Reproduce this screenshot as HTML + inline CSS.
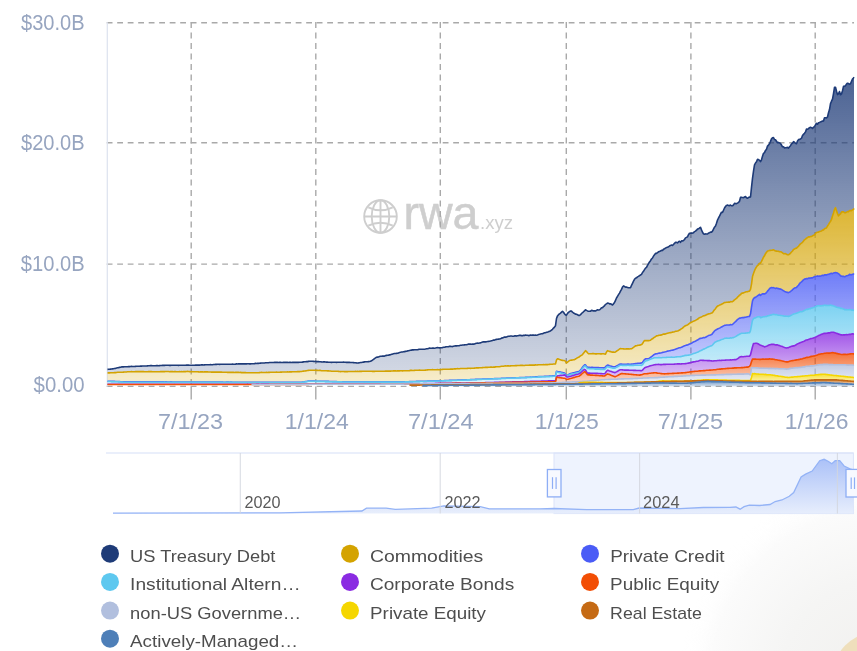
<!DOCTYPE html>
<html><head><meta charset="utf-8"><style>
html,body{margin:0;padding:0;width:857px;height:651px;overflow:hidden;background:#fff}
svg{display:block;font-family:"Liberation Sans",sans-serif;will-change:transform}
.yl{fill:#97a5c0;font-size:22px;text-anchor:end}
.xl{fill:#97a5c0;font-size:22.5px}
.lg{fill:#4e4e4e;font-size:17px}
.sy{fill:#5a5a5a;font-size:16px}
</style></head><body>
<svg width="857" height="651" viewBox="0 0 857 651">
<defs>
<radialGradient id="bgg" cx="880" cy="680" r="200" gradientUnits="userSpaceOnUse"><stop offset="0" stop-color="#f1f0ee"/><stop offset="0.5" stop-color="#f5f5f4"/><stop offset="0.85" stop-color="#fbfbfb"/><stop offset="1" stop-color="#fff" stop-opacity="0"/></radialGradient>
<linearGradient id="slg" x1="0" y1="0" x2="0" y2="1"><stop offset="0" stop-color="#a4bcf7"/><stop offset="1" stop-color="#e6edfc"/></linearGradient>
<linearGradient id="g0" x1="0" y1="0" x2="0" y2="1"><stop offset="0" stop-color="#1e3b78" stop-opacity="0.8"/><stop offset="1" stop-color="#1e3b78" stop-opacity="0.2"/></linearGradient>
<linearGradient id="g1" x1="0" y1="0" x2="0" y2="1"><stop offset="0" stop-color="#d4a300" stop-opacity="0.8"/><stop offset="1" stop-color="#d4a300" stop-opacity="0.2"/></linearGradient>
<linearGradient id="g2" x1="0" y1="0" x2="0" y2="1"><stop offset="0" stop-color="#4a5cf6" stop-opacity="0.8"/><stop offset="1" stop-color="#4a5cf6" stop-opacity="0.2"/></linearGradient>
<linearGradient id="g3" x1="0" y1="0" x2="0" y2="1"><stop offset="0" stop-color="#5ec8ef" stop-opacity="0.8"/><stop offset="1" stop-color="#5ec8ef" stop-opacity="0.2"/></linearGradient>
<linearGradient id="g4" x1="0" y1="0" x2="0" y2="1"><stop offset="0" stop-color="#8a2be2" stop-opacity="0.8"/><stop offset="1" stop-color="#8a2be2" stop-opacity="0.2"/></linearGradient>
<linearGradient id="g5" x1="0" y1="0" x2="0" y2="1"><stop offset="0" stop-color="#f24e05" stop-opacity="0.8"/><stop offset="1" stop-color="#f24e05" stop-opacity="0.2"/></linearGradient>
<linearGradient id="g6" x1="0" y1="0" x2="0" y2="1"><stop offset="0" stop-color="#b1bfde" stop-opacity="0.8"/><stop offset="1" stop-color="#b1bfde" stop-opacity="0.2"/></linearGradient>
<linearGradient id="g7" x1="0" y1="0" x2="0" y2="1"><stop offset="0" stop-color="#f5d600" stop-opacity="0.8"/><stop offset="1" stop-color="#f5d600" stop-opacity="0.2"/></linearGradient>
<linearGradient id="g8" x1="0" y1="0" x2="0" y2="1"><stop offset="0" stop-color="#c56a14" stop-opacity="0.8"/><stop offset="1" stop-color="#c56a14" stop-opacity="0.2"/></linearGradient>
<linearGradient id="g9" x1="0" y1="0" x2="0" y2="1"><stop offset="0" stop-color="#4e7fb8" stop-opacity="0.8"/><stop offset="1" stop-color="#4e7fb8" stop-opacity="0.2"/></linearGradient>
</defs>
<rect x="600" y="420" width="257" height="231" fill="url(#bgg)"/>
<circle cx="880" cy="680" r="49" fill="#efdfbc"/>
<!-- watermark -->
<g fill="none" stroke="#cecece" stroke-width="1.9">
<circle cx="380.5" cy="216.5" r="16.3"/>
<ellipse cx="380.5" cy="216.5" rx="8.8" ry="16.3"/>
<line x1="380.5" y1="200.2" x2="380.5" y2="232.8"/>
<line x1="364.2" y1="216.5" x2="396.8" y2="216.5"/>
<path d="M368.3 207.3 Q380.5 213.2 392.7 207.3 M368.3 225.7 Q380.5 219.8 392.7 225.7"/>
</g>
<text x="403.5" y="228.7" font-size="46" fill="#cecece" stroke="#cecece" stroke-width="0.5" textLength="75" lengthAdjust="spacingAndGlyphs">rwa</text>
<text x="480" y="228.7" font-size="19" fill="#cecece" textLength="33" lengthAdjust="spacingAndGlyphs">.xyz</text>
<!-- grid -->
<g stroke="#a9a9a9" stroke-width="1.4" stroke-dasharray="5.8 4.7"><line x1="106.7" y1="22.7" x2="854" y2="22.7"/><line x1="106.7" y1="142.7" x2="854" y2="142.7"/><line x1="106.7" y1="264.1" x2="854" y2="264.1"/><line x1="106.7" y1="386.4" x2="854" y2="386.4"/><line x1="191.2" y1="22.1" x2="191.2" y2="386.4"/><line x1="315.8" y1="22.1" x2="315.8" y2="386.4"/><line x1="440.3" y1="22.1" x2="440.3" y2="386.4"/><line x1="566.3" y1="22.1" x2="566.3" y2="386.4"/><line x1="690.9" y1="22.1" x2="690.9" y2="386.4"/><line x1="815.2" y1="22.1" x2="815.2" y2="386.4"/></g>
<line x1="107.3" y1="22.3" x2="107.3" y2="386.4" stroke="#dfe4f0" stroke-width="1.3"/>
<g stroke="#a9a9a9" stroke-width="1.4"><line x1="191.2" y1="386.4" x2="191.2" y2="399.6"/><line x1="315.8" y1="386.4" x2="315.8" y2="399.6"/><line x1="440.3" y1="386.4" x2="440.3" y2="399.6"/><line x1="566.3" y1="386.4" x2="566.3" y2="399.6"/><line x1="690.9" y1="386.4" x2="690.9" y2="399.6"/><line x1="815.2" y1="386.4" x2="815.2" y2="399.6"/></g>
<path d="M107.5 369.4 L108.5 369.3 L109.5 369.2 L110.5 369.1 L111.5 369 L112.5 368.9 L113.5 368.8 L114.5 368.5 L115.5 368.4 L116.5 368.1 L117.5 367.7 L118.5 367.6 L119.5 367.4 L120.5 367.2 L121.5 366.9 L122.5 366.9 L123.5 366.9 L124.5 366.8 L125.5 366.8 L126.5 366.8 L127.5 366.7 L128.5 366.6 L129.5 366.6 L130.5 366.5 L131.5 366.4 L132.5 366.5 L133.5 366.5 L134.5 366.5 L135.5 366.4 L136.5 366.3 L137.5 366.2 L138.5 366.3 L139.5 366.2 L140.5 366.1 L141.5 366.1 L142.5 366 L143.5 366 L144.5 366 L145.5 366 L146.5 366 L147.5 365.9 L148.5 365.8 L149.5 365.8 L150.5 365.6 L151.5 365.6 L152.5 365.8 L153.5 365.7 L154.5 365.7 L155.5 365.8 L156.5 365.6 L157.5 365.6 L158.5 365.7 L159.5 365.6 L160.5 365.5 L161.5 365.5 L162.5 365.4 L163.5 365.4 L164.5 365.4 L165.5 365.2 L166.5 365.3 L167.5 365.3 L168.5 365.3 L169.5 365.4 L170.5 365.4 L171.5 365.3 L172.5 365.3 L173.5 365.3 L174.5 365.2 L175.5 365.2 L176.5 365.3 L177.5 365.3 L178.5 365.4 L179.5 365.3 L180.5 365.3 L181.5 365.2 L182.5 365.2 L183.5 365.2 L184.5 365.3 L185.5 365.2 L186.5 365.1 L187.5 365 L188.5 365.1 L189.5 365.2 L190.5 365.3 L191.5 365.2 L192.5 365.3 L193.5 365.2 L194.5 365.2 L195.5 365.1 L196.5 365.1 L197.5 365.1 L198.5 365.1 L199.5 365.1 L200.5 365 L201.5 364.9 L202.5 364.8 L203.5 365 L204.5 364.9 L205.5 364.8 L206.5 364.8 L207.5 364.8 L208.5 364.8 L209.5 364.7 L210.5 364.6 L211.5 364.7 L212.5 364.7 L213.5 364.5 L214.5 364.5 L215.5 364.4 L216.5 364.4 L217.5 364.3 L218.5 364.3 L219.5 364.4 L220.5 364.2 L221.5 364.2 L222.5 364.3 L223.5 364.3 L224.5 364.3 L225.5 364.2 L226.5 364.2 L227.5 364.3 L228.5 364.3 L229.5 364.2 L230.5 364.3 L231.5 364.2 L232.5 364.1 L233.5 364.2 L234.5 364.2 L235.5 364.1 L236.5 363.9 L237.5 364 L238.5 363.9 L239.5 363.9 L240.5 363.9 L241.5 363.9 L242.5 363.9 L243.5 363.9 L244.5 363.8 L245.5 363.9 L246.5 363.9 L247.5 363.8 L248.5 363.8 L249.5 363.9 L250.5 363.9 L251.5 363.8 L252.5 363.8 L253.5 363.7 L254.5 363.6 L255.5 363.4 L256.5 363.5 L257.5 363.4 L258.5 363.4 L259.5 363.3 L260.5 363.1 L261.5 363 L262.5 363 L263.5 363 L264.5 363 L265.5 362.8 L266.5 362.7 L267.5 362.8 L268.5 362.7 L269.5 362.5 L270.5 362.5 L271.5 362.5 L272.5 362.5 L273.5 362.5 L274.5 362.4 L275.5 362.4 L276.5 362.3 L277.5 362.4 L278.5 362.5 L279.5 362.4 L280.5 362.4 L281.5 362.5 L282.5 362.5 L283.5 362.3 L284.5 362.4 L285.5 362.4 L286.5 362.4 L287.5 362.4 L288.5 362.5 L289.5 362.4 L290.5 362.4 L291.5 362.5 L292.5 362.4 L293.5 362.3 L294.5 362.4 L295.5 362.4 L296.5 362.4 L297.5 362.4 L298.5 362.4 L299.5 362.3 L300.5 362.3 L301.5 362.3 L302.5 362.1 L303.5 361.9 L304.5 361.8 L305.5 361.8 L306.5 361.6 L307.5 361.6 L308.5 361.4 L309.5 361.3 L310.5 361.3 L311.5 361.3 L312.5 361.3 L313.5 361.4 L314.5 361.5 L315.5 361.4 L316.5 361.6 L317.5 361.6 L318.5 361.6 L319.5 361.7 L320.5 361.7 L321.5 361.9 L322.5 362 L323.5 361.9 L324.5 361.9 L325.5 362 L326.5 362.1 L327.5 362.1 L328.5 362.2 L329.5 362.3 L330.5 362.2 L331.5 362.4 L332.5 362.2 L333.5 362.3 L334.5 362.3 L335.5 362.3 L336.5 362.4 L337.5 362.3 L338.5 362.3 L339.5 362.3 L340.5 362.3 L341.5 362.2 L342.5 362.2 L343.5 362.1 L344.5 362.2 L345.5 362.2 L346.5 362.4 L347.5 362.4 L348.5 362.4 L349.5 362.4 L350.5 362.5 L351.5 362.5 L352.5 362.5 L353.5 362.6 L354.5 362.8 L355.5 362.7 L356.5 362.9 L357.5 363 L358.5 362.9 L359.5 362.7 L360.5 362.5 L361.5 362.5 L362.5 362.3 L363.5 362.1 L364.5 361.9 L365.5 361.8 L366.5 361.8 L367.5 361.8 L368.5 361.6 L369.5 361.5 L370.5 361.3 L371.5 360.8 L372.5 360.1 L373.5 359.4 L374.5 358.6 L375.5 357.9 L376.5 357.3 L377.5 357.1 L378.5 357 L379.5 356.6 L380.5 356.3 L381.5 356.3 L382.5 356.1 L383.5 356 L384.5 356.1 L385.5 355.6 L386.5 355.4 L387.5 355.2 L388.5 355.1 L389.5 354.9 L390.5 354.7 L391.5 354.3 L392.5 354.1 L393.5 353.8 L394.5 353.5 L395.5 353.5 L396.5 353.4 L397.5 353.3 L398.5 352.9 L399.5 352.5 L400.5 352.3 L401.5 352 L402.5 352 L403.5 351.8 L404.5 351.6 L405.5 351.4 L406.5 351.3 L407.5 350.9 L408.5 350.7 L409.5 350.5 L410.5 350.3 L411.5 350.1 L412.5 349.9 L413.5 349.9 L414.5 349.8 L415.5 349.7 L416.5 349.8 L417.5 349.7 L418.5 349.4 L419.5 349.3 L420.5 349.3 L421.5 349.3 L422.5 349.2 L423.5 349.3 L424.5 349.2 L425.5 349 L426.5 348.7 L427.5 348.7 L428.5 348.4 L429.5 348.1 L430.5 348.3 L431.5 348.2 L432.5 348.1 L433.5 348.1 L434.5 348.2 L435.5 348 L436.5 347.7 L437.5 347.6 L438.5 347.8 L439.5 347.9 L440.5 347.7 L441.5 347.7 L442.5 347.6 L443.5 347.2 L444.5 347.3 L445.5 346.9 L446.5 346.8 L447.5 346.7 L448.5 346.7 L449.5 346.3 L450.5 346.4 L451.5 346.5 L452.5 346.6 L453.5 346.3 L454.5 346 L455.5 345.9 L456.5 345.9 L457.5 345.7 L458.5 345.8 L459.5 345.6 L460.5 345.3 L461.5 345.2 L462.5 345 L463.5 345 L464.5 344.9 L465.5 344.8 L466.5 344.7 L467.5 344.4 L468.5 344.1 L469.5 344.1 L470.5 344.1 L471.5 344.2 L472.5 344 L473.5 344.1 L474.5 344 L475.5 343.5 L476.5 343.2 L477.5 343.1 L478.5 343.2 L479.5 343 L480.5 342.9 L481.5 342.4 L482.5 342 L483.5 341.8 L484.5 341.9 L485.5 341.9 L486.5 341.7 L487.5 341.5 L488.5 341.4 L489.5 341.2 L490.5 341 L491.5 340.7 L492.5 340.5 L493.5 340.1 L494.5 340.1 L495.5 339.6 L496.5 339.4 L497.5 339.2 L498.5 339.1 L499.5 339 L500.5 338.8 L501.5 338.1 L502.5 337.9 L503.5 337.5 L504.5 337 L505.5 337.1 L506.5 337 L507.5 336.6 L508.5 336.3 L509.5 336.3 L510.5 336 L511.5 336 L512.5 336.2 L513.5 336.3 L514.5 335.9 L515.5 335.7 L516.5 336.1 L517.5 335.7 L518.5 335.6 L519.5 335.3 L520.5 335.4 L521.5 335.6 L522.5 335.8 L523.5 335.3 L524.5 335.4 L525.5 335.1 L526.5 335.3 L527.5 335.3 L528.5 335.6 L529.5 335.4 L530.5 335 L531.5 335.3 L532.5 335 L533.5 335.1 L534.5 335.3 L535.5 335.1 L536.5 335.2 L537.5 334.9 L538.5 334.5 L539.5 334.3 L540.5 334 L541.5 333.8 L542.5 333.7 L543.5 333.2 L544.5 332.8 L545.5 332.7 L546.5 332.3 L547.5 332.1 L548.5 331.8 L549.5 331.2 L550.5 330.9 L551.5 330.1 L552.5 329.3 L553.5 328.1 L554.5 327.1 L555.5 325.7 L556.5 318.5 L557.5 315.9 L558.5 314.7 L559.5 313.8 L560.5 313.1 L561.5 312.2 L562.5 311.3 L563.5 312.3 L564.5 313.8 L565.5 314.9 L566.5 315.1 L567.5 313.4 L568.5 312.4 L569.5 311.6 L570.5 311 L571.5 311.1 L572.5 312.2 L573.5 313 L574.5 313.5 L575.5 314.1 L576.5 314.3 L577.5 314.8 L578.5 315.4 L579.5 315.5 L580.5 314.7 L581.5 313.5 L582.5 312.7 L583.5 311.7 L584.5 310.9 L585.5 309.8 L586.5 310.4 L587.5 310.9 L588.5 311.3 L589.5 311.2 L590.5 311.2 L591.5 310.4 L592.5 310.6 L593.5 310.9 L594.5 310.8 L595.5 311 L596.5 310.4 L597.5 309.8 L598.5 310 L599.5 309.8 L600.5 309 L601.5 307.7 L602.5 307.8 L603.5 306.5 L604.5 305.8 L605.5 304.4 L606.5 303.9 L607.5 303.1 L608.5 303.2 L609.5 303.9 L610.5 303.8 L611.5 304.3 L612.5 305 L613.5 303.9 L614.5 302.5 L615.5 300.3 L616.5 298 L617.5 296.3 L618.5 294.6 L619.5 293.1 L620.5 291.2 L621.5 289.4 L622.5 287.1 L623.5 285.9 L624.5 286.5 L625.5 287.1 L626.5 287.1 L627.5 287.4 L628.5 287.7 L629.5 287.7 L630.5 287.7 L631.5 285.3 L632.5 283.3 L633.5 281.2 L634.5 279.3 L635.5 278.2 L636.5 277.8 L637.5 276.9 L638.5 276.4 L639.5 275.6 L640.5 275 L641.5 274.4 L642.5 272.5 L643.5 271.3 L644.5 269.7 L645.5 268.1 L646.5 267.4 L647.5 265.4 L648.5 263.7 L649.5 262 L650.5 260.7 L651.5 259 L652.5 258 L653.5 256.1 L654.5 254.7 L655.5 253.4 L656.5 253.4 L657.5 252.6 L658.5 251.8 L659.5 251.4 L660.5 251.1 L661.5 250.3 L662.5 250.5 L663.5 249.2 L664.5 248.7 L665.5 248.1 L666.5 247.5 L667.5 247.3 L668.5 246.8 L669.5 246 L670.5 245.4 L671.5 245.1 L672.5 245.4 L673.5 244.5 L674.5 243.3 L675.5 242.4 L676.5 242.4 L677.5 242.9 L678.5 241.7 L679.5 241.2 L680.5 242.3 L681.5 240.9 L682.5 241 L683.5 240.5 L684.5 239.5 L685.5 237.9 L686.5 237.4 L687.5 236.8 L688.5 234.7 L689.5 233.2 L690.5 233.2 L691.5 233.1 L692.5 233.1 L693.5 232.8 L694.5 231.6 L695.5 231.1 L696.5 230.2 L697.5 229.1 L698.5 228.8 L699.5 228 L700.5 227.3 L701.5 229.9 L702.5 232.2 L703.5 233.7 L704.5 234.3 L705.5 233.9 L706.5 234 L707.5 234 L708.5 233.1 L709.5 232.7 L710.5 232.1 L711.5 232.1 L712.5 231.1 L713.5 229.2 L714.5 227.2 L715.5 226 L716.5 223.2 L717.5 220.1 L718.5 218 L719.5 216.2 L720.5 214.2 L721.5 212.2 L722.5 212.5 L723.5 210.2 L724.5 208 L725.5 206.5 L726.5 205.4 L727.5 205.1 L728.5 205.4 L729.5 205.7 L730.5 205 L731.5 205.8 L732.5 205.8 L733.5 204.9 L734.5 203.3 L735.5 203.6 L736.5 203.6 L737.5 203.1 L738.5 202.4 L739.5 201.2 L740.5 197.4 L741.5 197.2 L742.5 197.5 L743.5 197.7 L744.5 197 L745.5 196.6 L746.5 197.8 L747.5 198.3 L748.5 197.5 L749.5 197.1 L750.5 197 L751.5 187.4 L752.5 178.3 L753.5 171.1 L754.5 164.9 L755.5 163 L756.5 161.8 L757.5 159.4 L758.5 159.5 L759.5 160.3 L760.5 161.6 L761.5 159.8 L762.5 156.3 L763.5 153.3 L764.5 152.6 L765.5 150.4 L766.5 149.2 L767.5 146.1 L768.5 145.1 L769.5 143.7 L770.5 141.4 L771.5 138.9 L772.5 137.8 L773.5 137.6 L774.5 139.5 L775.5 139.8 L776.5 141.2 L777.5 142.7 L778.5 142.4 L779.5 142.9 L780.5 143.5 L781.5 145 L782.5 146.8 L783.5 146.8 L784.5 147.9 L785.5 147.7 L786.5 147.6 L787.5 147.4 L788.5 148.1 L789.5 146.7 L790.5 145.7 L791.5 143.9 L792.5 143.3 L793.5 141.7 L794.5 142.3 L795.5 143.3 L796.5 143.7 L797.5 141 L798.5 139.6 L799.5 139.4 L800.5 139 L801.5 138.2 L802.5 135.5 L803.5 134.4 L804.5 133.3 L805.5 131.9 L806.5 129 L807.5 129.2 L808.5 128.6 L809.5 127.7 L810.5 127.3 L811.5 127.7 L812.5 128.4 L813.5 127.2 L814.5 126.6 L815.5 124.8 L816.5 123.3 L817.5 124.2 L818.5 122.7 L819.5 122.4 L820.5 121.9 L821.5 121.5 L822.5 121.1 L823.5 120.9 L824.5 117.7 L825.5 117.8 L826.5 117.9 L827.5 117 L828.5 112.8 L829.5 109.6 L830.5 103.6 L831.5 101.2 L832.5 99.1 L833.5 93.6 L834.5 87.4 L835.5 87.3 L836.5 91.2 L837.5 94.6 L838.5 93.9 L839.5 91.5 L840.5 94.8 L841.5 93.9 L842.5 90.8 L843.5 86.4 L844.5 86.2 L845.5 85.7 L846.5 84.1 L847.5 83.2 L848.5 83.6 L849.5 84.2 L850.5 83.8 L851.5 81.4 L852.5 79.1 L853.5 77.9 L854 77.1 L854 208.4 L853.5 209.3 L852.5 209.9 L851.5 210.6 L850.5 210.6 L849.5 210.6 L848.5 211.7 L847.5 211.6 L846.5 212.1 L845.5 212.7 L844.5 212.6 L843.5 211.9 L842.5 211.7 L841.5 212 L840.5 213.9 L839.5 214.7 L838.5 215.8 L837.5 213.6 L836.5 210.9 L835.5 207.7 L834.5 209.6 L833.5 213 L832.5 216.1 L831.5 219.3 L830.5 221.4 L829.5 222.8 L828.5 224.6 L827.5 226 L826.5 228 L825.5 228.2 L824.5 228.7 L823.5 229.9 L822.5 230.1 L821.5 231 L820.5 231.2 L819.5 231.5 L818.5 232.1 L817.5 232.2 L816.5 232.5 L815.5 233.5 L814.5 235 L813.5 235.3 L812.5 235.9 L811.5 236.5 L810.5 236.5 L809.5 236.9 L808.5 236.9 L807.5 237.7 L806.5 238.1 L805.5 239.1 L804.5 239.8 L803.5 241.1 L802.5 242.2 L801.5 243.2 L800.5 243.9 L799.5 244.9 L798.5 246.4 L797.5 247.1 L796.5 248.2 L795.5 248.4 L794.5 249 L793.5 249.5 L792.5 251 L791.5 252 L790.5 253.1 L789.5 254.1 L788.5 254.7 L787.5 254.7 L786.5 254.2 L785.5 253.6 L784.5 253.8 L783.5 253.6 L782.5 252.9 L781.5 252 L780.5 251.7 L779.5 251.8 L778.5 251.2 L777.5 251.3 L776.5 251.1 L775.5 251 L774.5 250.5 L773.5 249.7 L772.5 250.1 L771.5 250.3 L770.5 250.4 L769.5 250.4 L768.5 250.8 L767.5 251.1 L766.5 252.2 L765.5 253.7 L764.5 255.8 L763.5 257.2 L762.5 259.3 L761.5 261.4 L760.5 263.1 L759.5 263.3 L758.5 264.8 L757.5 265.5 L756.5 266.9 L755.5 268.5 L754.5 270.8 L753.5 273.6 L752.5 276.6 L751.5 284.1 L750.5 289.4 L749.5 291.2 L748.5 291.2 L747.5 291.7 L746.5 291.8 L745.5 292.1 L744.5 292.4 L743.5 292.9 L742.5 293.1 L741.5 293.3 L740.5 294.7 L739.5 295.1 L738.5 296.4 L737.5 297.2 L736.5 298.4 L735.5 299.1 L734.5 299.8 L733.5 300.9 L732.5 301.6 L731.5 301.8 L730.5 301.6 L729.5 302.2 L728.5 302 L727.5 302.2 L726.5 302.3 L725.5 302.5 L724.5 302.5 L723.5 303.1 L722.5 303.8 L721.5 304.2 L720.5 304.7 L719.5 305 L718.5 305.8 L717.5 306.1 L716.5 307.1 L715.5 308.7 L714.5 309.8 L713.5 311.1 L712.5 312.7 L711.5 313 L710.5 313.5 L709.5 313.7 L708.5 313.9 L707.5 314.2 L706.5 314.8 L705.5 315.3 L704.5 315.8 L703.5 315.8 L702.5 316.4 L701.5 316.9 L700.5 317.3 L699.5 317.7 L698.5 318.4 L697.5 319.3 L696.5 319.7 L695.5 320.5 L694.5 320.7 L693.5 321.2 L692.5 321.6 L691.5 322.3 L690.5 322.8 L689.5 323.3 L688.5 324.1 L687.5 325 L686.5 325.2 L685.5 325.7 L684.5 326.2 L683.5 327.2 L682.5 328.1 L681.5 328.7 L680.5 329.5 L679.5 330 L678.5 330.7 L677.5 331 L676.5 331.3 L675.5 331.3 L674.5 331.7 L673.5 332 L672.5 332.1 L671.5 332.5 L670.5 332.6 L669.5 332.8 L668.5 333 L667.5 333.2 L666.5 333.6 L665.5 333.9 L664.5 334.1 L663.5 334.1 L662.5 334.5 L661.5 334.9 L660.5 335.1 L659.5 335.3 L658.5 335.4 L657.5 335.7 L656.5 335.9 L655.5 336.6 L654.5 337.3 L653.5 337.9 L652.5 338.8 L651.5 339.3 L650.5 340.3 L649.5 340.5 L648.5 340.6 L647.5 340.6 L646.5 340.5 L645.5 340.6 L644.5 340.5 L643.5 341.9 L642.5 343.7 L641.5 344.6 L640.5 344.9 L639.5 345.1 L638.5 345.2 L637.5 345.4 L636.5 345.7 L635.5 345.9 L634.5 346.7 L633.5 347.4 L632.5 348.1 L631.5 348.8 L630.5 348.8 L629.5 349 L628.5 348.9 L627.5 348.9 L626.5 348.9 L625.5 349 L624.5 349 L623.5 348.9 L622.5 348.8 L621.5 348.7 L620.5 348.6 L619.5 349 L618.5 349.8 L617.5 350.5 L616.5 351.1 L615.5 352 L614.5 352.3 L613.5 352.1 L612.5 352.1 L611.5 352 L610.5 351.6 L609.5 351.4 L608.5 351.1 L607.5 350.6 L606.5 352 L605.5 354.1 L604.5 354 L603.5 353.8 L602.5 353.8 L601.5 353.9 L600.5 353.9 L599.5 353.8 L598.5 353.8 L597.5 353.8 L596.5 353.9 L595.5 353.9 L594.5 353.7 L593.5 353.6 L592.5 353.6 L591.5 353.7 L590.5 353.8 L589.5 353.7 L588.5 353.8 L587.5 352.8 L586.5 351.6 L585.5 350.7 L584.5 352 L583.5 353.3 L582.5 354.6 L581.5 355.3 L580.5 355.9 L579.5 356.7 L578.5 357.3 L577.5 357.7 L576.5 358.4 L575.5 359 L574.5 359.7 L573.5 359.8 L572.5 360 L571.5 360.1 L570.5 360.3 L569.5 360.5 L568.5 361.4 L567.5 362.1 L566.5 363 L565.5 361.3 L564.5 360.5 L563.5 360.5 L562.5 360.4 L561.5 360.3 L560.5 359.8 L559.5 359.5 L558.5 359 L557.5 358.8 L556.5 360 L555.5 363.9 L554.5 364 L553.5 364 L552.5 364.2 L551.5 364.3 L550.5 364.3 L549.5 364.4 L548.5 364.5 L547.5 364.6 L546.5 364.6 L545.5 364.6 L544.5 364.7 L543.5 364.6 L542.5 364.7 L541.5 364.7 L540.5 364.7 L539.5 364.7 L538.5 364.7 L537.5 364.9 L536.5 365 L535.5 364.9 L534.5 365.1 L533.5 365.1 L532.5 365.1 L531.5 365.1 L530.5 365 L529.5 365.1 L528.5 365.2 L527.5 365.3 L526.5 365.3 L525.5 365.3 L524.5 365.5 L523.5 365.5 L522.5 365.4 L521.5 365.4 L520.5 365.4 L519.5 365.5 L518.5 365.5 L517.5 365.5 L516.5 365.6 L515.5 365.5 L514.5 365.7 L513.5 365.8 L512.5 365.8 L511.5 365.8 L510.5 365.9 L509.5 366 L508.5 365.9 L507.5 365.9 L506.5 366 L505.5 365.9 L504.5 366 L503.5 366.2 L502.5 366.3 L501.5 366.3 L500.5 366.5 L499.5 366.7 L498.5 366.7 L497.5 366.7 L496.5 366.7 L495.5 366.9 L494.5 367.1 L493.5 367.1 L492.5 367.2 L491.5 367.1 L490.5 367.1 L489.5 367.2 L488.5 367.3 L487.5 367.4 L486.5 367.4 L485.5 367.4 L484.5 367.5 L483.5 367.5 L482.5 367.6 L481.5 367.7 L480.5 367.8 L479.5 367.8 L478.5 367.9 L477.5 367.9 L476.5 367.9 L475.5 368 L474.5 368.1 L473.5 368.2 L472.5 368.2 L471.5 368.3 L470.5 368.4 L469.5 368.3 L468.5 368.3 L467.5 368.4 L466.5 368.5 L465.5 368.5 L464.5 368.5 L463.5 368.5 L462.5 368.5 L461.5 368.5 L460.5 368.5 L459.5 368.7 L458.5 368.8 L457.5 368.6 L456.5 368.7 L455.5 368.9 L454.5 368.9 L453.5 369 L452.5 369.1 L451.5 369.1 L450.5 369.1 L449.5 369.2 L448.5 369.2 L447.5 369.2 L446.5 369.3 L445.5 369.2 L444.5 369.3 L443.5 369.3 L442.5 369.4 L441.5 369.5 L440.5 369.6 L439.5 369.7 L438.5 369.7 L437.5 369.5 L436.5 369.7 L435.5 369.7 L434.5 369.7 L433.5 369.7 L432.5 369.6 L431.5 369.7 L430.5 369.8 L429.5 369.7 L428.5 369.8 L427.5 369.9 L426.5 370 L425.5 370.1 L424.5 370.3 L423.5 370.2 L422.5 370.3 L421.5 370.2 L420.5 370.2 L419.5 370.1 L418.5 370.2 L417.5 370.3 L416.5 370.3 L415.5 370.3 L414.5 370.4 L413.5 370.5 L412.5 370.5 L411.5 370.4 L410.5 370.4 L409.5 370.6 L408.5 370.7 L407.5 370.7 L406.5 370.7 L405.5 370.7 L404.5 370.7 L403.5 370.8 L402.5 370.9 L401.5 370.7 L400.5 370.8 L399.5 370.9 L398.5 370.9 L397.5 370.9 L396.5 371 L395.5 370.9 L394.5 370.9 L393.5 370.9 L392.5 371 L391.5 371 L390.5 371.1 L389.5 371.1 L388.5 371.1 L387.5 371.1 L386.5 371.1 L385.5 371.1 L384.5 371.3 L383.5 371.3 L382.5 371.2 L381.5 371.3 L380.5 371.2 L379.5 371.2 L378.5 371.2 L377.5 371.3 L376.5 371.3 L375.5 371.3 L374.5 371.4 L373.5 371.3 L372.5 371.4 L371.5 371.3 L370.5 371.2 L369.5 371.3 L368.5 371.3 L367.5 371.3 L366.5 371.3 L365.5 371.2 L364.5 371.2 L363.5 371.3 L362.5 371.3 L361.5 371.4 L360.5 371.4 L359.5 371.4 L358.5 371.5 L357.5 371.4 L356.5 371.5 L355.5 371.4 L354.5 371.5 L353.5 371.5 L352.5 371.5 L351.5 371.5 L350.5 371.5 L349.5 371.5 L348.5 371.5 L347.5 371.6 L346.5 371.6 L345.5 371.5 L344.5 371.6 L343.5 371.5 L342.5 371.5 L341.5 371.5 L340.5 371.6 L339.5 371.5 L338.5 371.4 L337.5 371.3 L336.5 371.3 L335.5 371.2 L334.5 371.2 L333.5 371.2 L332.5 371.2 L331.5 371.2 L330.5 371 L329.5 371 L328.5 370.9 L327.5 370.9 L326.5 370.8 L325.5 370.8 L324.5 370.7 L323.5 370.7 L322.5 370.8 L321.5 370.7 L320.5 370.4 L319.5 370.4 L318.5 370.5 L317.5 370.4 L316.5 370.4 L315.5 370.3 L314.5 370.3 L313.5 370.3 L312.5 370.3 L311.5 370.3 L310.5 370.2 L309.5 370.3 L308.5 370.4 L307.5 370.5 L306.5 370.7 L305.5 370.9 L304.5 371 L303.5 371.1 L302.5 371.3 L301.5 371.5 L300.5 371.5 L299.5 371.6 L298.5 371.6 L297.5 371.6 L296.5 371.7 L295.5 371.8 L294.5 371.8 L293.5 371.8 L292.5 371.8 L291.5 371.9 L290.5 371.9 L289.5 371.9 L288.5 372 L287.5 371.9 L286.5 372 L285.5 372 L284.5 372 L283.5 372 L282.5 372 L281.5 372.1 L280.5 372.1 L279.5 372.2 L278.5 372.3 L277.5 372.2 L276.5 372.1 L275.5 372.2 L274.5 372.2 L273.5 372.3 L272.5 372.3 L271.5 372.3 L270.5 372.3 L269.5 372.4 L268.5 372.4 L267.5 372.5 L266.5 372.4 L265.5 372.5 L264.5 372.5 L263.5 372.5 L262.5 372.5 L261.5 372.4 L260.5 372.5 L259.5 372.6 L258.5 372.7 L257.5 372.7 L256.5 372.8 L255.5 372.7 L254.5 372.8 L253.5 372.8 L252.5 372.8 L251.5 372.8 L250.5 372.8 L249.5 372.8 L248.5 372.7 L247.5 372.7 L246.5 372.7 L245.5 372.6 L244.5 372.6 L243.5 372.6 L242.5 372.6 L241.5 372.6 L240.5 372.4 L239.5 372.5 L238.5 372.4 L237.5 372.4 L236.5 372.3 L235.5 372.4 L234.5 372.5 L233.5 372.4 L232.5 372.4 L231.5 372.3 L230.5 372.4 L229.5 372.4 L228.5 372.4 L227.5 372.4 L226.5 372.3 L225.5 372.2 L224.5 372.3 L223.5 372.3 L222.5 372.2 L221.5 372.1 L220.5 372 L219.5 372.1 L218.5 372.1 L217.5 372.1 L216.5 372.1 L215.5 372 L214.5 372.1 L213.5 372.1 L212.5 372.1 L211.5 372.1 L210.5 372 L209.5 372 L208.5 372 L207.5 371.9 L206.5 371.9 L205.5 371.9 L204.5 371.9 L203.5 372 L202.5 371.9 L201.5 371.9 L200.5 371.9 L199.5 372 L198.5 371.9 L197.5 371.8 L196.5 371.8 L195.5 371.8 L194.5 371.7 L193.5 371.7 L192.5 371.7 L191.5 371.6 L190.5 371.7 L189.5 371.6 L188.5 371.5 L187.5 371.4 L186.5 371.5 L185.5 371.6 L184.5 371.6 L183.5 371.6 L182.5 371.7 L181.5 371.6 L180.5 371.7 L179.5 371.6 L178.5 371.7 L177.5 371.7 L176.5 371.7 L175.5 371.6 L174.5 371.6 L173.5 371.7 L172.5 371.6 L171.5 371.6 L170.5 371.6 L169.5 371.7 L168.5 371.5 L167.5 371.5 L166.5 371.5 L165.5 371.5 L164.5 371.6 L163.5 371.6 L162.5 371.6 L161.5 371.6 L160.5 371.6 L159.5 371.7 L158.5 371.8 L157.5 371.7 L156.5 371.7 L155.5 371.7 L154.5 371.7 L153.5 371.7 L152.5 371.7 L151.5 371.6 L150.5 371.5 L149.5 371.6 L148.5 371.6 L147.5 371.7 L146.5 371.7 L145.5 371.7 L144.5 371.7 L143.5 371.6 L142.5 371.6 L141.5 371.6 L140.5 371.6 L139.5 371.6 L138.5 371.6 L137.5 371.5 L136.5 371.6 L135.5 371.6 L134.5 371.7 L133.5 371.7 L132.5 371.7 L131.5 371.6 L130.5 371.7 L129.5 371.8 L128.5 371.8 L127.5 371.8 L126.5 372 L125.5 372 L124.5 372 L123.5 372.1 L122.5 372.2 L121.5 372.2 L120.5 372.3 L119.5 372.3 L118.5 372.3 L117.5 372.3 L116.5 372.5 L115.5 372.6 L114.5 372.6 L113.5 372.7 L112.5 372.7 L111.5 372.8 L110.5 372.8 L109.5 372.9 L108.5 372.9 L107.5 373Z" fill="url(#g0)"/>
<path d="M107.5 369.4 L108.5 369.3 L109.5 369.2 L110.5 369.1 L111.5 369 L112.5 368.9 L113.5 368.8 L114.5 368.5 L115.5 368.4 L116.5 368.1 L117.5 367.7 L118.5 367.6 L119.5 367.4 L120.5 367.2 L121.5 366.9 L122.5 366.9 L123.5 366.9 L124.5 366.8 L125.5 366.8 L126.5 366.8 L127.5 366.7 L128.5 366.6 L129.5 366.6 L130.5 366.5 L131.5 366.4 L132.5 366.5 L133.5 366.5 L134.5 366.5 L135.5 366.4 L136.5 366.3 L137.5 366.2 L138.5 366.3 L139.5 366.2 L140.5 366.1 L141.5 366.1 L142.5 366 L143.5 366 L144.5 366 L145.5 366 L146.5 366 L147.5 365.9 L148.5 365.8 L149.5 365.8 L150.5 365.6 L151.5 365.6 L152.5 365.8 L153.5 365.7 L154.5 365.7 L155.5 365.8 L156.5 365.6 L157.5 365.6 L158.5 365.7 L159.5 365.6 L160.5 365.5 L161.5 365.5 L162.5 365.4 L163.5 365.4 L164.5 365.4 L165.5 365.2 L166.5 365.3 L167.5 365.3 L168.5 365.3 L169.5 365.4 L170.5 365.4 L171.5 365.3 L172.5 365.3 L173.5 365.3 L174.5 365.2 L175.5 365.2 L176.5 365.3 L177.5 365.3 L178.5 365.4 L179.5 365.3 L180.5 365.3 L181.5 365.2 L182.5 365.2 L183.5 365.2 L184.5 365.3 L185.5 365.2 L186.5 365.1 L187.5 365 L188.5 365.1 L189.5 365.2 L190.5 365.3 L191.5 365.2 L192.5 365.3 L193.5 365.2 L194.5 365.2 L195.5 365.1 L196.5 365.1 L197.5 365.1 L198.5 365.1 L199.5 365.1 L200.5 365 L201.5 364.9 L202.5 364.8 L203.5 365 L204.5 364.9 L205.5 364.8 L206.5 364.8 L207.5 364.8 L208.5 364.8 L209.5 364.7 L210.5 364.6 L211.5 364.7 L212.5 364.7 L213.5 364.5 L214.5 364.5 L215.5 364.4 L216.5 364.4 L217.5 364.3 L218.5 364.3 L219.5 364.4 L220.5 364.2 L221.5 364.2 L222.5 364.3 L223.5 364.3 L224.5 364.3 L225.5 364.2 L226.5 364.2 L227.5 364.3 L228.5 364.3 L229.5 364.2 L230.5 364.3 L231.5 364.2 L232.5 364.1 L233.5 364.2 L234.5 364.2 L235.5 364.1 L236.5 363.9 L237.5 364 L238.5 363.9 L239.5 363.9 L240.5 363.9 L241.5 363.9 L242.5 363.9 L243.5 363.9 L244.5 363.8 L245.5 363.9 L246.5 363.9 L247.5 363.8 L248.5 363.8 L249.5 363.9 L250.5 363.9 L251.5 363.8 L252.5 363.8 L253.5 363.7 L254.5 363.6 L255.5 363.4 L256.5 363.5 L257.5 363.4 L258.5 363.4 L259.5 363.3 L260.5 363.1 L261.5 363 L262.5 363 L263.5 363 L264.5 363 L265.5 362.8 L266.5 362.7 L267.5 362.8 L268.5 362.7 L269.5 362.5 L270.5 362.5 L271.5 362.5 L272.5 362.5 L273.5 362.5 L274.5 362.4 L275.5 362.4 L276.5 362.3 L277.5 362.4 L278.5 362.5 L279.5 362.4 L280.5 362.4 L281.5 362.5 L282.5 362.5 L283.5 362.3 L284.5 362.4 L285.5 362.4 L286.5 362.4 L287.5 362.4 L288.5 362.5 L289.5 362.4 L290.5 362.4 L291.5 362.5 L292.5 362.4 L293.5 362.3 L294.5 362.4 L295.5 362.4 L296.5 362.4 L297.5 362.4 L298.5 362.4 L299.5 362.3 L300.5 362.3 L301.5 362.3 L302.5 362.1 L303.5 361.9 L304.5 361.8 L305.5 361.8 L306.5 361.6 L307.5 361.6 L308.5 361.4 L309.5 361.3 L310.5 361.3 L311.5 361.3 L312.5 361.3 L313.5 361.4 L314.5 361.5 L315.5 361.4 L316.5 361.6 L317.5 361.6 L318.5 361.6 L319.5 361.7 L320.5 361.7 L321.5 361.9 L322.5 362 L323.5 361.9 L324.5 361.9 L325.5 362 L326.5 362.1 L327.5 362.1 L328.5 362.2 L329.5 362.3 L330.5 362.2 L331.5 362.4 L332.5 362.2 L333.5 362.3 L334.5 362.3 L335.5 362.3 L336.5 362.4 L337.5 362.3 L338.5 362.3 L339.5 362.3 L340.5 362.3 L341.5 362.2 L342.5 362.2 L343.5 362.1 L344.5 362.2 L345.5 362.2 L346.5 362.4 L347.5 362.4 L348.5 362.4 L349.5 362.4 L350.5 362.5 L351.5 362.5 L352.5 362.5 L353.5 362.6 L354.5 362.8 L355.5 362.7 L356.5 362.9 L357.5 363 L358.5 362.9 L359.5 362.7 L360.5 362.5 L361.5 362.5 L362.5 362.3 L363.5 362.1 L364.5 361.9 L365.5 361.8 L366.5 361.8 L367.5 361.8 L368.5 361.6 L369.5 361.5 L370.5 361.3 L371.5 360.8 L372.5 360.1 L373.5 359.4 L374.5 358.6 L375.5 357.9 L376.5 357.3 L377.5 357.1 L378.5 357 L379.5 356.6 L380.5 356.3 L381.5 356.3 L382.5 356.1 L383.5 356 L384.5 356.1 L385.5 355.6 L386.5 355.4 L387.5 355.2 L388.5 355.1 L389.5 354.9 L390.5 354.7 L391.5 354.3 L392.5 354.1 L393.5 353.8 L394.5 353.5 L395.5 353.5 L396.5 353.4 L397.5 353.3 L398.5 352.9 L399.5 352.5 L400.5 352.3 L401.5 352 L402.5 352 L403.5 351.8 L404.5 351.6 L405.5 351.4 L406.5 351.3 L407.5 350.9 L408.5 350.7 L409.5 350.5 L410.5 350.3 L411.5 350.1 L412.5 349.9 L413.5 349.9 L414.5 349.8 L415.5 349.7 L416.5 349.8 L417.5 349.7 L418.5 349.4 L419.5 349.3 L420.5 349.3 L421.5 349.3 L422.5 349.2 L423.5 349.3 L424.5 349.2 L425.5 349 L426.5 348.7 L427.5 348.7 L428.5 348.4 L429.5 348.1 L430.5 348.3 L431.5 348.2 L432.5 348.1 L433.5 348.1 L434.5 348.2 L435.5 348 L436.5 347.7 L437.5 347.6 L438.5 347.8 L439.5 347.9 L440.5 347.7 L441.5 347.7 L442.5 347.6 L443.5 347.2 L444.5 347.3 L445.5 346.9 L446.5 346.8 L447.5 346.7 L448.5 346.7 L449.5 346.3 L450.5 346.4 L451.5 346.5 L452.5 346.6 L453.5 346.3 L454.5 346 L455.5 345.9 L456.5 345.9 L457.5 345.7 L458.5 345.8 L459.5 345.6 L460.5 345.3 L461.5 345.2 L462.5 345 L463.5 345 L464.5 344.9 L465.5 344.8 L466.5 344.7 L467.5 344.4 L468.5 344.1 L469.5 344.1 L470.5 344.1 L471.5 344.2 L472.5 344 L473.5 344.1 L474.5 344 L475.5 343.5 L476.5 343.2 L477.5 343.1 L478.5 343.2 L479.5 343 L480.5 342.9 L481.5 342.4 L482.5 342 L483.5 341.8 L484.5 341.9 L485.5 341.9 L486.5 341.7 L487.5 341.5 L488.5 341.4 L489.5 341.2 L490.5 341 L491.5 340.7 L492.5 340.5 L493.5 340.1 L494.5 340.1 L495.5 339.6 L496.5 339.4 L497.5 339.2 L498.5 339.1 L499.5 339 L500.5 338.8 L501.5 338.1 L502.5 337.9 L503.5 337.5 L504.5 337 L505.5 337.1 L506.5 337 L507.5 336.6 L508.5 336.3 L509.5 336.3 L510.5 336 L511.5 336 L512.5 336.2 L513.5 336.3 L514.5 335.9 L515.5 335.7 L516.5 336.1 L517.5 335.7 L518.5 335.6 L519.5 335.3 L520.5 335.4 L521.5 335.6 L522.5 335.8 L523.5 335.3 L524.5 335.4 L525.5 335.1 L526.5 335.3 L527.5 335.3 L528.5 335.6 L529.5 335.4 L530.5 335 L531.5 335.3 L532.5 335 L533.5 335.1 L534.5 335.3 L535.5 335.1 L536.5 335.2 L537.5 334.9 L538.5 334.5 L539.5 334.3 L540.5 334 L541.5 333.8 L542.5 333.7 L543.5 333.2 L544.5 332.8 L545.5 332.7 L546.5 332.3 L547.5 332.1 L548.5 331.8 L549.5 331.2 L550.5 330.9 L551.5 330.1 L552.5 329.3 L553.5 328.1 L554.5 327.1 L555.5 325.7 L556.5 318.5 L557.5 315.9 L558.5 314.7 L559.5 313.8 L560.5 313.1 L561.5 312.2 L562.5 311.3 L563.5 312.3 L564.5 313.8 L565.5 314.9 L566.5 315.1 L567.5 313.4 L568.5 312.4 L569.5 311.6 L570.5 311 L571.5 311.1 L572.5 312.2 L573.5 313 L574.5 313.5 L575.5 314.1 L576.5 314.3 L577.5 314.8 L578.5 315.4 L579.5 315.5 L580.5 314.7 L581.5 313.5 L582.5 312.7 L583.5 311.7 L584.5 310.9 L585.5 309.8 L586.5 310.4 L587.5 310.9 L588.5 311.3 L589.5 311.2 L590.5 311.2 L591.5 310.4 L592.5 310.6 L593.5 310.9 L594.5 310.8 L595.5 311 L596.5 310.4 L597.5 309.8 L598.5 310 L599.5 309.8 L600.5 309 L601.5 307.7 L602.5 307.8 L603.5 306.5 L604.5 305.8 L605.5 304.4 L606.5 303.9 L607.5 303.1 L608.5 303.2 L609.5 303.9 L610.5 303.8 L611.5 304.3 L612.5 305 L613.5 303.9 L614.5 302.5 L615.5 300.3 L616.5 298 L617.5 296.3 L618.5 294.6 L619.5 293.1 L620.5 291.2 L621.5 289.4 L622.5 287.1 L623.5 285.9 L624.5 286.5 L625.5 287.1 L626.5 287.1 L627.5 287.4 L628.5 287.7 L629.5 287.7 L630.5 287.7 L631.5 285.3 L632.5 283.3 L633.5 281.2 L634.5 279.3 L635.5 278.2 L636.5 277.8 L637.5 276.9 L638.5 276.4 L639.5 275.6 L640.5 275 L641.5 274.4 L642.5 272.5 L643.5 271.3 L644.5 269.7 L645.5 268.1 L646.5 267.4 L647.5 265.4 L648.5 263.7 L649.5 262 L650.5 260.7 L651.5 259 L652.5 258 L653.5 256.1 L654.5 254.7 L655.5 253.4 L656.5 253.4 L657.5 252.6 L658.5 251.8 L659.5 251.4 L660.5 251.1 L661.5 250.3 L662.5 250.5 L663.5 249.2 L664.5 248.7 L665.5 248.1 L666.5 247.5 L667.5 247.3 L668.5 246.8 L669.5 246 L670.5 245.4 L671.5 245.1 L672.5 245.4 L673.5 244.5 L674.5 243.3 L675.5 242.4 L676.5 242.4 L677.5 242.9 L678.5 241.7 L679.5 241.2 L680.5 242.3 L681.5 240.9 L682.5 241 L683.5 240.5 L684.5 239.5 L685.5 237.9 L686.5 237.4 L687.5 236.8 L688.5 234.7 L689.5 233.2 L690.5 233.2 L691.5 233.1 L692.5 233.1 L693.5 232.8 L694.5 231.6 L695.5 231.1 L696.5 230.2 L697.5 229.1 L698.5 228.8 L699.5 228 L700.5 227.3 L701.5 229.9 L702.5 232.2 L703.5 233.7 L704.5 234.3 L705.5 233.9 L706.5 234 L707.5 234 L708.5 233.1 L709.5 232.7 L710.5 232.1 L711.5 232.1 L712.5 231.1 L713.5 229.2 L714.5 227.2 L715.5 226 L716.5 223.2 L717.5 220.1 L718.5 218 L719.5 216.2 L720.5 214.2 L721.5 212.2 L722.5 212.5 L723.5 210.2 L724.5 208 L725.5 206.5 L726.5 205.4 L727.5 205.1 L728.5 205.4 L729.5 205.7 L730.5 205 L731.5 205.8 L732.5 205.8 L733.5 204.9 L734.5 203.3 L735.5 203.6 L736.5 203.6 L737.5 203.1 L738.5 202.4 L739.5 201.2 L740.5 197.4 L741.5 197.2 L742.5 197.5 L743.5 197.7 L744.5 197 L745.5 196.6 L746.5 197.8 L747.5 198.3 L748.5 197.5 L749.5 197.1 L750.5 197 L751.5 187.4 L752.5 178.3 L753.5 171.1 L754.5 164.9 L755.5 163 L756.5 161.8 L757.5 159.4 L758.5 159.5 L759.5 160.3 L760.5 161.6 L761.5 159.8 L762.5 156.3 L763.5 153.3 L764.5 152.6 L765.5 150.4 L766.5 149.2 L767.5 146.1 L768.5 145.1 L769.5 143.7 L770.5 141.4 L771.5 138.9 L772.5 137.8 L773.5 137.6 L774.5 139.5 L775.5 139.8 L776.5 141.2 L777.5 142.7 L778.5 142.4 L779.5 142.9 L780.5 143.5 L781.5 145 L782.5 146.8 L783.5 146.8 L784.5 147.9 L785.5 147.7 L786.5 147.6 L787.5 147.4 L788.5 148.1 L789.5 146.7 L790.5 145.7 L791.5 143.9 L792.5 143.3 L793.5 141.7 L794.5 142.3 L795.5 143.3 L796.5 143.7 L797.5 141 L798.5 139.6 L799.5 139.4 L800.5 139 L801.5 138.2 L802.5 135.5 L803.5 134.4 L804.5 133.3 L805.5 131.9 L806.5 129 L807.5 129.2 L808.5 128.6 L809.5 127.7 L810.5 127.3 L811.5 127.7 L812.5 128.4 L813.5 127.2 L814.5 126.6 L815.5 124.8 L816.5 123.3 L817.5 124.2 L818.5 122.7 L819.5 122.4 L820.5 121.9 L821.5 121.5 L822.5 121.1 L823.5 120.9 L824.5 117.7 L825.5 117.8 L826.5 117.9 L827.5 117 L828.5 112.8 L829.5 109.6 L830.5 103.6 L831.5 101.2 L832.5 99.1 L833.5 93.6 L834.5 87.4 L835.5 87.3 L836.5 91.2 L837.5 94.6 L838.5 93.9 L839.5 91.5 L840.5 94.8 L841.5 93.9 L842.5 90.8 L843.5 86.4 L844.5 86.2 L845.5 85.7 L846.5 84.1 L847.5 83.2 L848.5 83.6 L849.5 84.2 L850.5 83.8 L851.5 81.4 L852.5 79.1 L853.5 77.9 L854 77.1" fill="none" stroke="#1e3b78" stroke-width="1.6" stroke-linejoin="round"/>
<path d="M107.5 373 L108.5 372.9 L109.5 372.9 L110.5 372.8 L111.5 372.8 L112.5 372.7 L113.5 372.7 L114.5 372.6 L115.5 372.6 L116.5 372.5 L117.5 372.3 L118.5 372.3 L119.5 372.3 L120.5 372.3 L121.5 372.2 L122.5 372.2 L123.5 372.1 L124.5 372 L125.5 372 L126.5 372 L127.5 371.8 L128.5 371.8 L129.5 371.8 L130.5 371.7 L131.5 371.6 L132.5 371.7 L133.5 371.7 L134.5 371.7 L135.5 371.6 L136.5 371.6 L137.5 371.5 L138.5 371.6 L139.5 371.6 L140.5 371.6 L141.5 371.6 L142.5 371.6 L143.5 371.6 L144.5 371.7 L145.5 371.7 L146.5 371.7 L147.5 371.7 L148.5 371.6 L149.5 371.6 L150.5 371.5 L151.5 371.6 L152.5 371.7 L153.5 371.7 L154.5 371.7 L155.5 371.7 L156.5 371.7 L157.5 371.7 L158.5 371.8 L159.5 371.7 L160.5 371.6 L161.5 371.6 L162.5 371.6 L163.5 371.6 L164.5 371.6 L165.5 371.5 L166.5 371.5 L167.5 371.5 L168.5 371.5 L169.5 371.7 L170.5 371.6 L171.5 371.6 L172.5 371.6 L173.5 371.7 L174.5 371.6 L175.5 371.6 L176.5 371.7 L177.5 371.7 L178.5 371.7 L179.5 371.6 L180.5 371.7 L181.5 371.6 L182.5 371.7 L183.5 371.6 L184.5 371.6 L185.5 371.6 L186.5 371.5 L187.5 371.4 L188.5 371.5 L189.5 371.6 L190.5 371.7 L191.5 371.6 L192.5 371.7 L193.5 371.7 L194.5 371.7 L195.5 371.8 L196.5 371.8 L197.5 371.8 L198.5 371.9 L199.5 372 L200.5 371.9 L201.5 371.9 L202.5 371.9 L203.5 372 L204.5 371.9 L205.5 371.9 L206.5 371.9 L207.5 371.9 L208.5 372 L209.5 372 L210.5 372 L211.5 372.1 L212.5 372.1 L213.5 372.1 L214.5 372.1 L215.5 372 L216.5 372.1 L217.5 372.1 L218.5 372.1 L219.5 372.1 L220.5 372 L221.5 372.1 L222.5 372.2 L223.5 372.3 L224.5 372.3 L225.5 372.2 L226.5 372.3 L227.5 372.4 L228.5 372.4 L229.5 372.4 L230.5 372.4 L231.5 372.3 L232.5 372.4 L233.5 372.4 L234.5 372.5 L235.5 372.4 L236.5 372.3 L237.5 372.4 L238.5 372.4 L239.5 372.5 L240.5 372.4 L241.5 372.6 L242.5 372.6 L243.5 372.6 L244.5 372.6 L245.5 372.6 L246.5 372.7 L247.5 372.7 L248.5 372.7 L249.5 372.8 L250.5 372.8 L251.5 372.8 L252.5 372.8 L253.5 372.8 L254.5 372.8 L255.5 372.7 L256.5 372.8 L257.5 372.7 L258.5 372.7 L259.5 372.6 L260.5 372.5 L261.5 372.4 L262.5 372.5 L263.5 372.5 L264.5 372.5 L265.5 372.5 L266.5 372.4 L267.5 372.5 L268.5 372.4 L269.5 372.4 L270.5 372.3 L271.5 372.3 L272.5 372.3 L273.5 372.3 L274.5 372.2 L275.5 372.2 L276.5 372.1 L277.5 372.2 L278.5 372.3 L279.5 372.2 L280.5 372.1 L281.5 372.1 L282.5 372 L283.5 372 L284.5 372 L285.5 372 L286.5 372 L287.5 371.9 L288.5 372 L289.5 371.9 L290.5 371.9 L291.5 371.9 L292.5 371.8 L293.5 371.8 L294.5 371.8 L295.5 371.8 L296.5 371.7 L297.5 371.6 L298.5 371.6 L299.5 371.6 L300.5 371.5 L301.5 371.5 L302.5 371.3 L303.5 371.1 L304.5 371 L305.5 370.9 L306.5 370.7 L307.5 370.5 L308.5 370.4 L309.5 370.3 L310.5 370.2 L311.5 370.3 L312.5 370.3 L313.5 370.3 L314.5 370.3 L315.5 370.3 L316.5 370.4 L317.5 370.4 L318.5 370.5 L319.5 370.4 L320.5 370.4 L321.5 370.7 L322.5 370.8 L323.5 370.7 L324.5 370.7 L325.5 370.8 L326.5 370.8 L327.5 370.9 L328.5 370.9 L329.5 371 L330.5 371 L331.5 371.2 L332.5 371.2 L333.5 371.2 L334.5 371.2 L335.5 371.2 L336.5 371.3 L337.5 371.3 L338.5 371.4 L339.5 371.5 L340.5 371.6 L341.5 371.5 L342.5 371.5 L343.5 371.5 L344.5 371.6 L345.5 371.5 L346.5 371.6 L347.5 371.6 L348.5 371.5 L349.5 371.5 L350.5 371.5 L351.5 371.5 L352.5 371.5 L353.5 371.5 L354.5 371.5 L355.5 371.4 L356.5 371.5 L357.5 371.4 L358.5 371.5 L359.5 371.4 L360.5 371.4 L361.5 371.4 L362.5 371.3 L363.5 371.3 L364.5 371.2 L365.5 371.2 L366.5 371.3 L367.5 371.3 L368.5 371.3 L369.5 371.3 L370.5 371.2 L371.5 371.3 L372.5 371.4 L373.5 371.3 L374.5 371.4 L375.5 371.3 L376.5 371.3 L377.5 371.3 L378.5 371.2 L379.5 371.2 L380.5 371.2 L381.5 371.3 L382.5 371.2 L383.5 371.3 L384.5 371.3 L385.5 371.1 L386.5 371.1 L387.5 371.1 L388.5 371.1 L389.5 371.1 L390.5 371.1 L391.5 371 L392.5 371 L393.5 370.9 L394.5 370.9 L395.5 370.9 L396.5 371 L397.5 370.9 L398.5 370.9 L399.5 370.9 L400.5 370.8 L401.5 370.7 L402.5 370.9 L403.5 370.8 L404.5 370.7 L405.5 370.7 L406.5 370.7 L407.5 370.7 L408.5 370.7 L409.5 370.6 L410.5 370.4 L411.5 370.4 L412.5 370.5 L413.5 370.5 L414.5 370.4 L415.5 370.3 L416.5 370.3 L417.5 370.3 L418.5 370.2 L419.5 370.1 L420.5 370.2 L421.5 370.2 L422.5 370.3 L423.5 370.2 L424.5 370.3 L425.5 370.1 L426.5 370 L427.5 369.9 L428.5 369.8 L429.5 369.7 L430.5 369.8 L431.5 369.7 L432.5 369.6 L433.5 369.7 L434.5 369.7 L435.5 369.7 L436.5 369.7 L437.5 369.5 L438.5 369.7 L439.5 369.7 L440.5 369.6 L441.5 369.5 L442.5 369.4 L443.5 369.3 L444.5 369.3 L445.5 369.2 L446.5 369.3 L447.5 369.2 L448.5 369.2 L449.5 369.2 L450.5 369.1 L451.5 369.1 L452.5 369.1 L453.5 369 L454.5 368.9 L455.5 368.9 L456.5 368.7 L457.5 368.6 L458.5 368.8 L459.5 368.7 L460.5 368.5 L461.5 368.5 L462.5 368.5 L463.5 368.5 L464.5 368.5 L465.5 368.5 L466.5 368.5 L467.5 368.4 L468.5 368.3 L469.5 368.3 L470.5 368.4 L471.5 368.3 L472.5 368.2 L473.5 368.2 L474.5 368.1 L475.5 368 L476.5 367.9 L477.5 367.9 L478.5 367.9 L479.5 367.8 L480.5 367.8 L481.5 367.7 L482.5 367.6 L483.5 367.5 L484.5 367.5 L485.5 367.4 L486.5 367.4 L487.5 367.4 L488.5 367.3 L489.5 367.2 L490.5 367.1 L491.5 367.1 L492.5 367.2 L493.5 367.1 L494.5 367.1 L495.5 366.9 L496.5 366.7 L497.5 366.7 L498.5 366.7 L499.5 366.7 L500.5 366.5 L501.5 366.3 L502.5 366.3 L503.5 366.2 L504.5 366 L505.5 365.9 L506.5 366 L507.5 365.9 L508.5 365.9 L509.5 366 L510.5 365.9 L511.5 365.8 L512.5 365.8 L513.5 365.8 L514.5 365.7 L515.5 365.5 L516.5 365.6 L517.5 365.5 L518.5 365.5 L519.5 365.5 L520.5 365.4 L521.5 365.4 L522.5 365.4 L523.5 365.5 L524.5 365.5 L525.5 365.3 L526.5 365.3 L527.5 365.3 L528.5 365.2 L529.5 365.1 L530.5 365 L531.5 365.1 L532.5 365.1 L533.5 365.1 L534.5 365.1 L535.5 364.9 L536.5 365 L537.5 364.9 L538.5 364.7 L539.5 364.7 L540.5 364.7 L541.5 364.7 L542.5 364.7 L543.5 364.6 L544.5 364.7 L545.5 364.6 L546.5 364.6 L547.5 364.6 L548.5 364.5 L549.5 364.4 L550.5 364.3 L551.5 364.3 L552.5 364.2 L553.5 364 L554.5 364 L555.5 363.9 L556.5 360 L557.5 358.8 L558.5 359 L559.5 359.5 L560.5 359.8 L561.5 360.3 L562.5 360.4 L563.5 360.5 L564.5 360.5 L565.5 361.3 L566.5 363 L567.5 362.1 L568.5 361.4 L569.5 360.5 L570.5 360.3 L571.5 360.1 L572.5 360 L573.5 359.8 L574.5 359.7 L575.5 359 L576.5 358.4 L577.5 357.7 L578.5 357.3 L579.5 356.7 L580.5 355.9 L581.5 355.3 L582.5 354.6 L583.5 353.3 L584.5 352 L585.5 350.7 L586.5 351.6 L587.5 352.8 L588.5 353.8 L589.5 353.7 L590.5 353.8 L591.5 353.7 L592.5 353.6 L593.5 353.6 L594.5 353.7 L595.5 353.9 L596.5 353.9 L597.5 353.8 L598.5 353.8 L599.5 353.8 L600.5 353.9 L601.5 353.9 L602.5 353.8 L603.5 353.8 L604.5 354 L605.5 354.1 L606.5 352 L607.5 350.6 L608.5 351.1 L609.5 351.4 L610.5 351.6 L611.5 352 L612.5 352.1 L613.5 352.1 L614.5 352.3 L615.5 352 L616.5 351.1 L617.5 350.5 L618.5 349.8 L619.5 349 L620.5 348.6 L621.5 348.7 L622.5 348.8 L623.5 348.9 L624.5 349 L625.5 349 L626.5 348.9 L627.5 348.9 L628.5 348.9 L629.5 349 L630.5 348.8 L631.5 348.8 L632.5 348.1 L633.5 347.4 L634.5 346.7 L635.5 345.9 L636.5 345.7 L637.5 345.4 L638.5 345.2 L639.5 345.1 L640.5 344.9 L641.5 344.6 L642.5 343.7 L643.5 341.9 L644.5 340.5 L645.5 340.6 L646.5 340.5 L647.5 340.6 L648.5 340.6 L649.5 340.5 L650.5 340.3 L651.5 339.3 L652.5 338.8 L653.5 337.9 L654.5 337.3 L655.5 336.6 L656.5 335.9 L657.5 335.7 L658.5 335.4 L659.5 335.3 L660.5 335.1 L661.5 334.9 L662.5 334.5 L663.5 334.1 L664.5 334.1 L665.5 333.9 L666.5 333.6 L667.5 333.2 L668.5 333 L669.5 332.8 L670.5 332.6 L671.5 332.5 L672.5 332.1 L673.5 332 L674.5 331.7 L675.5 331.3 L676.5 331.3 L677.5 331 L678.5 330.7 L679.5 330 L680.5 329.5 L681.5 328.7 L682.5 328.1 L683.5 327.2 L684.5 326.2 L685.5 325.7 L686.5 325.2 L687.5 325 L688.5 324.1 L689.5 323.3 L690.5 322.8 L691.5 322.3 L692.5 321.6 L693.5 321.2 L694.5 320.7 L695.5 320.5 L696.5 319.7 L697.5 319.3 L698.5 318.4 L699.5 317.7 L700.5 317.3 L701.5 316.9 L702.5 316.4 L703.5 315.8 L704.5 315.8 L705.5 315.3 L706.5 314.8 L707.5 314.2 L708.5 313.9 L709.5 313.7 L710.5 313.5 L711.5 313 L712.5 312.7 L713.5 311.1 L714.5 309.8 L715.5 308.7 L716.5 307.1 L717.5 306.1 L718.5 305.8 L719.5 305 L720.5 304.7 L721.5 304.2 L722.5 303.8 L723.5 303.1 L724.5 302.5 L725.5 302.5 L726.5 302.3 L727.5 302.2 L728.5 302 L729.5 302.2 L730.5 301.6 L731.5 301.8 L732.5 301.6 L733.5 300.9 L734.5 299.8 L735.5 299.1 L736.5 298.4 L737.5 297.2 L738.5 296.4 L739.5 295.1 L740.5 294.7 L741.5 293.3 L742.5 293.1 L743.5 292.9 L744.5 292.4 L745.5 292.1 L746.5 291.8 L747.5 291.7 L748.5 291.2 L749.5 291.2 L750.5 289.4 L751.5 284.1 L752.5 276.6 L753.5 273.6 L754.5 270.8 L755.5 268.5 L756.5 266.9 L757.5 265.5 L758.5 264.8 L759.5 263.3 L760.5 263.1 L761.5 261.4 L762.5 259.3 L763.5 257.2 L764.5 255.8 L765.5 253.7 L766.5 252.2 L767.5 251.1 L768.5 250.8 L769.5 250.4 L770.5 250.4 L771.5 250.3 L772.5 250.1 L773.5 249.7 L774.5 250.5 L775.5 251 L776.5 251.1 L777.5 251.3 L778.5 251.2 L779.5 251.8 L780.5 251.7 L781.5 252 L782.5 252.9 L783.5 253.6 L784.5 253.8 L785.5 253.6 L786.5 254.2 L787.5 254.7 L788.5 254.7 L789.5 254.1 L790.5 253.1 L791.5 252 L792.5 251 L793.5 249.5 L794.5 249 L795.5 248.4 L796.5 248.2 L797.5 247.1 L798.5 246.4 L799.5 244.9 L800.5 243.9 L801.5 243.2 L802.5 242.2 L803.5 241.1 L804.5 239.8 L805.5 239.1 L806.5 238.1 L807.5 237.7 L808.5 236.9 L809.5 236.9 L810.5 236.5 L811.5 236.5 L812.5 235.9 L813.5 235.3 L814.5 235 L815.5 233.5 L816.5 232.5 L817.5 232.2 L818.5 232.1 L819.5 231.5 L820.5 231.2 L821.5 231 L822.5 230.1 L823.5 229.9 L824.5 228.7 L825.5 228.2 L826.5 228 L827.5 226 L828.5 224.6 L829.5 222.8 L830.5 221.4 L831.5 219.3 L832.5 216.1 L833.5 213 L834.5 209.6 L835.5 207.7 L836.5 210.9 L837.5 213.6 L838.5 215.8 L839.5 214.7 L840.5 213.9 L841.5 212 L842.5 211.7 L843.5 211.9 L844.5 212.6 L845.5 212.7 L846.5 212.1 L847.5 211.6 L848.5 211.7 L849.5 210.6 L850.5 210.6 L851.5 210.6 L852.5 209.9 L853.5 209.3 L854 208.4 L854 273.5 L853.5 274 L852.5 274.3 L851.5 274.7 L850.5 274.6 L849.5 274.4 L848.5 275.3 L847.5 275.6 L846.5 275.7 L845.5 276.4 L844.5 276.8 L843.5 276.2 L842.5 276.4 L841.5 276.1 L840.5 275.9 L839.5 274.5 L838.5 273.7 L837.5 273.1 L836.5 272.8 L835.5 272.5 L834.5 272.7 L833.5 273.1 L832.5 273.6 L831.5 273.4 L830.5 273.5 L829.5 274 L828.5 274.3 L827.5 274.6 L826.5 274.9 L825.5 274.9 L824.5 274.8 L823.5 275.6 L822.5 275.2 L821.5 275.8 L820.5 276.1 L819.5 276 L818.5 276.3 L817.5 275.9 L816.5 276.3 L815.5 276.5 L814.5 276.6 L813.5 277.2 L812.5 277.9 L811.5 277.8 L810.5 278.1 L809.5 278.1 L808.5 278.1 L807.5 278.7 L806.5 278.5 L805.5 278.9 L804.5 279.1 L803.5 279.8 L802.5 280.9 L801.5 281.9 L800.5 282.6 L799.5 283.8 L798.5 285.3 L797.5 286.3 L796.5 287.4 L795.5 287.7 L794.5 288.1 L793.5 288.7 L792.5 289.8 L791.5 290.7 L790.5 291.5 L789.5 292.1 L788.5 292.6 L787.5 292.4 L786.5 292.2 L785.5 291.7 L784.5 291.4 L783.5 290.7 L782.5 290.1 L781.5 289.4 L780.5 289.1 L779.5 288.9 L778.5 288.6 L777.5 288.4 L776.5 288.1 L775.5 288.4 L774.5 288.1 L773.5 287.6 L772.5 287.7 L771.5 287.5 L770.5 287.9 L769.5 288.7 L768.5 290.1 L767.5 291.1 L766.5 292.6 L765.5 293.5 L764.5 293.9 L763.5 293.7 L762.5 293.9 L761.5 294.5 L760.5 295.3 L759.5 294.4 L758.5 295.2 L757.5 295.7 L756.5 296.7 L755.5 297.4 L754.5 297.6 L753.5 298.7 L752.5 300.8 L751.5 307.2 L750.5 313.8 L749.5 316.5 L748.5 316.5 L747.5 316.7 L746.5 317 L745.5 317.3 L744.5 317.4 L743.5 317.6 L742.5 317.5 L741.5 317.8 L740.5 318.1 L739.5 318.1 L738.5 318.9 L737.5 319.5 L736.5 320.6 L735.5 321.6 L734.5 322.5 L733.5 323.5 L732.5 324.4 L731.5 324.8 L730.5 324.6 L729.5 325 L728.5 325 L727.5 325 L726.5 325 L725.5 325.2 L724.5 325.4 L723.5 325.9 L722.5 326.5 L721.5 326.9 L720.5 327.6 L719.5 328.1 L718.5 328.6 L717.5 329 L716.5 329.7 L715.5 330.1 L714.5 331 L713.5 332.3 L712.5 333.6 L711.5 334.6 L710.5 335 L709.5 335.3 L708.5 335.6 L707.5 336.1 L706.5 336.7 L705.5 337.3 L704.5 337.8 L703.5 337.6 L702.5 337.9 L701.5 338.2 L700.5 338.4 L699.5 338.6 L698.5 339.3 L697.5 340.1 L696.5 340.5 L695.5 341.2 L694.5 341.6 L693.5 342 L692.5 342.5 L691.5 343.3 L690.5 343.7 L689.5 344.1 L688.5 344.5 L687.5 345 L686.5 345.1 L685.5 345.5 L684.5 345.8 L683.5 346.3 L682.5 346.7 L681.5 347.2 L680.5 347.6 L679.5 347.8 L678.5 348.1 L677.5 348.4 L676.5 348.8 L675.5 349.2 L674.5 349.6 L673.5 349.9 L672.5 350.1 L671.5 350.2 L670.5 350.6 L669.5 350.8 L668.5 351 L667.5 351.1 L666.5 351.5 L665.5 351.8 L664.5 352 L663.5 352.2 L662.5 352.4 L661.5 352.8 L660.5 353 L659.5 353.1 L658.5 353.3 L657.5 353.6 L656.5 353.7 L655.5 353.9 L654.5 354.3 L653.5 355 L652.5 355.9 L651.5 356.6 L650.5 357.4 L649.5 358.2 L648.5 358.5 L647.5 358.7 L646.5 358.8 L645.5 358.8 L644.5 359.6 L643.5 360.9 L642.5 362.3 L641.5 363 L640.5 363.1 L639.5 363.2 L638.5 363.3 L637.5 363.4 L636.5 363.5 L635.5 363.6 L634.5 363.7 L633.5 363.9 L632.5 364 L631.5 364.1 L630.5 364.2 L629.5 364.2 L628.5 364.1 L627.5 364.1 L626.5 364.2 L625.5 364.2 L624.5 364.2 L623.5 364.2 L622.5 364.2 L621.5 364.1 L620.5 364.1 L619.5 364.3 L618.5 364.9 L617.5 365.4 L616.5 365.9 L615.5 366.4 L614.5 366.7 L613.5 366.7 L612.5 366.6 L611.5 366.3 L610.5 366 L609.5 365.7 L608.5 365.3 L607.5 365 L606.5 365.8 L605.5 366.9 L604.5 367.8 L603.5 367.9 L602.5 367.8 L601.5 367.7 L600.5 367.8 L599.5 367.7 L598.5 367.6 L597.5 367.6 L596.5 367.6 L595.5 367.6 L594.5 367.5 L593.5 367.5 L592.5 367.4 L591.5 367.4 L590.5 367.5 L589.5 367.3 L588.5 367.3 L587.5 367.3 L586.5 366.2 L585.5 364.9 L584.5 364.9 L583.5 366.1 L582.5 367.3 L581.5 368.7 L580.5 369.9 L579.5 371.1 L578.5 371.6 L577.5 371.7 L576.5 372 L575.5 372.3 L574.5 372.6 L573.5 372.8 L572.5 373 L571.5 373.3 L570.5 373.5 L569.5 373.9 L568.5 374.6 L567.5 375.2 L566.5 375.9 L565.5 374 L564.5 373 L563.5 372.8 L562.5 372.6 L561.5 372.4 L560.5 372.1 L559.5 371.9 L558.5 371.7 L557.5 371.6 L556.5 371.2 L555.5 375.7 L554.5 375.7 L553.5 375.8 L552.5 375.9 L551.5 376 L550.5 376.1 L549.5 376.1 L548.5 376.2 L547.5 376.2 L546.5 376.3 L545.5 376.4 L544.5 376.4 L543.5 376.5 L542.5 376.5 L541.5 376.5 L540.5 376.5 L539.5 376.6 L538.5 376.6 L537.5 376.8 L536.5 376.9 L535.5 376.9 L534.5 377 L533.5 377.1 L532.5 377.1 L531.5 377.2 L530.5 377.1 L529.5 377.2 L528.5 377.3 L527.5 377.3 L526.5 377.4 L525.5 377.4 L524.5 377.5 L523.5 377.5 L522.5 377.5 L521.5 377.5 L520.5 377.6 L519.5 377.6 L518.5 377.7 L517.5 377.7 L516.5 377.7 L515.5 377.8 L514.5 377.8 L513.5 377.9 L512.5 377.9 L511.5 378 L510.5 378 L509.5 378.1 L508.5 378.1 L507.5 378.1 L506.5 378.1 L505.5 378.2 L504.5 378.2 L503.5 378.3 L502.5 378.3 L501.5 378.3 L500.5 378.5 L499.5 378.5 L498.5 378.5 L497.5 378.6 L496.5 378.6 L495.5 378.6 L494.5 378.6 L493.5 378.7 L492.5 378.8 L491.5 378.8 L490.5 378.8 L489.5 378.9 L488.5 378.9 L487.5 379 L486.5 379 L485.5 379 L484.5 379.1 L483.5 379.1 L482.5 379.1 L481.5 379.2 L480.5 379.2 L479.5 379.3 L478.5 379.3 L477.5 379.3 L476.5 379.4 L475.5 379.4 L474.5 379.5 L473.5 379.5 L472.5 379.5 L471.5 379.6 L470.5 379.6 L469.5 379.7 L468.5 379.7 L467.5 379.7 L466.5 379.8 L465.5 379.8 L464.5 379.8 L463.5 379.9 L462.5 379.9 L461.5 380 L460.5 380 L459.5 380.1 L458.5 380.1 L457.5 380.1 L456.5 380.2 L455.5 380.2 L454.5 380.3 L453.5 380.3 L452.5 380.3 L451.5 380.4 L450.5 380.4 L449.5 380.4 L448.5 380.5 L447.5 380.5 L446.5 380.5 L445.5 380.6 L444.5 380.6 L443.5 380.7 L442.5 380.7 L441.5 380.8 L440.5 380.8 L439.5 380.8 L438.5 380.8 L437.5 380.9 L436.5 380.9 L435.5 380.9 L434.5 380.9 L433.5 381 L432.5 381 L431.5 381 L430.5 381.1 L429.5 381.1 L428.5 381.1 L427.5 381.1 L426.5 381.2 L425.5 381.2 L424.5 381.3 L423.5 381.3 L422.5 381.3 L421.5 381.3 L420.5 381.3 L419.5 381.4 L418.5 381.4 L417.5 381.4 L416.5 381.4 L415.5 381.5 L414.5 381.5 L413.5 381.5 L412.5 381.6 L411.5 381.6 L410.5 381.6 L409.5 381.6 L408.5 381.7 L407.5 381.7 L406.5 381.7 L405.5 381.7 L404.5 381.8 L403.5 381.8 L402.5 381.8 L401.5 381.9 L400.5 381.9 L399.5 381.9 L398.5 381.9 L397.5 381.9 L396.5 381.9 L395.5 381.9 L394.5 381.9 L393.5 381.9 L392.5 381.9 L391.5 381.9 L390.5 381.9 L389.5 381.9 L388.5 381.9 L387.5 381.9 L386.5 381.9 L385.5 381.9 L384.5 381.9 L383.5 381.9 L382.5 381.8 L381.5 381.9 L380.5 381.9 L379.5 381.9 L378.5 381.9 L377.5 381.9 L376.5 381.9 L375.5 381.9 L374.5 381.9 L373.5 381.9 L372.5 381.9 L371.5 381.9 L370.5 381.8 L369.5 381.9 L368.5 381.8 L367.5 381.9 L366.5 381.8 L365.5 381.8 L364.5 381.9 L363.5 381.8 L362.5 381.8 L361.5 381.8 L360.5 381.8 L359.5 381.8 L358.5 381.8 L357.5 381.8 L356.5 381.8 L355.5 381.8 L354.5 381.8 L353.5 381.8 L352.5 381.8 L351.5 381.8 L350.5 381.8 L349.5 381.8 L348.5 381.8 L347.5 381.8 L346.5 381.8 L345.5 381.8 L344.5 381.8 L343.5 381.8 L342.5 381.8 L341.5 381.7 L340.5 381.7 L339.5 381.7 L338.5 381.7 L337.5 381.7 L336.5 381.6 L335.5 381.6 L334.5 381.6 L333.5 381.5 L332.5 381.6 L331.5 381.5 L330.5 381.5 L329.5 381.5 L328.5 381.4 L327.5 381.4 L326.5 381.4 L325.5 381.4 L324.5 381.3 L323.5 381.3 L322.5 381.3 L321.5 381.3 L320.5 381.2 L319.5 381.2 L318.5 381.2 L317.5 381.2 L316.5 381.2 L315.5 381.2 L314.5 381.1 L313.5 381.1 L312.5 381.1 L311.5 381.1 L310.5 381.1 L309.5 381 L308.5 381.1 L307.5 381.3 L306.5 381.5 L305.5 381.6 L304.5 381.8 L303.5 382 L302.5 382.1 L301.5 382.3 L300.5 382.4 L299.5 382.4 L298.5 382.4 L297.5 382.4 L296.5 382.4 L295.5 382.4 L294.5 382.4 L293.5 382.4 L292.5 382.4 L291.5 382.4 L290.5 382.4 L289.5 382.4 L288.5 382.4 L287.5 382.3 L286.5 382.4 L285.5 382.4 L284.5 382.4 L283.5 382.3 L282.5 382.3 L281.5 382.3 L280.5 382.3 L279.5 382.3 L278.5 382.3 L277.5 382.3 L276.5 382.3 L275.5 382.3 L274.5 382.3 L273.5 382.3 L272.5 382.3 L271.5 382.3 L270.5 382.3 L269.5 382.3 L268.5 382.3 L267.5 382.3 L266.5 382.3 L265.5 382.3 L264.5 382.3 L263.5 382.3 L262.5 382.3 L261.5 382.3 L260.5 382.3 L259.5 382.3 L258.5 382.3 L257.5 382.2 L256.5 382.3 L255.5 382.2 L254.5 382.3 L253.5 382.3 L252.5 382.2 L251.5 382.2 L250.5 382.2 L249.5 382.2 L248.5 382.2 L247.5 382.2 L246.5 382.2 L245.5 382.2 L244.5 382.2 L243.5 382.2 L242.5 382.2 L241.5 382.2 L240.5 382.2 L239.5 382.2 L238.5 382.2 L237.5 382.2 L236.5 382.2 L235.5 382.2 L234.5 382.2 L233.5 382.2 L232.5 382.2 L231.5 382.1 L230.5 382.1 L229.5 382.2 L228.5 382.1 L227.5 382.1 L226.5 382.1 L225.5 382.2 L224.5 382.2 L223.5 382.2 L222.5 382.1 L221.5 382.1 L220.5 382.1 L219.5 382.1 L218.5 382.1 L217.5 382.1 L216.5 382.1 L215.5 382.1 L214.5 382.1 L213.5 382.1 L212.5 382.1 L211.5 382.1 L210.5 382.1 L209.5 382.1 L208.5 382.1 L207.5 382.1 L206.5 382.1 L205.5 382.1 L204.5 382 L203.5 382.1 L202.5 382 L201.5 382 L200.5 382 L199.5 382 L198.5 382.1 L197.5 382 L196.5 382 L195.5 382.1 L194.5 382 L193.5 382 L192.5 382 L191.5 382 L190.5 382 L189.5 382 L188.5 382 L187.5 382 L186.5 382 L185.5 382 L184.5 382 L183.5 382 L182.5 382 L181.5 382 L180.5 382 L179.5 382 L178.5 382 L177.5 382 L176.5 382 L175.5 382 L174.5 382 L173.5 382 L172.5 382 L171.5 381.9 L170.5 381.9 L169.5 382 L168.5 382 L167.5 382 L166.5 381.9 L165.5 381.9 L164.5 382 L163.5 381.9 L162.5 381.9 L161.5 381.9 L160.5 381.9 L159.5 381.9 L158.5 381.9 L157.5 381.9 L156.5 381.9 L155.5 381.9 L154.5 381.9 L153.5 381.9 L152.5 381.9 L151.5 381.9 L150.5 381.9 L149.5 381.9 L148.5 381.9 L147.5 381.9 L146.5 381.9 L145.5 381.9 L144.5 381.9 L143.5 381.9 L142.5 381.8 L141.5 381.9 L140.5 381.9 L139.5 381.8 L138.5 381.8 L137.5 381.9 L136.5 381.9 L135.5 381.9 L134.5 381.9 L133.5 381.8 L132.5 381.8 L131.5 381.8 L130.5 381.8 L129.5 381.8 L128.5 381.8 L127.5 381.8 L126.5 381.8 L125.5 381.8 L124.5 381.8 L123.5 381.8 L122.5 381.7 L121.5 381.7 L120.5 381.7 L119.5 381.6 L118.5 381.6 L117.5 381.5 L116.5 381.5 L115.5 381.5 L114.5 381.4 L113.5 381.4 L112.5 381.4 L111.5 381.4 L110.5 381.3 L109.5 381.3 L108.5 381.3 L107.5 381.2Z" fill="url(#g1)"/>
<path d="M107.5 373 L108.5 372.9 L109.5 372.9 L110.5 372.8 L111.5 372.8 L112.5 372.7 L113.5 372.7 L114.5 372.6 L115.5 372.6 L116.5 372.5 L117.5 372.3 L118.5 372.3 L119.5 372.3 L120.5 372.3 L121.5 372.2 L122.5 372.2 L123.5 372.1 L124.5 372 L125.5 372 L126.5 372 L127.5 371.8 L128.5 371.8 L129.5 371.8 L130.5 371.7 L131.5 371.6 L132.5 371.7 L133.5 371.7 L134.5 371.7 L135.5 371.6 L136.5 371.6 L137.5 371.5 L138.5 371.6 L139.5 371.6 L140.5 371.6 L141.5 371.6 L142.5 371.6 L143.5 371.6 L144.5 371.7 L145.5 371.7 L146.5 371.7 L147.5 371.7 L148.5 371.6 L149.5 371.6 L150.5 371.5 L151.5 371.6 L152.5 371.7 L153.5 371.7 L154.5 371.7 L155.5 371.7 L156.5 371.7 L157.5 371.7 L158.5 371.8 L159.5 371.7 L160.5 371.6 L161.5 371.6 L162.5 371.6 L163.5 371.6 L164.5 371.6 L165.5 371.5 L166.5 371.5 L167.5 371.5 L168.5 371.5 L169.5 371.7 L170.5 371.6 L171.5 371.6 L172.5 371.6 L173.5 371.7 L174.5 371.6 L175.5 371.6 L176.5 371.7 L177.5 371.7 L178.5 371.7 L179.5 371.6 L180.5 371.7 L181.5 371.6 L182.5 371.7 L183.5 371.6 L184.5 371.6 L185.5 371.6 L186.5 371.5 L187.5 371.4 L188.5 371.5 L189.5 371.6 L190.5 371.7 L191.5 371.6 L192.5 371.7 L193.5 371.7 L194.5 371.7 L195.5 371.8 L196.5 371.8 L197.5 371.8 L198.5 371.9 L199.5 372 L200.5 371.9 L201.5 371.9 L202.5 371.9 L203.5 372 L204.5 371.9 L205.5 371.9 L206.5 371.9 L207.5 371.9 L208.5 372 L209.5 372 L210.5 372 L211.5 372.1 L212.5 372.1 L213.5 372.1 L214.5 372.1 L215.5 372 L216.5 372.1 L217.5 372.1 L218.5 372.1 L219.5 372.1 L220.5 372 L221.5 372.1 L222.5 372.2 L223.5 372.3 L224.5 372.3 L225.5 372.2 L226.5 372.3 L227.5 372.4 L228.5 372.4 L229.5 372.4 L230.5 372.4 L231.5 372.3 L232.5 372.4 L233.5 372.4 L234.5 372.5 L235.5 372.4 L236.5 372.3 L237.5 372.4 L238.5 372.4 L239.5 372.5 L240.5 372.4 L241.5 372.6 L242.5 372.6 L243.5 372.6 L244.5 372.6 L245.5 372.6 L246.5 372.7 L247.5 372.7 L248.5 372.7 L249.5 372.8 L250.5 372.8 L251.5 372.8 L252.5 372.8 L253.5 372.8 L254.5 372.8 L255.5 372.7 L256.5 372.8 L257.5 372.7 L258.5 372.7 L259.5 372.6 L260.5 372.5 L261.5 372.4 L262.5 372.5 L263.5 372.5 L264.5 372.5 L265.5 372.5 L266.5 372.4 L267.5 372.5 L268.5 372.4 L269.5 372.4 L270.5 372.3 L271.5 372.3 L272.5 372.3 L273.5 372.3 L274.5 372.2 L275.5 372.2 L276.5 372.1 L277.5 372.2 L278.5 372.3 L279.5 372.2 L280.5 372.1 L281.5 372.1 L282.5 372 L283.5 372 L284.5 372 L285.5 372 L286.5 372 L287.5 371.9 L288.5 372 L289.5 371.9 L290.5 371.9 L291.5 371.9 L292.5 371.8 L293.5 371.8 L294.5 371.8 L295.5 371.8 L296.5 371.7 L297.5 371.6 L298.5 371.6 L299.5 371.6 L300.5 371.5 L301.5 371.5 L302.5 371.3 L303.5 371.1 L304.5 371 L305.5 370.9 L306.5 370.7 L307.5 370.5 L308.5 370.4 L309.5 370.3 L310.5 370.2 L311.5 370.3 L312.5 370.3 L313.5 370.3 L314.5 370.3 L315.5 370.3 L316.5 370.4 L317.5 370.4 L318.5 370.5 L319.5 370.4 L320.5 370.4 L321.5 370.7 L322.5 370.8 L323.5 370.7 L324.5 370.7 L325.5 370.8 L326.5 370.8 L327.5 370.9 L328.5 370.9 L329.5 371 L330.5 371 L331.5 371.2 L332.5 371.2 L333.5 371.2 L334.5 371.2 L335.5 371.2 L336.5 371.3 L337.5 371.3 L338.5 371.4 L339.5 371.5 L340.5 371.6 L341.5 371.5 L342.5 371.5 L343.5 371.5 L344.5 371.6 L345.5 371.5 L346.5 371.6 L347.5 371.6 L348.5 371.5 L349.5 371.5 L350.5 371.5 L351.5 371.5 L352.5 371.5 L353.5 371.5 L354.5 371.5 L355.5 371.4 L356.5 371.5 L357.5 371.4 L358.5 371.5 L359.5 371.4 L360.5 371.4 L361.5 371.4 L362.5 371.3 L363.5 371.3 L364.5 371.2 L365.5 371.2 L366.5 371.3 L367.5 371.3 L368.5 371.3 L369.5 371.3 L370.5 371.2 L371.5 371.3 L372.5 371.4 L373.5 371.3 L374.5 371.4 L375.5 371.3 L376.5 371.3 L377.5 371.3 L378.5 371.2 L379.5 371.2 L380.5 371.2 L381.5 371.3 L382.5 371.2 L383.5 371.3 L384.5 371.3 L385.5 371.1 L386.5 371.1 L387.5 371.1 L388.5 371.1 L389.5 371.1 L390.5 371.1 L391.5 371 L392.5 371 L393.5 370.9 L394.5 370.9 L395.5 370.9 L396.5 371 L397.5 370.9 L398.5 370.9 L399.5 370.9 L400.5 370.8 L401.5 370.7 L402.5 370.9 L403.5 370.8 L404.5 370.7 L405.5 370.7 L406.5 370.7 L407.5 370.7 L408.5 370.7 L409.5 370.6 L410.5 370.4 L411.5 370.4 L412.5 370.5 L413.5 370.5 L414.5 370.4 L415.5 370.3 L416.5 370.3 L417.5 370.3 L418.5 370.2 L419.5 370.1 L420.5 370.2 L421.5 370.2 L422.5 370.3 L423.5 370.2 L424.5 370.3 L425.5 370.1 L426.5 370 L427.5 369.9 L428.5 369.8 L429.5 369.7 L430.5 369.8 L431.5 369.7 L432.5 369.6 L433.5 369.7 L434.5 369.7 L435.5 369.7 L436.5 369.7 L437.5 369.5 L438.5 369.7 L439.5 369.7 L440.5 369.6 L441.5 369.5 L442.5 369.4 L443.5 369.3 L444.5 369.3 L445.5 369.2 L446.5 369.3 L447.5 369.2 L448.5 369.2 L449.5 369.2 L450.5 369.1 L451.5 369.1 L452.5 369.1 L453.5 369 L454.5 368.9 L455.5 368.9 L456.5 368.7 L457.5 368.6 L458.5 368.8 L459.5 368.7 L460.5 368.5 L461.5 368.5 L462.5 368.5 L463.5 368.5 L464.5 368.5 L465.5 368.5 L466.5 368.5 L467.5 368.4 L468.5 368.3 L469.5 368.3 L470.5 368.4 L471.5 368.3 L472.5 368.2 L473.5 368.2 L474.5 368.1 L475.5 368 L476.5 367.9 L477.5 367.9 L478.5 367.9 L479.5 367.8 L480.5 367.8 L481.5 367.7 L482.5 367.6 L483.5 367.5 L484.5 367.5 L485.5 367.4 L486.5 367.4 L487.5 367.4 L488.5 367.3 L489.5 367.2 L490.5 367.1 L491.5 367.1 L492.5 367.2 L493.5 367.1 L494.5 367.1 L495.5 366.9 L496.5 366.7 L497.5 366.7 L498.5 366.7 L499.5 366.7 L500.5 366.5 L501.5 366.3 L502.5 366.3 L503.5 366.2 L504.5 366 L505.5 365.9 L506.5 366 L507.5 365.9 L508.5 365.9 L509.5 366 L510.5 365.9 L511.5 365.8 L512.5 365.8 L513.5 365.8 L514.5 365.7 L515.5 365.5 L516.5 365.6 L517.5 365.5 L518.5 365.5 L519.5 365.5 L520.5 365.4 L521.5 365.4 L522.5 365.4 L523.5 365.5 L524.5 365.5 L525.5 365.3 L526.5 365.3 L527.5 365.3 L528.5 365.2 L529.5 365.1 L530.5 365 L531.5 365.1 L532.5 365.1 L533.5 365.1 L534.5 365.1 L535.5 364.9 L536.5 365 L537.5 364.9 L538.5 364.7 L539.5 364.7 L540.5 364.7 L541.5 364.7 L542.5 364.7 L543.5 364.6 L544.5 364.7 L545.5 364.6 L546.5 364.6 L547.5 364.6 L548.5 364.5 L549.5 364.4 L550.5 364.3 L551.5 364.3 L552.5 364.2 L553.5 364 L554.5 364 L555.5 363.9 L556.5 360 L557.5 358.8 L558.5 359 L559.5 359.5 L560.5 359.8 L561.5 360.3 L562.5 360.4 L563.5 360.5 L564.5 360.5 L565.5 361.3 L566.5 363 L567.5 362.1 L568.5 361.4 L569.5 360.5 L570.5 360.3 L571.5 360.1 L572.5 360 L573.5 359.8 L574.5 359.7 L575.5 359 L576.5 358.4 L577.5 357.7 L578.5 357.3 L579.5 356.7 L580.5 355.9 L581.5 355.3 L582.5 354.6 L583.5 353.3 L584.5 352 L585.5 350.7 L586.5 351.6 L587.5 352.8 L588.5 353.8 L589.5 353.7 L590.5 353.8 L591.5 353.7 L592.5 353.6 L593.5 353.6 L594.5 353.7 L595.5 353.9 L596.5 353.9 L597.5 353.8 L598.5 353.8 L599.5 353.8 L600.5 353.9 L601.5 353.9 L602.5 353.8 L603.5 353.8 L604.5 354 L605.5 354.1 L606.5 352 L607.5 350.6 L608.5 351.1 L609.5 351.4 L610.5 351.6 L611.5 352 L612.5 352.1 L613.5 352.1 L614.5 352.3 L615.5 352 L616.5 351.1 L617.5 350.5 L618.5 349.8 L619.5 349 L620.5 348.6 L621.5 348.7 L622.5 348.8 L623.5 348.9 L624.5 349 L625.5 349 L626.5 348.9 L627.5 348.9 L628.5 348.9 L629.5 349 L630.5 348.8 L631.5 348.8 L632.5 348.1 L633.5 347.4 L634.5 346.7 L635.5 345.9 L636.5 345.7 L637.5 345.4 L638.5 345.2 L639.5 345.1 L640.5 344.9 L641.5 344.6 L642.5 343.7 L643.5 341.9 L644.5 340.5 L645.5 340.6 L646.5 340.5 L647.5 340.6 L648.5 340.6 L649.5 340.5 L650.5 340.3 L651.5 339.3 L652.5 338.8 L653.5 337.9 L654.5 337.3 L655.5 336.6 L656.5 335.9 L657.5 335.7 L658.5 335.4 L659.5 335.3 L660.5 335.1 L661.5 334.9 L662.5 334.5 L663.5 334.1 L664.5 334.1 L665.5 333.9 L666.5 333.6 L667.5 333.2 L668.5 333 L669.5 332.8 L670.5 332.6 L671.5 332.5 L672.5 332.1 L673.5 332 L674.5 331.7 L675.5 331.3 L676.5 331.3 L677.5 331 L678.5 330.7 L679.5 330 L680.5 329.5 L681.5 328.7 L682.5 328.1 L683.5 327.2 L684.5 326.2 L685.5 325.7 L686.5 325.2 L687.5 325 L688.5 324.1 L689.5 323.3 L690.5 322.8 L691.5 322.3 L692.5 321.6 L693.5 321.2 L694.5 320.7 L695.5 320.5 L696.5 319.7 L697.5 319.3 L698.5 318.4 L699.5 317.7 L700.5 317.3 L701.5 316.9 L702.5 316.4 L703.5 315.8 L704.5 315.8 L705.5 315.3 L706.5 314.8 L707.5 314.2 L708.5 313.9 L709.5 313.7 L710.5 313.5 L711.5 313 L712.5 312.7 L713.5 311.1 L714.5 309.8 L715.5 308.7 L716.5 307.1 L717.5 306.1 L718.5 305.8 L719.5 305 L720.5 304.7 L721.5 304.2 L722.5 303.8 L723.5 303.1 L724.5 302.5 L725.5 302.5 L726.5 302.3 L727.5 302.2 L728.5 302 L729.5 302.2 L730.5 301.6 L731.5 301.8 L732.5 301.6 L733.5 300.9 L734.5 299.8 L735.5 299.1 L736.5 298.4 L737.5 297.2 L738.5 296.4 L739.5 295.1 L740.5 294.7 L741.5 293.3 L742.5 293.1 L743.5 292.9 L744.5 292.4 L745.5 292.1 L746.5 291.8 L747.5 291.7 L748.5 291.2 L749.5 291.2 L750.5 289.4 L751.5 284.1 L752.5 276.6 L753.5 273.6 L754.5 270.8 L755.5 268.5 L756.5 266.9 L757.5 265.5 L758.5 264.8 L759.5 263.3 L760.5 263.1 L761.5 261.4 L762.5 259.3 L763.5 257.2 L764.5 255.8 L765.5 253.7 L766.5 252.2 L767.5 251.1 L768.5 250.8 L769.5 250.4 L770.5 250.4 L771.5 250.3 L772.5 250.1 L773.5 249.7 L774.5 250.5 L775.5 251 L776.5 251.1 L777.5 251.3 L778.5 251.2 L779.5 251.8 L780.5 251.7 L781.5 252 L782.5 252.9 L783.5 253.6 L784.5 253.8 L785.5 253.6 L786.5 254.2 L787.5 254.7 L788.5 254.7 L789.5 254.1 L790.5 253.1 L791.5 252 L792.5 251 L793.5 249.5 L794.5 249 L795.5 248.4 L796.5 248.2 L797.5 247.1 L798.5 246.4 L799.5 244.9 L800.5 243.9 L801.5 243.2 L802.5 242.2 L803.5 241.1 L804.5 239.8 L805.5 239.1 L806.5 238.1 L807.5 237.7 L808.5 236.9 L809.5 236.9 L810.5 236.5 L811.5 236.5 L812.5 235.9 L813.5 235.3 L814.5 235 L815.5 233.5 L816.5 232.5 L817.5 232.2 L818.5 232.1 L819.5 231.5 L820.5 231.2 L821.5 231 L822.5 230.1 L823.5 229.9 L824.5 228.7 L825.5 228.2 L826.5 228 L827.5 226 L828.5 224.6 L829.5 222.8 L830.5 221.4 L831.5 219.3 L832.5 216.1 L833.5 213 L834.5 209.6 L835.5 207.7 L836.5 210.9 L837.5 213.6 L838.5 215.8 L839.5 214.7 L840.5 213.9 L841.5 212 L842.5 211.7 L843.5 211.9 L844.5 212.6 L845.5 212.7 L846.5 212.1 L847.5 211.6 L848.5 211.7 L849.5 210.6 L850.5 210.6 L851.5 210.6 L852.5 209.9 L853.5 209.3 L854 208.4" fill="none" stroke="#d4a300" stroke-width="1.6" stroke-linejoin="round"/>
<path d="M107.5 381.2 L108.5 381.3 L109.5 381.3 L110.5 381.3 L111.5 381.4 L112.5 381.4 L113.5 381.4 L114.5 381.4 L115.5 381.5 L116.5 381.5 L117.5 381.5 L118.5 381.6 L119.5 381.6 L120.5 381.7 L121.5 381.7 L122.5 381.7 L123.5 381.8 L124.5 381.8 L125.5 381.8 L126.5 381.8 L127.5 381.8 L128.5 381.8 L129.5 381.8 L130.5 381.8 L131.5 381.8 L132.5 381.8 L133.5 381.8 L134.5 381.9 L135.5 381.9 L136.5 381.9 L137.5 381.9 L138.5 381.8 L139.5 381.8 L140.5 381.9 L141.5 381.9 L142.5 381.8 L143.5 381.9 L144.5 381.9 L145.5 381.9 L146.5 381.9 L147.5 381.9 L148.5 381.9 L149.5 381.9 L150.5 381.9 L151.5 381.9 L152.5 381.9 L153.5 381.9 L154.5 381.9 L155.5 381.9 L156.5 381.9 L157.5 381.9 L158.5 381.9 L159.5 381.9 L160.5 381.9 L161.5 381.9 L162.5 381.9 L163.5 381.9 L164.5 382 L165.5 381.9 L166.5 381.9 L167.5 382 L168.5 382 L169.5 382 L170.5 381.9 L171.5 381.9 L172.5 382 L173.5 382 L174.5 382 L175.5 382 L176.5 382 L177.5 382 L178.5 382 L179.5 382 L180.5 382 L181.5 382 L182.5 382 L183.5 382 L184.5 382 L185.5 382 L186.5 382 L187.5 382 L188.5 382 L189.5 382 L190.5 382 L191.5 382 L192.5 382 L193.5 382 L194.5 382 L195.5 382.1 L196.5 382 L197.5 382 L198.5 382.1 L199.5 382 L200.5 382 L201.5 382 L202.5 382 L203.5 382.1 L204.5 382 L205.5 382.1 L206.5 382.1 L207.5 382.1 L208.5 382.1 L209.5 382.1 L210.5 382.1 L211.5 382.1 L212.5 382.1 L213.5 382.1 L214.5 382.1 L215.5 382.1 L216.5 382.1 L217.5 382.1 L218.5 382.1 L219.5 382.1 L220.5 382.1 L221.5 382.1 L222.5 382.1 L223.5 382.2 L224.5 382.2 L225.5 382.2 L226.5 382.1 L227.5 382.1 L228.5 382.1 L229.5 382.2 L230.5 382.1 L231.5 382.1 L232.5 382.2 L233.5 382.2 L234.5 382.2 L235.5 382.2 L236.5 382.2 L237.5 382.2 L238.5 382.2 L239.5 382.2 L240.5 382.2 L241.5 382.2 L242.5 382.2 L243.5 382.2 L244.5 382.2 L245.5 382.2 L246.5 382.2 L247.5 382.2 L248.5 382.2 L249.5 382.2 L250.5 382.2 L251.5 382.2 L252.5 382.2 L253.5 382.3 L254.5 382.3 L255.5 382.2 L256.5 382.3 L257.5 382.2 L258.5 382.3 L259.5 382.3 L260.5 382.3 L261.5 382.3 L262.5 382.3 L263.5 382.3 L264.5 382.3 L265.5 382.3 L266.5 382.3 L267.5 382.3 L268.5 382.3 L269.5 382.3 L270.5 382.3 L271.5 382.3 L272.5 382.3 L273.5 382.3 L274.5 382.3 L275.5 382.3 L276.5 382.3 L277.5 382.3 L278.5 382.3 L279.5 382.3 L280.5 382.3 L281.5 382.3 L282.5 382.3 L283.5 382.3 L284.5 382.4 L285.5 382.4 L286.5 382.4 L287.5 382.3 L288.5 382.4 L289.5 382.4 L290.5 382.4 L291.5 382.4 L292.5 382.4 L293.5 382.4 L294.5 382.4 L295.5 382.4 L296.5 382.4 L297.5 382.4 L298.5 382.4 L299.5 382.4 L300.5 382.4 L301.5 382.3 L302.5 382.1 L303.5 382 L304.5 381.8 L305.5 381.6 L306.5 381.5 L307.5 381.3 L308.5 381.1 L309.5 381 L310.5 381.1 L311.5 381.1 L312.5 381.1 L313.5 381.1 L314.5 381.1 L315.5 381.2 L316.5 381.2 L317.5 381.2 L318.5 381.2 L319.5 381.2 L320.5 381.2 L321.5 381.3 L322.5 381.3 L323.5 381.3 L324.5 381.3 L325.5 381.4 L326.5 381.4 L327.5 381.4 L328.5 381.4 L329.5 381.5 L330.5 381.5 L331.5 381.5 L332.5 381.6 L333.5 381.5 L334.5 381.6 L335.5 381.6 L336.5 381.6 L337.5 381.7 L338.5 381.7 L339.5 381.7 L340.5 381.7 L341.5 381.7 L342.5 381.8 L343.5 381.8 L344.5 381.8 L345.5 381.8 L346.5 381.8 L347.5 381.8 L348.5 381.8 L349.5 381.8 L350.5 381.8 L351.5 381.8 L352.5 381.8 L353.5 381.8 L354.5 381.8 L355.5 381.8 L356.5 381.8 L357.5 381.8 L358.5 381.8 L359.5 381.8 L360.5 381.8 L361.5 381.8 L362.5 381.8 L363.5 381.8 L364.5 381.9 L365.5 381.8 L366.5 381.8 L367.5 381.9 L368.5 381.8 L369.5 381.9 L370.5 381.8 L371.5 381.9 L372.5 381.9 L373.5 381.9 L374.5 381.9 L375.5 381.9 L376.5 381.9 L377.5 381.9 L378.5 381.9 L379.5 381.9 L380.5 381.9 L381.5 381.9 L382.5 381.8 L383.5 381.9 L384.5 381.9 L385.5 381.9 L386.5 381.9 L387.5 381.9 L388.5 381.9 L389.5 381.9 L390.5 381.9 L391.5 381.9 L392.5 381.9 L393.5 381.9 L394.5 381.9 L395.5 381.9 L396.5 381.9 L397.5 381.9 L398.5 381.9 L399.5 381.9 L400.5 381.9 L401.5 381.9 L402.5 381.8 L403.5 381.8 L404.5 381.8 L405.5 381.7 L406.5 381.7 L407.5 381.7 L408.5 381.7 L409.5 381.6 L410.5 381.6 L411.5 381.6 L412.5 381.6 L413.5 381.5 L414.5 381.5 L415.5 381.5 L416.5 381.4 L417.5 381.4 L418.5 381.4 L419.5 381.4 L420.5 381.3 L421.5 381.3 L422.5 381.3 L423.5 381.3 L424.5 381.3 L425.5 381.2 L426.5 381.2 L427.5 381.1 L428.5 381.1 L429.5 381.1 L430.5 381.1 L431.5 381 L432.5 381 L433.5 381 L434.5 380.9 L435.5 380.9 L436.5 380.9 L437.5 380.9 L438.5 380.8 L439.5 380.8 L440.5 380.8 L441.5 380.8 L442.5 380.7 L443.5 380.7 L444.5 380.6 L445.5 380.6 L446.5 380.5 L447.5 380.5 L448.5 380.5 L449.5 380.4 L450.5 380.4 L451.5 380.4 L452.5 380.3 L453.5 380.3 L454.5 380.3 L455.5 380.2 L456.5 380.2 L457.5 380.1 L458.5 380.1 L459.5 380.1 L460.5 380 L461.5 380 L462.5 379.9 L463.5 379.9 L464.5 379.8 L465.5 379.8 L466.5 379.8 L467.5 379.7 L468.5 379.7 L469.5 379.7 L470.5 379.6 L471.5 379.6 L472.5 379.5 L473.5 379.5 L474.5 379.5 L475.5 379.4 L476.5 379.4 L477.5 379.3 L478.5 379.3 L479.5 379.3 L480.5 379.2 L481.5 379.2 L482.5 379.1 L483.5 379.1 L484.5 379.1 L485.5 379 L486.5 379 L487.5 379 L488.5 378.9 L489.5 378.9 L490.5 378.8 L491.5 378.8 L492.5 378.8 L493.5 378.7 L494.5 378.6 L495.5 378.6 L496.5 378.6 L497.5 378.6 L498.5 378.5 L499.5 378.5 L500.5 378.5 L501.5 378.3 L502.5 378.3 L503.5 378.3 L504.5 378.2 L505.5 378.2 L506.5 378.1 L507.5 378.1 L508.5 378.1 L509.5 378.1 L510.5 378 L511.5 378 L512.5 377.9 L513.5 377.9 L514.5 377.8 L515.5 377.8 L516.5 377.7 L517.5 377.7 L518.5 377.7 L519.5 377.6 L520.5 377.6 L521.5 377.5 L522.5 377.5 L523.5 377.5 L524.5 377.5 L525.5 377.4 L526.5 377.4 L527.5 377.3 L528.5 377.3 L529.5 377.2 L530.5 377.1 L531.5 377.2 L532.5 377.1 L533.5 377.1 L534.5 377 L535.5 376.9 L536.5 376.9 L537.5 376.8 L538.5 376.6 L539.5 376.6 L540.5 376.5 L541.5 376.5 L542.5 376.5 L543.5 376.5 L544.5 376.4 L545.5 376.4 L546.5 376.3 L547.5 376.2 L548.5 376.2 L549.5 376.1 L550.5 376.1 L551.5 376 L552.5 375.9 L553.5 375.8 L554.5 375.7 L555.5 375.7 L556.5 371.2 L557.5 371.6 L558.5 371.7 L559.5 371.9 L560.5 372.1 L561.5 372.4 L562.5 372.6 L563.5 372.8 L564.5 373 L565.5 374 L566.5 375.9 L567.5 375.2 L568.5 374.6 L569.5 373.9 L570.5 373.5 L571.5 373.3 L572.5 373 L573.5 372.8 L574.5 372.6 L575.5 372.3 L576.5 372 L577.5 371.7 L578.5 371.6 L579.5 371.1 L580.5 369.9 L581.5 368.7 L582.5 367.3 L583.5 366.1 L584.5 364.9 L585.5 364.9 L586.5 366.2 L587.5 367.3 L588.5 367.3 L589.5 367.3 L590.5 367.5 L591.5 367.4 L592.5 367.4 L593.5 367.5 L594.5 367.5 L595.5 367.6 L596.5 367.6 L597.5 367.6 L598.5 367.6 L599.5 367.7 L600.5 367.8 L601.5 367.7 L602.5 367.8 L603.5 367.9 L604.5 367.8 L605.5 366.9 L606.5 365.8 L607.5 365 L608.5 365.3 L609.5 365.7 L610.5 366 L611.5 366.3 L612.5 366.6 L613.5 366.7 L614.5 366.7 L615.5 366.4 L616.5 365.9 L617.5 365.4 L618.5 364.9 L619.5 364.3 L620.5 364.1 L621.5 364.1 L622.5 364.2 L623.5 364.2 L624.5 364.2 L625.5 364.2 L626.5 364.2 L627.5 364.1 L628.5 364.1 L629.5 364.2 L630.5 364.2 L631.5 364.1 L632.5 364 L633.5 363.9 L634.5 363.7 L635.5 363.6 L636.5 363.5 L637.5 363.4 L638.5 363.3 L639.5 363.2 L640.5 363.1 L641.5 363 L642.5 362.3 L643.5 360.9 L644.5 359.6 L645.5 358.8 L646.5 358.8 L647.5 358.7 L648.5 358.5 L649.5 358.2 L650.5 357.4 L651.5 356.6 L652.5 355.9 L653.5 355 L654.5 354.3 L655.5 353.9 L656.5 353.7 L657.5 353.6 L658.5 353.3 L659.5 353.1 L660.5 353 L661.5 352.8 L662.5 352.4 L663.5 352.2 L664.5 352 L665.5 351.8 L666.5 351.5 L667.5 351.1 L668.5 351 L669.5 350.8 L670.5 350.6 L671.5 350.2 L672.5 350.1 L673.5 349.9 L674.5 349.6 L675.5 349.2 L676.5 348.8 L677.5 348.4 L678.5 348.1 L679.5 347.8 L680.5 347.6 L681.5 347.2 L682.5 346.7 L683.5 346.3 L684.5 345.8 L685.5 345.5 L686.5 345.1 L687.5 345 L688.5 344.5 L689.5 344.1 L690.5 343.7 L691.5 343.3 L692.5 342.5 L693.5 342 L694.5 341.6 L695.5 341.2 L696.5 340.5 L697.5 340.1 L698.5 339.3 L699.5 338.6 L700.5 338.4 L701.5 338.2 L702.5 337.9 L703.5 337.6 L704.5 337.8 L705.5 337.3 L706.5 336.7 L707.5 336.1 L708.5 335.6 L709.5 335.3 L710.5 335 L711.5 334.6 L712.5 333.6 L713.5 332.3 L714.5 331 L715.5 330.1 L716.5 329.7 L717.5 329 L718.5 328.6 L719.5 328.1 L720.5 327.6 L721.5 326.9 L722.5 326.5 L723.5 325.9 L724.5 325.4 L725.5 325.2 L726.5 325 L727.5 325 L728.5 325 L729.5 325 L730.5 324.6 L731.5 324.8 L732.5 324.4 L733.5 323.5 L734.5 322.5 L735.5 321.6 L736.5 320.6 L737.5 319.5 L738.5 318.9 L739.5 318.1 L740.5 318.1 L741.5 317.8 L742.5 317.5 L743.5 317.6 L744.5 317.4 L745.5 317.3 L746.5 317 L747.5 316.7 L748.5 316.5 L749.5 316.5 L750.5 313.8 L751.5 307.2 L752.5 300.8 L753.5 298.7 L754.5 297.6 L755.5 297.4 L756.5 296.7 L757.5 295.7 L758.5 295.2 L759.5 294.4 L760.5 295.3 L761.5 294.5 L762.5 293.9 L763.5 293.7 L764.5 293.9 L765.5 293.5 L766.5 292.6 L767.5 291.1 L768.5 290.1 L769.5 288.7 L770.5 287.9 L771.5 287.5 L772.5 287.7 L773.5 287.6 L774.5 288.1 L775.5 288.4 L776.5 288.1 L777.5 288.4 L778.5 288.6 L779.5 288.9 L780.5 289.1 L781.5 289.4 L782.5 290.1 L783.5 290.7 L784.5 291.4 L785.5 291.7 L786.5 292.2 L787.5 292.4 L788.5 292.6 L789.5 292.1 L790.5 291.5 L791.5 290.7 L792.5 289.8 L793.5 288.7 L794.5 288.1 L795.5 287.7 L796.5 287.4 L797.5 286.3 L798.5 285.3 L799.5 283.8 L800.5 282.6 L801.5 281.9 L802.5 280.9 L803.5 279.8 L804.5 279.1 L805.5 278.9 L806.5 278.5 L807.5 278.7 L808.5 278.1 L809.5 278.1 L810.5 278.1 L811.5 277.8 L812.5 277.9 L813.5 277.2 L814.5 276.6 L815.5 276.5 L816.5 276.3 L817.5 275.9 L818.5 276.3 L819.5 276 L820.5 276.1 L821.5 275.8 L822.5 275.2 L823.5 275.6 L824.5 274.8 L825.5 274.9 L826.5 274.9 L827.5 274.6 L828.5 274.3 L829.5 274 L830.5 273.5 L831.5 273.4 L832.5 273.6 L833.5 273.1 L834.5 272.7 L835.5 272.5 L836.5 272.8 L837.5 273.1 L838.5 273.7 L839.5 274.5 L840.5 275.9 L841.5 276.1 L842.5 276.4 L843.5 276.2 L844.5 276.8 L845.5 276.4 L846.5 275.7 L847.5 275.6 L848.5 275.3 L849.5 274.4 L850.5 274.6 L851.5 274.7 L852.5 274.3 L853.5 274 L854 273.5 L854 310.5 L853.5 310.4 L852.5 309.9 L851.5 310.1 L850.5 309.8 L849.5 309.6 L848.5 309.7 L847.5 309.7 L846.5 309.6 L845.5 309.8 L844.5 309.6 L843.5 309 L842.5 308.7 L841.5 308.3 L840.5 308.4 L839.5 307.6 L838.5 307.6 L837.5 307.5 L836.5 307.3 L835.5 306.6 L834.5 306.4 L833.5 305.9 L832.5 305.6 L831.5 305.4 L830.5 305.1 L829.5 305.4 L828.5 305.5 L827.5 305.5 L826.5 305.4 L825.5 305.4 L824.5 305.1 L823.5 305.6 L822.5 305.6 L821.5 305.7 L820.5 305.9 L819.5 305.7 L818.5 305.8 L817.5 305.8 L816.5 306.4 L815.5 306.6 L814.5 307.3 L813.5 307.6 L812.5 308 L811.5 308 L810.5 308.6 L809.5 308.7 L808.5 309 L807.5 309.4 L806.5 309.4 L805.5 309.9 L804.5 310.5 L803.5 310.8 L802.5 311.5 L801.5 311.7 L800.5 311.6 L799.5 312 L798.5 312.4 L797.5 312.7 L796.5 313.2 L795.5 313.5 L794.5 313.8 L793.5 314 L792.5 314.6 L791.5 315.1 L790.5 315.7 L789.5 316 L788.5 316.4 L787.5 316.2 L786.5 316.2 L785.5 316 L784.5 316.2 L783.5 315.9 L782.5 315.8 L781.5 315.5 L780.5 315.5 L779.5 315.3 L778.5 315.2 L777.5 314.9 L776.5 314.5 L775.5 314.7 L774.5 314.5 L773.5 314.3 L772.5 314.6 L771.5 314.9 L770.5 315.1 L769.5 315.4 L768.5 315.8 L767.5 315.9 L766.5 316.5 L765.5 316.5 L764.5 316.8 L763.5 316.8 L762.5 317.1 L761.5 317.4 L760.5 317.6 L759.5 316.5 L758.5 316.7 L757.5 316.8 L756.5 317.4 L755.5 317.9 L754.5 318 L753.5 318.7 L752.5 320.2 L751.5 325.3 L750.5 330.7 L749.5 332.8 L748.5 332.8 L747.5 332.9 L746.5 333 L745.5 333.1 L744.5 333.2 L743.5 333.3 L742.5 333.3 L741.5 333.3 L740.5 333.7 L739.5 334.2 L738.5 334.8 L737.5 335.3 L736.5 336 L735.5 336.6 L734.5 337.1 L733.5 337.6 L732.5 337.6 L731.5 338.1 L730.5 337.8 L729.5 338.3 L728.5 338.2 L727.5 338.3 L726.5 338.1 L725.5 338.3 L724.5 338.4 L723.5 338.9 L722.5 339.3 L721.5 339.6 L720.5 340 L719.5 340.5 L718.5 340.7 L717.5 341 L716.5 341.6 L715.5 341.9 L714.5 342.7 L713.5 343.8 L712.5 345 L711.5 345.8 L710.5 346.1 L709.5 346.4 L708.5 346.7 L707.5 347.3 L706.5 347.8 L705.5 348.4 L704.5 348.9 L703.5 349.1 L702.5 349.7 L701.5 350.2 L700.5 350.7 L699.5 351.1 L698.5 351.8 L697.5 352.3 L696.5 352.5 L695.5 353 L694.5 353.3 L693.5 353.6 L692.5 353.9 L691.5 354.4 L690.5 354.7 L689.5 355 L688.5 355.1 L687.5 355.3 L686.5 355.4 L685.5 355.4 L684.5 355.6 L683.5 356 L682.5 356.1 L681.5 356.5 L680.5 356.6 L679.5 356.7 L678.5 356.8 L677.5 356.8 L676.5 356.9 L675.5 357 L674.5 357.2 L673.5 357.3 L672.5 357.2 L671.5 357.1 L670.5 357.3 L669.5 357.3 L668.5 357.2 L667.5 357.3 L666.5 357.4 L665.5 357.5 L664.5 357.5 L663.5 357.5 L662.5 357.5 L661.5 357.7 L660.5 357.7 L659.5 357.6 L658.5 357.6 L657.5 357.7 L656.5 357.7 L655.5 357.7 L654.5 357.8 L653.5 358.1 L652.5 358.5 L651.5 358.8 L650.5 359.2 L649.5 359.5 L648.5 360 L647.5 360.5 L646.5 360.8 L645.5 361.1 L644.5 361.9 L643.5 363.3 L642.5 364.7 L641.5 365.4 L640.5 365.3 L639.5 365.3 L638.5 365.3 L637.5 365.3 L636.5 365.3 L635.5 365.3 L634.5 365.3 L633.5 365.4 L632.5 365.4 L631.5 365.3 L630.5 365.4 L629.5 365.4 L628.5 365.3 L627.5 365.3 L626.5 365.4 L625.5 365.4 L624.5 365.4 L623.5 365.4 L622.5 365.4 L621.5 365.3 L620.5 365.3 L619.5 365.6 L618.5 366.2 L617.5 366.8 L616.5 367.4 L615.5 367.9 L614.5 368.2 L613.5 368.2 L612.5 368.1 L611.5 367.8 L610.5 367.5 L609.5 367.3 L608.5 366.9 L607.5 366.6 L606.5 367.4 L605.5 368.6 L604.5 369.5 L603.5 369.5 L602.5 369.4 L601.5 369.3 L600.5 369.4 L599.5 369.2 L598.5 369.1 L597.5 369.1 L596.5 369.1 L595.5 369.1 L594.5 368.9 L593.5 368.8 L592.5 368.8 L591.5 368.8 L590.5 368.8 L589.5 368.6 L588.5 368.5 L587.5 368.5 L586.5 367.4 L585.5 366.1 L584.5 366.1 L583.5 367.3 L582.5 368.5 L581.5 369.9 L580.5 371.1 L579.5 372.2 L578.5 372.7 L577.5 372.8 L576.5 373.1 L575.5 373.3 L574.5 373.6 L573.5 373.7 L572.5 373.9 L571.5 374.1 L570.5 374.4 L569.5 374.7 L568.5 375.3 L567.5 375.8 L566.5 376.4 L565.5 374.8 L564.5 373.9 L563.5 373.7 L562.5 373.4 L561.5 373.2 L560.5 372.8 L559.5 372.6 L558.5 372.5 L557.5 372.3 L556.5 371.9 L555.5 376.2 L554.5 376.2 L553.5 376.3 L552.5 376.4 L551.5 376.4 L550.5 376.5 L549.5 376.6 L548.5 376.6 L547.5 376.6 L546.5 376.7 L545.5 376.8 L544.5 376.8 L543.5 376.8 L542.5 376.8 L541.5 376.9 L540.5 376.9 L539.5 376.9 L538.5 376.9 L537.5 377.1 L536.5 377.2 L535.5 377.2 L534.5 377.3 L533.5 377.3 L532.5 377.3 L531.5 377.4 L530.5 377.3 L529.5 377.4 L528.5 377.5 L527.5 377.5 L526.5 377.6 L525.5 377.6 L524.5 377.7 L523.5 377.7 L522.5 377.7 L521.5 377.7 L520.5 377.8 L519.5 377.8 L518.5 377.9 L517.5 377.9 L516.5 377.9 L515.5 378 L514.5 378 L513.5 378.1 L512.5 378.1 L511.5 378.2 L510.5 378.2 L509.5 378.3 L508.5 378.3 L507.5 378.3 L506.5 378.3 L505.5 378.4 L504.5 378.4 L503.5 378.5 L502.5 378.5 L501.5 378.5 L500.5 378.7 L499.5 378.7 L498.5 378.7 L497.5 378.8 L496.5 378.8 L495.5 378.8 L494.5 378.8 L493.5 378.9 L492.5 379 L491.5 379 L490.5 379 L489.5 379.1 L488.5 379.1 L487.5 379.2 L486.5 379.2 L485.5 379.2 L484.5 379.3 L483.5 379.3 L482.5 379.3 L481.5 379.4 L480.5 379.4 L479.5 379.5 L478.5 379.5 L477.5 379.5 L476.5 379.6 L475.5 379.6 L474.5 379.7 L473.5 379.7 L472.5 379.7 L471.5 379.8 L470.5 379.8 L469.5 379.9 L468.5 379.9 L467.5 379.9 L466.5 380 L465.5 380 L464.5 380 L463.5 380.1 L462.5 380.1 L461.5 380.2 L460.5 380.2 L459.5 380.3 L458.5 380.3 L457.5 380.3 L456.5 380.4 L455.5 380.4 L454.5 380.5 L453.5 380.5 L452.5 380.5 L451.5 380.6 L450.5 380.6 L449.5 380.6 L448.5 380.7 L447.5 380.7 L446.5 380.7 L445.5 380.8 L444.5 380.8 L443.5 380.9 L442.5 380.9 L441.5 381 L440.5 381 L439.5 381 L438.5 381 L437.5 381.1 L436.5 381.1 L435.5 381.1 L434.5 381.1 L433.5 381.2 L432.5 381.2 L431.5 381.2 L430.5 381.3 L429.5 381.3 L428.5 381.3 L427.5 381.3 L426.5 381.4 L425.5 381.4 L424.5 381.5 L423.5 381.5 L422.5 381.5 L421.5 381.5 L420.5 381.5 L419.5 381.6 L418.5 381.6 L417.5 381.6 L416.5 381.6 L415.5 381.7 L414.5 381.7 L413.5 381.7 L412.5 381.8 L411.5 381.8 L410.5 381.8 L409.5 381.8 L408.5 381.9 L407.5 381.9 L406.5 381.9 L405.5 381.9 L404.5 382 L403.5 382 L402.5 382 L401.5 382.1 L400.5 382.1 L399.5 382.1 L398.5 382.1 L397.5 382.1 L396.5 382.1 L395.5 382.1 L394.5 382.1 L393.5 382.1 L392.5 382.1 L391.5 382.1 L390.5 382.1 L389.5 382.1 L388.5 382.1 L387.5 382.1 L386.5 382.1 L385.5 382.1 L384.5 382.1 L383.5 382.1 L382.5 382 L381.5 382.1 L380.5 382.1 L379.5 382.1 L378.5 382.1 L377.5 382.1 L376.5 382.1 L375.5 382.1 L374.5 382.1 L373.5 382.1 L372.5 382.1 L371.5 382.1 L370.5 382 L369.5 382.1 L368.5 382 L367.5 382.1 L366.5 382 L365.5 382 L364.5 382.1 L363.5 382 L362.5 382 L361.5 382 L360.5 382 L359.5 382 L358.5 382 L357.5 382 L356.5 382 L355.5 382 L354.5 382 L353.5 382 L352.5 382 L351.5 382 L350.5 382 L349.5 382 L348.5 382 L347.5 382 L346.5 382 L345.5 382 L344.5 382 L343.5 382 L342.5 382 L341.5 381.9 L340.5 381.9 L339.5 381.9 L338.5 381.9 L337.5 381.9 L336.5 381.8 L335.5 381.8 L334.5 381.8 L333.5 381.7 L332.5 381.8 L331.5 381.7 L330.5 381.7 L329.5 381.7 L328.5 381.6 L327.5 381.6 L326.5 381.6 L325.5 381.6 L324.5 381.5 L323.5 381.5 L322.5 381.5 L321.5 381.5 L320.5 381.4 L319.5 381.4 L318.5 381.4 L317.5 381.4 L316.5 381.4 L315.5 381.4 L314.5 381.3 L313.5 381.3 L312.5 381.3 L311.5 381.3 L310.5 381.3 L309.5 381.2 L308.5 381.3 L307.5 381.5 L306.5 381.7 L305.5 381.8 L304.5 382 L303.5 382.1 L302.5 382.3 L301.5 382.5 L300.5 382.6 L299.5 382.6 L298.5 382.6 L297.5 382.6 L296.5 382.6 L295.5 382.6 L294.5 382.6 L293.5 382.6 L292.5 382.6 L291.5 382.6 L290.5 382.6 L289.5 382.6 L288.5 382.6 L287.5 382.6 L286.5 382.6 L285.5 382.6 L284.5 382.6 L283.5 382.6 L282.5 382.6 L281.5 382.6 L280.5 382.5 L279.5 382.6 L278.5 382.5 L277.5 382.5 L276.5 382.5 L275.5 382.5 L274.5 382.6 L273.5 382.5 L272.5 382.5 L271.5 382.5 L270.5 382.5 L269.5 382.5 L268.5 382.5 L267.5 382.5 L266.5 382.5 L265.5 382.5 L264.5 382.5 L263.5 382.5 L262.5 382.5 L261.5 382.5 L260.5 382.5 L259.5 382.5 L258.5 382.5 L257.5 382.5 L256.5 382.5 L255.5 382.5 L254.5 382.5 L253.5 382.5 L252.5 382.5 L251.5 382.5 L250.5 382.5 L249.5 382.5 L248.5 382.5 L247.5 382.5 L246.5 382.5 L245.5 382.5 L244.5 382.5 L243.5 382.5 L242.5 382.5 L241.5 382.5 L240.5 382.5 L239.5 382.5 L238.5 382.5 L237.5 382.4 L236.5 382.4 L235.5 382.4 L234.5 382.5 L233.5 382.5 L232.5 382.4 L231.5 382.4 L230.5 382.4 L229.5 382.4 L228.5 382.4 L227.5 382.4 L226.5 382.4 L225.5 382.4 L224.5 382.5 L223.5 382.5 L222.5 382.4 L221.5 382.4 L220.5 382.4 L219.5 382.4 L218.5 382.4 L217.5 382.4 L216.5 382.4 L215.5 382.4 L214.5 382.4 L213.5 382.4 L212.5 382.4 L211.5 382.4 L210.5 382.4 L209.5 382.4 L208.5 382.4 L207.5 382.4 L206.5 382.4 L205.5 382.4 L204.5 382.3 L203.5 382.4 L202.5 382.4 L201.5 382.4 L200.5 382.4 L199.5 382.4 L198.5 382.4 L197.5 382.4 L196.5 382.4 L195.5 382.4 L194.5 382.4 L193.5 382.3 L192.5 382.4 L191.5 382.4 L190.5 382.4 L189.5 382.3 L188.5 382.3 L187.5 382.3 L186.5 382.3 L185.5 382.3 L184.5 382.3 L183.5 382.3 L182.5 382.3 L181.5 382.3 L180.5 382.3 L179.5 382.3 L178.5 382.3 L177.5 382.3 L176.5 382.3 L175.5 382.3 L174.5 382.4 L173.5 382.3 L172.5 382.3 L171.5 382.3 L170.5 382.3 L169.5 382.3 L168.5 382.3 L167.5 382.3 L166.5 382.3 L165.5 382.3 L164.5 382.3 L163.5 382.3 L162.5 382.3 L161.5 382.3 L160.5 382.3 L159.5 382.3 L158.5 382.3 L157.5 382.3 L156.5 382.3 L155.5 382.3 L154.5 382.3 L153.5 382.3 L152.5 382.3 L151.5 382.3 L150.5 382.2 L149.5 382.2 L148.5 382.2 L147.5 382.3 L146.5 382.3 L145.5 382.3 L144.5 382.2 L143.5 382.2 L142.5 382.2 L141.5 382.2 L140.5 382.2 L139.5 382.2 L138.5 382.2 L137.5 382.2 L136.5 382.2 L135.5 382.3 L134.5 382.2 L133.5 382.2 L132.5 382.2 L131.5 382.2 L130.5 382.2 L129.5 382.2 L128.5 382.2 L127.5 382.2 L126.5 382.2 L125.5 382.2 L124.5 382.2 L123.5 382.2 L122.5 382.1 L121.5 382.1 L120.5 382 L119.5 381.9 L118.5 381.9 L117.5 381.8 L116.5 381.8 L115.5 381.8 L114.5 381.7 L113.5 381.6 L112.5 381.6 L111.5 381.6 L110.5 381.5 L109.5 381.5 L108.5 381.5 L107.5 381.4Z" fill="url(#g2)"/>
<path d="M107.5 381.2 L108.5 381.3 L109.5 381.3 L110.5 381.3 L111.5 381.4 L112.5 381.4 L113.5 381.4 L114.5 381.4 L115.5 381.5 L116.5 381.5 L117.5 381.5 L118.5 381.6 L119.5 381.6 L120.5 381.7 L121.5 381.7 L122.5 381.7 L123.5 381.8 L124.5 381.8 L125.5 381.8 L126.5 381.8 L127.5 381.8 L128.5 381.8 L129.5 381.8 L130.5 381.8 L131.5 381.8 L132.5 381.8 L133.5 381.8 L134.5 381.9 L135.5 381.9 L136.5 381.9 L137.5 381.9 L138.5 381.8 L139.5 381.8 L140.5 381.9 L141.5 381.9 L142.5 381.8 L143.5 381.9 L144.5 381.9 L145.5 381.9 L146.5 381.9 L147.5 381.9 L148.5 381.9 L149.5 381.9 L150.5 381.9 L151.5 381.9 L152.5 381.9 L153.5 381.9 L154.5 381.9 L155.5 381.9 L156.5 381.9 L157.5 381.9 L158.5 381.9 L159.5 381.9 L160.5 381.9 L161.5 381.9 L162.5 381.9 L163.5 381.9 L164.5 382 L165.5 381.9 L166.5 381.9 L167.5 382 L168.5 382 L169.5 382 L170.5 381.9 L171.5 381.9 L172.5 382 L173.5 382 L174.5 382 L175.5 382 L176.5 382 L177.5 382 L178.5 382 L179.5 382 L180.5 382 L181.5 382 L182.5 382 L183.5 382 L184.5 382 L185.5 382 L186.5 382 L187.5 382 L188.5 382 L189.5 382 L190.5 382 L191.5 382 L192.5 382 L193.5 382 L194.5 382 L195.5 382.1 L196.5 382 L197.5 382 L198.5 382.1 L199.5 382 L200.5 382 L201.5 382 L202.5 382 L203.5 382.1 L204.5 382 L205.5 382.1 L206.5 382.1 L207.5 382.1 L208.5 382.1 L209.5 382.1 L210.5 382.1 L211.5 382.1 L212.5 382.1 L213.5 382.1 L214.5 382.1 L215.5 382.1 L216.5 382.1 L217.5 382.1 L218.5 382.1 L219.5 382.1 L220.5 382.1 L221.5 382.1 L222.5 382.1 L223.5 382.2 L224.5 382.2 L225.5 382.2 L226.5 382.1 L227.5 382.1 L228.5 382.1 L229.5 382.2 L230.5 382.1 L231.5 382.1 L232.5 382.2 L233.5 382.2 L234.5 382.2 L235.5 382.2 L236.5 382.2 L237.5 382.2 L238.5 382.2 L239.5 382.2 L240.5 382.2 L241.5 382.2 L242.5 382.2 L243.5 382.2 L244.5 382.2 L245.5 382.2 L246.5 382.2 L247.5 382.2 L248.5 382.2 L249.5 382.2 L250.5 382.2 L251.5 382.2 L252.5 382.2 L253.5 382.3 L254.5 382.3 L255.5 382.2 L256.5 382.3 L257.5 382.2 L258.5 382.3 L259.5 382.3 L260.5 382.3 L261.5 382.3 L262.5 382.3 L263.5 382.3 L264.5 382.3 L265.5 382.3 L266.5 382.3 L267.5 382.3 L268.5 382.3 L269.5 382.3 L270.5 382.3 L271.5 382.3 L272.5 382.3 L273.5 382.3 L274.5 382.3 L275.5 382.3 L276.5 382.3 L277.5 382.3 L278.5 382.3 L279.5 382.3 L280.5 382.3 L281.5 382.3 L282.5 382.3 L283.5 382.3 L284.5 382.4 L285.5 382.4 L286.5 382.4 L287.5 382.3 L288.5 382.4 L289.5 382.4 L290.5 382.4 L291.5 382.4 L292.5 382.4 L293.5 382.4 L294.5 382.4 L295.5 382.4 L296.5 382.4 L297.5 382.4 L298.5 382.4 L299.5 382.4 L300.5 382.4 L301.5 382.3 L302.5 382.1 L303.5 382 L304.5 381.8 L305.5 381.6 L306.5 381.5 L307.5 381.3 L308.5 381.1 L309.5 381 L310.5 381.1 L311.5 381.1 L312.5 381.1 L313.5 381.1 L314.5 381.1 L315.5 381.2 L316.5 381.2 L317.5 381.2 L318.5 381.2 L319.5 381.2 L320.5 381.2 L321.5 381.3 L322.5 381.3 L323.5 381.3 L324.5 381.3 L325.5 381.4 L326.5 381.4 L327.5 381.4 L328.5 381.4 L329.5 381.5 L330.5 381.5 L331.5 381.5 L332.5 381.6 L333.5 381.5 L334.5 381.6 L335.5 381.6 L336.5 381.6 L337.5 381.7 L338.5 381.7 L339.5 381.7 L340.5 381.7 L341.5 381.7 L342.5 381.8 L343.5 381.8 L344.5 381.8 L345.5 381.8 L346.5 381.8 L347.5 381.8 L348.5 381.8 L349.5 381.8 L350.5 381.8 L351.5 381.8 L352.5 381.8 L353.5 381.8 L354.5 381.8 L355.5 381.8 L356.5 381.8 L357.5 381.8 L358.5 381.8 L359.5 381.8 L360.5 381.8 L361.5 381.8 L362.5 381.8 L363.5 381.8 L364.5 381.9 L365.5 381.8 L366.5 381.8 L367.5 381.9 L368.5 381.8 L369.5 381.9 L370.5 381.8 L371.5 381.9 L372.5 381.9 L373.5 381.9 L374.5 381.9 L375.5 381.9 L376.5 381.9 L377.5 381.9 L378.5 381.9 L379.5 381.9 L380.5 381.9 L381.5 381.9 L382.5 381.8 L383.5 381.9 L384.5 381.9 L385.5 381.9 L386.5 381.9 L387.5 381.9 L388.5 381.9 L389.5 381.9 L390.5 381.9 L391.5 381.9 L392.5 381.9 L393.5 381.9 L394.5 381.9 L395.5 381.9 L396.5 381.9 L397.5 381.9 L398.5 381.9 L399.5 381.9 L400.5 381.9 L401.5 381.9 L402.5 381.8 L403.5 381.8 L404.5 381.8 L405.5 381.7 L406.5 381.7 L407.5 381.7 L408.5 381.7 L409.5 381.6 L410.5 381.6 L411.5 381.6 L412.5 381.6 L413.5 381.5 L414.5 381.5 L415.5 381.5 L416.5 381.4 L417.5 381.4 L418.5 381.4 L419.5 381.4 L420.5 381.3 L421.5 381.3 L422.5 381.3 L423.5 381.3 L424.5 381.3 L425.5 381.2 L426.5 381.2 L427.5 381.1 L428.5 381.1 L429.5 381.1 L430.5 381.1 L431.5 381 L432.5 381 L433.5 381 L434.5 380.9 L435.5 380.9 L436.5 380.9 L437.5 380.9 L438.5 380.8 L439.5 380.8 L440.5 380.8 L441.5 380.8 L442.5 380.7 L443.5 380.7 L444.5 380.6 L445.5 380.6 L446.5 380.5 L447.5 380.5 L448.5 380.5 L449.5 380.4 L450.5 380.4 L451.5 380.4 L452.5 380.3 L453.5 380.3 L454.5 380.3 L455.5 380.2 L456.5 380.2 L457.5 380.1 L458.5 380.1 L459.5 380.1 L460.5 380 L461.5 380 L462.5 379.9 L463.5 379.9 L464.5 379.8 L465.5 379.8 L466.5 379.8 L467.5 379.7 L468.5 379.7 L469.5 379.7 L470.5 379.6 L471.5 379.6 L472.5 379.5 L473.5 379.5 L474.5 379.5 L475.5 379.4 L476.5 379.4 L477.5 379.3 L478.5 379.3 L479.5 379.3 L480.5 379.2 L481.5 379.2 L482.5 379.1 L483.5 379.1 L484.5 379.1 L485.5 379 L486.5 379 L487.5 379 L488.5 378.9 L489.5 378.9 L490.5 378.8 L491.5 378.8 L492.5 378.8 L493.5 378.7 L494.5 378.6 L495.5 378.6 L496.5 378.6 L497.5 378.6 L498.5 378.5 L499.5 378.5 L500.5 378.5 L501.5 378.3 L502.5 378.3 L503.5 378.3 L504.5 378.2 L505.5 378.2 L506.5 378.1 L507.5 378.1 L508.5 378.1 L509.5 378.1 L510.5 378 L511.5 378 L512.5 377.9 L513.5 377.9 L514.5 377.8 L515.5 377.8 L516.5 377.7 L517.5 377.7 L518.5 377.7 L519.5 377.6 L520.5 377.6 L521.5 377.5 L522.5 377.5 L523.5 377.5 L524.5 377.5 L525.5 377.4 L526.5 377.4 L527.5 377.3 L528.5 377.3 L529.5 377.2 L530.5 377.1 L531.5 377.2 L532.5 377.1 L533.5 377.1 L534.5 377 L535.5 376.9 L536.5 376.9 L537.5 376.8 L538.5 376.6 L539.5 376.6 L540.5 376.5 L541.5 376.5 L542.5 376.5 L543.5 376.5 L544.5 376.4 L545.5 376.4 L546.5 376.3 L547.5 376.2 L548.5 376.2 L549.5 376.1 L550.5 376.1 L551.5 376 L552.5 375.9 L553.5 375.8 L554.5 375.7 L555.5 375.7 L556.5 371.2 L557.5 371.6 L558.5 371.7 L559.5 371.9 L560.5 372.1 L561.5 372.4 L562.5 372.6 L563.5 372.8 L564.5 373 L565.5 374 L566.5 375.9 L567.5 375.2 L568.5 374.6 L569.5 373.9 L570.5 373.5 L571.5 373.3 L572.5 373 L573.5 372.8 L574.5 372.6 L575.5 372.3 L576.5 372 L577.5 371.7 L578.5 371.6 L579.5 371.1 L580.5 369.9 L581.5 368.7 L582.5 367.3 L583.5 366.1 L584.5 364.9 L585.5 364.9 L586.5 366.2 L587.5 367.3 L588.5 367.3 L589.5 367.3 L590.5 367.5 L591.5 367.4 L592.5 367.4 L593.5 367.5 L594.5 367.5 L595.5 367.6 L596.5 367.6 L597.5 367.6 L598.5 367.6 L599.5 367.7 L600.5 367.8 L601.5 367.7 L602.5 367.8 L603.5 367.9 L604.5 367.8 L605.5 366.9 L606.5 365.8 L607.5 365 L608.5 365.3 L609.5 365.7 L610.5 366 L611.5 366.3 L612.5 366.6 L613.5 366.7 L614.5 366.7 L615.5 366.4 L616.5 365.9 L617.5 365.4 L618.5 364.9 L619.5 364.3 L620.5 364.1 L621.5 364.1 L622.5 364.2 L623.5 364.2 L624.5 364.2 L625.5 364.2 L626.5 364.2 L627.5 364.1 L628.5 364.1 L629.5 364.2 L630.5 364.2 L631.5 364.1 L632.5 364 L633.5 363.9 L634.5 363.7 L635.5 363.6 L636.5 363.5 L637.5 363.4 L638.5 363.3 L639.5 363.2 L640.5 363.1 L641.5 363 L642.5 362.3 L643.5 360.9 L644.5 359.6 L645.5 358.8 L646.5 358.8 L647.5 358.7 L648.5 358.5 L649.5 358.2 L650.5 357.4 L651.5 356.6 L652.5 355.9 L653.5 355 L654.5 354.3 L655.5 353.9 L656.5 353.7 L657.5 353.6 L658.5 353.3 L659.5 353.1 L660.5 353 L661.5 352.8 L662.5 352.4 L663.5 352.2 L664.5 352 L665.5 351.8 L666.5 351.5 L667.5 351.1 L668.5 351 L669.5 350.8 L670.5 350.6 L671.5 350.2 L672.5 350.1 L673.5 349.9 L674.5 349.6 L675.5 349.2 L676.5 348.8 L677.5 348.4 L678.5 348.1 L679.5 347.8 L680.5 347.6 L681.5 347.2 L682.5 346.7 L683.5 346.3 L684.5 345.8 L685.5 345.5 L686.5 345.1 L687.5 345 L688.5 344.5 L689.5 344.1 L690.5 343.7 L691.5 343.3 L692.5 342.5 L693.5 342 L694.5 341.6 L695.5 341.2 L696.5 340.5 L697.5 340.1 L698.5 339.3 L699.5 338.6 L700.5 338.4 L701.5 338.2 L702.5 337.9 L703.5 337.6 L704.5 337.8 L705.5 337.3 L706.5 336.7 L707.5 336.1 L708.5 335.6 L709.5 335.3 L710.5 335 L711.5 334.6 L712.5 333.6 L713.5 332.3 L714.5 331 L715.5 330.1 L716.5 329.7 L717.5 329 L718.5 328.6 L719.5 328.1 L720.5 327.6 L721.5 326.9 L722.5 326.5 L723.5 325.9 L724.5 325.4 L725.5 325.2 L726.5 325 L727.5 325 L728.5 325 L729.5 325 L730.5 324.6 L731.5 324.8 L732.5 324.4 L733.5 323.5 L734.5 322.5 L735.5 321.6 L736.5 320.6 L737.5 319.5 L738.5 318.9 L739.5 318.1 L740.5 318.1 L741.5 317.8 L742.5 317.5 L743.5 317.6 L744.5 317.4 L745.5 317.3 L746.5 317 L747.5 316.7 L748.5 316.5 L749.5 316.5 L750.5 313.8 L751.5 307.2 L752.5 300.8 L753.5 298.7 L754.5 297.6 L755.5 297.4 L756.5 296.7 L757.5 295.7 L758.5 295.2 L759.5 294.4 L760.5 295.3 L761.5 294.5 L762.5 293.9 L763.5 293.7 L764.5 293.9 L765.5 293.5 L766.5 292.6 L767.5 291.1 L768.5 290.1 L769.5 288.7 L770.5 287.9 L771.5 287.5 L772.5 287.7 L773.5 287.6 L774.5 288.1 L775.5 288.4 L776.5 288.1 L777.5 288.4 L778.5 288.6 L779.5 288.9 L780.5 289.1 L781.5 289.4 L782.5 290.1 L783.5 290.7 L784.5 291.4 L785.5 291.7 L786.5 292.2 L787.5 292.4 L788.5 292.6 L789.5 292.1 L790.5 291.5 L791.5 290.7 L792.5 289.8 L793.5 288.7 L794.5 288.1 L795.5 287.7 L796.5 287.4 L797.5 286.3 L798.5 285.3 L799.5 283.8 L800.5 282.6 L801.5 281.9 L802.5 280.9 L803.5 279.8 L804.5 279.1 L805.5 278.9 L806.5 278.5 L807.5 278.7 L808.5 278.1 L809.5 278.1 L810.5 278.1 L811.5 277.8 L812.5 277.9 L813.5 277.2 L814.5 276.6 L815.5 276.5 L816.5 276.3 L817.5 275.9 L818.5 276.3 L819.5 276 L820.5 276.1 L821.5 275.8 L822.5 275.2 L823.5 275.6 L824.5 274.8 L825.5 274.9 L826.5 274.9 L827.5 274.6 L828.5 274.3 L829.5 274 L830.5 273.5 L831.5 273.4 L832.5 273.6 L833.5 273.1 L834.5 272.7 L835.5 272.5 L836.5 272.8 L837.5 273.1 L838.5 273.7 L839.5 274.5 L840.5 275.9 L841.5 276.1 L842.5 276.4 L843.5 276.2 L844.5 276.8 L845.5 276.4 L846.5 275.7 L847.5 275.6 L848.5 275.3 L849.5 274.4 L850.5 274.6 L851.5 274.7 L852.5 274.3 L853.5 274 L854 273.5" fill="none" stroke="#4a5cf6" stroke-width="1.6" stroke-linejoin="round"/>
<path d="M107.5 381.4 L108.5 381.5 L109.5 381.5 L110.5 381.5 L111.5 381.6 L112.5 381.6 L113.5 381.6 L114.5 381.7 L115.5 381.8 L116.5 381.8 L117.5 381.8 L118.5 381.9 L119.5 381.9 L120.5 382 L121.5 382.1 L122.5 382.1 L123.5 382.2 L124.5 382.2 L125.5 382.2 L126.5 382.2 L127.5 382.2 L128.5 382.2 L129.5 382.2 L130.5 382.2 L131.5 382.2 L132.5 382.2 L133.5 382.2 L134.5 382.2 L135.5 382.3 L136.5 382.2 L137.5 382.2 L138.5 382.2 L139.5 382.2 L140.5 382.2 L141.5 382.2 L142.5 382.2 L143.5 382.2 L144.5 382.2 L145.5 382.3 L146.5 382.3 L147.5 382.3 L148.5 382.2 L149.5 382.2 L150.5 382.2 L151.5 382.3 L152.5 382.3 L153.5 382.3 L154.5 382.3 L155.5 382.3 L156.5 382.3 L157.5 382.3 L158.5 382.3 L159.5 382.3 L160.5 382.3 L161.5 382.3 L162.5 382.3 L163.5 382.3 L164.5 382.3 L165.5 382.3 L166.5 382.3 L167.5 382.3 L168.5 382.3 L169.5 382.3 L170.5 382.3 L171.5 382.3 L172.5 382.3 L173.5 382.3 L174.5 382.4 L175.5 382.3 L176.5 382.3 L177.5 382.3 L178.5 382.3 L179.5 382.3 L180.5 382.3 L181.5 382.3 L182.5 382.3 L183.5 382.3 L184.5 382.3 L185.5 382.3 L186.5 382.3 L187.5 382.3 L188.5 382.3 L189.5 382.3 L190.5 382.4 L191.5 382.4 L192.5 382.4 L193.5 382.3 L194.5 382.4 L195.5 382.4 L196.5 382.4 L197.5 382.4 L198.5 382.4 L199.5 382.4 L200.5 382.4 L201.5 382.4 L202.5 382.4 L203.5 382.4 L204.5 382.3 L205.5 382.4 L206.5 382.4 L207.5 382.4 L208.5 382.4 L209.5 382.4 L210.5 382.4 L211.5 382.4 L212.5 382.4 L213.5 382.4 L214.5 382.4 L215.5 382.4 L216.5 382.4 L217.5 382.4 L218.5 382.4 L219.5 382.4 L220.5 382.4 L221.5 382.4 L222.5 382.4 L223.5 382.5 L224.5 382.5 L225.5 382.4 L226.5 382.4 L227.5 382.4 L228.5 382.4 L229.5 382.4 L230.5 382.4 L231.5 382.4 L232.5 382.4 L233.5 382.5 L234.5 382.5 L235.5 382.4 L236.5 382.4 L237.5 382.4 L238.5 382.5 L239.5 382.5 L240.5 382.5 L241.5 382.5 L242.5 382.5 L243.5 382.5 L244.5 382.5 L245.5 382.5 L246.5 382.5 L247.5 382.5 L248.5 382.5 L249.5 382.5 L250.5 382.5 L251.5 382.5 L252.5 382.5 L253.5 382.5 L254.5 382.5 L255.5 382.5 L256.5 382.5 L257.5 382.5 L258.5 382.5 L259.5 382.5 L260.5 382.5 L261.5 382.5 L262.5 382.5 L263.5 382.5 L264.5 382.5 L265.5 382.5 L266.5 382.5 L267.5 382.5 L268.5 382.5 L269.5 382.5 L270.5 382.5 L271.5 382.5 L272.5 382.5 L273.5 382.5 L274.5 382.6 L275.5 382.5 L276.5 382.5 L277.5 382.5 L278.5 382.5 L279.5 382.6 L280.5 382.5 L281.5 382.6 L282.5 382.6 L283.5 382.6 L284.5 382.6 L285.5 382.6 L286.5 382.6 L287.5 382.6 L288.5 382.6 L289.5 382.6 L290.5 382.6 L291.5 382.6 L292.5 382.6 L293.5 382.6 L294.5 382.6 L295.5 382.6 L296.5 382.6 L297.5 382.6 L298.5 382.6 L299.5 382.6 L300.5 382.6 L301.5 382.5 L302.5 382.3 L303.5 382.1 L304.5 382 L305.5 381.8 L306.5 381.7 L307.5 381.5 L308.5 381.3 L309.5 381.2 L310.5 381.3 L311.5 381.3 L312.5 381.3 L313.5 381.3 L314.5 381.3 L315.5 381.4 L316.5 381.4 L317.5 381.4 L318.5 381.4 L319.5 381.4 L320.5 381.4 L321.5 381.5 L322.5 381.5 L323.5 381.5 L324.5 381.5 L325.5 381.6 L326.5 381.6 L327.5 381.6 L328.5 381.6 L329.5 381.7 L330.5 381.7 L331.5 381.7 L332.5 381.8 L333.5 381.7 L334.5 381.8 L335.5 381.8 L336.5 381.8 L337.5 381.9 L338.5 381.9 L339.5 381.9 L340.5 381.9 L341.5 381.9 L342.5 382 L343.5 382 L344.5 382 L345.5 382 L346.5 382 L347.5 382 L348.5 382 L349.5 382 L350.5 382 L351.5 382 L352.5 382 L353.5 382 L354.5 382 L355.5 382 L356.5 382 L357.5 382 L358.5 382 L359.5 382 L360.5 382 L361.5 382 L362.5 382 L363.5 382 L364.5 382.1 L365.5 382 L366.5 382 L367.5 382.1 L368.5 382 L369.5 382.1 L370.5 382 L371.5 382.1 L372.5 382.1 L373.5 382.1 L374.5 382.1 L375.5 382.1 L376.5 382.1 L377.5 382.1 L378.5 382.1 L379.5 382.1 L380.5 382.1 L381.5 382.1 L382.5 382 L383.5 382.1 L384.5 382.1 L385.5 382.1 L386.5 382.1 L387.5 382.1 L388.5 382.1 L389.5 382.1 L390.5 382.1 L391.5 382.1 L392.5 382.1 L393.5 382.1 L394.5 382.1 L395.5 382.1 L396.5 382.1 L397.5 382.1 L398.5 382.1 L399.5 382.1 L400.5 382.1 L401.5 382.1 L402.5 382 L403.5 382 L404.5 382 L405.5 381.9 L406.5 381.9 L407.5 381.9 L408.5 381.9 L409.5 381.8 L410.5 381.8 L411.5 381.8 L412.5 381.8 L413.5 381.7 L414.5 381.7 L415.5 381.7 L416.5 381.6 L417.5 381.6 L418.5 381.6 L419.5 381.6 L420.5 381.5 L421.5 381.5 L422.5 381.5 L423.5 381.5 L424.5 381.5 L425.5 381.4 L426.5 381.4 L427.5 381.3 L428.5 381.3 L429.5 381.3 L430.5 381.3 L431.5 381.2 L432.5 381.2 L433.5 381.2 L434.5 381.1 L435.5 381.1 L436.5 381.1 L437.5 381.1 L438.5 381 L439.5 381 L440.5 381 L441.5 381 L442.5 380.9 L443.5 380.9 L444.5 380.8 L445.5 380.8 L446.5 380.7 L447.5 380.7 L448.5 380.7 L449.5 380.6 L450.5 380.6 L451.5 380.6 L452.5 380.5 L453.5 380.5 L454.5 380.5 L455.5 380.4 L456.5 380.4 L457.5 380.3 L458.5 380.3 L459.5 380.3 L460.5 380.2 L461.5 380.2 L462.5 380.1 L463.5 380.1 L464.5 380 L465.5 380 L466.5 380 L467.5 379.9 L468.5 379.9 L469.5 379.9 L470.5 379.8 L471.5 379.8 L472.5 379.7 L473.5 379.7 L474.5 379.7 L475.5 379.6 L476.5 379.6 L477.5 379.5 L478.5 379.5 L479.5 379.5 L480.5 379.4 L481.5 379.4 L482.5 379.3 L483.5 379.3 L484.5 379.3 L485.5 379.2 L486.5 379.2 L487.5 379.2 L488.5 379.1 L489.5 379.1 L490.5 379 L491.5 379 L492.5 379 L493.5 378.9 L494.5 378.8 L495.5 378.8 L496.5 378.8 L497.5 378.8 L498.5 378.7 L499.5 378.7 L500.5 378.7 L501.5 378.5 L502.5 378.5 L503.5 378.5 L504.5 378.4 L505.5 378.4 L506.5 378.3 L507.5 378.3 L508.5 378.3 L509.5 378.3 L510.5 378.2 L511.5 378.2 L512.5 378.1 L513.5 378.1 L514.5 378 L515.5 378 L516.5 377.9 L517.5 377.9 L518.5 377.9 L519.5 377.8 L520.5 377.8 L521.5 377.7 L522.5 377.7 L523.5 377.7 L524.5 377.7 L525.5 377.6 L526.5 377.6 L527.5 377.5 L528.5 377.5 L529.5 377.4 L530.5 377.3 L531.5 377.4 L532.5 377.3 L533.5 377.3 L534.5 377.3 L535.5 377.2 L536.5 377.2 L537.5 377.1 L538.5 376.9 L539.5 376.9 L540.5 376.9 L541.5 376.9 L542.5 376.8 L543.5 376.8 L544.5 376.8 L545.5 376.8 L546.5 376.7 L547.5 376.6 L548.5 376.6 L549.5 376.6 L550.5 376.5 L551.5 376.4 L552.5 376.4 L553.5 376.3 L554.5 376.2 L555.5 376.2 L556.5 371.9 L557.5 372.3 L558.5 372.5 L559.5 372.6 L560.5 372.8 L561.5 373.2 L562.5 373.4 L563.5 373.7 L564.5 373.9 L565.5 374.8 L566.5 376.4 L567.5 375.8 L568.5 375.3 L569.5 374.7 L570.5 374.4 L571.5 374.1 L572.5 373.9 L573.5 373.7 L574.5 373.6 L575.5 373.3 L576.5 373.1 L577.5 372.8 L578.5 372.7 L579.5 372.2 L580.5 371.1 L581.5 369.9 L582.5 368.5 L583.5 367.3 L584.5 366.1 L585.5 366.1 L586.5 367.4 L587.5 368.5 L588.5 368.5 L589.5 368.6 L590.5 368.8 L591.5 368.8 L592.5 368.8 L593.5 368.8 L594.5 368.9 L595.5 369.1 L596.5 369.1 L597.5 369.1 L598.5 369.1 L599.5 369.2 L600.5 369.4 L601.5 369.3 L602.5 369.4 L603.5 369.5 L604.5 369.5 L605.5 368.6 L606.5 367.4 L607.5 366.6 L608.5 366.9 L609.5 367.3 L610.5 367.5 L611.5 367.8 L612.5 368.1 L613.5 368.2 L614.5 368.2 L615.5 367.9 L616.5 367.4 L617.5 366.8 L618.5 366.2 L619.5 365.6 L620.5 365.3 L621.5 365.3 L622.5 365.4 L623.5 365.4 L624.5 365.4 L625.5 365.4 L626.5 365.4 L627.5 365.3 L628.5 365.3 L629.5 365.4 L630.5 365.4 L631.5 365.3 L632.5 365.4 L633.5 365.4 L634.5 365.3 L635.5 365.3 L636.5 365.3 L637.5 365.3 L638.5 365.3 L639.5 365.3 L640.5 365.3 L641.5 365.4 L642.5 364.7 L643.5 363.3 L644.5 361.9 L645.5 361.1 L646.5 360.8 L647.5 360.5 L648.5 360 L649.5 359.5 L650.5 359.2 L651.5 358.8 L652.5 358.5 L653.5 358.1 L654.5 357.8 L655.5 357.7 L656.5 357.7 L657.5 357.7 L658.5 357.6 L659.5 357.6 L660.5 357.7 L661.5 357.7 L662.5 357.5 L663.5 357.5 L664.5 357.5 L665.5 357.5 L666.5 357.4 L667.5 357.3 L668.5 357.2 L669.5 357.3 L670.5 357.3 L671.5 357.1 L672.5 357.2 L673.5 357.3 L674.5 357.2 L675.5 357 L676.5 356.9 L677.5 356.8 L678.5 356.8 L679.5 356.7 L680.5 356.6 L681.5 356.5 L682.5 356.1 L683.5 356 L684.5 355.6 L685.5 355.4 L686.5 355.4 L687.5 355.3 L688.5 355.1 L689.5 355 L690.5 354.7 L691.5 354.4 L692.5 353.9 L693.5 353.6 L694.5 353.3 L695.5 353 L696.5 352.5 L697.5 352.3 L698.5 351.8 L699.5 351.1 L700.5 350.7 L701.5 350.2 L702.5 349.7 L703.5 349.1 L704.5 348.9 L705.5 348.4 L706.5 347.8 L707.5 347.3 L708.5 346.7 L709.5 346.4 L710.5 346.1 L711.5 345.8 L712.5 345 L713.5 343.8 L714.5 342.7 L715.5 341.9 L716.5 341.6 L717.5 341 L718.5 340.7 L719.5 340.5 L720.5 340 L721.5 339.6 L722.5 339.3 L723.5 338.9 L724.5 338.4 L725.5 338.3 L726.5 338.1 L727.5 338.3 L728.5 338.2 L729.5 338.3 L730.5 337.8 L731.5 338.1 L732.5 337.6 L733.5 337.6 L734.5 337.1 L735.5 336.6 L736.5 336 L737.5 335.3 L738.5 334.8 L739.5 334.2 L740.5 333.7 L741.5 333.3 L742.5 333.3 L743.5 333.3 L744.5 333.2 L745.5 333.1 L746.5 333 L747.5 332.9 L748.5 332.8 L749.5 332.8 L750.5 330.7 L751.5 325.3 L752.5 320.2 L753.5 318.7 L754.5 318 L755.5 317.9 L756.5 317.4 L757.5 316.8 L758.5 316.7 L759.5 316.5 L760.5 317.6 L761.5 317.4 L762.5 317.1 L763.5 316.8 L764.5 316.8 L765.5 316.5 L766.5 316.5 L767.5 315.9 L768.5 315.8 L769.5 315.4 L770.5 315.1 L771.5 314.9 L772.5 314.6 L773.5 314.3 L774.5 314.5 L775.5 314.7 L776.5 314.5 L777.5 314.9 L778.5 315.2 L779.5 315.3 L780.5 315.5 L781.5 315.5 L782.5 315.8 L783.5 315.9 L784.5 316.2 L785.5 316 L786.5 316.2 L787.5 316.2 L788.5 316.4 L789.5 316 L790.5 315.7 L791.5 315.1 L792.5 314.6 L793.5 314 L794.5 313.8 L795.5 313.5 L796.5 313.2 L797.5 312.7 L798.5 312.4 L799.5 312 L800.5 311.6 L801.5 311.7 L802.5 311.5 L803.5 310.8 L804.5 310.5 L805.5 309.9 L806.5 309.4 L807.5 309.4 L808.5 309 L809.5 308.7 L810.5 308.6 L811.5 308 L812.5 308 L813.5 307.6 L814.5 307.3 L815.5 306.6 L816.5 306.4 L817.5 305.8 L818.5 305.8 L819.5 305.7 L820.5 305.9 L821.5 305.7 L822.5 305.6 L823.5 305.6 L824.5 305.1 L825.5 305.4 L826.5 305.4 L827.5 305.5 L828.5 305.5 L829.5 305.4 L830.5 305.1 L831.5 305.4 L832.5 305.6 L833.5 305.9 L834.5 306.4 L835.5 306.6 L836.5 307.3 L837.5 307.5 L838.5 307.6 L839.5 307.6 L840.5 308.4 L841.5 308.3 L842.5 308.7 L843.5 309 L844.5 309.6 L845.5 309.8 L846.5 309.6 L847.5 309.7 L848.5 309.7 L849.5 309.6 L850.5 309.8 L851.5 310.1 L852.5 309.9 L853.5 310.4 L854 310.5 L854 333.9 L853.5 334 L852.5 333.8 L851.5 334 L850.5 334.4 L849.5 334.3 L848.5 334.5 L847.5 334.7 L846.5 334.6 L845.5 334.8 L844.5 334.9 L843.5 334.7 L842.5 335 L841.5 334.9 L840.5 334.8 L839.5 334.2 L838.5 334.1 L837.5 333.5 L836.5 333.4 L835.5 332.9 L834.5 332.6 L833.5 332.2 L832.5 332.3 L831.5 332.2 L830.5 332.5 L829.5 332.9 L828.5 332.9 L827.5 333.1 L826.5 333.3 L825.5 333.4 L824.5 333.3 L823.5 333.6 L822.5 333.9 L821.5 334.3 L820.5 334.8 L819.5 335.2 L818.5 335.6 L817.5 336.1 L816.5 336.7 L815.5 337.1 L814.5 337.6 L813.5 337.9 L812.5 338.3 L811.5 338.5 L810.5 338.6 L809.5 339.1 L808.5 339.4 L807.5 339.9 L806.5 340 L805.5 340.3 L804.5 341 L803.5 341.4 L802.5 341.7 L801.5 342.2 L800.5 342.5 L799.5 343 L798.5 343.4 L797.5 343.9 L796.5 344.5 L795.5 345.1 L794.5 345.7 L793.5 345.9 L792.5 346.1 L791.5 346.3 L790.5 346.7 L789.5 347.1 L788.5 347.6 L787.5 347.8 L786.5 348 L785.5 347.7 L784.5 347.5 L783.5 347.1 L782.5 346.6 L781.5 346.2 L780.5 345.9 L779.5 345.5 L778.5 345.4 L777.5 344.9 L776.5 344.9 L775.5 345 L774.5 344.5 L773.5 344.4 L772.5 344.4 L771.5 344.3 L770.5 344.6 L769.5 344.8 L768.5 345.3 L767.5 345.8 L766.5 346.2 L765.5 346.5 L764.5 346.9 L763.5 346.3 L762.5 345.9 L761.5 345.6 L760.5 345.3 L759.5 344.6 L758.5 344 L757.5 343.5 L756.5 343.2 L755.5 343.3 L754.5 343.5 L753.5 343.6 L752.5 346.8 L751.5 350.8 L750.5 354.7 L749.5 356.2 L748.5 356.3 L747.5 356.3 L746.5 356.3 L745.5 356.5 L744.5 356.5 L743.5 356.7 L742.5 356.7 L741.5 356.5 L740.5 356.7 L739.5 357.2 L738.5 358.1 L737.5 358.7 L736.5 359.5 L735.5 359.6 L734.5 359.6 L733.5 359.8 L732.5 359.8 L731.5 360 L730.5 359.8 L729.5 360 L728.5 360 L727.5 360 L726.5 360 L725.5 360.1 L724.5 360.2 L723.5 360.3 L722.5 360.3 L721.5 360.4 L720.5 360.5 L719.5 360.4 L718.5 360.5 L717.5 360.5 L716.5 360.7 L715.5 360.7 L714.5 360.7 L713.5 360.9 L712.5 361 L711.5 360.9 L710.5 360.8 L709.5 360.6 L708.5 360.5 L707.5 360.6 L706.5 360.5 L705.5 360.5 L704.5 360.5 L703.5 360.4 L702.5 360.4 L701.5 360.3 L700.5 360.3 L699.5 360.5 L698.5 360.9 L697.5 361.2 L696.5 361.2 L695.5 361.6 L694.5 361.7 L693.5 361.9 L692.5 362.1 L691.5 362.3 L690.5 362.6 L689.5 362.9 L688.5 363.1 L687.5 363.3 L686.5 363.5 L685.5 363.6 L684.5 363.7 L683.5 363.7 L682.5 363.8 L681.5 363.9 L680.5 364 L679.5 363.9 L678.5 363.9 L677.5 363.9 L676.5 364 L675.5 364 L674.5 364.1 L673.5 364.2 L672.5 364.2 L671.5 364.2 L670.5 364.3 L669.5 364.2 L668.5 364.2 L667.5 364.2 L666.5 364.3 L665.5 364.4 L664.5 364.4 L663.5 364.4 L662.5 364.5 L661.5 364.6 L660.5 364.6 L659.5 364.5 L658.5 364.4 L657.5 364.5 L656.5 364.5 L655.5 364.6 L654.5 364.7 L653.5 365 L652.5 365.3 L651.5 365.5 L650.5 365.8 L649.5 366.1 L648.5 366.5 L647.5 366.8 L646.5 367.1 L645.5 367.3 L644.5 368 L643.5 369 L642.5 370.1 L641.5 370.7 L640.5 370.6 L639.5 370.5 L638.5 370.5 L637.5 370.5 L636.5 370.5 L635.5 370.4 L634.5 370.4 L633.5 370.4 L632.5 370.3 L631.5 370.2 L630.5 370.2 L629.5 370.2 L628.5 370.1 L627.5 370.1 L626.5 370.1 L625.5 370.1 L624.5 370.1 L623.5 370 L622.5 369.9 L621.5 369.8 L620.5 369.8 L619.5 370 L618.5 370.6 L617.5 371.3 L616.5 371.9 L615.5 372.4 L614.5 372.6 L613.5 372.2 L612.5 371.9 L611.5 371.6 L610.5 371.3 L609.5 371 L608.5 370.6 L607.5 370.3 L606.5 371.3 L605.5 372.7 L604.5 373.8 L603.5 373.7 L602.5 373.7 L601.5 373.6 L600.5 373.6 L599.5 373.5 L598.5 373.5 L597.5 373.4 L596.5 373.4 L595.5 373.4 L594.5 373.3 L593.5 373.3 L592.5 373.3 L591.5 373.3 L590.5 373.3 L589.5 373.1 L588.5 373.1 L587.5 373.1 L586.5 371.7 L585.5 369.9 L584.5 369.4 L583.5 370.2 L582.5 371 L581.5 372 L580.5 372.8 L579.5 373.6 L578.5 374 L577.5 374.2 L576.5 374.5 L575.5 374.8 L574.5 375.1 L573.5 375.4 L572.5 375.6 L571.5 375.9 L570.5 376.2 L569.5 376.5 L568.5 376.8 L567.5 377 L566.5 376.7 L565.5 375.3 L564.5 374.9 L563.5 375.1 L562.5 375.2 L561.5 375.4 L560.5 375.4 L559.5 375.6 L558.5 375.8 L557.5 375.9 L556.5 377.2 L555.5 380.7 L554.5 380.7 L553.5 380.8 L552.5 380.8 L551.5 380.8 L550.5 380.9 L549.5 380.9 L548.5 380.9 L547.5 381 L546.5 381 L545.5 381 L544.5 381.1 L543.5 381.1 L542.5 381.1 L541.5 381.1 L540.5 381.2 L539.5 381.2 L538.5 381.2 L537.5 381.3 L536.5 381.3 L535.5 381.3 L534.5 381.3 L533.5 381.4 L532.5 381.4 L531.5 381.4 L530.5 381.4 L529.5 381.5 L528.5 381.5 L527.5 381.6 L526.5 381.6 L525.5 381.6 L524.5 381.6 L523.5 381.7 L522.5 381.7 L521.5 381.7 L520.5 381.7 L519.5 381.8 L518.5 381.8 L517.5 381.8 L516.5 381.8 L515.5 381.9 L514.5 381.9 L513.5 381.9 L512.5 381.9 L511.5 382 L510.5 382 L509.5 382 L508.5 382.1 L507.5 382.1 L506.5 382.1 L505.5 382.1 L504.5 382.2 L503.5 382.2 L502.5 382.2 L501.5 382.3 L500.5 382.3 L499.5 382.3 L498.5 382.4 L497.5 382.4 L496.5 382.4 L495.5 382.4 L494.5 382.4 L493.5 382.5 L492.5 382.5 L491.5 382.6 L490.5 382.6 L489.5 382.6 L488.5 382.6 L487.5 382.6 L486.5 382.6 L485.5 382.6 L484.5 382.7 L483.5 382.7 L482.5 382.7 L481.5 382.7 L480.5 382.7 L479.5 382.8 L478.5 382.8 L477.5 382.8 L476.5 382.8 L475.5 382.8 L474.5 382.8 L473.5 382.8 L472.5 382.9 L471.5 382.9 L470.5 382.9 L469.5 382.9 L468.5 382.9 L467.5 382.9 L466.5 382.9 L465.5 383 L464.5 383 L463.5 383 L462.5 383 L461.5 383 L460.5 383 L459.5 383.1 L458.5 383.1 L457.5 383.1 L456.5 383.1 L455.5 383.1 L454.5 383.2 L453.5 383.2 L452.5 383.2 L451.5 383.2 L450.5 383.2 L449.5 383.2 L448.5 383.2 L447.5 383.3 L446.5 383.3 L445.5 383.3 L444.5 383.3 L443.5 383.3 L442.5 383.3 L441.5 383.4 L440.5 383.4 L439.5 383.4 L438.5 383.4 L437.5 383.4 L436.5 383.4 L435.5 383.4 L434.5 383.5 L433.5 383.5 L432.5 383.5 L431.5 383.5 L430.5 383.5 L429.5 383.5 L428.5 383.5 L427.5 383.6 L426.5 383.6 L425.5 383.6 L424.5 383.6 L423.5 383.6 L422.5 383.7 L421.5 383.7 L420.5 383.7 L419.5 383.7 L418.5 383.7 L417.5 383.7 L416.5 383.7 L415.5 383.7 L414.5 383.8 L413.5 383.8 L412.5 383.8 L411.5 383.8 L410.5 383.8 L409.5 383.8 L408.5 383.9 L407.5 383.9 L406.5 383.9 L405.5 383.9 L404.5 383.9 L403.5 383.9 L402.5 383.9 L401.5 384 L400.5 384 L399.5 384 L398.5 384 L397.5 384 L396.5 384 L395.5 384 L394.5 384 L393.5 384 L392.5 384 L391.5 384 L390.5 384 L389.5 384 L388.5 384 L387.5 384 L386.5 384 L385.5 384 L384.5 384 L383.5 384 L382.5 384 L381.5 384 L380.5 384 L379.5 384 L378.5 384 L377.5 384 L376.5 384 L375.5 384 L374.5 384 L373.5 384 L372.5 384 L371.5 384 L370.5 384 L369.5 384 L368.5 384 L367.5 384 L366.5 384 L365.5 384 L364.5 384 L363.5 384 L362.5 384 L361.5 384 L360.5 384 L359.5 384 L358.5 384.1 L357.5 384.1 L356.5 384.1 L355.5 384 L354.5 384 L353.5 384.1 L352.5 384.1 L351.5 384.1 L350.5 384.1 L349.5 384.1 L348.5 384.1 L347.5 384.1 L346.5 384.1 L345.5 384.1 L344.5 384.1 L343.5 384.1 L342.5 384.1 L341.5 384.1 L340.5 384.1 L339.5 384.1 L338.5 384.1 L337.5 384.1 L336.5 384.1 L335.5 384.1 L334.5 384.1 L333.5 384.1 L332.5 384.1 L331.5 384.1 L330.5 384.1 L329.5 384.1 L328.5 384.1 L327.5 384.1 L326.5 384.1 L325.5 384.1 L324.5 384.1 L323.5 384.1 L322.5 384.1 L321.5 384.1 L320.5 384.1 L319.5 384.1 L318.5 384.1 L317.5 384.1 L316.5 384.1 L315.5 384.1 L314.5 384.1 L313.5 384.1 L312.5 384.1 L311.5 384.1 L310.5 384.1 L309.5 384.1 L308.5 384.1 L307.5 384.1 L306.5 384.1 L305.5 384.1 L304.5 384.1 L303.5 384.1 L302.5 384.1 L301.5 384.1 L300.5 384.1 L299.5 384.1 L298.5 384.1 L297.5 384.1 L296.5 384.1 L295.5 384.1 L294.5 384.1 L293.5 384.1 L292.5 384.1 L291.5 384.1 L290.5 384.1 L289.5 384.1 L288.5 384.1 L287.5 384.1 L286.5 384.1 L285.5 384.1 L284.5 384.1 L283.5 384.1 L282.5 384.1 L281.5 384.1 L280.5 384.1 L279.5 384.1 L278.5 384.1 L277.5 384.1 L276.5 384.1 L275.5 384.1 L274.5 384.1 L273.5 384.1 L272.5 384.1 L271.5 384.1 L270.5 384.1 L269.5 384.1 L268.5 384.1 L267.5 384.1 L266.5 384.1 L265.5 384.1 L264.5 384.1 L263.5 384.1 L262.5 384.1 L261.5 384.1 L260.5 384.2 L259.5 384.2 L258.5 384.1 L257.5 384.1 L256.5 384.1 L255.5 384.2 L254.5 384.2 L253.5 384.2 L252.5 384.2 L251.5 384.2 L250.5 384.2 L249.5 384.2 L248.5 384.2 L247.5 384.1 L246.5 384.2 L245.5 384.2 L244.5 384.2 L243.5 384.2 L242.5 384.2 L241.5 384.2 L240.5 384.2 L239.5 384.2 L238.5 384.2 L237.5 384.2 L236.5 384.2 L235.5 384.2 L234.5 384.2 L233.5 384.2 L232.5 384.2 L231.5 384.2 L230.5 384.2 L229.5 384.2 L228.5 384.2 L227.5 384.2 L226.5 384.2 L225.5 384.2 L224.5 384.2 L223.5 384.2 L222.5 384.2 L221.5 384.2 L220.5 384.2 L219.5 384.2 L218.5 384.2 L217.5 384.2 L216.5 384.2 L215.5 384.2 L214.5 384.2 L213.5 384.2 L212.5 384.2 L211.5 384.2 L210.5 384.2 L209.5 384.2 L208.5 384.2 L207.5 384.2 L206.5 384.2 L205.5 384.2 L204.5 384.2 L203.5 384.2 L202.5 384.2 L201.5 384.2 L200.5 384.2 L199.5 384.2 L198.5 384.2 L197.5 384.2 L196.5 384.2 L195.5 384.2 L194.5 384.2 L193.5 384.2 L192.5 384.2 L191.5 384.2 L190.5 384.2 L189.5 384.2 L188.5 384.2 L187.5 384.2 L186.5 384.2 L185.5 384.2 L184.5 384.2 L183.5 384.2 L182.5 384.2 L181.5 384.2 L180.5 384.2 L179.5 384.2 L178.5 384.2 L177.5 384.2 L176.5 384.2 L175.5 384.2 L174.5 384.2 L173.5 384.2 L172.5 384.2 L171.5 384.2 L170.5 384.2 L169.5 384.2 L168.5 384.2 L167.5 384.2 L166.5 384.2 L165.5 384.2 L164.5 384.3 L163.5 384.3 L162.5 384.2 L161.5 384.3 L160.5 384.2 L159.5 384.2 L158.5 384.3 L157.5 384.3 L156.5 384.3 L155.5 384.3 L154.5 384.2 L153.5 384.2 L152.5 384.2 L151.5 384.2 L150.5 384.3 L149.5 384.3 L148.5 384.3 L147.5 384.2 L146.5 384.3 L145.5 384.3 L144.5 384.3 L143.5 384.3 L142.5 384.3 L141.5 384.3 L140.5 384.3 L139.5 384.3 L138.5 384.2 L137.5 384.3 L136.5 384.3 L135.5 384.3 L134.5 384.3 L133.5 384.3 L132.5 384.3 L131.5 384.3 L130.5 384.3 L129.5 384.3 L128.5 384.3 L127.5 384.3 L126.5 384.3 L125.5 384.3 L124.5 384.3 L123.5 384.3 L122.5 384.3 L121.5 384.3 L120.5 384.3 L119.5 384.3 L118.5 384.3 L117.5 384.3 L116.5 384.3 L115.5 384.3 L114.5 384.3 L113.5 384.3 L112.5 384.3 L111.5 384.3 L110.5 384.3 L109.5 384.3 L108.5 384.3 L107.5 384.3Z" fill="url(#g3)"/>
<path d="M107.5 381.4 L108.5 381.5 L109.5 381.5 L110.5 381.5 L111.5 381.6 L112.5 381.6 L113.5 381.6 L114.5 381.7 L115.5 381.8 L116.5 381.8 L117.5 381.8 L118.5 381.9 L119.5 381.9 L120.5 382 L121.5 382.1 L122.5 382.1 L123.5 382.2 L124.5 382.2 L125.5 382.2 L126.5 382.2 L127.5 382.2 L128.5 382.2 L129.5 382.2 L130.5 382.2 L131.5 382.2 L132.5 382.2 L133.5 382.2 L134.5 382.2 L135.5 382.3 L136.5 382.2 L137.5 382.2 L138.5 382.2 L139.5 382.2 L140.5 382.2 L141.5 382.2 L142.5 382.2 L143.5 382.2 L144.5 382.2 L145.5 382.3 L146.5 382.3 L147.5 382.3 L148.5 382.2 L149.5 382.2 L150.5 382.2 L151.5 382.3 L152.5 382.3 L153.5 382.3 L154.5 382.3 L155.5 382.3 L156.5 382.3 L157.5 382.3 L158.5 382.3 L159.5 382.3 L160.5 382.3 L161.5 382.3 L162.5 382.3 L163.5 382.3 L164.5 382.3 L165.5 382.3 L166.5 382.3 L167.5 382.3 L168.5 382.3 L169.5 382.3 L170.5 382.3 L171.5 382.3 L172.5 382.3 L173.5 382.3 L174.5 382.4 L175.5 382.3 L176.5 382.3 L177.5 382.3 L178.5 382.3 L179.5 382.3 L180.5 382.3 L181.5 382.3 L182.5 382.3 L183.5 382.3 L184.5 382.3 L185.5 382.3 L186.5 382.3 L187.5 382.3 L188.5 382.3 L189.5 382.3 L190.5 382.4 L191.5 382.4 L192.5 382.4 L193.5 382.3 L194.5 382.4 L195.5 382.4 L196.5 382.4 L197.5 382.4 L198.5 382.4 L199.5 382.4 L200.5 382.4 L201.5 382.4 L202.5 382.4 L203.5 382.4 L204.5 382.3 L205.5 382.4 L206.5 382.4 L207.5 382.4 L208.5 382.4 L209.5 382.4 L210.5 382.4 L211.5 382.4 L212.5 382.4 L213.5 382.4 L214.5 382.4 L215.5 382.4 L216.5 382.4 L217.5 382.4 L218.5 382.4 L219.5 382.4 L220.5 382.4 L221.5 382.4 L222.5 382.4 L223.5 382.5 L224.5 382.5 L225.5 382.4 L226.5 382.4 L227.5 382.4 L228.5 382.4 L229.5 382.4 L230.5 382.4 L231.5 382.4 L232.5 382.4 L233.5 382.5 L234.5 382.5 L235.5 382.4 L236.5 382.4 L237.5 382.4 L238.5 382.5 L239.5 382.5 L240.5 382.5 L241.5 382.5 L242.5 382.5 L243.5 382.5 L244.5 382.5 L245.5 382.5 L246.5 382.5 L247.5 382.5 L248.5 382.5 L249.5 382.5 L250.5 382.5 L251.5 382.5 L252.5 382.5 L253.5 382.5 L254.5 382.5 L255.5 382.5 L256.5 382.5 L257.5 382.5 L258.5 382.5 L259.5 382.5 L260.5 382.5 L261.5 382.5 L262.5 382.5 L263.5 382.5 L264.5 382.5 L265.5 382.5 L266.5 382.5 L267.5 382.5 L268.5 382.5 L269.5 382.5 L270.5 382.5 L271.5 382.5 L272.5 382.5 L273.5 382.5 L274.5 382.6 L275.5 382.5 L276.5 382.5 L277.5 382.5 L278.5 382.5 L279.5 382.6 L280.5 382.5 L281.5 382.6 L282.5 382.6 L283.5 382.6 L284.5 382.6 L285.5 382.6 L286.5 382.6 L287.5 382.6 L288.5 382.6 L289.5 382.6 L290.5 382.6 L291.5 382.6 L292.5 382.6 L293.5 382.6 L294.5 382.6 L295.5 382.6 L296.5 382.6 L297.5 382.6 L298.5 382.6 L299.5 382.6 L300.5 382.6 L301.5 382.5 L302.5 382.3 L303.5 382.1 L304.5 382 L305.5 381.8 L306.5 381.7 L307.5 381.5 L308.5 381.3 L309.5 381.2 L310.5 381.3 L311.5 381.3 L312.5 381.3 L313.5 381.3 L314.5 381.3 L315.5 381.4 L316.5 381.4 L317.5 381.4 L318.5 381.4 L319.5 381.4 L320.5 381.4 L321.5 381.5 L322.5 381.5 L323.5 381.5 L324.5 381.5 L325.5 381.6 L326.5 381.6 L327.5 381.6 L328.5 381.6 L329.5 381.7 L330.5 381.7 L331.5 381.7 L332.5 381.8 L333.5 381.7 L334.5 381.8 L335.5 381.8 L336.5 381.8 L337.5 381.9 L338.5 381.9 L339.5 381.9 L340.5 381.9 L341.5 381.9 L342.5 382 L343.5 382 L344.5 382 L345.5 382 L346.5 382 L347.5 382 L348.5 382 L349.5 382 L350.5 382 L351.5 382 L352.5 382 L353.5 382 L354.5 382 L355.5 382 L356.5 382 L357.5 382 L358.5 382 L359.5 382 L360.5 382 L361.5 382 L362.5 382 L363.5 382 L364.5 382.1 L365.5 382 L366.5 382 L367.5 382.1 L368.5 382 L369.5 382.1 L370.5 382 L371.5 382.1 L372.5 382.1 L373.5 382.1 L374.5 382.1 L375.5 382.1 L376.5 382.1 L377.5 382.1 L378.5 382.1 L379.5 382.1 L380.5 382.1 L381.5 382.1 L382.5 382 L383.5 382.1 L384.5 382.1 L385.5 382.1 L386.5 382.1 L387.5 382.1 L388.5 382.1 L389.5 382.1 L390.5 382.1 L391.5 382.1 L392.5 382.1 L393.5 382.1 L394.5 382.1 L395.5 382.1 L396.5 382.1 L397.5 382.1 L398.5 382.1 L399.5 382.1 L400.5 382.1 L401.5 382.1 L402.5 382 L403.5 382 L404.5 382 L405.5 381.9 L406.5 381.9 L407.5 381.9 L408.5 381.9 L409.5 381.8 L410.5 381.8 L411.5 381.8 L412.5 381.8 L413.5 381.7 L414.5 381.7 L415.5 381.7 L416.5 381.6 L417.5 381.6 L418.5 381.6 L419.5 381.6 L420.5 381.5 L421.5 381.5 L422.5 381.5 L423.5 381.5 L424.5 381.5 L425.5 381.4 L426.5 381.4 L427.5 381.3 L428.5 381.3 L429.5 381.3 L430.5 381.3 L431.5 381.2 L432.5 381.2 L433.5 381.2 L434.5 381.1 L435.5 381.1 L436.5 381.1 L437.5 381.1 L438.5 381 L439.5 381 L440.5 381 L441.5 381 L442.5 380.9 L443.5 380.9 L444.5 380.8 L445.5 380.8 L446.5 380.7 L447.5 380.7 L448.5 380.7 L449.5 380.6 L450.5 380.6 L451.5 380.6 L452.5 380.5 L453.5 380.5 L454.5 380.5 L455.5 380.4 L456.5 380.4 L457.5 380.3 L458.5 380.3 L459.5 380.3 L460.5 380.2 L461.5 380.2 L462.5 380.1 L463.5 380.1 L464.5 380 L465.5 380 L466.5 380 L467.5 379.9 L468.5 379.9 L469.5 379.9 L470.5 379.8 L471.5 379.8 L472.5 379.7 L473.5 379.7 L474.5 379.7 L475.5 379.6 L476.5 379.6 L477.5 379.5 L478.5 379.5 L479.5 379.5 L480.5 379.4 L481.5 379.4 L482.5 379.3 L483.5 379.3 L484.5 379.3 L485.5 379.2 L486.5 379.2 L487.5 379.2 L488.5 379.1 L489.5 379.1 L490.5 379 L491.5 379 L492.5 379 L493.5 378.9 L494.5 378.8 L495.5 378.8 L496.5 378.8 L497.5 378.8 L498.5 378.7 L499.5 378.7 L500.5 378.7 L501.5 378.5 L502.5 378.5 L503.5 378.5 L504.5 378.4 L505.5 378.4 L506.5 378.3 L507.5 378.3 L508.5 378.3 L509.5 378.3 L510.5 378.2 L511.5 378.2 L512.5 378.1 L513.5 378.1 L514.5 378 L515.5 378 L516.5 377.9 L517.5 377.9 L518.5 377.9 L519.5 377.8 L520.5 377.8 L521.5 377.7 L522.5 377.7 L523.5 377.7 L524.5 377.7 L525.5 377.6 L526.5 377.6 L527.5 377.5 L528.5 377.5 L529.5 377.4 L530.5 377.3 L531.5 377.4 L532.5 377.3 L533.5 377.3 L534.5 377.3 L535.5 377.2 L536.5 377.2 L537.5 377.1 L538.5 376.9 L539.5 376.9 L540.5 376.9 L541.5 376.9 L542.5 376.8 L543.5 376.8 L544.5 376.8 L545.5 376.8 L546.5 376.7 L547.5 376.6 L548.5 376.6 L549.5 376.6 L550.5 376.5 L551.5 376.4 L552.5 376.4 L553.5 376.3 L554.5 376.2 L555.5 376.2 L556.5 371.9 L557.5 372.3 L558.5 372.5 L559.5 372.6 L560.5 372.8 L561.5 373.2 L562.5 373.4 L563.5 373.7 L564.5 373.9 L565.5 374.8 L566.5 376.4 L567.5 375.8 L568.5 375.3 L569.5 374.7 L570.5 374.4 L571.5 374.1 L572.5 373.9 L573.5 373.7 L574.5 373.6 L575.5 373.3 L576.5 373.1 L577.5 372.8 L578.5 372.7 L579.5 372.2 L580.5 371.1 L581.5 369.9 L582.5 368.5 L583.5 367.3 L584.5 366.1 L585.5 366.1 L586.5 367.4 L587.5 368.5 L588.5 368.5 L589.5 368.6 L590.5 368.8 L591.5 368.8 L592.5 368.8 L593.5 368.8 L594.5 368.9 L595.5 369.1 L596.5 369.1 L597.5 369.1 L598.5 369.1 L599.5 369.2 L600.5 369.4 L601.5 369.3 L602.5 369.4 L603.5 369.5 L604.5 369.5 L605.5 368.6 L606.5 367.4 L607.5 366.6 L608.5 366.9 L609.5 367.3 L610.5 367.5 L611.5 367.8 L612.5 368.1 L613.5 368.2 L614.5 368.2 L615.5 367.9 L616.5 367.4 L617.5 366.8 L618.5 366.2 L619.5 365.6 L620.5 365.3 L621.5 365.3 L622.5 365.4 L623.5 365.4 L624.5 365.4 L625.5 365.4 L626.5 365.4 L627.5 365.3 L628.5 365.3 L629.5 365.4 L630.5 365.4 L631.5 365.3 L632.5 365.4 L633.5 365.4 L634.5 365.3 L635.5 365.3 L636.5 365.3 L637.5 365.3 L638.5 365.3 L639.5 365.3 L640.5 365.3 L641.5 365.4 L642.5 364.7 L643.5 363.3 L644.5 361.9 L645.5 361.1 L646.5 360.8 L647.5 360.5 L648.5 360 L649.5 359.5 L650.5 359.2 L651.5 358.8 L652.5 358.5 L653.5 358.1 L654.5 357.8 L655.5 357.7 L656.5 357.7 L657.5 357.7 L658.5 357.6 L659.5 357.6 L660.5 357.7 L661.5 357.7 L662.5 357.5 L663.5 357.5 L664.5 357.5 L665.5 357.5 L666.5 357.4 L667.5 357.3 L668.5 357.2 L669.5 357.3 L670.5 357.3 L671.5 357.1 L672.5 357.2 L673.5 357.3 L674.5 357.2 L675.5 357 L676.5 356.9 L677.5 356.8 L678.5 356.8 L679.5 356.7 L680.5 356.6 L681.5 356.5 L682.5 356.1 L683.5 356 L684.5 355.6 L685.5 355.4 L686.5 355.4 L687.5 355.3 L688.5 355.1 L689.5 355 L690.5 354.7 L691.5 354.4 L692.5 353.9 L693.5 353.6 L694.5 353.3 L695.5 353 L696.5 352.5 L697.5 352.3 L698.5 351.8 L699.5 351.1 L700.5 350.7 L701.5 350.2 L702.5 349.7 L703.5 349.1 L704.5 348.9 L705.5 348.4 L706.5 347.8 L707.5 347.3 L708.5 346.7 L709.5 346.4 L710.5 346.1 L711.5 345.8 L712.5 345 L713.5 343.8 L714.5 342.7 L715.5 341.9 L716.5 341.6 L717.5 341 L718.5 340.7 L719.5 340.5 L720.5 340 L721.5 339.6 L722.5 339.3 L723.5 338.9 L724.5 338.4 L725.5 338.3 L726.5 338.1 L727.5 338.3 L728.5 338.2 L729.5 338.3 L730.5 337.8 L731.5 338.1 L732.5 337.6 L733.5 337.6 L734.5 337.1 L735.5 336.6 L736.5 336 L737.5 335.3 L738.5 334.8 L739.5 334.2 L740.5 333.7 L741.5 333.3 L742.5 333.3 L743.5 333.3 L744.5 333.2 L745.5 333.1 L746.5 333 L747.5 332.9 L748.5 332.8 L749.5 332.8 L750.5 330.7 L751.5 325.3 L752.5 320.2 L753.5 318.7 L754.5 318 L755.5 317.9 L756.5 317.4 L757.5 316.8 L758.5 316.7 L759.5 316.5 L760.5 317.6 L761.5 317.4 L762.5 317.1 L763.5 316.8 L764.5 316.8 L765.5 316.5 L766.5 316.5 L767.5 315.9 L768.5 315.8 L769.5 315.4 L770.5 315.1 L771.5 314.9 L772.5 314.6 L773.5 314.3 L774.5 314.5 L775.5 314.7 L776.5 314.5 L777.5 314.9 L778.5 315.2 L779.5 315.3 L780.5 315.5 L781.5 315.5 L782.5 315.8 L783.5 315.9 L784.5 316.2 L785.5 316 L786.5 316.2 L787.5 316.2 L788.5 316.4 L789.5 316 L790.5 315.7 L791.5 315.1 L792.5 314.6 L793.5 314 L794.5 313.8 L795.5 313.5 L796.5 313.2 L797.5 312.7 L798.5 312.4 L799.5 312 L800.5 311.6 L801.5 311.7 L802.5 311.5 L803.5 310.8 L804.5 310.5 L805.5 309.9 L806.5 309.4 L807.5 309.4 L808.5 309 L809.5 308.7 L810.5 308.6 L811.5 308 L812.5 308 L813.5 307.6 L814.5 307.3 L815.5 306.6 L816.5 306.4 L817.5 305.8 L818.5 305.8 L819.5 305.7 L820.5 305.9 L821.5 305.7 L822.5 305.6 L823.5 305.6 L824.5 305.1 L825.5 305.4 L826.5 305.4 L827.5 305.5 L828.5 305.5 L829.5 305.4 L830.5 305.1 L831.5 305.4 L832.5 305.6 L833.5 305.9 L834.5 306.4 L835.5 306.6 L836.5 307.3 L837.5 307.5 L838.5 307.6 L839.5 307.6 L840.5 308.4 L841.5 308.3 L842.5 308.7 L843.5 309 L844.5 309.6 L845.5 309.8 L846.5 309.6 L847.5 309.7 L848.5 309.7 L849.5 309.6 L850.5 309.8 L851.5 310.1 L852.5 309.9 L853.5 310.4 L854 310.5" fill="none" stroke="#5ec8ef" stroke-width="1.6" stroke-linejoin="round"/>
<path d="M107.5 384.3 L108.5 384.3 L109.5 384.3 L110.5 384.3 L111.5 384.3 L112.5 384.3 L113.5 384.3 L114.5 384.3 L115.5 384.3 L116.5 384.3 L117.5 384.3 L118.5 384.3 L119.5 384.3 L120.5 384.3 L121.5 384.3 L122.5 384.3 L123.5 384.3 L124.5 384.3 L125.5 384.3 L126.5 384.3 L127.5 384.3 L128.5 384.3 L129.5 384.3 L130.5 384.3 L131.5 384.3 L132.5 384.3 L133.5 384.3 L134.5 384.3 L135.5 384.3 L136.5 384.3 L137.5 384.3 L138.5 384.2 L139.5 384.3 L140.5 384.3 L141.5 384.3 L142.5 384.3 L143.5 384.3 L144.5 384.3 L145.5 384.3 L146.5 384.3 L147.5 384.2 L148.5 384.3 L149.5 384.3 L150.5 384.3 L151.5 384.2 L152.5 384.2 L153.5 384.2 L154.5 384.2 L155.5 384.3 L156.5 384.3 L157.5 384.3 L158.5 384.3 L159.5 384.2 L160.5 384.2 L161.5 384.3 L162.5 384.2 L163.5 384.3 L164.5 384.3 L165.5 384.2 L166.5 384.2 L167.5 384.2 L168.5 384.2 L169.5 384.2 L170.5 384.2 L171.5 384.2 L172.5 384.2 L173.5 384.2 L174.5 384.2 L175.5 384.2 L176.5 384.2 L177.5 384.2 L178.5 384.2 L179.5 384.2 L180.5 384.2 L181.5 384.2 L182.5 384.2 L183.5 384.2 L184.5 384.2 L185.5 384.2 L186.5 384.2 L187.5 384.2 L188.5 384.2 L189.5 384.2 L190.5 384.2 L191.5 384.2 L192.5 384.2 L193.5 384.2 L194.5 384.2 L195.5 384.2 L196.5 384.2 L197.5 384.2 L198.5 384.2 L199.5 384.2 L200.5 384.2 L201.5 384.2 L202.5 384.2 L203.5 384.2 L204.5 384.2 L205.5 384.2 L206.5 384.2 L207.5 384.2 L208.5 384.2 L209.5 384.2 L210.5 384.2 L211.5 384.2 L212.5 384.2 L213.5 384.2 L214.5 384.2 L215.5 384.2 L216.5 384.2 L217.5 384.2 L218.5 384.2 L219.5 384.2 L220.5 384.2 L221.5 384.2 L222.5 384.2 L223.5 384.2 L224.5 384.2 L225.5 384.2 L226.5 384.2 L227.5 384.2 L228.5 384.2 L229.5 384.2 L230.5 384.2 L231.5 384.2 L232.5 384.2 L233.5 384.2 L234.5 384.2 L235.5 384.2 L236.5 384.2 L237.5 384.2 L238.5 384.2 L239.5 384.2 L240.5 384.2 L241.5 384.2 L242.5 384.2 L243.5 384.2 L244.5 384.2 L245.5 384.2 L246.5 384.2 L247.5 384.1 L248.5 384.2 L249.5 384.2 L250.5 384.2 L251.5 384.2 L252.5 384.2 L253.5 384.2 L254.5 384.2 L255.5 384.2 L256.5 384.1 L257.5 384.1 L258.5 384.1 L259.5 384.2 L260.5 384.2 L261.5 384.1 L262.5 384.1 L263.5 384.1 L264.5 384.1 L265.5 384.1 L266.5 384.1 L267.5 384.1 L268.5 384.1 L269.5 384.1 L270.5 384.1 L271.5 384.1 L272.5 384.1 L273.5 384.1 L274.5 384.1 L275.5 384.1 L276.5 384.1 L277.5 384.1 L278.5 384.1 L279.5 384.1 L280.5 384.1 L281.5 384.1 L282.5 384.1 L283.5 384.1 L284.5 384.1 L285.5 384.1 L286.5 384.1 L287.5 384.1 L288.5 384.1 L289.5 384.1 L290.5 384.1 L291.5 384.1 L292.5 384.1 L293.5 384.1 L294.5 384.1 L295.5 384.1 L296.5 384.1 L297.5 384.1 L298.5 384.1 L299.5 384.1 L300.5 384.1 L301.5 384.1 L302.5 384.1 L303.5 384.1 L304.5 384.1 L305.5 384.1 L306.5 384.1 L307.5 384.1 L308.5 384.1 L309.5 384.1 L310.5 384.1 L311.5 384.1 L312.5 384.1 L313.5 384.1 L314.5 384.1 L315.5 384.1 L316.5 384.1 L317.5 384.1 L318.5 384.1 L319.5 384.1 L320.5 384.1 L321.5 384.1 L322.5 384.1 L323.5 384.1 L324.5 384.1 L325.5 384.1 L326.5 384.1 L327.5 384.1 L328.5 384.1 L329.5 384.1 L330.5 384.1 L331.5 384.1 L332.5 384.1 L333.5 384.1 L334.5 384.1 L335.5 384.1 L336.5 384.1 L337.5 384.1 L338.5 384.1 L339.5 384.1 L340.5 384.1 L341.5 384.1 L342.5 384.1 L343.5 384.1 L344.5 384.1 L345.5 384.1 L346.5 384.1 L347.5 384.1 L348.5 384.1 L349.5 384.1 L350.5 384.1 L351.5 384.1 L352.5 384.1 L353.5 384.1 L354.5 384 L355.5 384 L356.5 384.1 L357.5 384.1 L358.5 384.1 L359.5 384 L360.5 384 L361.5 384 L362.5 384 L363.5 384 L364.5 384 L365.5 384 L366.5 384 L367.5 384 L368.5 384 L369.5 384 L370.5 384 L371.5 384 L372.5 384 L373.5 384 L374.5 384 L375.5 384 L376.5 384 L377.5 384 L378.5 384 L379.5 384 L380.5 384 L381.5 384 L382.5 384 L383.5 384 L384.5 384 L385.5 384 L386.5 384 L387.5 384 L388.5 384 L389.5 384 L390.5 384 L391.5 384 L392.5 384 L393.5 384 L394.5 384 L395.5 384 L396.5 384 L397.5 384 L398.5 384 L399.5 384 L400.5 384 L401.5 384 L402.5 383.9 L403.5 383.9 L404.5 383.9 L405.5 383.9 L406.5 383.9 L407.5 383.9 L408.5 383.9 L409.5 383.8 L410.5 383.8 L411.5 383.8 L412.5 383.8 L413.5 383.8 L414.5 383.8 L415.5 383.7 L416.5 383.7 L417.5 383.7 L418.5 383.7 L419.5 383.7 L420.5 383.7 L421.5 383.7 L422.5 383.7 L423.5 383.6 L424.5 383.6 L425.5 383.6 L426.5 383.6 L427.5 383.6 L428.5 383.5 L429.5 383.5 L430.5 383.5 L431.5 383.5 L432.5 383.5 L433.5 383.5 L434.5 383.5 L435.5 383.4 L436.5 383.4 L437.5 383.4 L438.5 383.4 L439.5 383.4 L440.5 383.4 L441.5 383.4 L442.5 383.3 L443.5 383.3 L444.5 383.3 L445.5 383.3 L446.5 383.3 L447.5 383.3 L448.5 383.2 L449.5 383.2 L450.5 383.2 L451.5 383.2 L452.5 383.2 L453.5 383.2 L454.5 383.2 L455.5 383.1 L456.5 383.1 L457.5 383.1 L458.5 383.1 L459.5 383.1 L460.5 383 L461.5 383 L462.5 383 L463.5 383 L464.5 383 L465.5 383 L466.5 382.9 L467.5 382.9 L468.5 382.9 L469.5 382.9 L470.5 382.9 L471.5 382.9 L472.5 382.9 L473.5 382.8 L474.5 382.8 L475.5 382.8 L476.5 382.8 L477.5 382.8 L478.5 382.8 L479.5 382.8 L480.5 382.7 L481.5 382.7 L482.5 382.7 L483.5 382.7 L484.5 382.7 L485.5 382.6 L486.5 382.6 L487.5 382.6 L488.5 382.6 L489.5 382.6 L490.5 382.6 L491.5 382.6 L492.5 382.5 L493.5 382.5 L494.5 382.4 L495.5 382.4 L496.5 382.4 L497.5 382.4 L498.5 382.4 L499.5 382.3 L500.5 382.3 L501.5 382.3 L502.5 382.2 L503.5 382.2 L504.5 382.2 L505.5 382.1 L506.5 382.1 L507.5 382.1 L508.5 382.1 L509.5 382 L510.5 382 L511.5 382 L512.5 381.9 L513.5 381.9 L514.5 381.9 L515.5 381.9 L516.5 381.8 L517.5 381.8 L518.5 381.8 L519.5 381.8 L520.5 381.7 L521.5 381.7 L522.5 381.7 L523.5 381.7 L524.5 381.6 L525.5 381.6 L526.5 381.6 L527.5 381.6 L528.5 381.5 L529.5 381.5 L530.5 381.4 L531.5 381.4 L532.5 381.4 L533.5 381.4 L534.5 381.3 L535.5 381.3 L536.5 381.3 L537.5 381.3 L538.5 381.2 L539.5 381.2 L540.5 381.2 L541.5 381.1 L542.5 381.1 L543.5 381.1 L544.5 381.1 L545.5 381 L546.5 381 L547.5 381 L548.5 380.9 L549.5 380.9 L550.5 380.9 L551.5 380.8 L552.5 380.8 L553.5 380.8 L554.5 380.7 L555.5 380.7 L556.5 377.2 L557.5 375.9 L558.5 375.8 L559.5 375.6 L560.5 375.4 L561.5 375.4 L562.5 375.2 L563.5 375.1 L564.5 374.9 L565.5 375.3 L566.5 376.7 L567.5 377 L568.5 376.8 L569.5 376.5 L570.5 376.2 L571.5 375.9 L572.5 375.6 L573.5 375.4 L574.5 375.1 L575.5 374.8 L576.5 374.5 L577.5 374.2 L578.5 374 L579.5 373.6 L580.5 372.8 L581.5 372 L582.5 371 L583.5 370.2 L584.5 369.4 L585.5 369.9 L586.5 371.7 L587.5 373.1 L588.5 373.1 L589.5 373.1 L590.5 373.3 L591.5 373.3 L592.5 373.3 L593.5 373.3 L594.5 373.3 L595.5 373.4 L596.5 373.4 L597.5 373.4 L598.5 373.5 L599.5 373.5 L600.5 373.6 L601.5 373.6 L602.5 373.7 L603.5 373.7 L604.5 373.8 L605.5 372.7 L606.5 371.3 L607.5 370.3 L608.5 370.6 L609.5 371 L610.5 371.3 L611.5 371.6 L612.5 371.9 L613.5 372.2 L614.5 372.6 L615.5 372.4 L616.5 371.9 L617.5 371.3 L618.5 370.6 L619.5 370 L620.5 369.8 L621.5 369.8 L622.5 369.9 L623.5 370 L624.5 370.1 L625.5 370.1 L626.5 370.1 L627.5 370.1 L628.5 370.1 L629.5 370.2 L630.5 370.2 L631.5 370.2 L632.5 370.3 L633.5 370.4 L634.5 370.4 L635.5 370.4 L636.5 370.5 L637.5 370.5 L638.5 370.5 L639.5 370.5 L640.5 370.6 L641.5 370.7 L642.5 370.1 L643.5 369 L644.5 368 L645.5 367.3 L646.5 367.1 L647.5 366.8 L648.5 366.5 L649.5 366.1 L650.5 365.8 L651.5 365.5 L652.5 365.3 L653.5 365 L654.5 364.7 L655.5 364.6 L656.5 364.5 L657.5 364.5 L658.5 364.4 L659.5 364.5 L660.5 364.6 L661.5 364.6 L662.5 364.5 L663.5 364.4 L664.5 364.4 L665.5 364.4 L666.5 364.3 L667.5 364.2 L668.5 364.2 L669.5 364.2 L670.5 364.3 L671.5 364.2 L672.5 364.2 L673.5 364.2 L674.5 364.1 L675.5 364 L676.5 364 L677.5 363.9 L678.5 363.9 L679.5 363.9 L680.5 364 L681.5 363.9 L682.5 363.8 L683.5 363.7 L684.5 363.7 L685.5 363.6 L686.5 363.5 L687.5 363.3 L688.5 363.1 L689.5 362.9 L690.5 362.6 L691.5 362.3 L692.5 362.1 L693.5 361.9 L694.5 361.7 L695.5 361.6 L696.5 361.2 L697.5 361.2 L698.5 360.9 L699.5 360.5 L700.5 360.3 L701.5 360.3 L702.5 360.4 L703.5 360.4 L704.5 360.5 L705.5 360.5 L706.5 360.5 L707.5 360.6 L708.5 360.5 L709.5 360.6 L710.5 360.8 L711.5 360.9 L712.5 361 L713.5 360.9 L714.5 360.7 L715.5 360.7 L716.5 360.7 L717.5 360.5 L718.5 360.5 L719.5 360.4 L720.5 360.5 L721.5 360.4 L722.5 360.3 L723.5 360.3 L724.5 360.2 L725.5 360.1 L726.5 360 L727.5 360 L728.5 360 L729.5 360 L730.5 359.8 L731.5 360 L732.5 359.8 L733.5 359.8 L734.5 359.6 L735.5 359.6 L736.5 359.5 L737.5 358.7 L738.5 358.1 L739.5 357.2 L740.5 356.7 L741.5 356.5 L742.5 356.7 L743.5 356.7 L744.5 356.5 L745.5 356.5 L746.5 356.3 L747.5 356.3 L748.5 356.3 L749.5 356.2 L750.5 354.7 L751.5 350.8 L752.5 346.8 L753.5 343.6 L754.5 343.5 L755.5 343.3 L756.5 343.2 L757.5 343.5 L758.5 344 L759.5 344.6 L760.5 345.3 L761.5 345.6 L762.5 345.9 L763.5 346.3 L764.5 346.9 L765.5 346.5 L766.5 346.2 L767.5 345.8 L768.5 345.3 L769.5 344.8 L770.5 344.6 L771.5 344.3 L772.5 344.4 L773.5 344.4 L774.5 344.5 L775.5 345 L776.5 344.9 L777.5 344.9 L778.5 345.4 L779.5 345.5 L780.5 345.9 L781.5 346.2 L782.5 346.6 L783.5 347.1 L784.5 347.5 L785.5 347.7 L786.5 348 L787.5 347.8 L788.5 347.6 L789.5 347.1 L790.5 346.7 L791.5 346.3 L792.5 346.1 L793.5 345.9 L794.5 345.7 L795.5 345.1 L796.5 344.5 L797.5 343.9 L798.5 343.4 L799.5 343 L800.5 342.5 L801.5 342.2 L802.5 341.7 L803.5 341.4 L804.5 341 L805.5 340.3 L806.5 340 L807.5 339.9 L808.5 339.4 L809.5 339.1 L810.5 338.6 L811.5 338.5 L812.5 338.3 L813.5 337.9 L814.5 337.6 L815.5 337.1 L816.5 336.7 L817.5 336.1 L818.5 335.6 L819.5 335.2 L820.5 334.8 L821.5 334.3 L822.5 333.9 L823.5 333.6 L824.5 333.3 L825.5 333.4 L826.5 333.3 L827.5 333.1 L828.5 332.9 L829.5 332.9 L830.5 332.5 L831.5 332.2 L832.5 332.3 L833.5 332.2 L834.5 332.6 L835.5 332.9 L836.5 333.4 L837.5 333.5 L838.5 334.1 L839.5 334.2 L840.5 334.8 L841.5 334.9 L842.5 335 L843.5 334.7 L844.5 334.9 L845.5 334.8 L846.5 334.6 L847.5 334.7 L848.5 334.5 L849.5 334.3 L850.5 334.4 L851.5 334 L852.5 333.8 L853.5 334 L854 333.9 L854 353.9 L853.5 353.9 L852.5 353.7 L851.5 353.8 L850.5 353.9 L849.5 354 L848.5 354.3 L847.5 354.4 L846.5 354.5 L845.5 354.4 L844.5 354.4 L843.5 354.4 L842.5 354.5 L841.5 354.5 L840.5 354.3 L839.5 354 L838.5 353.9 L837.5 353.6 L836.5 353.4 L835.5 353.1 L834.5 353 L833.5 352.7 L832.5 352.6 L831.5 352.7 L830.5 353 L829.5 353.1 L828.5 353.1 L827.5 353 L826.5 353 L825.5 353.2 L824.5 353.2 L823.5 353.5 L822.5 353.7 L821.5 353.8 L820.5 354 L819.5 354.3 L818.5 354.4 L817.5 354.9 L816.5 355.2 L815.5 355.5 L814.5 356 L813.5 356 L812.5 356.3 L811.5 356.4 L810.5 356.6 L809.5 357 L808.5 357.2 L807.5 357.4 L806.5 357.4 L805.5 357.8 L804.5 358.3 L803.5 358.3 L802.5 358.7 L801.5 359 L800.5 359.1 L799.5 359.4 L798.5 359.6 L797.5 359.8 L796.5 359.9 L795.5 360.1 L794.5 360.3 L793.5 360.5 L792.5 360.6 L791.5 360.7 L790.5 361 L789.5 361.3 L788.5 361.7 L787.5 361.9 L786.5 361.9 L785.5 361.7 L784.5 361.5 L783.5 361.2 L782.5 361 L781.5 360.8 L780.5 360.5 L779.5 360.4 L778.5 360.3 L777.5 360 L776.5 359.8 L775.5 359.8 L774.5 359.4 L773.5 359.3 L772.5 359.1 L771.5 359.1 L770.5 359 L769.5 358.9 L768.5 359.1 L767.5 359.1 L766.5 359.1 L765.5 359 L764.5 359.2 L763.5 359.1 L762.5 359.1 L761.5 359.3 L760.5 359.4 L759.5 359.4 L758.5 359.3 L757.5 359.3 L756.5 359.2 L755.5 359.1 L754.5 359 L753.5 359.1 L752.5 359.1 L751.5 361.6 L750.5 365 L749.5 366.4 L748.5 366.9 L747.5 367.1 L746.5 367.1 L745.5 367.3 L744.5 367.4 L743.5 367.5 L742.5 367.6 L741.5 367.6 L740.5 367.8 L739.5 367.7 L738.5 367.8 L737.5 367.8 L736.5 367.9 L735.5 367.9 L734.5 367.9 L733.5 368.1 L732.5 368.1 L731.5 368.3 L730.5 368.3 L729.5 368.3 L728.5 368.4 L727.5 368.4 L726.5 368.5 L725.5 368.6 L724.5 368.7 L723.5 368.8 L722.5 368.9 L721.5 368.9 L720.5 369.1 L719.5 369.1 L718.5 369.3 L717.5 369.3 L716.5 369.5 L715.5 369.7 L714.5 369.7 L713.5 369.8 L712.5 370 L711.5 370 L710.5 370.1 L709.5 370.1 L708.5 370.2 L707.5 370.2 L706.5 370.3 L705.5 370.5 L704.5 370.6 L703.5 370.6 L702.5 370.7 L701.5 370.7 L700.5 370.9 L699.5 370.9 L698.5 371 L697.5 371.2 L696.5 371.2 L695.5 371.3 L694.5 371.4 L693.5 371.5 L692.5 371.6 L691.5 371.7 L690.5 371.8 L689.5 372 L688.5 372.2 L687.5 372.3 L686.5 372.5 L685.5 372.6 L684.5 372.7 L683.5 372.8 L682.5 372.9 L681.5 372.9 L680.5 373 L679.5 373 L678.5 373.1 L677.5 373.1 L676.5 373.2 L675.5 373.2 L674.5 373.3 L673.5 373.4 L672.5 373.4 L671.5 373.5 L670.5 373.5 L669.5 373.5 L668.5 373.6 L667.5 373.6 L666.5 373.7 L665.5 373.8 L664.5 373.9 L663.5 373.8 L662.5 373.7 L661.5 373.6 L660.5 373.5 L659.5 373.3 L658.5 373.2 L657.5 373.1 L656.5 372.9 L655.5 372.8 L654.5 372.8 L653.5 372.9 L652.5 373 L651.5 373 L650.5 373.2 L649.5 373.3 L648.5 373.5 L647.5 373.6 L646.5 373.7 L645.5 373.8 L644.5 373.8 L643.5 374.1 L642.5 374.4 L641.5 374.7 L640.5 374.9 L639.5 375.1 L638.5 375 L637.5 375 L636.5 374.9 L635.5 374.8 L634.5 374.7 L633.5 374.6 L632.5 374.5 L631.5 374.4 L630.5 374.3 L629.5 374.2 L628.5 374.1 L627.5 374 L626.5 374 L625.5 373.9 L624.5 373.8 L623.5 373.7 L622.5 373.6 L621.5 373.5 L620.5 374 L619.5 374.5 L618.5 375 L617.5 375.6 L616.5 376.1 L615.5 376.6 L614.5 376.6 L613.5 376.2 L612.5 375.8 L611.5 375.5 L610.5 375 L609.5 374.6 L608.5 374.2 L607.5 373.9 L606.5 374.4 L605.5 375.3 L604.5 376 L603.5 376 L602.5 375.9 L601.5 375.8 L600.5 375.8 L599.5 375.7 L598.5 375.5 L597.5 375.5 L596.5 375.4 L595.5 375.4 L594.5 375.3 L593.5 375.2 L592.5 375.1 L591.5 375.1 L590.5 375.1 L589.5 374.9 L588.5 374.9 L587.5 374.8 L586.5 373.6 L585.5 372.1 L584.5 371.7 L583.5 372.5 L582.5 373.3 L581.5 374.3 L580.5 375.1 L579.5 375.9 L578.5 376.3 L577.5 376.5 L576.5 376.8 L575.5 377.1 L574.5 377.4 L573.5 377.6 L572.5 377.9 L571.5 378.2 L570.5 378.5 L569.5 378.8 L568.5 379.1 L567.5 379.3 L566.5 379.2 L565.5 378.6 L564.5 378.3 L563.5 378.2 L562.5 378 L561.5 377.9 L560.5 377.7 L559.5 377.6 L558.5 377.5 L557.5 377.4 L556.5 377.2 L555.5 381.8 L554.5 381.8 L553.5 381.8 L552.5 381.8 L551.5 381.8 L550.5 381.8 L549.5 381.8 L548.5 381.8 L547.5 381.9 L546.5 381.9 L545.5 381.9 L544.5 381.9 L543.5 381.9 L542.5 381.9 L541.5 381.9 L540.5 381.9 L539.5 382 L538.5 382 L537.5 382 L536.5 382 L535.5 382.1 L534.5 382.1 L533.5 382.1 L532.5 382.1 L531.5 382.1 L530.5 382.1 L529.5 382.1 L528.5 382.1 L527.5 382.2 L526.5 382.2 L525.5 382.2 L524.5 382.2 L523.5 382.3 L522.5 382.3 L521.5 382.3 L520.5 382.3 L519.5 382.3 L518.5 382.3 L517.5 382.3 L516.5 382.4 L515.5 382.4 L514.5 382.4 L513.5 382.4 L512.5 382.4 L511.5 382.5 L510.5 382.4 L509.5 382.5 L508.5 382.5 L507.5 382.5 L506.5 382.5 L505.5 382.5 L504.5 382.5 L503.5 382.6 L502.5 382.6 L501.5 382.6 L500.5 382.6 L499.5 382.6 L498.5 382.7 L497.5 382.7 L496.5 382.7 L495.5 382.7 L494.5 382.7 L493.5 382.7 L492.5 382.8 L491.5 382.8 L490.5 382.8 L489.5 382.8 L488.5 382.8 L487.5 382.8 L486.5 382.8 L485.5 382.9 L484.5 382.9 L483.5 382.9 L482.5 382.9 L481.5 382.9 L480.5 383 L479.5 383 L478.5 383 L477.5 383 L476.5 383 L475.5 383 L474.5 383 L473.5 383.1 L472.5 383.1 L471.5 383.1 L470.5 383.1 L469.5 383.1 L468.5 383.2 L467.5 383.2 L466.5 383.2 L465.5 383.2 L464.5 383.2 L463.5 383.2 L462.5 383.2 L461.5 383.3 L460.5 383.3 L459.5 383.3 L458.5 383.3 L457.5 383.3 L456.5 383.4 L455.5 383.4 L454.5 383.4 L453.5 383.4 L452.5 383.4 L451.5 383.5 L450.5 383.5 L449.5 383.5 L448.5 383.5 L447.5 383.5 L446.5 383.5 L445.5 383.5 L444.5 383.6 L443.5 383.6 L442.5 383.6 L441.5 383.6 L440.5 383.6 L439.5 383.7 L438.5 383.6 L437.5 383.7 L436.5 383.7 L435.5 383.7 L434.5 383.7 L433.5 383.7 L432.5 383.8 L431.5 383.8 L430.5 383.8 L429.5 383.8 L428.5 383.8 L427.5 383.8 L426.5 383.9 L425.5 383.9 L424.5 383.9 L423.5 383.9 L422.5 383.9 L421.5 383.9 L420.5 383.9 L419.5 384 L418.5 384 L417.5 384 L416.5 384 L415.5 384 L414.5 384 L413.5 384 L412.5 384 L411.5 384 L410.5 384 L409.5 384 L408.5 384 L407.5 384 L406.5 384 L405.5 384 L404.5 384 L403.5 384.1 L402.5 384.1 L401.5 384.1 L400.5 384.1 L399.5 384.1 L398.5 384.1 L397.5 384.1 L396.5 384.1 L395.5 384.1 L394.5 384.1 L393.5 384.1 L392.5 384.1 L391.5 384.1 L390.5 384.1 L389.5 384.1 L388.5 384.1 L387.5 384.1 L386.5 384.1 L385.5 384.1 L384.5 384.1 L383.5 384.1 L382.5 384.1 L381.5 384.1 L380.5 384.2 L379.5 384.2 L378.5 384.2 L377.5 384.2 L376.5 384.2 L375.5 384.2 L374.5 384.2 L373.5 384.2 L372.5 384.2 L371.5 384.2 L370.5 384.2 L369.5 384.2 L368.5 384.2 L367.5 384.2 L366.5 384.2 L365.5 384.2 L364.5 384.2 L363.5 384.2 L362.5 384.2 L361.5 384.2 L360.5 384.2 L359.5 384.2 L358.5 384.2 L357.5 384.2 L356.5 384.2 L355.5 384.2 L354.5 384.2 L353.5 384.2 L352.5 384.2 L351.5 384.2 L350.5 384.2 L349.5 384.2 L348.5 384.3 L347.5 384.3 L346.5 384.3 L345.5 384.3 L344.5 384.3 L343.5 384.3 L342.5 384.3 L341.5 384.3 L340.5 384.3 L339.5 384.3 L338.5 384.3 L337.5 384.3 L336.5 384.3 L335.5 384.3 L334.5 384.3 L333.5 384.3 L332.5 384.3 L331.5 384.3 L330.5 384.3 L329.5 384.3 L328.5 384.3 L327.5 384.3 L326.5 384.3 L325.5 384.3 L324.5 384.3 L323.5 384.3 L322.5 384.3 L321.5 384.3 L320.5 384.3 L319.5 384.3 L318.5 384.3 L317.5 384.3 L316.5 384.3 L315.5 384.3 L314.5 384.3 L313.5 384.3 L312.5 384.3 L311.5 384.3 L310.5 384.3 L309.5 384.3 L308.5 384.4 L307.5 384.4 L306.5 384.4 L305.5 384.4 L304.5 384.3 L303.5 384.4 L302.5 384.4 L301.5 384.4 L300.5 384.4 L299.5 384.4 L298.5 384.4 L297.5 384.4 L296.5 384.4 L295.5 384.4 L294.5 384.4 L293.5 384.4 L292.5 384.4 L291.5 384.4 L290.5 384.4 L289.5 384.4 L288.5 384.4 L287.5 384.4 L286.5 384.4 L285.5 384.4 L284.5 384.4 L283.5 384.4 L282.5 384.4 L281.5 384.4 L280.5 384.4 L279.5 384.4 L278.5 384.4 L277.5 384.4 L276.5 384.4 L275.5 384.4 L274.5 384.4 L273.5 384.4 L272.5 384.4 L271.5 384.4 L270.5 384.4 L269.5 384.4 L268.5 384.5 L267.5 384.5 L266.5 384.5 L265.5 384.5 L264.5 384.5 L263.5 384.5 L262.5 384.5 L261.5 384.5 L260.5 384.5 L259.5 384.5 L258.5 384.5 L257.5 384.5 L256.5 384.5 L255.5 384.5 L254.5 384.5 L253.5 384.5 L252.5 384.5 L251.5 384.5 L250.5 384.5 L249.5 384.5 L248.5 384.5 L247.5 384.5 L246.5 384.5 L245.5 384.5 L244.5 384.5 L243.5 384.5 L242.5 384.5 L241.5 384.5 L240.5 384.5 L239.5 384.5 L238.5 384.5 L237.5 384.5 L236.5 384.5 L235.5 384.5 L234.5 384.5 L233.5 384.5 L232.5 384.5 L231.5 384.5 L230.5 384.5 L229.5 384.5 L228.5 384.5 L227.5 384.5 L226.5 384.5 L225.5 384.5 L224.5 384.5 L223.5 384.5 L222.5 384.5 L221.5 384.5 L220.5 384.5 L219.5 384.5 L218.5 384.5 L217.5 384.5 L216.5 384.5 L215.5 384.5 L214.5 384.5 L213.5 384.5 L212.5 384.5 L211.5 384.5 L210.5 384.5 L209.5 384.5 L208.5 384.5 L207.5 384.5 L206.5 384.5 L205.5 384.5 L204.5 384.5 L203.5 384.5 L202.5 384.5 L201.5 384.5 L200.5 384.5 L199.5 384.5 L198.5 384.5 L197.5 384.5 L196.5 384.5 L195.5 384.5 L194.5 384.5 L193.5 384.5 L192.5 384.5 L191.5 384.5 L190.5 384.5 L189.5 384.5 L188.5 384.5 L187.5 384.5 L186.5 384.5 L185.5 384.5 L184.5 384.5 L183.5 384.5 L182.5 384.5 L181.5 384.5 L180.5 384.5 L179.5 384.5 L178.5 384.5 L177.5 384.5 L176.5 384.5 L175.5 384.5 L174.5 384.5 L173.5 384.5 L172.5 384.5 L171.5 384.5 L170.5 384.5 L169.5 384.5 L168.5 384.5 L167.5 384.5 L166.5 384.5 L165.5 384.5 L164.5 384.5 L163.5 384.5 L162.5 384.5 L161.5 384.5 L160.5 384.5 L159.5 384.5 L158.5 384.5 L157.5 384.5 L156.5 384.5 L155.5 384.5 L154.5 384.5 L153.5 384.5 L152.5 384.5 L151.5 384.5 L150.5 384.5 L149.5 384.5 L148.5 384.5 L147.5 384.5 L146.5 384.5 L145.5 384.5 L144.5 384.5 L143.5 384.5 L142.5 384.5 L141.5 384.5 L140.5 384.5 L139.5 384.5 L138.5 384.5 L137.5 384.5 L136.5 384.5 L135.5 384.5 L134.5 384.5 L133.5 384.5 L132.5 384.5 L131.5 384.5 L130.5 384.5 L129.5 384.5 L128.5 384.5 L127.5 384.5 L126.5 384.5 L125.5 384.5 L124.5 384.5 L123.5 384.5 L122.5 384.5 L121.5 384.5 L120.5 384.5 L119.5 384.5 L118.5 384.5 L117.5 384.5 L116.5 384.5 L115.5 384.5 L114.5 384.5 L113.5 384.5 L112.5 384.5 L111.5 384.5 L110.5 384.5 L109.5 384.5 L108.5 384.5 L107.5 384.5Z" fill="url(#g4)"/>
<path d="M107.5 384.3 L108.5 384.3 L109.5 384.3 L110.5 384.3 L111.5 384.3 L112.5 384.3 L113.5 384.3 L114.5 384.3 L115.5 384.3 L116.5 384.3 L117.5 384.3 L118.5 384.3 L119.5 384.3 L120.5 384.3 L121.5 384.3 L122.5 384.3 L123.5 384.3 L124.5 384.3 L125.5 384.3 L126.5 384.3 L127.5 384.3 L128.5 384.3 L129.5 384.3 L130.5 384.3 L131.5 384.3 L132.5 384.3 L133.5 384.3 L134.5 384.3 L135.5 384.3 L136.5 384.3 L137.5 384.3 L138.5 384.2 L139.5 384.3 L140.5 384.3 L141.5 384.3 L142.5 384.3 L143.5 384.3 L144.5 384.3 L145.5 384.3 L146.5 384.3 L147.5 384.2 L148.5 384.3 L149.5 384.3 L150.5 384.3 L151.5 384.2 L152.5 384.2 L153.5 384.2 L154.5 384.2 L155.5 384.3 L156.5 384.3 L157.5 384.3 L158.5 384.3 L159.5 384.2 L160.5 384.2 L161.5 384.3 L162.5 384.2 L163.5 384.3 L164.5 384.3 L165.5 384.2 L166.5 384.2 L167.5 384.2 L168.5 384.2 L169.5 384.2 L170.5 384.2 L171.5 384.2 L172.5 384.2 L173.5 384.2 L174.5 384.2 L175.5 384.2 L176.5 384.2 L177.5 384.2 L178.5 384.2 L179.5 384.2 L180.5 384.2 L181.5 384.2 L182.5 384.2 L183.5 384.2 L184.5 384.2 L185.5 384.2 L186.5 384.2 L187.5 384.2 L188.5 384.2 L189.5 384.2 L190.5 384.2 L191.5 384.2 L192.5 384.2 L193.5 384.2 L194.5 384.2 L195.5 384.2 L196.5 384.2 L197.5 384.2 L198.5 384.2 L199.5 384.2 L200.5 384.2 L201.5 384.2 L202.5 384.2 L203.5 384.2 L204.5 384.2 L205.5 384.2 L206.5 384.2 L207.5 384.2 L208.5 384.2 L209.5 384.2 L210.5 384.2 L211.5 384.2 L212.5 384.2 L213.5 384.2 L214.5 384.2 L215.5 384.2 L216.5 384.2 L217.5 384.2 L218.5 384.2 L219.5 384.2 L220.5 384.2 L221.5 384.2 L222.5 384.2 L223.5 384.2 L224.5 384.2 L225.5 384.2 L226.5 384.2 L227.5 384.2 L228.5 384.2 L229.5 384.2 L230.5 384.2 L231.5 384.2 L232.5 384.2 L233.5 384.2 L234.5 384.2 L235.5 384.2 L236.5 384.2 L237.5 384.2 L238.5 384.2 L239.5 384.2 L240.5 384.2 L241.5 384.2 L242.5 384.2 L243.5 384.2 L244.5 384.2 L245.5 384.2 L246.5 384.2 L247.5 384.1 L248.5 384.2 L249.5 384.2 L250.5 384.2 L251.5 384.2 L252.5 384.2 L253.5 384.2 L254.5 384.2 L255.5 384.2 L256.5 384.1 L257.5 384.1 L258.5 384.1 L259.5 384.2 L260.5 384.2 L261.5 384.1 L262.5 384.1 L263.5 384.1 L264.5 384.1 L265.5 384.1 L266.5 384.1 L267.5 384.1 L268.5 384.1 L269.5 384.1 L270.5 384.1 L271.5 384.1 L272.5 384.1 L273.5 384.1 L274.5 384.1 L275.5 384.1 L276.5 384.1 L277.5 384.1 L278.5 384.1 L279.5 384.1 L280.5 384.1 L281.5 384.1 L282.5 384.1 L283.5 384.1 L284.5 384.1 L285.5 384.1 L286.5 384.1 L287.5 384.1 L288.5 384.1 L289.5 384.1 L290.5 384.1 L291.5 384.1 L292.5 384.1 L293.5 384.1 L294.5 384.1 L295.5 384.1 L296.5 384.1 L297.5 384.1 L298.5 384.1 L299.5 384.1 L300.5 384.1 L301.5 384.1 L302.5 384.1 L303.5 384.1 L304.5 384.1 L305.5 384.1 L306.5 384.1 L307.5 384.1 L308.5 384.1 L309.5 384.1 L310.5 384.1 L311.5 384.1 L312.5 384.1 L313.5 384.1 L314.5 384.1 L315.5 384.1 L316.5 384.1 L317.5 384.1 L318.5 384.1 L319.5 384.1 L320.5 384.1 L321.5 384.1 L322.5 384.1 L323.5 384.1 L324.5 384.1 L325.5 384.1 L326.5 384.1 L327.5 384.1 L328.5 384.1 L329.5 384.1 L330.5 384.1 L331.5 384.1 L332.5 384.1 L333.5 384.1 L334.5 384.1 L335.5 384.1 L336.5 384.1 L337.5 384.1 L338.5 384.1 L339.5 384.1 L340.5 384.1 L341.5 384.1 L342.5 384.1 L343.5 384.1 L344.5 384.1 L345.5 384.1 L346.5 384.1 L347.5 384.1 L348.5 384.1 L349.5 384.1 L350.5 384.1 L351.5 384.1 L352.5 384.1 L353.5 384.1 L354.5 384 L355.5 384 L356.5 384.1 L357.5 384.1 L358.5 384.1 L359.5 384 L360.5 384 L361.5 384 L362.5 384 L363.5 384 L364.5 384 L365.5 384 L366.5 384 L367.5 384 L368.5 384 L369.5 384 L370.5 384 L371.5 384 L372.5 384 L373.5 384 L374.5 384 L375.5 384 L376.5 384 L377.5 384 L378.5 384 L379.5 384 L380.5 384 L381.5 384 L382.5 384 L383.5 384 L384.5 384 L385.5 384 L386.5 384 L387.5 384 L388.5 384 L389.5 384 L390.5 384 L391.5 384 L392.5 384 L393.5 384 L394.5 384 L395.5 384 L396.5 384 L397.5 384 L398.5 384 L399.5 384 L400.5 384 L401.5 384 L402.5 383.9 L403.5 383.9 L404.5 383.9 L405.5 383.9 L406.5 383.9 L407.5 383.9 L408.5 383.9 L409.5 383.8 L410.5 383.8 L411.5 383.8 L412.5 383.8 L413.5 383.8 L414.5 383.8 L415.5 383.7 L416.5 383.7 L417.5 383.7 L418.5 383.7 L419.5 383.7 L420.5 383.7 L421.5 383.7 L422.5 383.7 L423.5 383.6 L424.5 383.6 L425.5 383.6 L426.5 383.6 L427.5 383.6 L428.5 383.5 L429.5 383.5 L430.5 383.5 L431.5 383.5 L432.5 383.5 L433.5 383.5 L434.5 383.5 L435.5 383.4 L436.5 383.4 L437.5 383.4 L438.5 383.4 L439.5 383.4 L440.5 383.4 L441.5 383.4 L442.5 383.3 L443.5 383.3 L444.5 383.3 L445.5 383.3 L446.5 383.3 L447.5 383.3 L448.5 383.2 L449.5 383.2 L450.5 383.2 L451.5 383.2 L452.5 383.2 L453.5 383.2 L454.5 383.2 L455.5 383.1 L456.5 383.1 L457.5 383.1 L458.5 383.1 L459.5 383.1 L460.5 383 L461.5 383 L462.5 383 L463.5 383 L464.5 383 L465.5 383 L466.5 382.9 L467.5 382.9 L468.5 382.9 L469.5 382.9 L470.5 382.9 L471.5 382.9 L472.5 382.9 L473.5 382.8 L474.5 382.8 L475.5 382.8 L476.5 382.8 L477.5 382.8 L478.5 382.8 L479.5 382.8 L480.5 382.7 L481.5 382.7 L482.5 382.7 L483.5 382.7 L484.5 382.7 L485.5 382.6 L486.5 382.6 L487.5 382.6 L488.5 382.6 L489.5 382.6 L490.5 382.6 L491.5 382.6 L492.5 382.5 L493.5 382.5 L494.5 382.4 L495.5 382.4 L496.5 382.4 L497.5 382.4 L498.5 382.4 L499.5 382.3 L500.5 382.3 L501.5 382.3 L502.5 382.2 L503.5 382.2 L504.5 382.2 L505.5 382.1 L506.5 382.1 L507.5 382.1 L508.5 382.1 L509.5 382 L510.5 382 L511.5 382 L512.5 381.9 L513.5 381.9 L514.5 381.9 L515.5 381.9 L516.5 381.8 L517.5 381.8 L518.5 381.8 L519.5 381.8 L520.5 381.7 L521.5 381.7 L522.5 381.7 L523.5 381.7 L524.5 381.6 L525.5 381.6 L526.5 381.6 L527.5 381.6 L528.5 381.5 L529.5 381.5 L530.5 381.4 L531.5 381.4 L532.5 381.4 L533.5 381.4 L534.5 381.3 L535.5 381.3 L536.5 381.3 L537.5 381.3 L538.5 381.2 L539.5 381.2 L540.5 381.2 L541.5 381.1 L542.5 381.1 L543.5 381.1 L544.5 381.1 L545.5 381 L546.5 381 L547.5 381 L548.5 380.9 L549.5 380.9 L550.5 380.9 L551.5 380.8 L552.5 380.8 L553.5 380.8 L554.5 380.7 L555.5 380.7 L556.5 377.2 L557.5 375.9 L558.5 375.8 L559.5 375.6 L560.5 375.4 L561.5 375.4 L562.5 375.2 L563.5 375.1 L564.5 374.9 L565.5 375.3 L566.5 376.7 L567.5 377 L568.5 376.8 L569.5 376.5 L570.5 376.2 L571.5 375.9 L572.5 375.6 L573.5 375.4 L574.5 375.1 L575.5 374.8 L576.5 374.5 L577.5 374.2 L578.5 374 L579.5 373.6 L580.5 372.8 L581.5 372 L582.5 371 L583.5 370.2 L584.5 369.4 L585.5 369.9 L586.5 371.7 L587.5 373.1 L588.5 373.1 L589.5 373.1 L590.5 373.3 L591.5 373.3 L592.5 373.3 L593.5 373.3 L594.5 373.3 L595.5 373.4 L596.5 373.4 L597.5 373.4 L598.5 373.5 L599.5 373.5 L600.5 373.6 L601.5 373.6 L602.5 373.7 L603.5 373.7 L604.5 373.8 L605.5 372.7 L606.5 371.3 L607.5 370.3 L608.5 370.6 L609.5 371 L610.5 371.3 L611.5 371.6 L612.5 371.9 L613.5 372.2 L614.5 372.6 L615.5 372.4 L616.5 371.9 L617.5 371.3 L618.5 370.6 L619.5 370 L620.5 369.8 L621.5 369.8 L622.5 369.9 L623.5 370 L624.5 370.1 L625.5 370.1 L626.5 370.1 L627.5 370.1 L628.5 370.1 L629.5 370.2 L630.5 370.2 L631.5 370.2 L632.5 370.3 L633.5 370.4 L634.5 370.4 L635.5 370.4 L636.5 370.5 L637.5 370.5 L638.5 370.5 L639.5 370.5 L640.5 370.6 L641.5 370.7 L642.5 370.1 L643.5 369 L644.5 368 L645.5 367.3 L646.5 367.1 L647.5 366.8 L648.5 366.5 L649.5 366.1 L650.5 365.8 L651.5 365.5 L652.5 365.3 L653.5 365 L654.5 364.7 L655.5 364.6 L656.5 364.5 L657.5 364.5 L658.5 364.4 L659.5 364.5 L660.5 364.6 L661.5 364.6 L662.5 364.5 L663.5 364.4 L664.5 364.4 L665.5 364.4 L666.5 364.3 L667.5 364.2 L668.5 364.2 L669.5 364.2 L670.5 364.3 L671.5 364.2 L672.5 364.2 L673.5 364.2 L674.5 364.1 L675.5 364 L676.5 364 L677.5 363.9 L678.5 363.9 L679.5 363.9 L680.5 364 L681.5 363.9 L682.5 363.8 L683.5 363.7 L684.5 363.7 L685.5 363.6 L686.5 363.5 L687.5 363.3 L688.5 363.1 L689.5 362.9 L690.5 362.6 L691.5 362.3 L692.5 362.1 L693.5 361.9 L694.5 361.7 L695.5 361.6 L696.5 361.2 L697.5 361.2 L698.5 360.9 L699.5 360.5 L700.5 360.3 L701.5 360.3 L702.5 360.4 L703.5 360.4 L704.5 360.5 L705.5 360.5 L706.5 360.5 L707.5 360.6 L708.5 360.5 L709.5 360.6 L710.5 360.8 L711.5 360.9 L712.5 361 L713.5 360.9 L714.5 360.7 L715.5 360.7 L716.5 360.7 L717.5 360.5 L718.5 360.5 L719.5 360.4 L720.5 360.5 L721.5 360.4 L722.5 360.3 L723.5 360.3 L724.5 360.2 L725.5 360.1 L726.5 360 L727.5 360 L728.5 360 L729.5 360 L730.5 359.8 L731.5 360 L732.5 359.8 L733.5 359.8 L734.5 359.6 L735.5 359.6 L736.5 359.5 L737.5 358.7 L738.5 358.1 L739.5 357.2 L740.5 356.7 L741.5 356.5 L742.5 356.7 L743.5 356.7 L744.5 356.5 L745.5 356.5 L746.5 356.3 L747.5 356.3 L748.5 356.3 L749.5 356.2 L750.5 354.7 L751.5 350.8 L752.5 346.8 L753.5 343.6 L754.5 343.5 L755.5 343.3 L756.5 343.2 L757.5 343.5 L758.5 344 L759.5 344.6 L760.5 345.3 L761.5 345.6 L762.5 345.9 L763.5 346.3 L764.5 346.9 L765.5 346.5 L766.5 346.2 L767.5 345.8 L768.5 345.3 L769.5 344.8 L770.5 344.6 L771.5 344.3 L772.5 344.4 L773.5 344.4 L774.5 344.5 L775.5 345 L776.5 344.9 L777.5 344.9 L778.5 345.4 L779.5 345.5 L780.5 345.9 L781.5 346.2 L782.5 346.6 L783.5 347.1 L784.5 347.5 L785.5 347.7 L786.5 348 L787.5 347.8 L788.5 347.6 L789.5 347.1 L790.5 346.7 L791.5 346.3 L792.5 346.1 L793.5 345.9 L794.5 345.7 L795.5 345.1 L796.5 344.5 L797.5 343.9 L798.5 343.4 L799.5 343 L800.5 342.5 L801.5 342.2 L802.5 341.7 L803.5 341.4 L804.5 341 L805.5 340.3 L806.5 340 L807.5 339.9 L808.5 339.4 L809.5 339.1 L810.5 338.6 L811.5 338.5 L812.5 338.3 L813.5 337.9 L814.5 337.6 L815.5 337.1 L816.5 336.7 L817.5 336.1 L818.5 335.6 L819.5 335.2 L820.5 334.8 L821.5 334.3 L822.5 333.9 L823.5 333.6 L824.5 333.3 L825.5 333.4 L826.5 333.3 L827.5 333.1 L828.5 332.9 L829.5 332.9 L830.5 332.5 L831.5 332.2 L832.5 332.3 L833.5 332.2 L834.5 332.6 L835.5 332.9 L836.5 333.4 L837.5 333.5 L838.5 334.1 L839.5 334.2 L840.5 334.8 L841.5 334.9 L842.5 335 L843.5 334.7 L844.5 334.9 L845.5 334.8 L846.5 334.6 L847.5 334.7 L848.5 334.5 L849.5 334.3 L850.5 334.4 L851.5 334 L852.5 333.8 L853.5 334 L854 333.9" fill="none" stroke="#8a2be2" stroke-width="1.6" stroke-linejoin="round"/>
<path d="M107.5 384.5 L108.5 384.5 L109.5 384.5 L110.5 384.5 L111.5 384.5 L112.5 384.5 L113.5 384.5 L114.5 384.5 L115.5 384.5 L116.5 384.5 L117.5 384.5 L118.5 384.5 L119.5 384.5 L120.5 384.5 L121.5 384.5 L122.5 384.5 L123.5 384.5 L124.5 384.5 L125.5 384.5 L126.5 384.5 L127.5 384.5 L128.5 384.5 L129.5 384.5 L130.5 384.5 L131.5 384.5 L132.5 384.5 L133.5 384.5 L134.5 384.5 L135.5 384.5 L136.5 384.5 L137.5 384.5 L138.5 384.5 L139.5 384.5 L140.5 384.5 L141.5 384.5 L142.5 384.5 L143.5 384.5 L144.5 384.5 L145.5 384.5 L146.5 384.5 L147.5 384.5 L148.5 384.5 L149.5 384.5 L150.5 384.5 L151.5 384.5 L152.5 384.5 L153.5 384.5 L154.5 384.5 L155.5 384.5 L156.5 384.5 L157.5 384.5 L158.5 384.5 L159.5 384.5 L160.5 384.5 L161.5 384.5 L162.5 384.5 L163.5 384.5 L164.5 384.5 L165.5 384.5 L166.5 384.5 L167.5 384.5 L168.5 384.5 L169.5 384.5 L170.5 384.5 L171.5 384.5 L172.5 384.5 L173.5 384.5 L174.5 384.5 L175.5 384.5 L176.5 384.5 L177.5 384.5 L178.5 384.5 L179.5 384.5 L180.5 384.5 L181.5 384.5 L182.5 384.5 L183.5 384.5 L184.5 384.5 L185.5 384.5 L186.5 384.5 L187.5 384.5 L188.5 384.5 L189.5 384.5 L190.5 384.5 L191.5 384.5 L192.5 384.5 L193.5 384.5 L194.5 384.5 L195.5 384.5 L196.5 384.5 L197.5 384.5 L198.5 384.5 L199.5 384.5 L200.5 384.5 L201.5 384.5 L202.5 384.5 L203.5 384.5 L204.5 384.5 L205.5 384.5 L206.5 384.5 L207.5 384.5 L208.5 384.5 L209.5 384.5 L210.5 384.5 L211.5 384.5 L212.5 384.5 L213.5 384.5 L214.5 384.5 L215.5 384.5 L216.5 384.5 L217.5 384.5 L218.5 384.5 L219.5 384.5 L220.5 384.5 L221.5 384.5 L222.5 384.5 L223.5 384.5 L224.5 384.5 L225.5 384.5 L226.5 384.5 L227.5 384.5 L228.5 384.5 L229.5 384.5 L230.5 384.5 L231.5 384.5 L232.5 384.5 L233.5 384.5 L234.5 384.5 L235.5 384.5 L236.5 384.5 L237.5 384.5 L238.5 384.5 L239.5 384.5 L240.5 384.5 L241.5 384.5 L242.5 384.5 L243.5 384.5 L244.5 384.5 L245.5 384.5 L246.5 384.5 L247.5 384.5 L248.5 384.5 L249.5 384.5 L250.5 384.5 L251.5 384.5 L252.5 384.5 L253.5 384.5 L254.5 384.5 L255.5 384.5 L256.5 384.5 L257.5 384.5 L258.5 384.5 L259.5 384.5 L260.5 384.5 L261.5 384.5 L262.5 384.5 L263.5 384.5 L264.5 384.5 L265.5 384.5 L266.5 384.5 L267.5 384.5 L268.5 384.5 L269.5 384.4 L270.5 384.4 L271.5 384.4 L272.5 384.4 L273.5 384.4 L274.5 384.4 L275.5 384.4 L276.5 384.4 L277.5 384.4 L278.5 384.4 L279.5 384.4 L280.5 384.4 L281.5 384.4 L282.5 384.4 L283.5 384.4 L284.5 384.4 L285.5 384.4 L286.5 384.4 L287.5 384.4 L288.5 384.4 L289.5 384.4 L290.5 384.4 L291.5 384.4 L292.5 384.4 L293.5 384.4 L294.5 384.4 L295.5 384.4 L296.5 384.4 L297.5 384.4 L298.5 384.4 L299.5 384.4 L300.5 384.4 L301.5 384.4 L302.5 384.4 L303.5 384.4 L304.5 384.3 L305.5 384.4 L306.5 384.4 L307.5 384.4 L308.5 384.4 L309.5 384.3 L310.5 384.3 L311.5 384.3 L312.5 384.3 L313.5 384.3 L314.5 384.3 L315.5 384.3 L316.5 384.3 L317.5 384.3 L318.5 384.3 L319.5 384.3 L320.5 384.3 L321.5 384.3 L322.5 384.3 L323.5 384.3 L324.5 384.3 L325.5 384.3 L326.5 384.3 L327.5 384.3 L328.5 384.3 L329.5 384.3 L330.5 384.3 L331.5 384.3 L332.5 384.3 L333.5 384.3 L334.5 384.3 L335.5 384.3 L336.5 384.3 L337.5 384.3 L338.5 384.3 L339.5 384.3 L340.5 384.3 L341.5 384.3 L342.5 384.3 L343.5 384.3 L344.5 384.3 L345.5 384.3 L346.5 384.3 L347.5 384.3 L348.5 384.3 L349.5 384.2 L350.5 384.2 L351.5 384.2 L352.5 384.2 L353.5 384.2 L354.5 384.2 L355.5 384.2 L356.5 384.2 L357.5 384.2 L358.5 384.2 L359.5 384.2 L360.5 384.2 L361.5 384.2 L362.5 384.2 L363.5 384.2 L364.5 384.2 L365.5 384.2 L366.5 384.2 L367.5 384.2 L368.5 384.2 L369.5 384.2 L370.5 384.2 L371.5 384.2 L372.5 384.2 L373.5 384.2 L374.5 384.2 L375.5 384.2 L376.5 384.2 L377.5 384.2 L378.5 384.2 L379.5 384.2 L380.5 384.2 L381.5 384.1 L382.5 384.1 L383.5 384.1 L384.5 384.1 L385.5 384.1 L386.5 384.1 L387.5 384.1 L388.5 384.1 L389.5 384.1 L390.5 384.1 L391.5 384.1 L392.5 384.1 L393.5 384.1 L394.5 384.1 L395.5 384.1 L396.5 384.1 L397.5 384.1 L398.5 384.1 L399.5 384.1 L400.5 384.1 L401.5 384.1 L402.5 384.1 L403.5 384.1 L404.5 384 L405.5 384 L406.5 384 L407.5 384 L408.5 384 L409.5 384 L410.5 384 L411.5 384 L412.5 384 L413.5 384 L414.5 384 L415.5 384 L416.5 384 L417.5 384 L418.5 384 L419.5 384 L420.5 383.9 L421.5 383.9 L422.5 383.9 L423.5 383.9 L424.5 383.9 L425.5 383.9 L426.5 383.9 L427.5 383.8 L428.5 383.8 L429.5 383.8 L430.5 383.8 L431.5 383.8 L432.5 383.8 L433.5 383.7 L434.5 383.7 L435.5 383.7 L436.5 383.7 L437.5 383.7 L438.5 383.6 L439.5 383.7 L440.5 383.6 L441.5 383.6 L442.5 383.6 L443.5 383.6 L444.5 383.6 L445.5 383.5 L446.5 383.5 L447.5 383.5 L448.5 383.5 L449.5 383.5 L450.5 383.5 L451.5 383.5 L452.5 383.4 L453.5 383.4 L454.5 383.4 L455.5 383.4 L456.5 383.4 L457.5 383.3 L458.5 383.3 L459.5 383.3 L460.5 383.3 L461.5 383.3 L462.5 383.2 L463.5 383.2 L464.5 383.2 L465.5 383.2 L466.5 383.2 L467.5 383.2 L468.5 383.2 L469.5 383.1 L470.5 383.1 L471.5 383.1 L472.5 383.1 L473.5 383.1 L474.5 383 L475.5 383 L476.5 383 L477.5 383 L478.5 383 L479.5 383 L480.5 383 L481.5 382.9 L482.5 382.9 L483.5 382.9 L484.5 382.9 L485.5 382.9 L486.5 382.8 L487.5 382.8 L488.5 382.8 L489.5 382.8 L490.5 382.8 L491.5 382.8 L492.5 382.8 L493.5 382.7 L494.5 382.7 L495.5 382.7 L496.5 382.7 L497.5 382.7 L498.5 382.7 L499.5 382.6 L500.5 382.6 L501.5 382.6 L502.5 382.6 L503.5 382.6 L504.5 382.5 L505.5 382.5 L506.5 382.5 L507.5 382.5 L508.5 382.5 L509.5 382.5 L510.5 382.4 L511.5 382.5 L512.5 382.4 L513.5 382.4 L514.5 382.4 L515.5 382.4 L516.5 382.4 L517.5 382.3 L518.5 382.3 L519.5 382.3 L520.5 382.3 L521.5 382.3 L522.5 382.3 L523.5 382.3 L524.5 382.2 L525.5 382.2 L526.5 382.2 L527.5 382.2 L528.5 382.1 L529.5 382.1 L530.5 382.1 L531.5 382.1 L532.5 382.1 L533.5 382.1 L534.5 382.1 L535.5 382.1 L536.5 382 L537.5 382 L538.5 382 L539.5 382 L540.5 381.9 L541.5 381.9 L542.5 381.9 L543.5 381.9 L544.5 381.9 L545.5 381.9 L546.5 381.9 L547.5 381.9 L548.5 381.8 L549.5 381.8 L550.5 381.8 L551.5 381.8 L552.5 381.8 L553.5 381.8 L554.5 381.8 L555.5 381.8 L556.5 377.2 L557.5 377.4 L558.5 377.5 L559.5 377.6 L560.5 377.7 L561.5 377.9 L562.5 378 L563.5 378.2 L564.5 378.3 L565.5 378.6 L566.5 379.2 L567.5 379.3 L568.5 379.1 L569.5 378.8 L570.5 378.5 L571.5 378.2 L572.5 377.9 L573.5 377.6 L574.5 377.4 L575.5 377.1 L576.5 376.8 L577.5 376.5 L578.5 376.3 L579.5 375.9 L580.5 375.1 L581.5 374.3 L582.5 373.3 L583.5 372.5 L584.5 371.7 L585.5 372.1 L586.5 373.6 L587.5 374.8 L588.5 374.9 L589.5 374.9 L590.5 375.1 L591.5 375.1 L592.5 375.1 L593.5 375.2 L594.5 375.3 L595.5 375.4 L596.5 375.4 L597.5 375.5 L598.5 375.5 L599.5 375.7 L600.5 375.8 L601.5 375.8 L602.5 375.9 L603.5 376 L604.5 376 L605.5 375.3 L606.5 374.4 L607.5 373.9 L608.5 374.2 L609.5 374.6 L610.5 375 L611.5 375.5 L612.5 375.8 L613.5 376.2 L614.5 376.6 L615.5 376.6 L616.5 376.1 L617.5 375.6 L618.5 375 L619.5 374.5 L620.5 374 L621.5 373.5 L622.5 373.6 L623.5 373.7 L624.5 373.8 L625.5 373.9 L626.5 374 L627.5 374 L628.5 374.1 L629.5 374.2 L630.5 374.3 L631.5 374.4 L632.5 374.5 L633.5 374.6 L634.5 374.7 L635.5 374.8 L636.5 374.9 L637.5 375 L638.5 375 L639.5 375.1 L640.5 374.9 L641.5 374.7 L642.5 374.4 L643.5 374.1 L644.5 373.8 L645.5 373.8 L646.5 373.7 L647.5 373.6 L648.5 373.5 L649.5 373.3 L650.5 373.2 L651.5 373 L652.5 373 L653.5 372.9 L654.5 372.8 L655.5 372.8 L656.5 372.9 L657.5 373.1 L658.5 373.2 L659.5 373.3 L660.5 373.5 L661.5 373.6 L662.5 373.7 L663.5 373.8 L664.5 373.9 L665.5 373.8 L666.5 373.7 L667.5 373.6 L668.5 373.6 L669.5 373.5 L670.5 373.5 L671.5 373.5 L672.5 373.4 L673.5 373.4 L674.5 373.3 L675.5 373.2 L676.5 373.2 L677.5 373.1 L678.5 373.1 L679.5 373 L680.5 373 L681.5 372.9 L682.5 372.9 L683.5 372.8 L684.5 372.7 L685.5 372.6 L686.5 372.5 L687.5 372.3 L688.5 372.2 L689.5 372 L690.5 371.8 L691.5 371.7 L692.5 371.6 L693.5 371.5 L694.5 371.4 L695.5 371.3 L696.5 371.2 L697.5 371.2 L698.5 371 L699.5 370.9 L700.5 370.9 L701.5 370.7 L702.5 370.7 L703.5 370.6 L704.5 370.6 L705.5 370.5 L706.5 370.3 L707.5 370.2 L708.5 370.2 L709.5 370.1 L710.5 370.1 L711.5 370 L712.5 370 L713.5 369.8 L714.5 369.7 L715.5 369.7 L716.5 369.5 L717.5 369.3 L718.5 369.3 L719.5 369.1 L720.5 369.1 L721.5 368.9 L722.5 368.9 L723.5 368.8 L724.5 368.7 L725.5 368.6 L726.5 368.5 L727.5 368.4 L728.5 368.4 L729.5 368.3 L730.5 368.3 L731.5 368.3 L732.5 368.1 L733.5 368.1 L734.5 367.9 L735.5 367.9 L736.5 367.9 L737.5 367.8 L738.5 367.8 L739.5 367.7 L740.5 367.8 L741.5 367.6 L742.5 367.6 L743.5 367.5 L744.5 367.4 L745.5 367.3 L746.5 367.1 L747.5 367.1 L748.5 366.9 L749.5 366.4 L750.5 365 L751.5 361.6 L752.5 359.1 L753.5 359.1 L754.5 359 L755.5 359.1 L756.5 359.2 L757.5 359.3 L758.5 359.3 L759.5 359.4 L760.5 359.4 L761.5 359.3 L762.5 359.1 L763.5 359.1 L764.5 359.2 L765.5 359 L766.5 359.1 L767.5 359.1 L768.5 359.1 L769.5 358.9 L770.5 359 L771.5 359.1 L772.5 359.1 L773.5 359.3 L774.5 359.4 L775.5 359.8 L776.5 359.8 L777.5 360 L778.5 360.3 L779.5 360.4 L780.5 360.5 L781.5 360.8 L782.5 361 L783.5 361.2 L784.5 361.5 L785.5 361.7 L786.5 361.9 L787.5 361.9 L788.5 361.7 L789.5 361.3 L790.5 361 L791.5 360.7 L792.5 360.6 L793.5 360.5 L794.5 360.3 L795.5 360.1 L796.5 359.9 L797.5 359.8 L798.5 359.6 L799.5 359.4 L800.5 359.1 L801.5 359 L802.5 358.7 L803.5 358.3 L804.5 358.3 L805.5 357.8 L806.5 357.4 L807.5 357.4 L808.5 357.2 L809.5 357 L810.5 356.6 L811.5 356.4 L812.5 356.3 L813.5 356 L814.5 356 L815.5 355.5 L816.5 355.2 L817.5 354.9 L818.5 354.4 L819.5 354.3 L820.5 354 L821.5 353.8 L822.5 353.7 L823.5 353.5 L824.5 353.2 L825.5 353.2 L826.5 353 L827.5 353 L828.5 353.1 L829.5 353.1 L830.5 353 L831.5 352.7 L832.5 352.6 L833.5 352.7 L834.5 353 L835.5 353.1 L836.5 353.4 L837.5 353.6 L838.5 353.9 L839.5 354 L840.5 354.3 L841.5 354.5 L842.5 354.5 L843.5 354.4 L844.5 354.4 L845.5 354.4 L846.5 354.5 L847.5 354.4 L848.5 354.3 L849.5 354 L850.5 353.9 L851.5 353.8 L852.5 353.7 L853.5 353.9 L854 353.9 L854 365.2 L853.5 365.3 L852.5 365 L851.5 365 L850.5 365 L849.5 365 L848.5 365.1 L847.5 365.1 L846.5 365 L845.5 364.8 L844.5 364.8 L843.5 364.8 L842.5 364.7 L841.5 364.8 L840.5 364.8 L839.5 364.7 L838.5 364.8 L837.5 364.7 L836.5 364.7 L835.5 364.7 L834.5 364.7 L833.5 364.7 L832.5 364.6 L831.5 364.5 L830.5 364.6 L829.5 364.6 L828.5 364.5 L827.5 364.4 L826.5 364.3 L825.5 364.4 L824.5 364.4 L823.5 364.4 L822.5 364.6 L821.5 364.6 L820.5 364.6 L819.5 364.8 L818.5 364.9 L817.5 365 L816.5 365.2 L815.5 365.4 L814.5 365.7 L813.5 365.7 L812.5 365.9 L811.5 365.8 L810.5 365.9 L809.5 366.1 L808.5 366.2 L807.5 366.3 L806.5 366.3 L805.5 366.5 L804.5 366.9 L803.5 366.8 L802.5 367 L801.5 367.3 L800.5 367.4 L799.5 367.5 L798.5 367.5 L797.5 367.7 L796.5 367.6 L795.5 367.8 L794.5 367.9 L793.5 368 L792.5 368.2 L791.5 368.2 L790.5 368.4 L789.5 368.6 L788.5 369 L787.5 369 L786.5 369.1 L785.5 369 L784.5 368.9 L783.5 368.8 L782.5 368.8 L781.5 368.8 L780.5 368.7 L779.5 368.7 L778.5 368.7 L777.5 368.5 L776.5 368.5 L775.5 368.6 L774.5 368.5 L773.5 368.5 L772.5 368.4 L771.5 368.5 L770.5 368.4 L769.5 368.4 L768.5 368.5 L767.5 368.3 L766.5 368.2 L765.5 368.2 L764.5 368.3 L763.5 368.2 L762.5 368.1 L761.5 368.2 L760.5 368.2 L759.5 368.1 L758.5 368 L757.5 367.9 L756.5 367.9 L755.5 367.8 L754.5 367.7 L753.5 367.7 L752.5 367.7 L751.5 367.7 L750.5 374.8 L749.5 374.4 L748.5 373.9 L747.5 373.9 L746.5 373.9 L745.5 374 L744.5 374 L743.5 374.1 L742.5 374.1 L741.5 374 L740.5 374.1 L739.5 374.1 L738.5 374.1 L737.5 374.1 L736.5 374.2 L735.5 374.2 L734.5 374.2 L733.5 374.2 L732.5 374.3 L731.5 374.4 L730.5 374.3 L729.5 374.4 L728.5 374.4 L727.5 374.4 L726.5 374.4 L725.5 374.5 L724.5 374.5 L723.5 374.6 L722.5 374.6 L721.5 374.5 L720.5 374.7 L719.5 374.6 L718.5 374.7 L717.5 374.7 L716.5 374.8 L715.5 374.9 L714.5 374.8 L713.5 374.9 L712.5 375 L711.5 374.9 L710.5 375 L709.5 375 L708.5 375 L707.5 375 L706.5 375 L705.5 375.1 L704.5 375.1 L703.5 375.1 L702.5 375.1 L701.5 375.1 L700.5 375.2 L699.5 375.2 L698.5 375.2 L697.5 375.3 L696.5 375.3 L695.5 375.3 L694.5 375.4 L693.5 375.3 L692.5 375.4 L691.5 375.5 L690.5 375.5 L689.5 375.7 L688.5 375.7 L687.5 375.8 L686.5 375.8 L685.5 375.9 L684.5 375.9 L683.5 376 L682.5 376.1 L681.5 376.1 L680.5 376.2 L679.5 376.2 L678.5 376.3 L677.5 376.4 L676.5 376.4 L675.5 376.4 L674.5 376.5 L673.5 376.6 L672.5 376.6 L671.5 376.7 L670.5 376.8 L669.5 376.8 L668.5 376.8 L667.5 376.9 L666.5 376.9 L665.5 377 L664.5 377.1 L663.5 377.1 L662.5 377.2 L661.5 377.3 L660.5 377.3 L659.5 377.4 L658.5 377.4 L657.5 377.6 L656.5 377.6 L655.5 377.6 L654.5 377.6 L653.5 377.7 L652.5 377.7 L651.5 377.7 L650.5 377.8 L649.5 377.8 L648.5 377.9 L647.5 377.9 L646.5 378 L645.5 378 L644.5 378 L643.5 378 L642.5 378.1 L641.5 378.2 L640.5 378.3 L639.5 378.3 L638.5 378.3 L637.5 378.4 L636.5 378.4 L635.5 378.4 L634.5 378.5 L633.5 378.5 L632.5 378.6 L631.5 378.6 L630.5 378.6 L629.5 378.7 L628.5 378.7 L627.5 378.7 L626.5 378.8 L625.5 378.8 L624.5 378.8 L623.5 378.9 L622.5 378.9 L621.5 378.9 L620.5 379 L619.5 379 L618.5 379 L617.5 379.1 L616.5 379.2 L615.5 379.2 L614.5 379.2 L613.5 379.2 L612.5 379.3 L611.5 379.3 L610.5 379.4 L609.5 379.4 L608.5 379.4 L607.5 379.5 L606.5 379.5 L605.5 379.5 L604.5 379.6 L603.5 379.7 L602.5 379.8 L601.5 379.8 L600.5 380 L599.5 380 L598.5 380.1 L597.5 380.2 L596.5 380.3 L595.5 380.4 L594.5 380.5 L593.5 380.6 L592.5 380.7 L591.5 380.7 L590.5 380.8 L589.5 380.9 L588.5 381 L587.5 381.1 L586.5 381.2 L585.5 381.3 L584.5 381.4 L583.5 381.4 L582.5 381.4 L581.5 381.5 L580.5 381.5 L579.5 381.6 L578.5 381.7 L577.5 381.7 L576.5 381.7 L575.5 381.8 L574.5 381.9 L573.5 381.9 L572.5 381.9 L571.5 382 L570.5 382 L569.5 382.1 L568.5 382.1 L567.5 382.1 L566.5 382.2 L565.5 382.3 L564.5 382.3 L563.5 382.4 L562.5 382.4 L561.5 382.5 L560.5 382.5 L559.5 382.5 L558.5 382.6 L557.5 382.7 L556.5 382.7 L555.5 382.8 L554.5 382.8 L553.5 382.8 L552.5 382.9 L551.5 382.9 L550.5 383 L549.5 383 L548.5 383 L547.5 383 L546.5 383 L545.5 383.1 L544.5 383.1 L543.5 383 L542.5 383.1 L541.5 383 L540.5 383 L539.5 383.1 L538.5 383.1 L537.5 383.1 L536.5 383.1 L535.5 383.1 L534.5 383.1 L533.5 383.1 L532.5 383.1 L531.5 383.1 L530.5 383.1 L529.5 383.2 L528.5 383.1 L527.5 383.2 L526.5 383.2 L525.5 383.2 L524.5 383.2 L523.5 383.2 L522.5 383.2 L521.5 383.2 L520.5 383.2 L519.5 383.2 L518.5 383.2 L517.5 383.2 L516.5 383.2 L515.5 383.3 L514.5 383.2 L513.5 383.3 L512.5 383.3 L511.5 383.3 L510.5 383.3 L509.5 383.3 L508.5 383.3 L507.5 383.3 L506.5 383.3 L505.5 383.3 L504.5 383.3 L503.5 383.3 L502.5 383.3 L501.5 383.4 L500.5 383.4 L499.5 383.4 L498.5 383.4 L497.5 383.4 L496.5 383.4 L495.5 383.4 L494.5 383.4 L493.5 383.4 L492.5 383.4 L491.5 383.4 L490.5 383.4 L489.5 383.4 L488.5 383.4 L487.5 383.4 L486.5 383.4 L485.5 383.5 L484.5 383.5 L483.5 383.5 L482.5 383.5 L481.5 383.5 L480.5 383.5 L479.5 383.5 L478.5 383.5 L477.5 383.5 L476.5 383.5 L475.5 383.5 L474.5 383.5 L473.5 383.6 L472.5 383.6 L471.5 383.6 L470.5 383.6 L469.5 383.6 L468.5 383.6 L467.5 383.6 L466.5 383.6 L465.5 383.6 L464.5 383.6 L463.5 383.6 L462.5 383.6 L461.5 383.6 L460.5 383.7 L459.5 383.7 L458.5 383.7 L457.5 383.7 L456.5 383.7 L455.5 383.7 L454.5 383.7 L453.5 383.7 L452.5 383.7 L451.5 383.7 L450.5 383.7 L449.5 383.7 L448.5 383.7 L447.5 383.8 L446.5 383.8 L445.5 383.8 L444.5 383.8 L443.5 383.8 L442.5 383.8 L441.5 383.8 L440.5 383.8 L439.5 383.8 L438.5 383.8 L437.5 383.8 L436.5 383.8 L435.5 383.8 L434.5 383.9 L433.5 383.9 L432.5 383.9 L431.5 383.9 L430.5 383.9 L429.5 383.9 L428.5 383.9 L427.5 383.9 L426.5 383.9 L425.5 383.9 L424.5 383.9 L423.5 383.9 L422.5 383.9 L421.5 383.9 L420.5 383.9 L419.5 384 L418.5 384 L417.5 384 L416.5 384 L415.5 384 L414.5 384 L413.5 384 L412.5 384 L411.5 384 L410.5 384 L409.5 384 L408.5 384 L407.5 384 L406.5 384 L405.5 384 L404.5 384 L403.5 384.1 L402.5 384.1 L401.5 384.1 L400.5 384.1 L399.5 384.1 L398.5 384.1 L397.5 384.1 L396.5 384.1 L395.5 384.1 L394.5 384.1 L393.5 384.1 L392.5 384.1 L391.5 384.1 L390.5 384.1 L389.5 384.1 L388.5 384.1 L387.5 384.1 L386.5 384.1 L385.5 384.1 L384.5 384.1 L383.5 384.1 L382.5 384.1 L381.5 384.1 L380.5 384.2 L379.5 384.2 L378.5 384.2 L377.5 384.2 L376.5 384.2 L375.5 384.2 L374.5 384.2 L373.5 384.2 L372.5 384.2 L371.5 384.2 L370.5 384.2 L369.5 384.2 L368.5 384.2 L367.5 384.2 L366.5 384.2 L365.5 384.2 L364.5 384.2 L363.5 384.2 L362.5 384.2 L361.5 384.2 L360.5 384.2 L359.5 384.2 L358.5 384.2 L357.5 384.2 L356.5 384.2 L355.5 384.2 L354.5 384.2 L353.5 384.2 L352.5 384.2 L351.5 384.2 L350.5 384.2 L349.5 384.2 L348.5 384.3 L347.5 384.3 L346.5 384.3 L345.5 384.3 L344.5 384.3 L343.5 384.3 L342.5 384.3 L341.5 384.3 L340.5 384.3 L339.5 384.3 L338.5 384.3 L337.5 384.3 L336.5 384.3 L335.5 384.3 L334.5 384.3 L333.5 384.3 L332.5 384.3 L331.5 384.3 L330.5 384.3 L329.5 384.3 L328.5 384.3 L327.5 384.3 L326.5 384.3 L325.5 384.3 L324.5 384.3 L323.5 384.3 L322.5 384.3 L321.5 384.3 L320.5 384.3 L319.5 384.3 L318.5 384.3 L317.5 384.3 L316.5 384.3 L315.5 384.3 L314.5 384.3 L313.5 384.3 L312.5 384.3 L311.5 384.3 L310.5 384.3 L309.5 384.3 L308.5 384.4 L307.5 384.4 L306.5 384.4 L305.5 384.4 L304.5 384.3 L303.5 384.4 L302.5 384.4 L301.5 384.4 L300.5 384.4 L299.5 384.4 L298.5 384.4 L297.5 384.4 L296.5 384.4 L295.5 384.4 L294.5 384.4 L293.5 384.4 L292.5 384.4 L291.5 384.4 L290.5 384.4 L289.5 384.4 L288.5 384.4 L287.5 384.4 L286.5 384.4 L285.5 384.4 L284.5 384.4 L283.5 384.4 L282.5 384.4 L281.5 384.4 L280.5 384.4 L279.5 384.4 L278.5 384.4 L277.5 384.4 L276.5 384.4 L275.5 384.4 L274.5 384.4 L273.5 384.4 L272.5 384.4 L271.5 384.4 L270.5 384.4 L269.5 384.4 L268.5 384.5 L267.5 384.5 L266.5 384.5 L265.5 384.5 L264.5 384.5 L263.5 384.5 L262.5 384.5 L261.5 384.5 L260.5 384.5 L259.5 384.5 L258.5 384.5 L257.5 384.5 L256.5 384.5 L255.5 384.5 L254.5 384.5 L253.5 384.5 L252.5 384.5 L251.5 384.5 L250.5 384.5 L249.5 384.5 L248.5 384.5 L247.5 384.5 L246.5 384.5 L245.5 384.5 L244.5 384.5 L243.5 384.5 L242.5 384.5 L241.5 384.5 L240.5 384.5 L239.5 384.5 L238.5 384.5 L237.5 384.5 L236.5 384.5 L235.5 384.5 L234.5 384.5 L233.5 384.5 L232.5 384.5 L231.5 384.5 L230.5 384.5 L229.5 384.5 L228.5 384.5 L227.5 384.5 L226.5 384.5 L225.5 384.5 L224.5 384.5 L223.5 384.5 L222.5 384.5 L221.5 384.5 L220.5 384.5 L219.5 384.5 L218.5 384.5 L217.5 384.5 L216.5 384.5 L215.5 384.5 L214.5 384.5 L213.5 384.5 L212.5 384.5 L211.5 384.5 L210.5 384.5 L209.5 384.5 L208.5 384.5 L207.5 384.5 L206.5 384.5 L205.5 384.5 L204.5 384.5 L203.5 384.5 L202.5 384.5 L201.5 384.5 L200.5 384.5 L199.5 384.5 L198.5 384.5 L197.5 384.5 L196.5 384.5 L195.5 384.5 L194.5 384.5 L193.5 384.5 L192.5 384.6 L191.5 384.6 L190.5 384.5 L189.5 384.5 L188.5 384.5 L187.5 384.5 L186.5 384.5 L185.5 384.5 L184.5 384.5 L183.5 384.5 L182.5 384.6 L181.5 384.5 L180.5 384.5 L179.5 384.5 L178.5 384.6 L177.5 384.6 L176.5 384.5 L175.5 384.6 L174.5 384.6 L173.5 384.6 L172.5 384.6 L171.5 384.5 L170.5 384.5 L169.5 384.5 L168.5 384.6 L167.5 384.6 L166.5 384.6 L165.5 384.6 L164.5 384.6 L163.5 384.6 L162.5 384.6 L161.5 384.6 L160.5 384.6 L159.5 384.6 L158.5 384.6 L157.5 384.6 L156.5 384.6 L155.5 384.6 L154.5 384.6 L153.5 384.6 L152.5 384.6 L151.5 384.6 L150.5 384.6 L149.5 384.6 L148.5 384.6 L147.5 384.6 L146.5 384.6 L145.5 384.6 L144.5 384.6 L143.5 384.6 L142.5 384.6 L141.5 384.6 L140.5 384.6 L139.5 384.6 L138.5 384.6 L137.5 384.6 L136.5 384.6 L135.5 384.6 L134.5 384.6 L133.5 384.6 L132.5 384.6 L131.5 384.6 L130.5 384.6 L129.5 384.6 L128.5 384.6 L127.5 384.6 L126.5 384.6 L125.5 384.6 L124.5 384.6 L123.5 384.6 L122.5 384.6 L121.5 384.6 L120.5 384.6 L119.5 384.6 L118.5 384.6 L117.5 384.6 L116.5 384.6 L115.5 384.6 L114.5 384.6 L113.5 384.6 L112.5 384.6 L111.5 384.6 L110.5 384.6 L109.5 384.6 L108.5 384.6 L107.5 384.6Z" fill="url(#g5)"/>
<path d="M107.5 384.5 L108.5 384.5 L109.5 384.5 L110.5 384.5 L111.5 384.5 L112.5 384.5 L113.5 384.5 L114.5 384.5 L115.5 384.5 L116.5 384.5 L117.5 384.5 L118.5 384.5 L119.5 384.5 L120.5 384.5 L121.5 384.5 L122.5 384.5 L123.5 384.5 L124.5 384.5 L125.5 384.5 L126.5 384.5 L127.5 384.5 L128.5 384.5 L129.5 384.5 L130.5 384.5 L131.5 384.5 L132.5 384.5 L133.5 384.5 L134.5 384.5 L135.5 384.5 L136.5 384.5 L137.5 384.5 L138.5 384.5 L139.5 384.5 L140.5 384.5 L141.5 384.5 L142.5 384.5 L143.5 384.5 L144.5 384.5 L145.5 384.5 L146.5 384.5 L147.5 384.5 L148.5 384.5 L149.5 384.5 L150.5 384.5 L151.5 384.5 L152.5 384.5 L153.5 384.5 L154.5 384.5 L155.5 384.5 L156.5 384.5 L157.5 384.5 L158.5 384.5 L159.5 384.5 L160.5 384.5 L161.5 384.5 L162.5 384.5 L163.5 384.5 L164.5 384.5 L165.5 384.5 L166.5 384.5 L167.5 384.5 L168.5 384.5 L169.5 384.5 L170.5 384.5 L171.5 384.5 L172.5 384.5 L173.5 384.5 L174.5 384.5 L175.5 384.5 L176.5 384.5 L177.5 384.5 L178.5 384.5 L179.5 384.5 L180.5 384.5 L181.5 384.5 L182.5 384.5 L183.5 384.5 L184.5 384.5 L185.5 384.5 L186.5 384.5 L187.5 384.5 L188.5 384.5 L189.5 384.5 L190.5 384.5 L191.5 384.5 L192.5 384.5 L193.5 384.5 L194.5 384.5 L195.5 384.5 L196.5 384.5 L197.5 384.5 L198.5 384.5 L199.5 384.5 L200.5 384.5 L201.5 384.5 L202.5 384.5 L203.5 384.5 L204.5 384.5 L205.5 384.5 L206.5 384.5 L207.5 384.5 L208.5 384.5 L209.5 384.5 L210.5 384.5 L211.5 384.5 L212.5 384.5 L213.5 384.5 L214.5 384.5 L215.5 384.5 L216.5 384.5 L217.5 384.5 L218.5 384.5 L219.5 384.5 L220.5 384.5 L221.5 384.5 L222.5 384.5 L223.5 384.5 L224.5 384.5 L225.5 384.5 L226.5 384.5 L227.5 384.5 L228.5 384.5 L229.5 384.5 L230.5 384.5 L231.5 384.5 L232.5 384.5 L233.5 384.5 L234.5 384.5 L235.5 384.5 L236.5 384.5 L237.5 384.5 L238.5 384.5 L239.5 384.5 L240.5 384.5 L241.5 384.5 L242.5 384.5 L243.5 384.5 L244.5 384.5 L245.5 384.5 L246.5 384.5 L247.5 384.5 L248.5 384.5 L249.5 384.5 L250.5 384.5 L251.5 384.5 L252.5 384.5 L253.5 384.5 L254.5 384.5 L255.5 384.5 L256.5 384.5 L257.5 384.5 L258.5 384.5 L259.5 384.5 L260.5 384.5 L261.5 384.5 L262.5 384.5 L263.5 384.5 L264.5 384.5 L265.5 384.5 L266.5 384.5 L267.5 384.5 L268.5 384.5 L269.5 384.4 L270.5 384.4 L271.5 384.4 L272.5 384.4 L273.5 384.4 L274.5 384.4 L275.5 384.4 L276.5 384.4 L277.5 384.4 L278.5 384.4 L279.5 384.4 L280.5 384.4 L281.5 384.4 L282.5 384.4 L283.5 384.4 L284.5 384.4 L285.5 384.4 L286.5 384.4 L287.5 384.4 L288.5 384.4 L289.5 384.4 L290.5 384.4 L291.5 384.4 L292.5 384.4 L293.5 384.4 L294.5 384.4 L295.5 384.4 L296.5 384.4 L297.5 384.4 L298.5 384.4 L299.5 384.4 L300.5 384.4 L301.5 384.4 L302.5 384.4 L303.5 384.4 L304.5 384.3 L305.5 384.4 L306.5 384.4 L307.5 384.4 L308.5 384.4 L309.5 384.3 L310.5 384.3 L311.5 384.3 L312.5 384.3 L313.5 384.3 L314.5 384.3 L315.5 384.3 L316.5 384.3 L317.5 384.3 L318.5 384.3 L319.5 384.3 L320.5 384.3 L321.5 384.3 L322.5 384.3 L323.5 384.3 L324.5 384.3 L325.5 384.3 L326.5 384.3 L327.5 384.3 L328.5 384.3 L329.5 384.3 L330.5 384.3 L331.5 384.3 L332.5 384.3 L333.5 384.3 L334.5 384.3 L335.5 384.3 L336.5 384.3 L337.5 384.3 L338.5 384.3 L339.5 384.3 L340.5 384.3 L341.5 384.3 L342.5 384.3 L343.5 384.3 L344.5 384.3 L345.5 384.3 L346.5 384.3 L347.5 384.3 L348.5 384.3 L349.5 384.2 L350.5 384.2 L351.5 384.2 L352.5 384.2 L353.5 384.2 L354.5 384.2 L355.5 384.2 L356.5 384.2 L357.5 384.2 L358.5 384.2 L359.5 384.2 L360.5 384.2 L361.5 384.2 L362.5 384.2 L363.5 384.2 L364.5 384.2 L365.5 384.2 L366.5 384.2 L367.5 384.2 L368.5 384.2 L369.5 384.2 L370.5 384.2 L371.5 384.2 L372.5 384.2 L373.5 384.2 L374.5 384.2 L375.5 384.2 L376.5 384.2 L377.5 384.2 L378.5 384.2 L379.5 384.2 L380.5 384.2 L381.5 384.1 L382.5 384.1 L383.5 384.1 L384.5 384.1 L385.5 384.1 L386.5 384.1 L387.5 384.1 L388.5 384.1 L389.5 384.1 L390.5 384.1 L391.5 384.1 L392.5 384.1 L393.5 384.1 L394.5 384.1 L395.5 384.1 L396.5 384.1 L397.5 384.1 L398.5 384.1 L399.5 384.1 L400.5 384.1 L401.5 384.1 L402.5 384.1 L403.5 384.1 L404.5 384 L405.5 384 L406.5 384 L407.5 384 L408.5 384 L409.5 384 L410.5 384 L411.5 384 L412.5 384 L413.5 384 L414.5 384 L415.5 384 L416.5 384 L417.5 384 L418.5 384 L419.5 384 L420.5 383.9 L421.5 383.9 L422.5 383.9 L423.5 383.9 L424.5 383.9 L425.5 383.9 L426.5 383.9 L427.5 383.8 L428.5 383.8 L429.5 383.8 L430.5 383.8 L431.5 383.8 L432.5 383.8 L433.5 383.7 L434.5 383.7 L435.5 383.7 L436.5 383.7 L437.5 383.7 L438.5 383.6 L439.5 383.7 L440.5 383.6 L441.5 383.6 L442.5 383.6 L443.5 383.6 L444.5 383.6 L445.5 383.5 L446.5 383.5 L447.5 383.5 L448.5 383.5 L449.5 383.5 L450.5 383.5 L451.5 383.5 L452.5 383.4 L453.5 383.4 L454.5 383.4 L455.5 383.4 L456.5 383.4 L457.5 383.3 L458.5 383.3 L459.5 383.3 L460.5 383.3 L461.5 383.3 L462.5 383.2 L463.5 383.2 L464.5 383.2 L465.5 383.2 L466.5 383.2 L467.5 383.2 L468.5 383.2 L469.5 383.1 L470.5 383.1 L471.5 383.1 L472.5 383.1 L473.5 383.1 L474.5 383 L475.5 383 L476.5 383 L477.5 383 L478.5 383 L479.5 383 L480.5 383 L481.5 382.9 L482.5 382.9 L483.5 382.9 L484.5 382.9 L485.5 382.9 L486.5 382.8 L487.5 382.8 L488.5 382.8 L489.5 382.8 L490.5 382.8 L491.5 382.8 L492.5 382.8 L493.5 382.7 L494.5 382.7 L495.5 382.7 L496.5 382.7 L497.5 382.7 L498.5 382.7 L499.5 382.6 L500.5 382.6 L501.5 382.6 L502.5 382.6 L503.5 382.6 L504.5 382.5 L505.5 382.5 L506.5 382.5 L507.5 382.5 L508.5 382.5 L509.5 382.5 L510.5 382.4 L511.5 382.5 L512.5 382.4 L513.5 382.4 L514.5 382.4 L515.5 382.4 L516.5 382.4 L517.5 382.3 L518.5 382.3 L519.5 382.3 L520.5 382.3 L521.5 382.3 L522.5 382.3 L523.5 382.3 L524.5 382.2 L525.5 382.2 L526.5 382.2 L527.5 382.2 L528.5 382.1 L529.5 382.1 L530.5 382.1 L531.5 382.1 L532.5 382.1 L533.5 382.1 L534.5 382.1 L535.5 382.1 L536.5 382 L537.5 382 L538.5 382 L539.5 382 L540.5 381.9 L541.5 381.9 L542.5 381.9 L543.5 381.9 L544.5 381.9 L545.5 381.9 L546.5 381.9 L547.5 381.9 L548.5 381.8 L549.5 381.8 L550.5 381.8 L551.5 381.8 L552.5 381.8 L553.5 381.8 L554.5 381.8 L555.5 381.8 L556.5 377.2 L557.5 377.4 L558.5 377.5 L559.5 377.6 L560.5 377.7 L561.5 377.9 L562.5 378 L563.5 378.2 L564.5 378.3 L565.5 378.6 L566.5 379.2 L567.5 379.3 L568.5 379.1 L569.5 378.8 L570.5 378.5 L571.5 378.2 L572.5 377.9 L573.5 377.6 L574.5 377.4 L575.5 377.1 L576.5 376.8 L577.5 376.5 L578.5 376.3 L579.5 375.9 L580.5 375.1 L581.5 374.3 L582.5 373.3 L583.5 372.5 L584.5 371.7 L585.5 372.1 L586.5 373.6 L587.5 374.8 L588.5 374.9 L589.5 374.9 L590.5 375.1 L591.5 375.1 L592.5 375.1 L593.5 375.2 L594.5 375.3 L595.5 375.4 L596.5 375.4 L597.5 375.5 L598.5 375.5 L599.5 375.7 L600.5 375.8 L601.5 375.8 L602.5 375.9 L603.5 376 L604.5 376 L605.5 375.3 L606.5 374.4 L607.5 373.9 L608.5 374.2 L609.5 374.6 L610.5 375 L611.5 375.5 L612.5 375.8 L613.5 376.2 L614.5 376.6 L615.5 376.6 L616.5 376.1 L617.5 375.6 L618.5 375 L619.5 374.5 L620.5 374 L621.5 373.5 L622.5 373.6 L623.5 373.7 L624.5 373.8 L625.5 373.9 L626.5 374 L627.5 374 L628.5 374.1 L629.5 374.2 L630.5 374.3 L631.5 374.4 L632.5 374.5 L633.5 374.6 L634.5 374.7 L635.5 374.8 L636.5 374.9 L637.5 375 L638.5 375 L639.5 375.1 L640.5 374.9 L641.5 374.7 L642.5 374.4 L643.5 374.1 L644.5 373.8 L645.5 373.8 L646.5 373.7 L647.5 373.6 L648.5 373.5 L649.5 373.3 L650.5 373.2 L651.5 373 L652.5 373 L653.5 372.9 L654.5 372.8 L655.5 372.8 L656.5 372.9 L657.5 373.1 L658.5 373.2 L659.5 373.3 L660.5 373.5 L661.5 373.6 L662.5 373.7 L663.5 373.8 L664.5 373.9 L665.5 373.8 L666.5 373.7 L667.5 373.6 L668.5 373.6 L669.5 373.5 L670.5 373.5 L671.5 373.5 L672.5 373.4 L673.5 373.4 L674.5 373.3 L675.5 373.2 L676.5 373.2 L677.5 373.1 L678.5 373.1 L679.5 373 L680.5 373 L681.5 372.9 L682.5 372.9 L683.5 372.8 L684.5 372.7 L685.5 372.6 L686.5 372.5 L687.5 372.3 L688.5 372.2 L689.5 372 L690.5 371.8 L691.5 371.7 L692.5 371.6 L693.5 371.5 L694.5 371.4 L695.5 371.3 L696.5 371.2 L697.5 371.2 L698.5 371 L699.5 370.9 L700.5 370.9 L701.5 370.7 L702.5 370.7 L703.5 370.6 L704.5 370.6 L705.5 370.5 L706.5 370.3 L707.5 370.2 L708.5 370.2 L709.5 370.1 L710.5 370.1 L711.5 370 L712.5 370 L713.5 369.8 L714.5 369.7 L715.5 369.7 L716.5 369.5 L717.5 369.3 L718.5 369.3 L719.5 369.1 L720.5 369.1 L721.5 368.9 L722.5 368.9 L723.5 368.8 L724.5 368.7 L725.5 368.6 L726.5 368.5 L727.5 368.4 L728.5 368.4 L729.5 368.3 L730.5 368.3 L731.5 368.3 L732.5 368.1 L733.5 368.1 L734.5 367.9 L735.5 367.9 L736.5 367.9 L737.5 367.8 L738.5 367.8 L739.5 367.7 L740.5 367.8 L741.5 367.6 L742.5 367.6 L743.5 367.5 L744.5 367.4 L745.5 367.3 L746.5 367.1 L747.5 367.1 L748.5 366.9 L749.5 366.4 L750.5 365 L751.5 361.6 L752.5 359.1 L753.5 359.1 L754.5 359 L755.5 359.1 L756.5 359.2 L757.5 359.3 L758.5 359.3 L759.5 359.4 L760.5 359.4 L761.5 359.3 L762.5 359.1 L763.5 359.1 L764.5 359.2 L765.5 359 L766.5 359.1 L767.5 359.1 L768.5 359.1 L769.5 358.9 L770.5 359 L771.5 359.1 L772.5 359.1 L773.5 359.3 L774.5 359.4 L775.5 359.8 L776.5 359.8 L777.5 360 L778.5 360.3 L779.5 360.4 L780.5 360.5 L781.5 360.8 L782.5 361 L783.5 361.2 L784.5 361.5 L785.5 361.7 L786.5 361.9 L787.5 361.9 L788.5 361.7 L789.5 361.3 L790.5 361 L791.5 360.7 L792.5 360.6 L793.5 360.5 L794.5 360.3 L795.5 360.1 L796.5 359.9 L797.5 359.8 L798.5 359.6 L799.5 359.4 L800.5 359.1 L801.5 359 L802.5 358.7 L803.5 358.3 L804.5 358.3 L805.5 357.8 L806.5 357.4 L807.5 357.4 L808.5 357.2 L809.5 357 L810.5 356.6 L811.5 356.4 L812.5 356.3 L813.5 356 L814.5 356 L815.5 355.5 L816.5 355.2 L817.5 354.9 L818.5 354.4 L819.5 354.3 L820.5 354 L821.5 353.8 L822.5 353.7 L823.5 353.5 L824.5 353.2 L825.5 353.2 L826.5 353 L827.5 353 L828.5 353.1 L829.5 353.1 L830.5 353 L831.5 352.7 L832.5 352.6 L833.5 352.7 L834.5 353 L835.5 353.1 L836.5 353.4 L837.5 353.6 L838.5 353.9 L839.5 354 L840.5 354.3 L841.5 354.5 L842.5 354.5 L843.5 354.4 L844.5 354.4 L845.5 354.4 L846.5 354.5 L847.5 354.4 L848.5 354.3 L849.5 354 L850.5 353.9 L851.5 353.8 L852.5 353.7 L853.5 353.9 L854 353.9" fill="none" stroke="#f24e05" stroke-width="1.6" stroke-linejoin="round"/>
<path d="M251.5 384.5 L252.5 384.5 L253.5 384.5 L254.5 384.5 L255.5 384.5 L256.5 384.5 L257.5 384.5 L258.5 384.5 L259.5 384.5 L260.5 384.5 L261.5 384.5 L262.5 384.5 L263.5 384.5 L264.5 384.5 L265.5 384.5 L266.5 384.5 L267.5 384.5 L268.5 384.5 L269.5 384.4 L270.5 384.4 L271.5 384.4 L272.5 384.4 L273.5 384.4 L274.5 384.4 L275.5 384.4 L276.5 384.4 L277.5 384.4 L278.5 384.4 L279.5 384.4 L280.5 384.4 L281.5 384.4 L282.5 384.4 L283.5 384.4 L284.5 384.4 L285.5 384.4 L286.5 384.4 L287.5 384.4 L288.5 384.4 L289.5 384.4 L290.5 384.4 L291.5 384.4 L292.5 384.4 L293.5 384.4 L294.5 384.4 L295.5 384.4 L296.5 384.4 L297.5 384.4 L298.5 384.4 L299.5 384.4 L300.5 384.4 L301.5 384.4 L302.5 384.4 L303.5 384.4 L304.5 384.3 L305.5 384.4 L306.5 384.4 L307.5 384.4 L308.5 384.4 L309.5 384.3 L310.5 384.3 L311.5 384.3 L312.5 384.3 L313.5 384.3 L314.5 384.3 L315.5 384.3 L316.5 384.3 L317.5 384.3 L318.5 384.3 L319.5 384.3 L320.5 384.3 L321.5 384.3 L322.5 384.3 L323.5 384.3 L324.5 384.3 L325.5 384.3 L326.5 384.3 L327.5 384.3 L328.5 384.3 L329.5 384.3 L330.5 384.3 L331.5 384.3 L332.5 384.3 L333.5 384.3 L334.5 384.3 L335.5 384.3 L336.5 384.3 L337.5 384.3 L338.5 384.3 L339.5 384.3 L340.5 384.3 L341.5 384.3 L342.5 384.3 L343.5 384.3 L344.5 384.3 L345.5 384.3 L346.5 384.3 L347.5 384.3 L348.5 384.3 L349.5 384.2 L350.5 384.2 L351.5 384.2 L352.5 384.2 L353.5 384.2 L354.5 384.2 L355.5 384.2 L356.5 384.2 L357.5 384.2 L358.5 384.2 L359.5 384.2 L360.5 384.2 L361.5 384.2 L362.5 384.2 L363.5 384.2 L364.5 384.2 L365.5 384.2 L366.5 384.2 L367.5 384.2 L368.5 384.2 L369.5 384.2 L370.5 384.2 L371.5 384.2 L372.5 384.2 L373.5 384.2 L374.5 384.2 L375.5 384.2 L376.5 384.2 L377.5 384.2 L378.5 384.2 L379.5 384.2 L380.5 384.2 L381.5 384.1 L382.5 384.1 L383.5 384.1 L384.5 384.1 L385.5 384.1 L386.5 384.1 L387.5 384.1 L388.5 384.1 L389.5 384.1 L390.5 384.1 L391.5 384.1 L392.5 384.1 L393.5 384.1 L394.5 384.1 L395.5 384.1 L396.5 384.1 L397.5 384.1 L398.5 384.1 L399.5 384.1 L400.5 384.1 L401.5 384.1 L402.5 384.1 L403.5 384.1 L404.5 384 L405.5 384 L406.5 384 L407.5 384 L408.5 384 L409.5 384 L410.5 384 L411.5 384 L412.5 384 L413.5 384 L414.5 384 L415.5 384 L416.5 384 L417.5 384 L418.5 384 L419.5 384 L420.5 383.9 L421.5 383.9 L422.5 383.9 L423.5 383.9 L424.5 383.9 L425.5 383.9 L426.5 383.9 L427.5 383.9 L428.5 383.9 L429.5 383.9 L430.5 383.9 L431.5 383.9 L432.5 383.9 L433.5 383.9 L434.5 383.9 L435.5 383.8 L436.5 383.8 L437.5 383.8 L438.5 383.8 L439.5 383.8 L440.5 383.8 L441.5 383.8 L442.5 383.8 L443.5 383.8 L444.5 383.8 L445.5 383.8 L446.5 383.8 L447.5 383.8 L448.5 383.7 L449.5 383.7 L450.5 383.7 L451.5 383.7 L452.5 383.7 L453.5 383.7 L454.5 383.7 L455.5 383.7 L456.5 383.7 L457.5 383.7 L458.5 383.7 L459.5 383.7 L460.5 383.7 L461.5 383.6 L462.5 383.6 L463.5 383.6 L464.5 383.6 L465.5 383.6 L466.5 383.6 L467.5 383.6 L468.5 383.6 L469.5 383.6 L470.5 383.6 L471.5 383.6 L472.5 383.6 L473.5 383.6 L474.5 383.5 L475.5 383.5 L476.5 383.5 L477.5 383.5 L478.5 383.5 L479.5 383.5 L480.5 383.5 L481.5 383.5 L482.5 383.5 L483.5 383.5 L484.5 383.5 L485.5 383.5 L486.5 383.4 L487.5 383.4 L488.5 383.4 L489.5 383.4 L490.5 383.4 L491.5 383.4 L492.5 383.4 L493.5 383.4 L494.5 383.4 L495.5 383.4 L496.5 383.4 L497.5 383.4 L498.5 383.4 L499.5 383.4 L500.5 383.4 L501.5 383.4 L502.5 383.3 L503.5 383.3 L504.5 383.3 L505.5 383.3 L506.5 383.3 L507.5 383.3 L508.5 383.3 L509.5 383.3 L510.5 383.3 L511.5 383.3 L512.5 383.3 L513.5 383.3 L514.5 383.2 L515.5 383.3 L516.5 383.2 L517.5 383.2 L518.5 383.2 L519.5 383.2 L520.5 383.2 L521.5 383.2 L522.5 383.2 L523.5 383.2 L524.5 383.2 L525.5 383.2 L526.5 383.2 L527.5 383.2 L528.5 383.1 L529.5 383.2 L530.5 383.1 L531.5 383.1 L532.5 383.1 L533.5 383.1 L534.5 383.1 L535.5 383.1 L536.5 383.1 L537.5 383.1 L538.5 383.1 L539.5 383.1 L540.5 383 L541.5 383 L542.5 383.1 L543.5 383 L544.5 383.1 L545.5 383.1 L546.5 383 L547.5 383 L548.5 383 L549.5 383 L550.5 383 L551.5 382.9 L552.5 382.9 L553.5 382.8 L554.5 382.8 L555.5 382.8 L556.5 382.7 L557.5 382.7 L558.5 382.6 L559.5 382.5 L560.5 382.5 L561.5 382.5 L562.5 382.4 L563.5 382.4 L564.5 382.3 L565.5 382.3 L566.5 382.2 L567.5 382.1 L568.5 382.1 L569.5 382.1 L570.5 382 L571.5 382 L572.5 381.9 L573.5 381.9 L574.5 381.9 L575.5 381.8 L576.5 381.7 L577.5 381.7 L578.5 381.7 L579.5 381.6 L580.5 381.5 L581.5 381.5 L582.5 381.4 L583.5 381.4 L584.5 381.4 L585.5 381.3 L586.5 381.2 L587.5 381.1 L588.5 381 L589.5 380.9 L590.5 380.8 L591.5 380.7 L592.5 380.7 L593.5 380.6 L594.5 380.5 L595.5 380.4 L596.5 380.3 L597.5 380.2 L598.5 380.1 L599.5 380 L600.5 380 L601.5 379.8 L602.5 379.8 L603.5 379.7 L604.5 379.6 L605.5 379.5 L606.5 379.5 L607.5 379.5 L608.5 379.4 L609.5 379.4 L610.5 379.4 L611.5 379.3 L612.5 379.3 L613.5 379.2 L614.5 379.2 L615.5 379.2 L616.5 379.2 L617.5 379.1 L618.5 379 L619.5 379 L620.5 379 L621.5 378.9 L622.5 378.9 L623.5 378.9 L624.5 378.8 L625.5 378.8 L626.5 378.8 L627.5 378.7 L628.5 378.7 L629.5 378.7 L630.5 378.6 L631.5 378.6 L632.5 378.6 L633.5 378.5 L634.5 378.5 L635.5 378.4 L636.5 378.4 L637.5 378.4 L638.5 378.3 L639.5 378.3 L640.5 378.3 L641.5 378.2 L642.5 378.1 L643.5 378 L644.5 378 L645.5 378 L646.5 378 L647.5 377.9 L648.5 377.9 L649.5 377.8 L650.5 377.8 L651.5 377.7 L652.5 377.7 L653.5 377.7 L654.5 377.6 L655.5 377.6 L656.5 377.6 L657.5 377.6 L658.5 377.4 L659.5 377.4 L660.5 377.3 L661.5 377.3 L662.5 377.2 L663.5 377.1 L664.5 377.1 L665.5 377 L666.5 376.9 L667.5 376.9 L668.5 376.8 L669.5 376.8 L670.5 376.8 L671.5 376.7 L672.5 376.6 L673.5 376.6 L674.5 376.5 L675.5 376.4 L676.5 376.4 L677.5 376.4 L678.5 376.3 L679.5 376.2 L680.5 376.2 L681.5 376.1 L682.5 376.1 L683.5 376 L684.5 375.9 L685.5 375.9 L686.5 375.8 L687.5 375.8 L688.5 375.7 L689.5 375.7 L690.5 375.5 L691.5 375.5 L692.5 375.4 L693.5 375.3 L694.5 375.4 L695.5 375.3 L696.5 375.3 L697.5 375.3 L698.5 375.2 L699.5 375.2 L700.5 375.2 L701.5 375.1 L702.5 375.1 L703.5 375.1 L704.5 375.1 L705.5 375.1 L706.5 375 L707.5 375 L708.5 375 L709.5 375 L710.5 375 L711.5 374.9 L712.5 375 L713.5 374.9 L714.5 374.8 L715.5 374.9 L716.5 374.8 L717.5 374.7 L718.5 374.7 L719.5 374.6 L720.5 374.7 L721.5 374.5 L722.5 374.6 L723.5 374.6 L724.5 374.5 L725.5 374.5 L726.5 374.4 L727.5 374.4 L728.5 374.4 L729.5 374.4 L730.5 374.3 L731.5 374.4 L732.5 374.3 L733.5 374.2 L734.5 374.2 L735.5 374.2 L736.5 374.2 L737.5 374.1 L738.5 374.1 L739.5 374.1 L740.5 374.1 L741.5 374 L742.5 374.1 L743.5 374.1 L744.5 374 L745.5 374 L746.5 373.9 L747.5 373.9 L748.5 373.9 L749.5 374.4 L750.5 374.8 L751.5 367.7 L752.5 367.7 L753.5 367.7 L754.5 367.7 L755.5 367.8 L756.5 367.9 L757.5 367.9 L758.5 368 L759.5 368.1 L760.5 368.2 L761.5 368.2 L762.5 368.1 L763.5 368.2 L764.5 368.3 L765.5 368.2 L766.5 368.2 L767.5 368.3 L768.5 368.5 L769.5 368.4 L770.5 368.4 L771.5 368.5 L772.5 368.4 L773.5 368.5 L774.5 368.5 L775.5 368.6 L776.5 368.5 L777.5 368.5 L778.5 368.7 L779.5 368.7 L780.5 368.7 L781.5 368.8 L782.5 368.8 L783.5 368.8 L784.5 368.9 L785.5 369 L786.5 369.1 L787.5 369 L788.5 369 L789.5 368.6 L790.5 368.4 L791.5 368.2 L792.5 368.2 L793.5 368 L794.5 367.9 L795.5 367.8 L796.5 367.6 L797.5 367.7 L798.5 367.5 L799.5 367.5 L800.5 367.4 L801.5 367.3 L802.5 367 L803.5 366.8 L804.5 366.9 L805.5 366.5 L806.5 366.3 L807.5 366.3 L808.5 366.2 L809.5 366.1 L810.5 365.9 L811.5 365.8 L812.5 365.9 L813.5 365.7 L814.5 365.7 L815.5 365.4 L816.5 365.2 L817.5 365 L818.5 364.9 L819.5 364.8 L820.5 364.6 L821.5 364.6 L822.5 364.6 L823.5 364.4 L824.5 364.4 L825.5 364.4 L826.5 364.3 L827.5 364.4 L828.5 364.5 L829.5 364.6 L830.5 364.6 L831.5 364.5 L832.5 364.6 L833.5 364.7 L834.5 364.7 L835.5 364.7 L836.5 364.7 L837.5 364.7 L838.5 364.8 L839.5 364.7 L840.5 364.8 L841.5 364.8 L842.5 364.7 L843.5 364.8 L844.5 364.8 L845.5 364.8 L846.5 365 L847.5 365.1 L848.5 365.1 L849.5 365 L850.5 365 L851.5 365 L852.5 365 L853.5 365.3 L854 365.2 L854 377.5 L853.5 377.5 L852.5 377.3 L851.5 377.2 L850.5 377.1 L849.5 377 L848.5 377 L847.5 376.9 L846.5 376.8 L845.5 376.6 L844.5 376.5 L843.5 376.4 L842.5 376.3 L841.5 376.2 L840.5 376.1 L839.5 376 L838.5 375.9 L837.5 375.7 L836.5 375.6 L835.5 375.5 L834.5 375.5 L833.5 375.4 L832.5 375.2 L831.5 375.1 L830.5 375 L829.5 374.9 L828.5 374.7 L827.5 374.6 L826.5 374.5 L825.5 374.4 L824.5 374.3 L823.5 374.2 L822.5 374.3 L821.5 374.4 L820.5 374.4 L819.5 374.5 L818.5 374.6 L817.5 374.7 L816.5 374.8 L815.5 374.9 L814.5 375.1 L813.5 375.2 L812.5 375.2 L811.5 375.2 L810.5 375.3 L809.5 375.5 L808.5 375.5 L807.5 375.7 L806.5 375.7 L805.5 375.8 L804.5 376 L803.5 376 L802.5 376.1 L801.5 376.3 L800.5 376.4 L799.5 376.5 L798.5 376.5 L797.5 376.6 L796.5 376.7 L795.5 376.8 L794.5 376.8 L793.5 377 L792.5 377.1 L791.5 377.1 L790.5 377.2 L789.5 377.4 L788.5 377.5 L787.5 377.4 L786.5 377.3 L785.5 377.2 L784.5 377 L783.5 376.8 L782.5 376.6 L781.5 376.5 L780.5 376.3 L779.5 376.2 L778.5 376.1 L777.5 375.9 L776.5 375.7 L775.5 375.6 L774.5 375.4 L773.5 375.3 L772.5 375.1 L771.5 375 L770.5 374.8 L769.5 374.8 L768.5 374.8 L767.5 374.7 L766.5 374.6 L765.5 374.4 L764.5 374.5 L763.5 374.3 L762.5 374.3 L761.5 374.2 L760.5 374.2 L759.5 374.2 L758.5 374.1 L757.5 374 L756.5 374 L755.5 373.8 L754.5 373.6 L753.5 373.7 L752.5 373.6 L751.5 377.4 L750.5 380.5 L749.5 380.5 L748.5 380.6 L747.5 380.6 L746.5 380.6 L745.5 380.6 L744.5 380.5 L743.5 380.5 L742.5 380.5 L741.5 380.5 L740.5 380.5 L739.5 380.4 L738.5 380.4 L737.5 380.4 L736.5 380.4 L735.5 380.3 L734.5 380.3 L733.5 380.3 L732.5 380.3 L731.5 380.3 L730.5 380.2 L729.5 380.2 L728.5 380.2 L727.5 380.2 L726.5 380.1 L725.5 380.1 L724.5 380.1 L723.5 380.1 L722.5 380 L721.5 380 L720.5 380 L719.5 380 L718.5 380 L717.5 379.9 L716.5 379.9 L715.5 379.9 L714.5 379.9 L713.5 379.8 L712.5 379.9 L711.5 379.8 L710.5 379.8 L709.5 379.8 L708.5 379.7 L707.5 379.7 L706.5 379.8 L705.5 379.8 L704.5 379.9 L703.5 379.9 L702.5 380 L701.5 380.1 L700.5 380.2 L699.5 380.3 L698.5 380.3 L697.5 380.4 L696.5 380.5 L695.5 380.5 L694.5 380.6 L693.5 380.7 L692.5 380.8 L691.5 380.9 L690.5 380.9 L689.5 381.1 L688.5 381.1 L687.5 381.1 L686.5 381.1 L685.5 381.1 L684.5 381.1 L683.5 381.2 L682.5 381.2 L681.5 381.2 L680.5 381.3 L679.5 381.2 L678.5 381.2 L677.5 381.2 L676.5 381.1 L675.5 381.1 L674.5 381.1 L673.5 381.1 L672.5 381.1 L671.5 381.1 L670.5 381.1 L669.5 381.1 L668.5 381 L667.5 381 L666.5 381 L665.5 381 L664.5 381 L663.5 380.9 L662.5 380.9 L661.5 381 L660.5 381 L659.5 381.1 L658.5 381.2 L657.5 381.5 L656.5 381.6 L655.5 381.7 L654.5 381.9 L653.5 381.9 L652.5 381.9 L651.5 381.9 L650.5 382 L649.5 382 L648.5 382.1 L647.5 382.1 L646.5 382.1 L645.5 382.1 L644.5 382.1 L643.5 382.2 L642.5 382.2 L641.5 382.3 L640.5 382.3 L639.5 382.3 L638.5 382.3 L637.5 382.4 L636.5 382.4 L635.5 382.4 L634.5 382.4 L633.5 382.5 L632.5 382.5 L631.5 382.5 L630.5 382.5 L629.5 382.5 L628.5 382.5 L627.5 382.5 L626.5 382.5 L625.5 382.5 L624.5 382.5 L623.5 382.5 L622.5 382.5 L621.5 382.5 L620.5 382.5 L619.5 382.5 L618.5 382.5 L617.5 382.5 L616.5 382.5 L615.5 382.5 L614.5 382.5 L613.5 382.5 L612.5 382.5 L611.5 382.5 L610.5 382.5 L609.5 382.5 L608.5 382.5 L607.5 382.5 L606.5 382.5 L605.5 382.5 L604.5 382.5 L603.5 382.5 L602.5 382.4 L601.5 382.4 L600.5 382.4 L599.5 382.5 L598.5 382.4 L597.5 382.5 L596.5 382.4 L595.5 382.4 L594.5 382.4 L593.5 382.4 L592.5 382.4 L591.5 382.4 L590.5 382.4 L589.5 382.4 L588.5 382.4 L587.5 382.4 L586.5 382.4 L585.5 382.4 L584.5 382.4 L583.5 382.4 L582.5 382.5 L581.5 382.6 L580.5 382.6 L579.5 382.7 L578.5 382.8 L577.5 382.8 L576.5 382.9 L575.5 382.9 L574.5 383 L573.5 383.1 L572.5 383.1 L571.5 383.2 L570.5 383.2 L569.5 383.3 L568.5 383.3 L567.5 383.4 L566.5 383.5 L565.5 383.6 L564.5 383.6 L563.5 383.7 L562.5 383.7 L561.5 383.8 L560.5 383.8 L559.5 383.8 L558.5 383.9 L557.5 383.9 L556.5 383.9 L555.5 383.9 L554.5 383.9 L553.5 383.9 L552.5 384 L551.5 384 L550.5 384 L549.5 384 L548.5 384 L547.5 384 L546.5 384 L545.5 384 L544.5 384.1 L543.5 384 L542.5 384.1 L541.5 384.1 L540.5 384.1 L539.5 384.1 L538.5 384.1 L537.5 384.1 L536.5 384.1 L535.5 384.1 L534.5 384.1 L533.5 384.1 L532.5 384.2 L531.5 384.1 L530.5 384.1 L529.5 384.2 L528.5 384.2 L527.5 384.2 L526.5 384.2 L525.5 384.2 L524.5 384.2 L523.5 384.2 L522.5 384.2 L521.5 384.2 L520.5 384.2 L519.5 384.2 L518.5 384.2 L517.5 384.2 L516.5 384.3 L515.5 384.3 L514.5 384.3 L513.5 384.3 L512.5 384.3 L511.5 384.3 L510.5 384.3 L509.5 384.3 L508.5 384.3 L507.5 384.3 L506.5 384.4 L505.5 384.4 L504.5 384.4 L503.5 384.4 L502.5 384.4 L501.5 384.4 L500.5 384.4 L499.5 384.4 L498.5 384.4 L497.5 384.4 L496.5 384.4 L495.5 384.4 L494.5 384.4 L493.5 384.4 L492.5 384.5 L491.5 384.5 L490.5 384.5 L489.5 384.5 L488.5 384.5 L487.5 384.5 L486.5 384.5 L485.5 384.5 L484.5 384.5 L483.5 384.5 L482.5 384.5 L481.5 384.5 L480.5 384.6 L479.5 384.6 L478.5 384.6 L477.5 384.6 L476.5 384.6 L475.5 384.6 L474.5 384.6 L473.5 384.6 L472.5 384.6 L471.5 384.6 L470.5 384.6 L469.5 384.7 L468.5 384.7 L467.5 384.7 L466.5 384.7 L465.5 384.7 L464.5 384.7 L463.5 384.7 L462.5 384.7 L461.5 384.7 L460.5 384.7 L459.5 384.7 L458.5 384.7 L457.5 384.7 L456.5 384.8 L455.5 384.8 L454.5 384.8 L453.5 384.8 L452.5 384.8 L451.5 384.8 L450.5 384.8 L449.5 384.8 L448.5 384.8 L447.5 384.8 L446.5 384.8 L445.5 384.8 L444.5 384.8 L443.5 384.9 L442.5 384.9 L441.5 384.9 L440.5 384.9 L439.5 384.9 L438.5 384.9 L437.5 384.9 L436.5 384.9 L435.5 384.9 L434.5 384.9 L433.5 384.9 L432.5 384.9 L431.5 384.9 L430.5 384.9 L429.5 384.9 L428.5 384.9 L427.5 384.9 L426.5 384.9 L425.5 384.9 L424.5 384.9 L423.5 384.9 L422.5 384.9 L421.5 384.9 L420.5 384.9 L419.5 385 L418.5 385 L417.5 384.9 L416.5 384.9 L415.5 385 L414.5 385 L413.5 385 L412.5 385 L411.5 385 L410.5 385 L409.5 385 L408.5 385 L407.5 385 L406.5 385 L405.5 385 L404.5 385 L403.5 385 L402.5 385 L401.5 385 L400.5 385 L399.5 385 L398.5 385 L397.5 385 L396.5 385 L395.5 385 L394.5 385 L393.5 385 L392.5 385 L391.5 385 L390.5 385 L389.5 385.1 L388.5 385.1 L387.5 385.1 L386.5 385.1 L385.5 385.1 L384.5 385.1 L383.5 385.1 L382.5 385.1 L381.5 385.1 L380.5 385.1 L379.5 385.1 L378.5 385.1 L377.5 385.1 L376.5 385.1 L375.5 385.1 L374.5 385.1 L373.5 385.1 L372.5 385.1 L371.5 385.1 L370.5 385.1 L369.5 385.1 L368.5 385.1 L367.5 385.1 L366.5 385.1 L365.5 385.1 L364.5 385.1 L363.5 385.1 L362.5 385.1 L361.5 385.1 L360.5 385.1 L359.5 385.1 L358.5 385.2 L357.5 385.2 L356.5 385.2 L355.5 385.2 L354.5 385.2 L353.5 385.2 L352.5 385.2 L351.5 385.2 L350.5 385.2 L349.5 385.2 L348.5 385.2 L347.5 385.2 L346.5 385.2 L345.5 385.2 L344.5 385.2 L343.5 385.2 L342.5 385.2 L341.5 385.2 L340.5 385.2 L339.5 385.2 L338.5 385.2 L337.5 385.2 L336.5 385.2 L335.5 385.2 L334.5 385.2 L333.5 385.2 L332.5 385.2 L331.5 385.2 L330.5 385.3 L329.5 385.2 L328.5 385.3 L327.5 385.3 L326.5 385.3 L325.5 385.3 L324.5 385.3 L323.5 385.3 L322.5 385.3 L321.5 385.3 L320.5 385.3 L319.5 385.3 L318.5 385.3 L317.5 385.3 L316.5 385.3 L315.5 385.3 L314.5 385.3 L313.5 385.3 L312.5 385.3 L311.5 385.3 L310.5 385.3 L309.5 385.3 L308.5 385.3 L307.5 385.3 L306.5 385.3 L305.5 385.3 L304.5 385.3 L303.5 385.3 L302.5 385.3 L301.5 385.3 L300.5 385.3 L299.5 385.4 L298.5 385.3 L297.5 385.3 L296.5 385.4 L295.5 385.4 L294.5 385.4 L293.5 385.4 L292.5 385.4 L291.5 385.4 L290.5 385.4 L289.5 385.4 L288.5 385.4 L287.5 385.4 L286.5 385.4 L285.5 385.4 L284.5 385.4 L283.5 385.4 L282.5 385.4 L281.5 385.4 L280.5 385.4 L279.5 385.4 L278.5 385.4 L277.5 385.4 L276.5 385.4 L275.5 385.4 L274.5 385.4 L273.5 385.4 L272.5 385.4 L271.5 385.4 L270.5 385.4 L269.5 385.5 L268.5 385.5 L267.5 385.5 L266.5 385.5 L265.5 385.5 L264.5 385.5 L263.5 385.5 L262.5 385.5 L261.5 385.5 L260.5 385.5 L259.5 385.5 L258.5 385.5 L257.5 385.5 L256.5 385.5 L255.5 385.5 L254.5 385.5 L253.5 385.5 L252.5 385.5 L251.5 385.5Z" fill="url(#g6)"/>
<path d="M251.5 384.5 L252.5 384.5 L253.5 384.5 L254.5 384.5 L255.5 384.5 L256.5 384.5 L257.5 384.5 L258.5 384.5 L259.5 384.5 L260.5 384.5 L261.5 384.5 L262.5 384.5 L263.5 384.5 L264.5 384.5 L265.5 384.5 L266.5 384.5 L267.5 384.5 L268.5 384.5 L269.5 384.4 L270.5 384.4 L271.5 384.4 L272.5 384.4 L273.5 384.4 L274.5 384.4 L275.5 384.4 L276.5 384.4 L277.5 384.4 L278.5 384.4 L279.5 384.4 L280.5 384.4 L281.5 384.4 L282.5 384.4 L283.5 384.4 L284.5 384.4 L285.5 384.4 L286.5 384.4 L287.5 384.4 L288.5 384.4 L289.5 384.4 L290.5 384.4 L291.5 384.4 L292.5 384.4 L293.5 384.4 L294.5 384.4 L295.5 384.4 L296.5 384.4 L297.5 384.4 L298.5 384.4 L299.5 384.4 L300.5 384.4 L301.5 384.4 L302.5 384.4 L303.5 384.4 L304.5 384.3 L305.5 384.4 L306.5 384.4 L307.5 384.4 L308.5 384.4 L309.5 384.3 L310.5 384.3 L311.5 384.3 L312.5 384.3 L313.5 384.3 L314.5 384.3 L315.5 384.3 L316.5 384.3 L317.5 384.3 L318.5 384.3 L319.5 384.3 L320.5 384.3 L321.5 384.3 L322.5 384.3 L323.5 384.3 L324.5 384.3 L325.5 384.3 L326.5 384.3 L327.5 384.3 L328.5 384.3 L329.5 384.3 L330.5 384.3 L331.5 384.3 L332.5 384.3 L333.5 384.3 L334.5 384.3 L335.5 384.3 L336.5 384.3 L337.5 384.3 L338.5 384.3 L339.5 384.3 L340.5 384.3 L341.5 384.3 L342.5 384.3 L343.5 384.3 L344.5 384.3 L345.5 384.3 L346.5 384.3 L347.5 384.3 L348.5 384.3 L349.5 384.2 L350.5 384.2 L351.5 384.2 L352.5 384.2 L353.5 384.2 L354.5 384.2 L355.5 384.2 L356.5 384.2 L357.5 384.2 L358.5 384.2 L359.5 384.2 L360.5 384.2 L361.5 384.2 L362.5 384.2 L363.5 384.2 L364.5 384.2 L365.5 384.2 L366.5 384.2 L367.5 384.2 L368.5 384.2 L369.5 384.2 L370.5 384.2 L371.5 384.2 L372.5 384.2 L373.5 384.2 L374.5 384.2 L375.5 384.2 L376.5 384.2 L377.5 384.2 L378.5 384.2 L379.5 384.2 L380.5 384.2 L381.5 384.1 L382.5 384.1 L383.5 384.1 L384.5 384.1 L385.5 384.1 L386.5 384.1 L387.5 384.1 L388.5 384.1 L389.5 384.1 L390.5 384.1 L391.5 384.1 L392.5 384.1 L393.5 384.1 L394.5 384.1 L395.5 384.1 L396.5 384.1 L397.5 384.1 L398.5 384.1 L399.5 384.1 L400.5 384.1 L401.5 384.1 L402.5 384.1 L403.5 384.1 L404.5 384 L405.5 384 L406.5 384 L407.5 384 L408.5 384 L409.5 384 L410.5 384 L411.5 384 L412.5 384 L413.5 384 L414.5 384 L415.5 384 L416.5 384 L417.5 384 L418.5 384 L419.5 384 L420.5 383.9 L421.5 383.9 L422.5 383.9 L423.5 383.9 L424.5 383.9 L425.5 383.9 L426.5 383.9 L427.5 383.9 L428.5 383.9 L429.5 383.9 L430.5 383.9 L431.5 383.9 L432.5 383.9 L433.5 383.9 L434.5 383.9 L435.5 383.8 L436.5 383.8 L437.5 383.8 L438.5 383.8 L439.5 383.8 L440.5 383.8 L441.5 383.8 L442.5 383.8 L443.5 383.8 L444.5 383.8 L445.5 383.8 L446.5 383.8 L447.5 383.8 L448.5 383.7 L449.5 383.7 L450.5 383.7 L451.5 383.7 L452.5 383.7 L453.5 383.7 L454.5 383.7 L455.5 383.7 L456.5 383.7 L457.5 383.7 L458.5 383.7 L459.5 383.7 L460.5 383.7 L461.5 383.6 L462.5 383.6 L463.5 383.6 L464.5 383.6 L465.5 383.6 L466.5 383.6 L467.5 383.6 L468.5 383.6 L469.5 383.6 L470.5 383.6 L471.5 383.6 L472.5 383.6 L473.5 383.6 L474.5 383.5 L475.5 383.5 L476.5 383.5 L477.5 383.5 L478.5 383.5 L479.5 383.5 L480.5 383.5 L481.5 383.5 L482.5 383.5 L483.5 383.5 L484.5 383.5 L485.5 383.5 L486.5 383.4 L487.5 383.4 L488.5 383.4 L489.5 383.4 L490.5 383.4 L491.5 383.4 L492.5 383.4 L493.5 383.4 L494.5 383.4 L495.5 383.4 L496.5 383.4 L497.5 383.4 L498.5 383.4 L499.5 383.4 L500.5 383.4 L501.5 383.4 L502.5 383.3 L503.5 383.3 L504.5 383.3 L505.5 383.3 L506.5 383.3 L507.5 383.3 L508.5 383.3 L509.5 383.3 L510.5 383.3 L511.5 383.3 L512.5 383.3 L513.5 383.3 L514.5 383.2 L515.5 383.3 L516.5 383.2 L517.5 383.2 L518.5 383.2 L519.5 383.2 L520.5 383.2 L521.5 383.2 L522.5 383.2 L523.5 383.2 L524.5 383.2 L525.5 383.2 L526.5 383.2 L527.5 383.2 L528.5 383.1 L529.5 383.2 L530.5 383.1 L531.5 383.1 L532.5 383.1 L533.5 383.1 L534.5 383.1 L535.5 383.1 L536.5 383.1 L537.5 383.1 L538.5 383.1 L539.5 383.1 L540.5 383 L541.5 383 L542.5 383.1 L543.5 383 L544.5 383.1 L545.5 383.1 L546.5 383 L547.5 383 L548.5 383 L549.5 383 L550.5 383 L551.5 382.9 L552.5 382.9 L553.5 382.8 L554.5 382.8 L555.5 382.8 L556.5 382.7 L557.5 382.7 L558.5 382.6 L559.5 382.5 L560.5 382.5 L561.5 382.5 L562.5 382.4 L563.5 382.4 L564.5 382.3 L565.5 382.3 L566.5 382.2 L567.5 382.1 L568.5 382.1 L569.5 382.1 L570.5 382 L571.5 382 L572.5 381.9 L573.5 381.9 L574.5 381.9 L575.5 381.8 L576.5 381.7 L577.5 381.7 L578.5 381.7 L579.5 381.6 L580.5 381.5 L581.5 381.5 L582.5 381.4 L583.5 381.4 L584.5 381.4 L585.5 381.3 L586.5 381.2 L587.5 381.1 L588.5 381 L589.5 380.9 L590.5 380.8 L591.5 380.7 L592.5 380.7 L593.5 380.6 L594.5 380.5 L595.5 380.4 L596.5 380.3 L597.5 380.2 L598.5 380.1 L599.5 380 L600.5 380 L601.5 379.8 L602.5 379.8 L603.5 379.7 L604.5 379.6 L605.5 379.5 L606.5 379.5 L607.5 379.5 L608.5 379.4 L609.5 379.4 L610.5 379.4 L611.5 379.3 L612.5 379.3 L613.5 379.2 L614.5 379.2 L615.5 379.2 L616.5 379.2 L617.5 379.1 L618.5 379 L619.5 379 L620.5 379 L621.5 378.9 L622.5 378.9 L623.5 378.9 L624.5 378.8 L625.5 378.8 L626.5 378.8 L627.5 378.7 L628.5 378.7 L629.5 378.7 L630.5 378.6 L631.5 378.6 L632.5 378.6 L633.5 378.5 L634.5 378.5 L635.5 378.4 L636.5 378.4 L637.5 378.4 L638.5 378.3 L639.5 378.3 L640.5 378.3 L641.5 378.2 L642.5 378.1 L643.5 378 L644.5 378 L645.5 378 L646.5 378 L647.5 377.9 L648.5 377.9 L649.5 377.8 L650.5 377.8 L651.5 377.7 L652.5 377.7 L653.5 377.7 L654.5 377.6 L655.5 377.6 L656.5 377.6 L657.5 377.6 L658.5 377.4 L659.5 377.4 L660.5 377.3 L661.5 377.3 L662.5 377.2 L663.5 377.1 L664.5 377.1 L665.5 377 L666.5 376.9 L667.5 376.9 L668.5 376.8 L669.5 376.8 L670.5 376.8 L671.5 376.7 L672.5 376.6 L673.5 376.6 L674.5 376.5 L675.5 376.4 L676.5 376.4 L677.5 376.4 L678.5 376.3 L679.5 376.2 L680.5 376.2 L681.5 376.1 L682.5 376.1 L683.5 376 L684.5 375.9 L685.5 375.9 L686.5 375.8 L687.5 375.8 L688.5 375.7 L689.5 375.7 L690.5 375.5 L691.5 375.5 L692.5 375.4 L693.5 375.3 L694.5 375.4 L695.5 375.3 L696.5 375.3 L697.5 375.3 L698.5 375.2 L699.5 375.2 L700.5 375.2 L701.5 375.1 L702.5 375.1 L703.5 375.1 L704.5 375.1 L705.5 375.1 L706.5 375 L707.5 375 L708.5 375 L709.5 375 L710.5 375 L711.5 374.9 L712.5 375 L713.5 374.9 L714.5 374.8 L715.5 374.9 L716.5 374.8 L717.5 374.7 L718.5 374.7 L719.5 374.6 L720.5 374.7 L721.5 374.5 L722.5 374.6 L723.5 374.6 L724.5 374.5 L725.5 374.5 L726.5 374.4 L727.5 374.4 L728.5 374.4 L729.5 374.4 L730.5 374.3 L731.5 374.4 L732.5 374.3 L733.5 374.2 L734.5 374.2 L735.5 374.2 L736.5 374.2 L737.5 374.1 L738.5 374.1 L739.5 374.1 L740.5 374.1 L741.5 374 L742.5 374.1 L743.5 374.1 L744.5 374 L745.5 374 L746.5 373.9 L747.5 373.9 L748.5 373.9 L749.5 374.4 L750.5 374.8 L751.5 367.7 L752.5 367.7 L753.5 367.7 L754.5 367.7 L755.5 367.8 L756.5 367.9 L757.5 367.9 L758.5 368 L759.5 368.1 L760.5 368.2 L761.5 368.2 L762.5 368.1 L763.5 368.2 L764.5 368.3 L765.5 368.2 L766.5 368.2 L767.5 368.3 L768.5 368.5 L769.5 368.4 L770.5 368.4 L771.5 368.5 L772.5 368.4 L773.5 368.5 L774.5 368.5 L775.5 368.6 L776.5 368.5 L777.5 368.5 L778.5 368.7 L779.5 368.7 L780.5 368.7 L781.5 368.8 L782.5 368.8 L783.5 368.8 L784.5 368.9 L785.5 369 L786.5 369.1 L787.5 369 L788.5 369 L789.5 368.6 L790.5 368.4 L791.5 368.2 L792.5 368.2 L793.5 368 L794.5 367.9 L795.5 367.8 L796.5 367.6 L797.5 367.7 L798.5 367.5 L799.5 367.5 L800.5 367.4 L801.5 367.3 L802.5 367 L803.5 366.8 L804.5 366.9 L805.5 366.5 L806.5 366.3 L807.5 366.3 L808.5 366.2 L809.5 366.1 L810.5 365.9 L811.5 365.8 L812.5 365.9 L813.5 365.7 L814.5 365.7 L815.5 365.4 L816.5 365.2 L817.5 365 L818.5 364.9 L819.5 364.8 L820.5 364.6 L821.5 364.6 L822.5 364.6 L823.5 364.4 L824.5 364.4 L825.5 364.4 L826.5 364.3 L827.5 364.4 L828.5 364.5 L829.5 364.6 L830.5 364.6 L831.5 364.5 L832.5 364.6 L833.5 364.7 L834.5 364.7 L835.5 364.7 L836.5 364.7 L837.5 364.7 L838.5 364.8 L839.5 364.7 L840.5 364.8 L841.5 364.8 L842.5 364.7 L843.5 364.8 L844.5 364.8 L845.5 364.8 L846.5 365 L847.5 365.1 L848.5 365.1 L849.5 365 L850.5 365 L851.5 365 L852.5 365 L853.5 365.3 L854 365.2" fill="none" stroke="#b1bfde" stroke-width="1.6" stroke-linejoin="round"/>
<path d="M578.5 382.8 L579.5 382.7 L580.5 382.6 L581.5 382.6 L582.5 382.5 L583.5 382.4 L584.5 382.4 L585.5 382.4 L586.5 382.4 L587.5 382.4 L588.5 382.4 L589.5 382.4 L590.5 382.4 L591.5 382.4 L592.5 382.4 L593.5 382.4 L594.5 382.4 L595.5 382.4 L596.5 382.4 L597.5 382.5 L598.5 382.4 L599.5 382.5 L600.5 382.4 L601.5 382.4 L602.5 382.4 L603.5 382.5 L604.5 382.5 L605.5 382.5 L606.5 382.5 L607.5 382.5 L608.5 382.5 L609.5 382.5 L610.5 382.5 L611.5 382.5 L612.5 382.5 L613.5 382.5 L614.5 382.5 L615.5 382.5 L616.5 382.5 L617.5 382.5 L618.5 382.5 L619.5 382.5 L620.5 382.5 L621.5 382.5 L622.5 382.5 L623.5 382.5 L624.5 382.5 L625.5 382.5 L626.5 382.5 L627.5 382.5 L628.5 382.5 L629.5 382.5 L630.5 382.5 L631.5 382.5 L632.5 382.5 L633.5 382.5 L634.5 382.4 L635.5 382.4 L636.5 382.4 L637.5 382.4 L638.5 382.3 L639.5 382.3 L640.5 382.3 L641.5 382.3 L642.5 382.2 L643.5 382.2 L644.5 382.1 L645.5 382.1 L646.5 382.1 L647.5 382.1 L648.5 382.1 L649.5 382 L650.5 382 L651.5 381.9 L652.5 381.9 L653.5 381.9 L654.5 381.9 L655.5 381.7 L656.5 381.6 L657.5 381.5 L658.5 381.2 L659.5 381.1 L660.5 381 L661.5 381 L662.5 380.9 L663.5 380.9 L664.5 381 L665.5 381 L666.5 381 L667.5 381 L668.5 381 L669.5 381.1 L670.5 381.1 L671.5 381.1 L672.5 381.1 L673.5 381.1 L674.5 381.1 L675.5 381.1 L676.5 381.1 L677.5 381.2 L678.5 381.2 L679.5 381.2 L680.5 381.3 L681.5 381.2 L682.5 381.2 L683.5 381.2 L684.5 381.1 L685.5 381.1 L686.5 381.1 L687.5 381.1 L688.5 381.1 L689.5 381.1 L690.5 380.9 L691.5 380.9 L692.5 380.8 L693.5 380.7 L694.5 380.6 L695.5 380.5 L696.5 380.5 L697.5 380.4 L698.5 380.3 L699.5 380.3 L700.5 380.2 L701.5 380.1 L702.5 380 L703.5 379.9 L704.5 379.9 L705.5 379.8 L706.5 379.8 L707.5 379.7 L708.5 379.7 L709.5 379.8 L710.5 379.8 L711.5 379.8 L712.5 379.9 L713.5 379.8 L714.5 379.9 L715.5 379.9 L716.5 379.9 L717.5 379.9 L718.5 380 L719.5 380 L720.5 380 L721.5 380 L722.5 380 L723.5 380.1 L724.5 380.1 L725.5 380.1 L726.5 380.1 L727.5 380.2 L728.5 380.2 L729.5 380.2 L730.5 380.2 L731.5 380.3 L732.5 380.3 L733.5 380.3 L734.5 380.3 L735.5 380.3 L736.5 380.4 L737.5 380.4 L738.5 380.4 L739.5 380.4 L740.5 380.5 L741.5 380.5 L742.5 380.5 L743.5 380.5 L744.5 380.5 L745.5 380.6 L746.5 380.6 L747.5 380.6 L748.5 380.6 L749.5 380.5 L750.5 380.5 L751.5 377.4 L752.5 373.6 L753.5 373.7 L754.5 373.6 L755.5 373.8 L756.5 374 L757.5 374 L758.5 374.1 L759.5 374.2 L760.5 374.2 L761.5 374.2 L762.5 374.3 L763.5 374.3 L764.5 374.5 L765.5 374.4 L766.5 374.6 L767.5 374.7 L768.5 374.8 L769.5 374.8 L770.5 374.8 L771.5 375 L772.5 375.1 L773.5 375.3 L774.5 375.4 L775.5 375.6 L776.5 375.7 L777.5 375.9 L778.5 376.1 L779.5 376.2 L780.5 376.3 L781.5 376.5 L782.5 376.6 L783.5 376.8 L784.5 377 L785.5 377.2 L786.5 377.3 L787.5 377.4 L788.5 377.5 L789.5 377.4 L790.5 377.2 L791.5 377.1 L792.5 377.1 L793.5 377 L794.5 376.8 L795.5 376.8 L796.5 376.7 L797.5 376.6 L798.5 376.5 L799.5 376.5 L800.5 376.4 L801.5 376.3 L802.5 376.1 L803.5 376 L804.5 376 L805.5 375.8 L806.5 375.7 L807.5 375.7 L808.5 375.5 L809.5 375.5 L810.5 375.3 L811.5 375.2 L812.5 375.2 L813.5 375.2 L814.5 375.1 L815.5 374.9 L816.5 374.8 L817.5 374.7 L818.5 374.6 L819.5 374.5 L820.5 374.4 L821.5 374.4 L822.5 374.3 L823.5 374.2 L824.5 374.3 L825.5 374.4 L826.5 374.5 L827.5 374.6 L828.5 374.7 L829.5 374.9 L830.5 375 L831.5 375.1 L832.5 375.2 L833.5 375.4 L834.5 375.5 L835.5 375.5 L836.5 375.6 L837.5 375.7 L838.5 375.9 L839.5 376 L840.5 376.1 L841.5 376.2 L842.5 376.3 L843.5 376.4 L844.5 376.5 L845.5 376.6 L846.5 376.8 L847.5 376.9 L848.5 377 L849.5 377 L850.5 377.1 L851.5 377.2 L852.5 377.3 L853.5 377.5 L854 377.5 L854 381.4 L853.5 381.4 L852.5 381.3 L851.5 381.2 L850.5 381.1 L849.5 381 L848.5 381 L847.5 380.9 L846.5 380.8 L845.5 380.7 L844.5 380.6 L843.5 380.6 L842.5 380.4 L841.5 380.4 L840.5 380.3 L839.5 380.2 L838.5 380.1 L837.5 380 L836.5 379.9 L835.5 379.9 L834.5 379.9 L833.5 379.9 L832.5 379.9 L831.5 379.9 L830.5 379.9 L829.5 379.9 L828.5 379.9 L827.5 379.9 L826.5 379.8 L825.5 379.9 L824.5 379.9 L823.5 379.9 L822.5 379.9 L821.5 379.9 L820.5 379.9 L819.5 379.9 L818.5 379.9 L817.5 379.8 L816.5 379.9 L815.5 379.9 L814.5 379.9 L813.5 380 L812.5 380.1 L811.5 380.1 L810.5 380.3 L809.5 380.4 L808.5 380.5 L807.5 380.6 L806.5 380.7 L805.5 380.8 L804.5 380.9 L803.5 381 L802.5 381.2 L801.5 381.3 L800.5 381.4 L799.5 381.4 L798.5 381.4 L797.5 381.4 L796.5 381.4 L795.5 381.4 L794.5 381.4 L793.5 381.4 L792.5 381.4 L791.5 381.4 L790.5 381.4 L789.5 381.4 L788.5 381.4 L787.5 381.4 L786.5 381.4 L785.5 381.4 L784.5 381.4 L783.5 381.4 L782.5 381.4 L781.5 381.4 L780.5 381.4 L779.5 381.4 L778.5 381.4 L777.5 381.4 L776.5 381.4 L775.5 381.4 L774.5 381.4 L773.5 381.5 L772.5 381.4 L771.5 381.4 L770.5 381.4 L769.5 381.4 L768.5 381.4 L767.5 381.4 L766.5 381.4 L765.5 381.4 L764.5 381.4 L763.5 381.4 L762.5 381.4 L761.5 381.4 L760.5 381.4 L759.5 381.4 L758.5 381.4 L757.5 381.5 L756.5 381.4 L755.5 381.4 L754.5 381.4 L753.5 381.4 L752.5 381.4 L751.5 381.4 L750.5 381.5 L749.5 381.4 L748.5 381.4 L747.5 381.4 L746.5 381.4 L745.5 381.4 L744.5 381.4 L743.5 381.3 L742.5 381.3 L741.5 381.3 L740.5 381.3 L739.5 381.2 L738.5 381.2 L737.5 381.2 L736.5 381.2 L735.5 381.2 L734.5 381.1 L733.5 381.1 L732.5 381.1 L731.5 381.1 L730.5 381.1 L729.5 381 L728.5 381 L727.5 381 L726.5 381 L725.5 381 L724.5 381 L723.5 381 L722.5 380.9 L721.5 380.8 L720.5 380.9 L719.5 380.8 L718.5 380.8 L717.5 380.8 L716.5 380.8 L715.5 380.8 L714.5 380.8 L713.5 380.7 L712.5 380.8 L711.5 380.7 L710.5 380.7 L709.5 380.7 L708.5 380.6 L707.5 380.6 L706.5 380.6 L705.5 380.6 L704.5 380.7 L703.5 380.6 L702.5 380.7 L701.5 380.7 L700.5 380.8 L699.5 380.8 L698.5 380.8 L697.5 380.8 L696.5 380.8 L695.5 380.9 L694.5 380.9 L693.5 380.9 L692.5 380.9 L691.5 381 L690.5 381 L689.5 381.1 L688.5 381.1 L687.5 381.1 L686.5 381.1 L685.5 381.1 L684.5 381.1 L683.5 381.2 L682.5 381.2 L681.5 381.2 L680.5 381.3 L679.5 381.3 L678.5 381.3 L677.5 381.3 L676.5 381.3 L675.5 381.3 L674.5 381.4 L673.5 381.4 L672.5 381.4 L671.5 381.4 L670.5 381.5 L669.5 381.5 L668.5 381.5 L667.5 381.5 L666.5 381.6 L665.5 381.6 L664.5 381.6 L663.5 381.6 L662.5 381.6 L661.5 381.7 L660.5 381.7 L659.5 381.7 L658.5 381.8 L657.5 381.8 L656.5 381.9 L655.5 381.8 L654.5 381.9 L653.5 381.9 L652.5 381.9 L651.5 381.9 L650.5 382 L649.5 382 L648.5 382.1 L647.5 382.1 L646.5 382.1 L645.5 382.1 L644.5 382.1 L643.5 382.2 L642.5 382.2 L641.5 382.3 L640.5 382.3 L639.5 382.3 L638.5 382.3 L637.5 382.4 L636.5 382.4 L635.5 382.4 L634.5 382.4 L633.5 382.5 L632.5 382.5 L631.5 382.5 L630.5 382.6 L629.5 382.6 L628.5 382.6 L627.5 382.6 L626.5 382.7 L625.5 382.7 L624.5 382.7 L623.5 382.8 L622.5 382.8 L621.5 382.8 L620.5 382.8 L619.5 382.9 L618.5 382.9 L617.5 382.9 L616.5 383 L615.5 383 L614.5 383 L613.5 383 L612.5 383 L611.5 383.1 L610.5 383.1 L609.5 383.1 L608.5 383.1 L607.5 383.1 L606.5 383.2 L605.5 383.1 L604.5 383.2 L603.5 383.2 L602.5 383.2 L601.5 383.2 L600.5 383.2 L599.5 383.3 L598.5 383.3 L597.5 383.3 L596.5 383.3 L595.5 383.3 L594.5 383.3 L593.5 383.3 L592.5 383.4 L591.5 383.3 L590.5 383.4 L589.5 383.4 L588.5 383.4 L587.5 383.5 L586.5 383.5 L585.5 383.5 L584.5 383.5 L583.5 383.5 L582.5 383.5 L581.5 383.5 L580.5 383.5 L579.5 383.6 L578.5 383.6Z" fill="url(#g7)"/>
<path d="M578.5 382.8 L579.5 382.7 L580.5 382.6 L581.5 382.6 L582.5 382.5 L583.5 382.4 L584.5 382.4 L585.5 382.4 L586.5 382.4 L587.5 382.4 L588.5 382.4 L589.5 382.4 L590.5 382.4 L591.5 382.4 L592.5 382.4 L593.5 382.4 L594.5 382.4 L595.5 382.4 L596.5 382.4 L597.5 382.5 L598.5 382.4 L599.5 382.5 L600.5 382.4 L601.5 382.4 L602.5 382.4 L603.5 382.5 L604.5 382.5 L605.5 382.5 L606.5 382.5 L607.5 382.5 L608.5 382.5 L609.5 382.5 L610.5 382.5 L611.5 382.5 L612.5 382.5 L613.5 382.5 L614.5 382.5 L615.5 382.5 L616.5 382.5 L617.5 382.5 L618.5 382.5 L619.5 382.5 L620.5 382.5 L621.5 382.5 L622.5 382.5 L623.5 382.5 L624.5 382.5 L625.5 382.5 L626.5 382.5 L627.5 382.5 L628.5 382.5 L629.5 382.5 L630.5 382.5 L631.5 382.5 L632.5 382.5 L633.5 382.5 L634.5 382.4 L635.5 382.4 L636.5 382.4 L637.5 382.4 L638.5 382.3 L639.5 382.3 L640.5 382.3 L641.5 382.3 L642.5 382.2 L643.5 382.2 L644.5 382.1 L645.5 382.1 L646.5 382.1 L647.5 382.1 L648.5 382.1 L649.5 382 L650.5 382 L651.5 381.9 L652.5 381.9 L653.5 381.9 L654.5 381.9 L655.5 381.7 L656.5 381.6 L657.5 381.5 L658.5 381.2 L659.5 381.1 L660.5 381 L661.5 381 L662.5 380.9 L663.5 380.9 L664.5 381 L665.5 381 L666.5 381 L667.5 381 L668.5 381 L669.5 381.1 L670.5 381.1 L671.5 381.1 L672.5 381.1 L673.5 381.1 L674.5 381.1 L675.5 381.1 L676.5 381.1 L677.5 381.2 L678.5 381.2 L679.5 381.2 L680.5 381.3 L681.5 381.2 L682.5 381.2 L683.5 381.2 L684.5 381.1 L685.5 381.1 L686.5 381.1 L687.5 381.1 L688.5 381.1 L689.5 381.1 L690.5 380.9 L691.5 380.9 L692.5 380.8 L693.5 380.7 L694.5 380.6 L695.5 380.5 L696.5 380.5 L697.5 380.4 L698.5 380.3 L699.5 380.3 L700.5 380.2 L701.5 380.1 L702.5 380 L703.5 379.9 L704.5 379.9 L705.5 379.8 L706.5 379.8 L707.5 379.7 L708.5 379.7 L709.5 379.8 L710.5 379.8 L711.5 379.8 L712.5 379.9 L713.5 379.8 L714.5 379.9 L715.5 379.9 L716.5 379.9 L717.5 379.9 L718.5 380 L719.5 380 L720.5 380 L721.5 380 L722.5 380 L723.5 380.1 L724.5 380.1 L725.5 380.1 L726.5 380.1 L727.5 380.2 L728.5 380.2 L729.5 380.2 L730.5 380.2 L731.5 380.3 L732.5 380.3 L733.5 380.3 L734.5 380.3 L735.5 380.3 L736.5 380.4 L737.5 380.4 L738.5 380.4 L739.5 380.4 L740.5 380.5 L741.5 380.5 L742.5 380.5 L743.5 380.5 L744.5 380.5 L745.5 380.6 L746.5 380.6 L747.5 380.6 L748.5 380.6 L749.5 380.5 L750.5 380.5 L751.5 377.4 L752.5 373.6 L753.5 373.7 L754.5 373.6 L755.5 373.8 L756.5 374 L757.5 374 L758.5 374.1 L759.5 374.2 L760.5 374.2 L761.5 374.2 L762.5 374.3 L763.5 374.3 L764.5 374.5 L765.5 374.4 L766.5 374.6 L767.5 374.7 L768.5 374.8 L769.5 374.8 L770.5 374.8 L771.5 375 L772.5 375.1 L773.5 375.3 L774.5 375.4 L775.5 375.6 L776.5 375.7 L777.5 375.9 L778.5 376.1 L779.5 376.2 L780.5 376.3 L781.5 376.5 L782.5 376.6 L783.5 376.8 L784.5 377 L785.5 377.2 L786.5 377.3 L787.5 377.4 L788.5 377.5 L789.5 377.4 L790.5 377.2 L791.5 377.1 L792.5 377.1 L793.5 377 L794.5 376.8 L795.5 376.8 L796.5 376.7 L797.5 376.6 L798.5 376.5 L799.5 376.5 L800.5 376.4 L801.5 376.3 L802.5 376.1 L803.5 376 L804.5 376 L805.5 375.8 L806.5 375.7 L807.5 375.7 L808.5 375.5 L809.5 375.5 L810.5 375.3 L811.5 375.2 L812.5 375.2 L813.5 375.2 L814.5 375.1 L815.5 374.9 L816.5 374.8 L817.5 374.7 L818.5 374.6 L819.5 374.5 L820.5 374.4 L821.5 374.4 L822.5 374.3 L823.5 374.2 L824.5 374.3 L825.5 374.4 L826.5 374.5 L827.5 374.6 L828.5 374.7 L829.5 374.9 L830.5 375 L831.5 375.1 L832.5 375.2 L833.5 375.4 L834.5 375.5 L835.5 375.5 L836.5 375.6 L837.5 375.7 L838.5 375.9 L839.5 376 L840.5 376.1 L841.5 376.2 L842.5 376.3 L843.5 376.4 L844.5 376.5 L845.5 376.6 L846.5 376.8 L847.5 376.9 L848.5 377 L849.5 377 L850.5 377.1 L851.5 377.2 L852.5 377.3 L853.5 377.5 L854 377.5" fill="none" stroke="#f5d600" stroke-width="1.6" stroke-linejoin="round"/>
<path d="M409.5 385.1 L410.5 385.1 L411.5 385.1 L412.5 385.1 L413.5 385.1 L414.5 385.1 L415.5 385.1 L416.5 385.1 L417.5 385.1 L418.5 385.1 L419.5 385.1 L420.5 385 L421.5 385 L422.5 385 L423.5 385 L424.5 385 L425.5 385 L426.5 385 L427.5 385 L428.5 385 L429.5 385 L430.5 385 L431.5 384.9 L432.5 384.9 L433.5 384.9 L434.5 384.9 L435.5 384.9 L436.5 384.9 L437.5 384.9 L438.5 384.9 L439.5 384.9 L440.5 384.9 L441.5 384.9 L442.5 384.9 L443.5 384.9 L444.5 384.8 L445.5 384.8 L446.5 384.8 L447.5 384.8 L448.5 384.8 L449.5 384.8 L450.5 384.8 L451.5 384.8 L452.5 384.8 L453.5 384.8 L454.5 384.8 L455.5 384.8 L456.5 384.8 L457.5 384.7 L458.5 384.7 L459.5 384.7 L460.5 384.7 L461.5 384.7 L462.5 384.7 L463.5 384.7 L464.5 384.7 L465.5 384.7 L466.5 384.7 L467.5 384.7 L468.5 384.7 L469.5 384.7 L470.5 384.6 L471.5 384.6 L472.5 384.6 L473.5 384.6 L474.5 384.6 L475.5 384.6 L476.5 384.6 L477.5 384.6 L478.5 384.6 L479.5 384.6 L480.5 384.6 L481.5 384.5 L482.5 384.5 L483.5 384.5 L484.5 384.5 L485.5 384.5 L486.5 384.5 L487.5 384.5 L488.5 384.5 L489.5 384.5 L490.5 384.5 L491.5 384.5 L492.5 384.5 L493.5 384.4 L494.5 384.4 L495.5 384.4 L496.5 384.4 L497.5 384.4 L498.5 384.4 L499.5 384.4 L500.5 384.4 L501.5 384.4 L502.5 384.4 L503.5 384.4 L504.5 384.4 L505.5 384.4 L506.5 384.4 L507.5 384.3 L508.5 384.3 L509.5 384.3 L510.5 384.3 L511.5 384.3 L512.5 384.3 L513.5 384.3 L514.5 384.3 L515.5 384.3 L516.5 384.3 L517.5 384.2 L518.5 384.2 L519.5 384.2 L520.5 384.2 L521.5 384.2 L522.5 384.2 L523.5 384.2 L524.5 384.2 L525.5 384.2 L526.5 384.2 L527.5 384.2 L528.5 384.2 L529.5 384.2 L530.5 384.1 L531.5 384.1 L532.5 384.2 L533.5 384.1 L534.5 384.1 L535.5 384.1 L536.5 384.1 L537.5 384.1 L538.5 384.1 L539.5 384.1 L540.5 384.1 L541.5 384.1 L542.5 384.1 L543.5 384 L544.5 384.1 L545.5 384 L546.5 384 L547.5 384 L548.5 384 L549.5 384 L550.5 384 L551.5 384 L552.5 384 L553.5 383.9 L554.5 383.9 L555.5 383.9 L556.5 383.9 L557.5 383.9 L558.5 383.9 L559.5 383.8 L560.5 383.8 L561.5 383.8 L562.5 383.8 L563.5 383.8 L564.5 383.8 L565.5 383.8 L566.5 383.7 L567.5 383.7 L568.5 383.7 L569.5 383.7 L570.5 383.7 L571.5 383.7 L572.5 383.7 L573.5 383.7 L574.5 383.7 L575.5 383.6 L576.5 383.6 L577.5 383.6 L578.5 383.6 L579.5 383.6 L580.5 383.5 L581.5 383.5 L582.5 383.5 L583.5 383.5 L584.5 383.5 L585.5 383.5 L586.5 383.5 L587.5 383.5 L588.5 383.4 L589.5 383.4 L590.5 383.4 L591.5 383.3 L592.5 383.4 L593.5 383.3 L594.5 383.3 L595.5 383.3 L596.5 383.3 L597.5 383.3 L598.5 383.3 L599.5 383.3 L600.5 383.2 L601.5 383.2 L602.5 383.2 L603.5 383.2 L604.5 383.2 L605.5 383.1 L606.5 383.2 L607.5 383.1 L608.5 383.1 L609.5 383.1 L610.5 383.1 L611.5 383.1 L612.5 383 L613.5 383 L614.5 383 L615.5 383 L616.5 383 L617.5 382.9 L618.5 382.9 L619.5 382.9 L620.5 382.8 L621.5 382.8 L622.5 382.8 L623.5 382.8 L624.5 382.7 L625.5 382.7 L626.5 382.7 L627.5 382.6 L628.5 382.6 L629.5 382.6 L630.5 382.6 L631.5 382.5 L632.5 382.5 L633.5 382.5 L634.5 382.4 L635.5 382.4 L636.5 382.4 L637.5 382.4 L638.5 382.3 L639.5 382.3 L640.5 382.3 L641.5 382.3 L642.5 382.2 L643.5 382.2 L644.5 382.1 L645.5 382.1 L646.5 382.1 L647.5 382.1 L648.5 382.1 L649.5 382 L650.5 382 L651.5 381.9 L652.5 381.9 L653.5 381.9 L654.5 381.9 L655.5 381.8 L656.5 381.9 L657.5 381.8 L658.5 381.8 L659.5 381.7 L660.5 381.7 L661.5 381.7 L662.5 381.6 L663.5 381.6 L664.5 381.6 L665.5 381.6 L666.5 381.6 L667.5 381.5 L668.5 381.5 L669.5 381.5 L670.5 381.5 L671.5 381.4 L672.5 381.4 L673.5 381.4 L674.5 381.4 L675.5 381.3 L676.5 381.3 L677.5 381.3 L678.5 381.3 L679.5 381.3 L680.5 381.3 L681.5 381.2 L682.5 381.2 L683.5 381.2 L684.5 381.1 L685.5 381.1 L686.5 381.1 L687.5 381.1 L688.5 381.1 L689.5 381.1 L690.5 381 L691.5 381 L692.5 380.9 L693.5 380.9 L694.5 380.9 L695.5 380.9 L696.5 380.8 L697.5 380.8 L698.5 380.8 L699.5 380.8 L700.5 380.8 L701.5 380.7 L702.5 380.7 L703.5 380.6 L704.5 380.7 L705.5 380.6 L706.5 380.6 L707.5 380.6 L708.5 380.6 L709.5 380.7 L710.5 380.7 L711.5 380.7 L712.5 380.8 L713.5 380.7 L714.5 380.8 L715.5 380.8 L716.5 380.8 L717.5 380.8 L718.5 380.8 L719.5 380.8 L720.5 380.9 L721.5 380.8 L722.5 380.9 L723.5 381 L724.5 381 L725.5 381 L726.5 381 L727.5 381 L728.5 381 L729.5 381 L730.5 381.1 L731.5 381.1 L732.5 381.1 L733.5 381.1 L734.5 381.1 L735.5 381.2 L736.5 381.2 L737.5 381.2 L738.5 381.2 L739.5 381.2 L740.5 381.3 L741.5 381.3 L742.5 381.3 L743.5 381.3 L744.5 381.4 L745.5 381.4 L746.5 381.4 L747.5 381.4 L748.5 381.4 L749.5 381.4 L750.5 381.5 L751.5 381.4 L752.5 381.4 L753.5 381.4 L754.5 381.4 L755.5 381.4 L756.5 381.4 L757.5 381.5 L758.5 381.4 L759.5 381.4 L760.5 381.4 L761.5 381.4 L762.5 381.4 L763.5 381.4 L764.5 381.4 L765.5 381.4 L766.5 381.4 L767.5 381.4 L768.5 381.4 L769.5 381.4 L770.5 381.4 L771.5 381.4 L772.5 381.4 L773.5 381.5 L774.5 381.4 L775.5 381.4 L776.5 381.4 L777.5 381.4 L778.5 381.4 L779.5 381.4 L780.5 381.4 L781.5 381.4 L782.5 381.4 L783.5 381.4 L784.5 381.4 L785.5 381.4 L786.5 381.4 L787.5 381.4 L788.5 381.4 L789.5 381.4 L790.5 381.4 L791.5 381.4 L792.5 381.4 L793.5 381.4 L794.5 381.4 L795.5 381.4 L796.5 381.4 L797.5 381.4 L798.5 381.4 L799.5 381.4 L800.5 381.4 L801.5 381.3 L802.5 381.2 L803.5 381 L804.5 380.9 L805.5 380.8 L806.5 380.7 L807.5 380.6 L808.5 380.5 L809.5 380.4 L810.5 380.3 L811.5 380.1 L812.5 380.1 L813.5 380 L814.5 379.9 L815.5 379.9 L816.5 379.9 L817.5 379.8 L818.5 379.9 L819.5 379.9 L820.5 379.9 L821.5 379.9 L822.5 379.9 L823.5 379.9 L824.5 379.9 L825.5 379.9 L826.5 379.8 L827.5 379.9 L828.5 379.9 L829.5 379.9 L830.5 379.9 L831.5 379.9 L832.5 379.9 L833.5 379.9 L834.5 379.9 L835.5 379.9 L836.5 379.9 L837.5 380 L838.5 380.1 L839.5 380.2 L840.5 380.3 L841.5 380.4 L842.5 380.4 L843.5 380.6 L844.5 380.6 L845.5 380.7 L846.5 380.8 L847.5 380.9 L848.5 381 L849.5 381 L850.5 381.1 L851.5 381.2 L852.5 381.3 L853.5 381.4 L854 381.4 L854 384.3 L853.5 384.3 L852.5 384.2 L851.5 384.1 L850.5 384.1 L849.5 384 L848.5 384 L847.5 383.9 L846.5 383.9 L845.5 383.8 L844.5 383.7 L843.5 383.7 L842.5 383.6 L841.5 383.6 L840.5 383.5 L839.5 383.4 L838.5 383.4 L837.5 383.3 L836.5 383.3 L835.5 383.2 L834.5 383.2 L833.5 383.1 L832.5 383 L831.5 383 L830.5 382.9 L829.5 382.9 L828.5 382.8 L827.5 382.7 L826.5 382.6 L825.5 382.6 L824.5 382.5 L823.5 382.5 L822.5 382.5 L821.5 382.6 L820.5 382.6 L819.5 382.7 L818.5 382.7 L817.5 382.7 L816.5 382.8 L815.5 382.8 L814.5 382.9 L813.5 382.9 L812.5 382.9 L811.5 383 L810.5 383 L809.5 383.1 L808.5 383.1 L807.5 383.2 L806.5 383.2 L805.5 383.2 L804.5 383.3 L803.5 383.3 L802.5 383.4 L801.5 383.4 L800.5 383.5 L799.5 383.5 L798.5 383.5 L797.5 383.6 L796.5 383.6 L795.5 383.5 L794.5 383.5 L793.5 383.5 L792.5 383.5 L791.5 383.4 L790.5 383.4 L789.5 383.5 L788.5 383.5 L787.5 383.4 L786.5 383.4 L785.5 383.4 L784.5 383.3 L783.5 383.3 L782.5 383.3 L781.5 383.3 L780.5 383.3 L779.5 383.3 L778.5 383.2 L777.5 383.2 L776.5 383.2 L775.5 383.1 L774.5 383.1 L773.5 383.2 L772.5 383.1 L771.5 383.1 L770.5 383.1 L769.5 383 L768.5 383 L767.5 383 L766.5 383 L765.5 383 L764.5 382.9 L763.5 382.9 L762.5 382.9 L761.5 382.9 L760.5 382.8 L759.5 382.8 L758.5 382.8 L757.5 382.8 L756.5 382.8 L755.5 382.7 L754.5 382.7 L753.5 382.7 L752.5 382.7 L751.5 382.7 L750.5 382.7 L749.5 382.6 L748.5 382.6 L747.5 382.6 L746.5 382.6 L745.5 382.6 L744.5 382.5 L743.5 382.5 L742.5 382.5 L741.5 382.4 L740.5 382.4 L739.5 382.4 L738.5 382.3 L737.5 382.3 L736.5 382.3 L735.5 382.2 L734.5 382.2 L733.5 382.2 L732.5 382.2 L731.5 382.2 L730.5 382.1 L729.5 382.1 L728.5 382 L727.5 382 L726.5 382 L725.5 381.9 L724.5 381.9 L723.5 381.9 L722.5 381.8 L721.5 381.8 L720.5 381.8 L719.5 381.8 L718.5 381.8 L717.5 381.7 L716.5 381.7 L715.5 381.7 L714.5 381.6 L713.5 381.6 L712.5 381.6 L711.5 381.6 L710.5 381.5 L709.5 381.5 L708.5 381.4 L707.5 381.4 L706.5 381.5 L705.5 381.5 L704.5 381.6 L703.5 381.7 L702.5 381.8 L701.5 381.8 L700.5 382 L699.5 382.1 L698.5 382.1 L697.5 382.3 L696.5 382.3 L695.5 382.4 L694.5 382.5 L693.5 382.6 L692.5 382.7 L691.5 382.8 L690.5 382.8 L689.5 383 L688.5 383 L687.5 383.1 L686.5 383.2 L685.5 383.3 L684.5 383.3 L683.5 383.3 L682.5 383.2 L681.5 383.2 L680.5 383.2 L679.5 383.2 L678.5 383.2 L677.5 383.2 L676.5 383.1 L675.5 383.1 L674.5 383.1 L673.5 383.1 L672.5 383.1 L671.5 383.1 L670.5 383.1 L669.5 383.1 L668.5 383 L667.5 383 L666.5 383 L665.5 383 L664.5 383 L663.5 382.9 L662.5 382.9 L661.5 383 L660.5 382.9 L659.5 382.9 L658.5 383 L657.5 383 L656.5 383 L655.5 383 L654.5 383 L653.5 383 L652.5 383 L651.5 383 L650.5 383.1 L649.5 383.1 L648.5 383.1 L647.5 383.1 L646.5 383.1 L645.5 383.2 L644.5 383.2 L643.5 383.2 L642.5 383.2 L641.5 383.2 L640.5 383.3 L639.5 383.3 L638.5 383.3 L637.5 383.3 L636.5 383.4 L635.5 383.4 L634.5 383.4 L633.5 383.4 L632.5 383.4 L631.5 383.4 L630.5 383.5 L629.5 383.5 L628.5 383.5 L627.5 383.5 L626.5 383.5 L625.5 383.6 L624.5 383.5 L623.5 383.6 L622.5 383.6 L621.5 383.6 L620.5 383.6 L619.5 383.6 L618.5 383.6 L617.5 383.7 L616.5 383.7 L615.5 383.7 L614.5 383.7 L613.5 383.7 L612.5 383.7 L611.5 383.8 L610.5 383.8 L609.5 383.8 L608.5 383.8 L607.5 383.8 L606.5 383.8 L605.5 383.8 L604.5 383.8 L603.5 383.8 L602.5 383.8 L601.5 383.8 L600.5 383.9 L599.5 383.9 L598.5 383.9 L597.5 383.9 L596.5 383.9 L595.5 383.9 L594.5 383.9 L593.5 383.9 L592.5 383.9 L591.5 383.9 L590.5 384 L589.5 384 L588.5 384 L587.5 384 L586.5 384 L585.5 384 L584.5 384 L583.5 384 L582.5 384.1 L581.5 384.1 L580.5 384.1 L579.5 384.1 L578.5 384.1 L577.5 384.1 L576.5 384.1 L575.5 384.2 L574.5 384.2 L573.5 384.2 L572.5 384.2 L571.5 384.2 L570.5 384.2 L569.5 384.2 L568.5 384.2 L567.5 384.2 L566.5 384.2 L565.5 384.2 L564.5 384.3 L563.5 384.3 L562.5 384.3 L561.5 384.3 L560.5 384.3 L559.5 384.3 L558.5 384.3 L557.5 384.3 L556.5 384.3 L555.5 384.4 L554.5 384.4 L553.5 384.4 L552.5 384.4 L551.5 384.4 L550.5 384.4 L549.5 384.4 L548.5 384.4 L547.5 384.4 L546.5 384.5 L545.5 384.4 L544.5 384.5 L543.5 384.5 L542.5 384.5 L541.5 384.5 L540.5 384.5 L539.5 384.5 L538.5 384.5 L537.5 384.5 L536.5 384.5 L535.5 384.5 L534.5 384.6 L533.5 384.6 L532.5 384.6 L531.5 384.6 L530.5 384.6 L529.5 384.6 L528.5 384.6 L527.5 384.6 L526.5 384.6 L525.5 384.6 L524.5 384.6 L523.5 384.7 L522.5 384.7 L521.5 384.7 L520.5 384.7 L519.5 384.7 L518.5 384.7 L517.5 384.7 L516.5 384.7 L515.5 384.7 L514.5 384.7 L513.5 384.7 L512.5 384.7 L511.5 384.8 L510.5 384.8 L509.5 384.8 L508.5 384.8 L507.5 384.8 L506.5 384.8 L505.5 384.8 L504.5 384.8 L503.5 384.8 L502.5 384.8 L501.5 384.9 L500.5 384.9 L499.5 384.9 L498.5 384.9 L497.5 384.9 L496.5 384.9 L495.5 384.9 L494.5 384.9 L493.5 384.9 L492.5 384.9 L491.5 384.9 L490.5 385 L489.5 385 L488.5 385 L487.5 385 L486.5 385 L485.5 385 L484.5 385 L483.5 385 L482.5 385 L481.5 385 L480.5 385 L479.5 385.1 L478.5 385.1 L477.5 385.1 L476.5 385.1 L475.5 385.1 L474.5 385.1 L473.5 385.1 L472.5 385.1 L471.5 385.1 L470.5 385.1 L469.5 385.2 L468.5 385.2 L467.5 385.2 L466.5 385.2 L465.5 385.2 L464.5 385.2 L463.5 385.2 L462.5 385.2 L461.5 385.2 L460.5 385.2 L459.5 385.2 L458.5 385.3 L457.5 385.3 L456.5 385.3 L455.5 385.3 L454.5 385.3 L453.5 385.3 L452.5 385.3 L451.5 385.3 L450.5 385.3 L449.5 385.3 L448.5 385.4 L447.5 385.4 L446.5 385.4 L445.5 385.4 L444.5 385.4 L443.5 385.4 L442.5 385.4 L441.5 385.4 L440.5 385.4 L439.5 385.4 L438.5 385.4 L437.5 385.5 L436.5 385.5 L435.5 385.5 L434.5 385.5 L433.5 385.5 L432.5 385.5 L431.5 385.5 L430.5 385.5 L429.5 385.5 L428.5 385.5 L427.5 385.5 L426.5 385.6 L425.5 385.6 L424.5 385.6 L423.5 385.6 L422.5 385.6 L421.5 385.6 L420.5 385.6 L419.5 385.6 L418.5 385.6 L417.5 385.6 L416.5 385.6 L415.5 385.6 L414.5 385.7 L413.5 385.7 L412.5 385.7 L411.5 385.7 L410.5 385.7 L409.5 385.7Z" fill="url(#g8)"/>
<path d="M409.5 385.1 L410.5 385.1 L411.5 385.1 L412.5 385.1 L413.5 385.1 L414.5 385.1 L415.5 385.1 L416.5 385.1 L417.5 385.1 L418.5 385.1 L419.5 385.1 L420.5 385 L421.5 385 L422.5 385 L423.5 385 L424.5 385 L425.5 385 L426.5 385 L427.5 385 L428.5 385 L429.5 385 L430.5 385 L431.5 384.9 L432.5 384.9 L433.5 384.9 L434.5 384.9 L435.5 384.9 L436.5 384.9 L437.5 384.9 L438.5 384.9 L439.5 384.9 L440.5 384.9 L441.5 384.9 L442.5 384.9 L443.5 384.9 L444.5 384.8 L445.5 384.8 L446.5 384.8 L447.5 384.8 L448.5 384.8 L449.5 384.8 L450.5 384.8 L451.5 384.8 L452.5 384.8 L453.5 384.8 L454.5 384.8 L455.5 384.8 L456.5 384.8 L457.5 384.7 L458.5 384.7 L459.5 384.7 L460.5 384.7 L461.5 384.7 L462.5 384.7 L463.5 384.7 L464.5 384.7 L465.5 384.7 L466.5 384.7 L467.5 384.7 L468.5 384.7 L469.5 384.7 L470.5 384.6 L471.5 384.6 L472.5 384.6 L473.5 384.6 L474.5 384.6 L475.5 384.6 L476.5 384.6 L477.5 384.6 L478.5 384.6 L479.5 384.6 L480.5 384.6 L481.5 384.5 L482.5 384.5 L483.5 384.5 L484.5 384.5 L485.5 384.5 L486.5 384.5 L487.5 384.5 L488.5 384.5 L489.5 384.5 L490.5 384.5 L491.5 384.5 L492.5 384.5 L493.5 384.4 L494.5 384.4 L495.5 384.4 L496.5 384.4 L497.5 384.4 L498.5 384.4 L499.5 384.4 L500.5 384.4 L501.5 384.4 L502.5 384.4 L503.5 384.4 L504.5 384.4 L505.5 384.4 L506.5 384.4 L507.5 384.3 L508.5 384.3 L509.5 384.3 L510.5 384.3 L511.5 384.3 L512.5 384.3 L513.5 384.3 L514.5 384.3 L515.5 384.3 L516.5 384.3 L517.5 384.2 L518.5 384.2 L519.5 384.2 L520.5 384.2 L521.5 384.2 L522.5 384.2 L523.5 384.2 L524.5 384.2 L525.5 384.2 L526.5 384.2 L527.5 384.2 L528.5 384.2 L529.5 384.2 L530.5 384.1 L531.5 384.1 L532.5 384.2 L533.5 384.1 L534.5 384.1 L535.5 384.1 L536.5 384.1 L537.5 384.1 L538.5 384.1 L539.5 384.1 L540.5 384.1 L541.5 384.1 L542.5 384.1 L543.5 384 L544.5 384.1 L545.5 384 L546.5 384 L547.5 384 L548.5 384 L549.5 384 L550.5 384 L551.5 384 L552.5 384 L553.5 383.9 L554.5 383.9 L555.5 383.9 L556.5 383.9 L557.5 383.9 L558.5 383.9 L559.5 383.8 L560.5 383.8 L561.5 383.8 L562.5 383.8 L563.5 383.8 L564.5 383.8 L565.5 383.8 L566.5 383.7 L567.5 383.7 L568.5 383.7 L569.5 383.7 L570.5 383.7 L571.5 383.7 L572.5 383.7 L573.5 383.7 L574.5 383.7 L575.5 383.6 L576.5 383.6 L577.5 383.6 L578.5 383.6 L579.5 383.6 L580.5 383.5 L581.5 383.5 L582.5 383.5 L583.5 383.5 L584.5 383.5 L585.5 383.5 L586.5 383.5 L587.5 383.5 L588.5 383.4 L589.5 383.4 L590.5 383.4 L591.5 383.3 L592.5 383.4 L593.5 383.3 L594.5 383.3 L595.5 383.3 L596.5 383.3 L597.5 383.3 L598.5 383.3 L599.5 383.3 L600.5 383.2 L601.5 383.2 L602.5 383.2 L603.5 383.2 L604.5 383.2 L605.5 383.1 L606.5 383.2 L607.5 383.1 L608.5 383.1 L609.5 383.1 L610.5 383.1 L611.5 383.1 L612.5 383 L613.5 383 L614.5 383 L615.5 383 L616.5 383 L617.5 382.9 L618.5 382.9 L619.5 382.9 L620.5 382.8 L621.5 382.8 L622.5 382.8 L623.5 382.8 L624.5 382.7 L625.5 382.7 L626.5 382.7 L627.5 382.6 L628.5 382.6 L629.5 382.6 L630.5 382.6 L631.5 382.5 L632.5 382.5 L633.5 382.5 L634.5 382.4 L635.5 382.4 L636.5 382.4 L637.5 382.4 L638.5 382.3 L639.5 382.3 L640.5 382.3 L641.5 382.3 L642.5 382.2 L643.5 382.2 L644.5 382.1 L645.5 382.1 L646.5 382.1 L647.5 382.1 L648.5 382.1 L649.5 382 L650.5 382 L651.5 381.9 L652.5 381.9 L653.5 381.9 L654.5 381.9 L655.5 381.8 L656.5 381.9 L657.5 381.8 L658.5 381.8 L659.5 381.7 L660.5 381.7 L661.5 381.7 L662.5 381.6 L663.5 381.6 L664.5 381.6 L665.5 381.6 L666.5 381.6 L667.5 381.5 L668.5 381.5 L669.5 381.5 L670.5 381.5 L671.5 381.4 L672.5 381.4 L673.5 381.4 L674.5 381.4 L675.5 381.3 L676.5 381.3 L677.5 381.3 L678.5 381.3 L679.5 381.3 L680.5 381.3 L681.5 381.2 L682.5 381.2 L683.5 381.2 L684.5 381.1 L685.5 381.1 L686.5 381.1 L687.5 381.1 L688.5 381.1 L689.5 381.1 L690.5 381 L691.5 381 L692.5 380.9 L693.5 380.9 L694.5 380.9 L695.5 380.9 L696.5 380.8 L697.5 380.8 L698.5 380.8 L699.5 380.8 L700.5 380.8 L701.5 380.7 L702.5 380.7 L703.5 380.6 L704.5 380.7 L705.5 380.6 L706.5 380.6 L707.5 380.6 L708.5 380.6 L709.5 380.7 L710.5 380.7 L711.5 380.7 L712.5 380.8 L713.5 380.7 L714.5 380.8 L715.5 380.8 L716.5 380.8 L717.5 380.8 L718.5 380.8 L719.5 380.8 L720.5 380.9 L721.5 380.8 L722.5 380.9 L723.5 381 L724.5 381 L725.5 381 L726.5 381 L727.5 381 L728.5 381 L729.5 381 L730.5 381.1 L731.5 381.1 L732.5 381.1 L733.5 381.1 L734.5 381.1 L735.5 381.2 L736.5 381.2 L737.5 381.2 L738.5 381.2 L739.5 381.2 L740.5 381.3 L741.5 381.3 L742.5 381.3 L743.5 381.3 L744.5 381.4 L745.5 381.4 L746.5 381.4 L747.5 381.4 L748.5 381.4 L749.5 381.4 L750.5 381.5 L751.5 381.4 L752.5 381.4 L753.5 381.4 L754.5 381.4 L755.5 381.4 L756.5 381.4 L757.5 381.5 L758.5 381.4 L759.5 381.4 L760.5 381.4 L761.5 381.4 L762.5 381.4 L763.5 381.4 L764.5 381.4 L765.5 381.4 L766.5 381.4 L767.5 381.4 L768.5 381.4 L769.5 381.4 L770.5 381.4 L771.5 381.4 L772.5 381.4 L773.5 381.5 L774.5 381.4 L775.5 381.4 L776.5 381.4 L777.5 381.4 L778.5 381.4 L779.5 381.4 L780.5 381.4 L781.5 381.4 L782.5 381.4 L783.5 381.4 L784.5 381.4 L785.5 381.4 L786.5 381.4 L787.5 381.4 L788.5 381.4 L789.5 381.4 L790.5 381.4 L791.5 381.4 L792.5 381.4 L793.5 381.4 L794.5 381.4 L795.5 381.4 L796.5 381.4 L797.5 381.4 L798.5 381.4 L799.5 381.4 L800.5 381.4 L801.5 381.3 L802.5 381.2 L803.5 381 L804.5 380.9 L805.5 380.8 L806.5 380.7 L807.5 380.6 L808.5 380.5 L809.5 380.4 L810.5 380.3 L811.5 380.1 L812.5 380.1 L813.5 380 L814.5 379.9 L815.5 379.9 L816.5 379.9 L817.5 379.8 L818.5 379.9 L819.5 379.9 L820.5 379.9 L821.5 379.9 L822.5 379.9 L823.5 379.9 L824.5 379.9 L825.5 379.9 L826.5 379.8 L827.5 379.9 L828.5 379.9 L829.5 379.9 L830.5 379.9 L831.5 379.9 L832.5 379.9 L833.5 379.9 L834.5 379.9 L835.5 379.9 L836.5 379.9 L837.5 380 L838.5 380.1 L839.5 380.2 L840.5 380.3 L841.5 380.4 L842.5 380.4 L843.5 380.6 L844.5 380.6 L845.5 380.7 L846.5 380.8 L847.5 380.9 L848.5 381 L849.5 381 L850.5 381.1 L851.5 381.2 L852.5 381.3 L853.5 381.4 L854 381.4" fill="none" stroke="#c56a14" stroke-width="1.6" stroke-linejoin="round"/>
<path d="M422.5 385.6 L423.5 385.6 L424.5 385.6 L425.5 385.6 L426.5 385.6 L427.5 385.5 L428.5 385.5 L429.5 385.5 L430.5 385.5 L431.5 385.5 L432.5 385.5 L433.5 385.5 L434.5 385.5 L435.5 385.5 L436.5 385.5 L437.5 385.5 L438.5 385.4 L439.5 385.4 L440.5 385.4 L441.5 385.4 L442.5 385.4 L443.5 385.4 L444.5 385.4 L445.5 385.4 L446.5 385.4 L447.5 385.4 L448.5 385.4 L449.5 385.3 L450.5 385.3 L451.5 385.3 L452.5 385.3 L453.5 385.3 L454.5 385.3 L455.5 385.3 L456.5 385.3 L457.5 385.3 L458.5 385.3 L459.5 385.2 L460.5 385.2 L461.5 385.2 L462.5 385.2 L463.5 385.2 L464.5 385.2 L465.5 385.2 L466.5 385.2 L467.5 385.2 L468.5 385.2 L469.5 385.2 L470.5 385.1 L471.5 385.1 L472.5 385.1 L473.5 385.1 L474.5 385.1 L475.5 385.1 L476.5 385.1 L477.5 385.1 L478.5 385.1 L479.5 385.1 L480.5 385 L481.5 385 L482.5 385 L483.5 385 L484.5 385 L485.5 385 L486.5 385 L487.5 385 L488.5 385 L489.5 385 L490.5 385 L491.5 384.9 L492.5 384.9 L493.5 384.9 L494.5 384.9 L495.5 384.9 L496.5 384.9 L497.5 384.9 L498.5 384.9 L499.5 384.9 L500.5 384.9 L501.5 384.9 L502.5 384.8 L503.5 384.8 L504.5 384.8 L505.5 384.8 L506.5 384.8 L507.5 384.8 L508.5 384.8 L509.5 384.8 L510.5 384.8 L511.5 384.8 L512.5 384.7 L513.5 384.7 L514.5 384.7 L515.5 384.7 L516.5 384.7 L517.5 384.7 L518.5 384.7 L519.5 384.7 L520.5 384.7 L521.5 384.7 L522.5 384.7 L523.5 384.7 L524.5 384.6 L525.5 384.6 L526.5 384.6 L527.5 384.6 L528.5 384.6 L529.5 384.6 L530.5 384.6 L531.5 384.6 L532.5 384.6 L533.5 384.6 L534.5 384.6 L535.5 384.5 L536.5 384.5 L537.5 384.5 L538.5 384.5 L539.5 384.5 L540.5 384.5 L541.5 384.5 L542.5 384.5 L543.5 384.5 L544.5 384.5 L545.5 384.4 L546.5 384.5 L547.5 384.4 L548.5 384.4 L549.5 384.4 L550.5 384.4 L551.5 384.4 L552.5 384.4 L553.5 384.4 L554.5 384.4 L555.5 384.4 L556.5 384.3 L557.5 384.3 L558.5 384.3 L559.5 384.3 L560.5 384.3 L561.5 384.3 L562.5 384.3 L563.5 384.3 L564.5 384.3 L565.5 384.2 L566.5 384.2 L567.5 384.2 L568.5 384.2 L569.5 384.2 L570.5 384.2 L571.5 384.2 L572.5 384.2 L573.5 384.2 L574.5 384.2 L575.5 384.2 L576.5 384.1 L577.5 384.1 L578.5 384.1 L579.5 384.1 L580.5 384.1 L581.5 384.1 L582.5 384.1 L583.5 384 L584.5 384 L585.5 384 L586.5 384 L587.5 384 L588.5 384 L589.5 384 L590.5 384 L591.5 383.9 L592.5 383.9 L593.5 383.9 L594.5 383.9 L595.5 383.9 L596.5 383.9 L597.5 383.9 L598.5 383.9 L599.5 383.9 L600.5 383.9 L601.5 383.8 L602.5 383.8 L603.5 383.8 L604.5 383.8 L605.5 383.8 L606.5 383.8 L607.5 383.8 L608.5 383.8 L609.5 383.8 L610.5 383.8 L611.5 383.8 L612.5 383.7 L613.5 383.7 L614.5 383.7 L615.5 383.7 L616.5 383.7 L617.5 383.7 L618.5 383.6 L619.5 383.6 L620.5 383.6 L621.5 383.6 L622.5 383.6 L623.5 383.6 L624.5 383.5 L625.5 383.6 L626.5 383.5 L627.5 383.5 L628.5 383.5 L629.5 383.5 L630.5 383.5 L631.5 383.4 L632.5 383.4 L633.5 383.4 L634.5 383.4 L635.5 383.4 L636.5 383.4 L637.5 383.3 L638.5 383.3 L639.5 383.3 L640.5 383.3 L641.5 383.2 L642.5 383.2 L643.5 383.2 L644.5 383.2 L645.5 383.2 L646.5 383.1 L647.5 383.1 L648.5 383.1 L649.5 383.1 L650.5 383.1 L651.5 383 L652.5 383 L653.5 383 L654.5 383 L655.5 383 L656.5 383 L657.5 383 L658.5 383 L659.5 382.9 L660.5 382.9 L661.5 383 L662.5 382.9 L663.5 382.9 L664.5 383 L665.5 383 L666.5 383 L667.5 383 L668.5 383 L669.5 383.1 L670.5 383.1 L671.5 383.1 L672.5 383.1 L673.5 383.1 L674.5 383.1 L675.5 383.1 L676.5 383.1 L677.5 383.2 L678.5 383.2 L679.5 383.2 L680.5 383.2 L681.5 383.2 L682.5 383.2 L683.5 383.3 L684.5 383.3 L685.5 383.3 L686.5 383.2 L687.5 383.1 L688.5 383 L689.5 383 L690.5 382.8 L691.5 382.8 L692.5 382.7 L693.5 382.6 L694.5 382.5 L695.5 382.4 L696.5 382.3 L697.5 382.3 L698.5 382.1 L699.5 382.1 L700.5 382 L701.5 381.8 L702.5 381.8 L703.5 381.7 L704.5 381.6 L705.5 381.5 L706.5 381.5 L707.5 381.4 L708.5 381.4 L709.5 381.5 L710.5 381.5 L711.5 381.6 L712.5 381.6 L713.5 381.6 L714.5 381.6 L715.5 381.7 L716.5 381.7 L717.5 381.7 L718.5 381.8 L719.5 381.8 L720.5 381.8 L721.5 381.8 L722.5 381.8 L723.5 381.9 L724.5 381.9 L725.5 381.9 L726.5 382 L727.5 382 L728.5 382 L729.5 382.1 L730.5 382.1 L731.5 382.2 L732.5 382.2 L733.5 382.2 L734.5 382.2 L735.5 382.2 L736.5 382.3 L737.5 382.3 L738.5 382.3 L739.5 382.4 L740.5 382.4 L741.5 382.4 L742.5 382.5 L743.5 382.5 L744.5 382.5 L745.5 382.6 L746.5 382.6 L747.5 382.6 L748.5 382.6 L749.5 382.6 L750.5 382.7 L751.5 382.7 L752.5 382.7 L753.5 382.7 L754.5 382.7 L755.5 382.7 L756.5 382.8 L757.5 382.8 L758.5 382.8 L759.5 382.8 L760.5 382.8 L761.5 382.9 L762.5 382.9 L763.5 382.9 L764.5 382.9 L765.5 383 L766.5 383 L767.5 383 L768.5 383 L769.5 383 L770.5 383.1 L771.5 383.1 L772.5 383.1 L773.5 383.2 L774.5 383.1 L775.5 383.1 L776.5 383.2 L777.5 383.2 L778.5 383.2 L779.5 383.3 L780.5 383.3 L781.5 383.3 L782.5 383.3 L783.5 383.3 L784.5 383.3 L785.5 383.4 L786.5 383.4 L787.5 383.4 L788.5 383.5 L789.5 383.5 L790.5 383.4 L791.5 383.4 L792.5 383.5 L793.5 383.5 L794.5 383.5 L795.5 383.5 L796.5 383.6 L797.5 383.6 L798.5 383.5 L799.5 383.5 L800.5 383.5 L801.5 383.4 L802.5 383.4 L803.5 383.3 L804.5 383.3 L805.5 383.2 L806.5 383.2 L807.5 383.2 L808.5 383.1 L809.5 383.1 L810.5 383 L811.5 383 L812.5 382.9 L813.5 382.9 L814.5 382.9 L815.5 382.8 L816.5 382.8 L817.5 382.7 L818.5 382.7 L819.5 382.7 L820.5 382.6 L821.5 382.6 L822.5 382.5 L823.5 382.5 L824.5 382.5 L825.5 382.6 L826.5 382.6 L827.5 382.7 L828.5 382.8 L829.5 382.9 L830.5 382.9 L831.5 383 L832.5 383 L833.5 383.1 L834.5 383.2 L835.5 383.2 L836.5 383.3 L837.5 383.3 L838.5 383.4 L839.5 383.4 L840.5 383.5 L841.5 383.6 L842.5 383.6 L843.5 383.7 L844.5 383.7 L845.5 383.8 L846.5 383.9 L847.5 383.9 L848.5 384 L849.5 384 L850.5 384.1 L851.5 384.1 L852.5 384.2 L853.5 384.3 L854 384.3 L854 386.4 L853.5 386.4 L852.5 386.4 L851.5 386.4 L850.5 386.4 L849.5 386.4 L848.5 386.4 L847.5 386.4 L846.5 386.4 L845.5 386.4 L844.5 386.4 L843.5 386.4 L842.5 386.4 L841.5 386.4 L840.5 386.4 L839.5 386.4 L838.5 386.4 L837.5 386.4 L836.5 386.4 L835.5 386.4 L834.5 386.4 L833.5 386.4 L832.5 386.4 L831.5 386.4 L830.5 386.4 L829.5 386.4 L828.5 386.4 L827.5 386.4 L826.5 386.4 L825.5 386.4 L824.5 386.4 L823.5 386.4 L822.5 386.4 L821.5 386.4 L820.5 386.4 L819.5 386.4 L818.5 386.4 L817.5 386.4 L816.5 386.4 L815.5 386.4 L814.5 386.4 L813.5 386.4 L812.5 386.4 L811.5 386.4 L810.5 386.4 L809.5 386.4 L808.5 386.4 L807.5 386.4 L806.5 386.4 L805.5 386.4 L804.5 386.4 L803.5 386.4 L802.5 386.4 L801.5 386.4 L800.5 386.4 L799.5 386.4 L798.5 386.4 L797.5 386.4 L796.5 386.4 L795.5 386.4 L794.5 386.4 L793.5 386.4 L792.5 386.4 L791.5 386.4 L790.5 386.4 L789.5 386.4 L788.5 386.4 L787.5 386.4 L786.5 386.4 L785.5 386.4 L784.5 386.4 L783.5 386.4 L782.5 386.4 L781.5 386.4 L780.5 386.4 L779.5 386.4 L778.5 386.4 L777.5 386.4 L776.5 386.4 L775.5 386.4 L774.5 386.4 L773.5 386.4 L772.5 386.4 L771.5 386.4 L770.5 386.4 L769.5 386.4 L768.5 386.4 L767.5 386.4 L766.5 386.4 L765.5 386.4 L764.5 386.4 L763.5 386.4 L762.5 386.4 L761.5 386.4 L760.5 386.4 L759.5 386.4 L758.5 386.4 L757.5 386.4 L756.5 386.4 L755.5 386.4 L754.5 386.4 L753.5 386.4 L752.5 386.4 L751.5 386.4 L750.5 386.4 L749.5 386.4 L748.5 386.4 L747.5 386.4 L746.5 386.4 L745.5 386.4 L744.5 386.4 L743.5 386.4 L742.5 386.4 L741.5 386.4 L740.5 386.4 L739.5 386.4 L738.5 386.4 L737.5 386.4 L736.5 386.4 L735.5 386.4 L734.5 386.4 L733.5 386.4 L732.5 386.4 L731.5 386.4 L730.5 386.4 L729.5 386.4 L728.5 386.4 L727.5 386.4 L726.5 386.4 L725.5 386.4 L724.5 386.4 L723.5 386.4 L722.5 386.4 L721.5 386.4 L720.5 386.4 L719.5 386.4 L718.5 386.4 L717.5 386.4 L716.5 386.4 L715.5 386.4 L714.5 386.4 L713.5 386.4 L712.5 386.4 L711.5 386.4 L710.5 386.4 L709.5 386.4 L708.5 386.4 L707.5 386.4 L706.5 386.4 L705.5 386.4 L704.5 386.4 L703.5 386.4 L702.5 386.4 L701.5 386.4 L700.5 386.4 L699.5 386.4 L698.5 386.4 L697.5 386.4 L696.5 386.4 L695.5 386.4 L694.5 386.4 L693.5 386.4 L692.5 386.4 L691.5 386.4 L690.5 386.4 L689.5 386.4 L688.5 386.4 L687.5 386.4 L686.5 386.4 L685.5 386.4 L684.5 386.4 L683.5 386.4 L682.5 386.4 L681.5 386.4 L680.5 386.4 L679.5 386.4 L678.5 386.4 L677.5 386.4 L676.5 386.4 L675.5 386.4 L674.5 386.4 L673.5 386.4 L672.5 386.4 L671.5 386.4 L670.5 386.4 L669.5 386.4 L668.5 386.4 L667.5 386.4 L666.5 386.4 L665.5 386.4 L664.5 386.4 L663.5 386.4 L662.5 386.4 L661.5 386.4 L660.5 386.4 L659.5 386.4 L658.5 386.4 L657.5 386.4 L656.5 386.4 L655.5 386.4 L654.5 386.4 L653.5 386.4 L652.5 386.4 L651.5 386.4 L650.5 386.4 L649.5 386.4 L648.5 386.4 L647.5 386.4 L646.5 386.4 L645.5 386.4 L644.5 386.4 L643.5 386.4 L642.5 386.4 L641.5 386.4 L640.5 386.4 L639.5 386.4 L638.5 386.4 L637.5 386.4 L636.5 386.4 L635.5 386.4 L634.5 386.4 L633.5 386.4 L632.5 386.4 L631.5 386.4 L630.5 386.4 L629.5 386.4 L628.5 386.4 L627.5 386.4 L626.5 386.4 L625.5 386.4 L624.5 386.4 L623.5 386.4 L622.5 386.4 L621.5 386.4 L620.5 386.4 L619.5 386.4 L618.5 386.4 L617.5 386.4 L616.5 386.4 L615.5 386.4 L614.5 386.4 L613.5 386.4 L612.5 386.4 L611.5 386.4 L610.5 386.4 L609.5 386.4 L608.5 386.4 L607.5 386.4 L606.5 386.4 L605.5 386.4 L604.5 386.4 L603.5 386.4 L602.5 386.4 L601.5 386.4 L600.5 386.4 L599.5 386.4 L598.5 386.4 L597.5 386.4 L596.5 386.4 L595.5 386.4 L594.5 386.4 L593.5 386.4 L592.5 386.4 L591.5 386.4 L590.5 386.4 L589.5 386.4 L588.5 386.4 L587.5 386.4 L586.5 386.4 L585.5 386.4 L584.5 386.4 L583.5 386.4 L582.5 386.4 L581.5 386.4 L580.5 386.4 L579.5 386.4 L578.5 386.4 L577.5 386.4 L576.5 386.4 L575.5 386.4 L574.5 386.4 L573.5 386.4 L572.5 386.4 L571.5 386.4 L570.5 386.4 L569.5 386.4 L568.5 386.4 L567.5 386.4 L566.5 386.4 L565.5 386.4 L564.5 386.4 L563.5 386.4 L562.5 386.4 L561.5 386.4 L560.5 386.4 L559.5 386.4 L558.5 386.4 L557.5 386.4 L556.5 386.4 L555.5 386.4 L554.5 386.4 L553.5 386.4 L552.5 386.4 L551.5 386.4 L550.5 386.4 L549.5 386.4 L548.5 386.4 L547.5 386.4 L546.5 386.4 L545.5 386.4 L544.5 386.4 L543.5 386.4 L542.5 386.4 L541.5 386.4 L540.5 386.4 L539.5 386.4 L538.5 386.4 L537.5 386.4 L536.5 386.4 L535.5 386.4 L534.5 386.4 L533.5 386.4 L532.5 386.4 L531.5 386.4 L530.5 386.4 L529.5 386.4 L528.5 386.4 L527.5 386.4 L526.5 386.4 L525.5 386.4 L524.5 386.4 L523.5 386.4 L522.5 386.4 L521.5 386.4 L520.5 386.4 L519.5 386.4 L518.5 386.4 L517.5 386.4 L516.5 386.4 L515.5 386.4 L514.5 386.4 L513.5 386.4 L512.5 386.4 L511.5 386.4 L510.5 386.4 L509.5 386.4 L508.5 386.4 L507.5 386.4 L506.5 386.4 L505.5 386.4 L504.5 386.4 L503.5 386.4 L502.5 386.4 L501.5 386.4 L500.5 386.4 L499.5 386.4 L498.5 386.4 L497.5 386.4 L496.5 386.4 L495.5 386.4 L494.5 386.4 L493.5 386.4 L492.5 386.4 L491.5 386.4 L490.5 386.4 L489.5 386.4 L488.5 386.4 L487.5 386.4 L486.5 386.4 L485.5 386.4 L484.5 386.4 L483.5 386.4 L482.5 386.4 L481.5 386.4 L480.5 386.4 L479.5 386.4 L478.5 386.4 L477.5 386.4 L476.5 386.4 L475.5 386.4 L474.5 386.4 L473.5 386.4 L472.5 386.4 L471.5 386.4 L470.5 386.4 L469.5 386.4 L468.5 386.4 L467.5 386.4 L466.5 386.4 L465.5 386.4 L464.5 386.4 L463.5 386.4 L462.5 386.4 L461.5 386.4 L460.5 386.4 L459.5 386.4 L458.5 386.4 L457.5 386.4 L456.5 386.4 L455.5 386.4 L454.5 386.4 L453.5 386.4 L452.5 386.4 L451.5 386.4 L450.5 386.4 L449.5 386.4 L448.5 386.4 L447.5 386.4 L446.5 386.4 L445.5 386.4 L444.5 386.4 L443.5 386.4 L442.5 386.4 L441.5 386.4 L440.5 386.4 L439.5 386.4 L438.5 386.4 L437.5 386.4 L436.5 386.4 L435.5 386.4 L434.5 386.4 L433.5 386.4 L432.5 386.4 L431.5 386.4 L430.5 386.4 L429.5 386.4 L428.5 386.4 L427.5 386.4 L426.5 386.4 L425.5 386.4 L424.5 386.4 L423.5 386.4 L422.5 386.4Z" fill="url(#g9)"/>
<path d="M422.5 385.6 L423.5 385.6 L424.5 385.6 L425.5 385.6 L426.5 385.6 L427.5 385.5 L428.5 385.5 L429.5 385.5 L430.5 385.5 L431.5 385.5 L432.5 385.5 L433.5 385.5 L434.5 385.5 L435.5 385.5 L436.5 385.5 L437.5 385.5 L438.5 385.4 L439.5 385.4 L440.5 385.4 L441.5 385.4 L442.5 385.4 L443.5 385.4 L444.5 385.4 L445.5 385.4 L446.5 385.4 L447.5 385.4 L448.5 385.4 L449.5 385.3 L450.5 385.3 L451.5 385.3 L452.5 385.3 L453.5 385.3 L454.5 385.3 L455.5 385.3 L456.5 385.3 L457.5 385.3 L458.5 385.3 L459.5 385.2 L460.5 385.2 L461.5 385.2 L462.5 385.2 L463.5 385.2 L464.5 385.2 L465.5 385.2 L466.5 385.2 L467.5 385.2 L468.5 385.2 L469.5 385.2 L470.5 385.1 L471.5 385.1 L472.5 385.1 L473.5 385.1 L474.5 385.1 L475.5 385.1 L476.5 385.1 L477.5 385.1 L478.5 385.1 L479.5 385.1 L480.5 385 L481.5 385 L482.5 385 L483.5 385 L484.5 385 L485.5 385 L486.5 385 L487.5 385 L488.5 385 L489.5 385 L490.5 385 L491.5 384.9 L492.5 384.9 L493.5 384.9 L494.5 384.9 L495.5 384.9 L496.5 384.9 L497.5 384.9 L498.5 384.9 L499.5 384.9 L500.5 384.9 L501.5 384.9 L502.5 384.8 L503.5 384.8 L504.5 384.8 L505.5 384.8 L506.5 384.8 L507.5 384.8 L508.5 384.8 L509.5 384.8 L510.5 384.8 L511.5 384.8 L512.5 384.7 L513.5 384.7 L514.5 384.7 L515.5 384.7 L516.5 384.7 L517.5 384.7 L518.5 384.7 L519.5 384.7 L520.5 384.7 L521.5 384.7 L522.5 384.7 L523.5 384.7 L524.5 384.6 L525.5 384.6 L526.5 384.6 L527.5 384.6 L528.5 384.6 L529.5 384.6 L530.5 384.6 L531.5 384.6 L532.5 384.6 L533.5 384.6 L534.5 384.6 L535.5 384.5 L536.5 384.5 L537.5 384.5 L538.5 384.5 L539.5 384.5 L540.5 384.5 L541.5 384.5 L542.5 384.5 L543.5 384.5 L544.5 384.5 L545.5 384.4 L546.5 384.5 L547.5 384.4 L548.5 384.4 L549.5 384.4 L550.5 384.4 L551.5 384.4 L552.5 384.4 L553.5 384.4 L554.5 384.4 L555.5 384.4 L556.5 384.3 L557.5 384.3 L558.5 384.3 L559.5 384.3 L560.5 384.3 L561.5 384.3 L562.5 384.3 L563.5 384.3 L564.5 384.3 L565.5 384.2 L566.5 384.2 L567.5 384.2 L568.5 384.2 L569.5 384.2 L570.5 384.2 L571.5 384.2 L572.5 384.2 L573.5 384.2 L574.5 384.2 L575.5 384.2 L576.5 384.1 L577.5 384.1 L578.5 384.1 L579.5 384.1 L580.5 384.1 L581.5 384.1 L582.5 384.1 L583.5 384 L584.5 384 L585.5 384 L586.5 384 L587.5 384 L588.5 384 L589.5 384 L590.5 384 L591.5 383.9 L592.5 383.9 L593.5 383.9 L594.5 383.9 L595.5 383.9 L596.5 383.9 L597.5 383.9 L598.5 383.9 L599.5 383.9 L600.5 383.9 L601.5 383.8 L602.5 383.8 L603.5 383.8 L604.5 383.8 L605.5 383.8 L606.5 383.8 L607.5 383.8 L608.5 383.8 L609.5 383.8 L610.5 383.8 L611.5 383.8 L612.5 383.7 L613.5 383.7 L614.5 383.7 L615.5 383.7 L616.5 383.7 L617.5 383.7 L618.5 383.6 L619.5 383.6 L620.5 383.6 L621.5 383.6 L622.5 383.6 L623.5 383.6 L624.5 383.5 L625.5 383.6 L626.5 383.5 L627.5 383.5 L628.5 383.5 L629.5 383.5 L630.5 383.5 L631.5 383.4 L632.5 383.4 L633.5 383.4 L634.5 383.4 L635.5 383.4 L636.5 383.4 L637.5 383.3 L638.5 383.3 L639.5 383.3 L640.5 383.3 L641.5 383.2 L642.5 383.2 L643.5 383.2 L644.5 383.2 L645.5 383.2 L646.5 383.1 L647.5 383.1 L648.5 383.1 L649.5 383.1 L650.5 383.1 L651.5 383 L652.5 383 L653.5 383 L654.5 383 L655.5 383 L656.5 383 L657.5 383 L658.5 383 L659.5 382.9 L660.5 382.9 L661.5 383 L662.5 382.9 L663.5 382.9 L664.5 383 L665.5 383 L666.5 383 L667.5 383 L668.5 383 L669.5 383.1 L670.5 383.1 L671.5 383.1 L672.5 383.1 L673.5 383.1 L674.5 383.1 L675.5 383.1 L676.5 383.1 L677.5 383.2 L678.5 383.2 L679.5 383.2 L680.5 383.2 L681.5 383.2 L682.5 383.2 L683.5 383.3 L684.5 383.3 L685.5 383.3 L686.5 383.2 L687.5 383.1 L688.5 383 L689.5 383 L690.5 382.8 L691.5 382.8 L692.5 382.7 L693.5 382.6 L694.5 382.5 L695.5 382.4 L696.5 382.3 L697.5 382.3 L698.5 382.1 L699.5 382.1 L700.5 382 L701.5 381.8 L702.5 381.8 L703.5 381.7 L704.5 381.6 L705.5 381.5 L706.5 381.5 L707.5 381.4 L708.5 381.4 L709.5 381.5 L710.5 381.5 L711.5 381.6 L712.5 381.6 L713.5 381.6 L714.5 381.6 L715.5 381.7 L716.5 381.7 L717.5 381.7 L718.5 381.8 L719.5 381.8 L720.5 381.8 L721.5 381.8 L722.5 381.8 L723.5 381.9 L724.5 381.9 L725.5 381.9 L726.5 382 L727.5 382 L728.5 382 L729.5 382.1 L730.5 382.1 L731.5 382.2 L732.5 382.2 L733.5 382.2 L734.5 382.2 L735.5 382.2 L736.5 382.3 L737.5 382.3 L738.5 382.3 L739.5 382.4 L740.5 382.4 L741.5 382.4 L742.5 382.5 L743.5 382.5 L744.5 382.5 L745.5 382.6 L746.5 382.6 L747.5 382.6 L748.5 382.6 L749.5 382.6 L750.5 382.7 L751.5 382.7 L752.5 382.7 L753.5 382.7 L754.5 382.7 L755.5 382.7 L756.5 382.8 L757.5 382.8 L758.5 382.8 L759.5 382.8 L760.5 382.8 L761.5 382.9 L762.5 382.9 L763.5 382.9 L764.5 382.9 L765.5 383 L766.5 383 L767.5 383 L768.5 383 L769.5 383 L770.5 383.1 L771.5 383.1 L772.5 383.1 L773.5 383.2 L774.5 383.1 L775.5 383.1 L776.5 383.2 L777.5 383.2 L778.5 383.2 L779.5 383.3 L780.5 383.3 L781.5 383.3 L782.5 383.3 L783.5 383.3 L784.5 383.3 L785.5 383.4 L786.5 383.4 L787.5 383.4 L788.5 383.5 L789.5 383.5 L790.5 383.4 L791.5 383.4 L792.5 383.5 L793.5 383.5 L794.5 383.5 L795.5 383.5 L796.5 383.6 L797.5 383.6 L798.5 383.5 L799.5 383.5 L800.5 383.5 L801.5 383.4 L802.5 383.4 L803.5 383.3 L804.5 383.3 L805.5 383.2 L806.5 383.2 L807.5 383.2 L808.5 383.1 L809.5 383.1 L810.5 383 L811.5 383 L812.5 382.9 L813.5 382.9 L814.5 382.9 L815.5 382.8 L816.5 382.8 L817.5 382.7 L818.5 382.7 L819.5 382.7 L820.5 382.6 L821.5 382.6 L822.5 382.5 L823.5 382.5 L824.5 382.5 L825.5 382.6 L826.5 382.6 L827.5 382.7 L828.5 382.8 L829.5 382.9 L830.5 382.9 L831.5 383 L832.5 383 L833.5 383.1 L834.5 383.2 L835.5 383.2 L836.5 383.3 L837.5 383.3 L838.5 383.4 L839.5 383.4 L840.5 383.5 L841.5 383.6 L842.5 383.6 L843.5 383.7 L844.5 383.7 L845.5 383.8 L846.5 383.9 L847.5 383.9 L848.5 384 L849.5 384 L850.5 384.1 L851.5 384.1 L852.5 384.2 L853.5 384.3 L854 384.3" fill="none" stroke="#4e7fb8" stroke-width="1.6" stroke-linejoin="round"/>
<!-- axis labels -->
<text class="yl" x="84.6" y="30" textLength="63.6" lengthAdjust="spacingAndGlyphs">$30.0B</text>
<text class="yl" x="84.6" y="150.2" textLength="63.6" lengthAdjust="spacingAndGlyphs">$20.0B</text>
<text class="yl" x="84.6" y="270.5" textLength="63.8" lengthAdjust="spacingAndGlyphs">$10.0B</text>
<text class="yl" x="84.6" y="392.2" textLength="51" lengthAdjust="spacingAndGlyphs">$0.00</text>
<text class="xl" x="157.9" y="429.2" textLength="65.1" lengthAdjust="spacingAndGlyphs">7/1/23</text>
<text class="xl" x="284.8" y="429.2" textLength="63.9" lengthAdjust="spacingAndGlyphs">1/1/24</text>
<text class="xl" x="407.9" y="429.2" textLength="65.8" lengthAdjust="spacingAndGlyphs">7/1/24</text>
<text class="xl" x="534.8" y="429.2" textLength="63.9" lengthAdjust="spacingAndGlyphs">1/1/25</text>
<text class="xl" x="657.8" y="429.2" textLength="65.3" lengthAdjust="spacingAndGlyphs">7/1/25</text>
<text class="xl" x="784.8" y="429.2" textLength="63.6" lengthAdjust="spacingAndGlyphs">1/1/26</text>
<!-- slider -->
<rect x="554" y="453" width="299.4" height="60.6" fill="#eef3fe"/>
<line x1="106" y1="453" x2="853.4" y2="453" stroke="#d6e0f8" stroke-width="1.2"/><rect x="554" y="453" width="299.4" height="60.6" fill="none" stroke="#dbe4fa" stroke-width="1"/>
<path d="M113 513.1 L280 512.8 L361.9 511 L366.5 508.2 L386.2 508.2 L395.3 509.4 L431.7 508.2 L443.8 505.8 L480.2 506.7 L489.3 508.8 L540 508.8 L554 508.5 L586.7 509.6 L633.3 509.6 L639.2 508 L680 508.7 L703.4 507.5 L730 507.4 L735.9 507 L740.1 509.2 L744.1 506.7 L749.3 505.2 L759.6 505.5 L770 504.5 L775.2 501.5 L781.9 500 L789.3 496.3 L793.7 492.6 L801.1 477 L805.6 474.1 L812.2 471.1 L819.7 460.7 L824.1 459.3 L828.5 461.5 L831.8 463.7 L835.2 460.7 L839.7 460.7 L844.1 466 L850 468.9 L853.4 470 L853.4 513.6 L113 513.6Z" fill="url(#slg)" opacity="0.9"/>
<path d="M113 513.1 L280 512.8 L361.9 511 L366.5 508.2 L386.2 508.2 L395.3 509.4 L431.7 508.2 L443.8 505.8 L480.2 506.7 L489.3 508.8 L540 508.8 L554 508.5 L586.7 509.6 L633.3 509.6 L639.2 508 L680 508.7 L703.4 507.5 L730 507.4 L735.9 507 L740.1 509.2 L744.1 506.7 L749.3 505.2 L759.6 505.5 L770 504.5 L775.2 501.5 L781.9 500 L789.3 496.3 L793.7 492.6 L801.1 477 L805.6 474.1 L812.2 471.1 L819.7 460.7 L824.1 459.3 L828.5 461.5 L831.8 463.7 L835.2 460.7 L839.7 460.7 L844.1 466 L850 468.9 L853.4 470" fill="none" stroke="#94b3f6" stroke-width="1.3"/>
<g stroke="#d3d6de" stroke-width="1.1" opacity="0.85"><line x1="240.3" y1="453" x2="240.3" y2="513.6"/><line x1="440.2" y1="453" x2="440.2" y2="513.6"/><line x1="639.6" y1="453" x2="639.6" y2="513.6"/><line x1="837.4" y1="453" x2="837.4" y2="513.6"/></g>
<text class="sy" x="244.6" y="507.8" textLength="36" lengthAdjust="spacingAndGlyphs">2020</text>
<text class="sy" x="444.5" y="507.8" textLength="36" lengthAdjust="spacingAndGlyphs">2022</text>
<text class="sy" x="643.1" y="507.8" textLength="36.5" lengthAdjust="spacingAndGlyphs">2024</text>
<g fill="#f7f9ff" stroke="#8eaef5" stroke-width="1.3">
<rect x="547.4" y="469.5" width="13.6" height="27.4"/>
<rect x="846" y="469.4" width="13.6" height="27.6"/>
</g>
<g stroke="#8eaef5" stroke-width="1.2"><line x1="552.5" y1="477.2" x2="552.5" y2="488.9"/><line x1="556.1" y1="477.2" x2="556.1" y2="488.9"/><line x1="851.2" y1="477.4" x2="851.2" y2="489"/><line x1="854.5" y1="477.4" x2="854.5" y2="489"/></g>
<!-- legend -->
<circle cx="110" cy="553.7" r="9" fill="#1e3b78"/>
<text x="130.1" y="561.6" class="lg" textLength="145.3" lengthAdjust="spacingAndGlyphs">US Treasury Debt</text>
<circle cx="350" cy="553.7" r="9" fill="#d4a300"/>
<text x="369.9" y="561.6" class="lg" textLength="113.4" lengthAdjust="spacingAndGlyphs">Commodities</text>
<circle cx="590" cy="553.7" r="9" fill="#4a5cf6"/>
<text x="610.2" y="561.6" class="lg" textLength="114.4" lengthAdjust="spacingAndGlyphs">Private Credit</text>
<circle cx="110" cy="581.9" r="9" fill="#5ec8ef"/>
<text x="130.1" y="589.8" class="lg" textLength="170.5" lengthAdjust="spacingAndGlyphs">Institutional Altern…</text>
<circle cx="350" cy="581.9" r="9" fill="#8a2be2"/>
<text x="369.9" y="589.8" class="lg" textLength="144.4" lengthAdjust="spacingAndGlyphs">Corporate Bonds</text>
<circle cx="590" cy="581.9" r="9" fill="#f24e05"/>
<text x="610.1" y="589.8" class="lg" textLength="109.1" lengthAdjust="spacingAndGlyphs">Public Equity</text>
<circle cx="110" cy="610.6" r="9" fill="#b1bfde"/>
<text x="130.1" y="618.5" class="lg" textLength="171.1" lengthAdjust="spacingAndGlyphs">non-US Governme…</text>
<circle cx="350" cy="610.6" r="9" fill="#f5d600"/>
<text x="370.1" y="618.5" class="lg" textLength="115.9" lengthAdjust="spacingAndGlyphs">Private Equity</text>
<circle cx="590" cy="610.6" r="9" fill="#c56a14"/>
<text x="610.1" y="618.5" class="lg" textLength="91.7" lengthAdjust="spacingAndGlyphs">Real Estate</text>
<circle cx="110" cy="638.7" r="9" fill="#4e7fb8"/>
<text x="130.1" y="646.6" class="lg" textLength="168.0" lengthAdjust="spacingAndGlyphs">Actively-Managed…</text>
</svg>
</body></html>
